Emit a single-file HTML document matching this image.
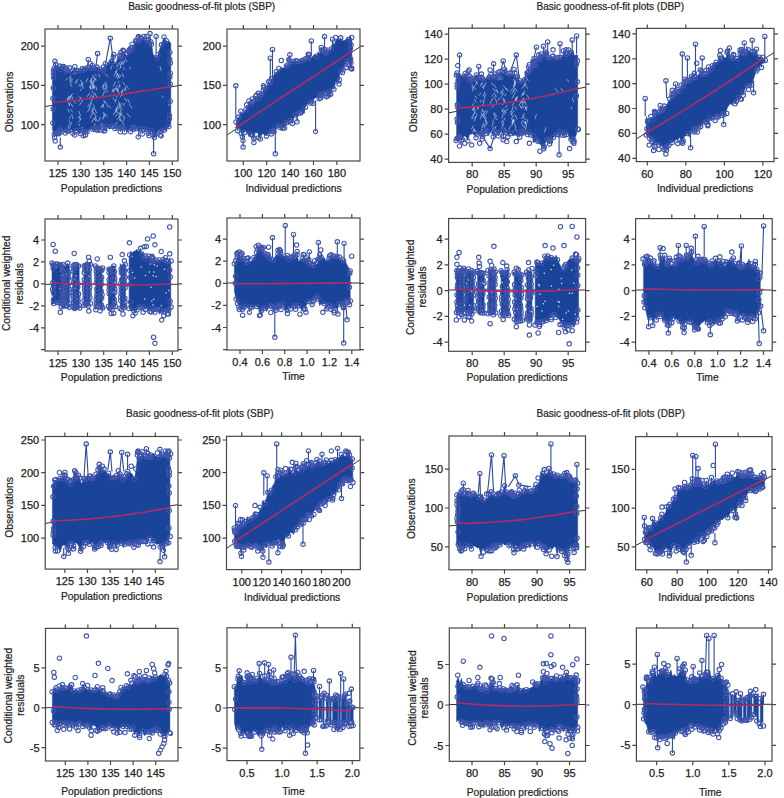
<!DOCTYPE html><html><head><meta charset="utf-8"><style>html,body{margin:0;padding:0;background:#fff;}svg{display:block}</style></head><body><svg width="784" height="798" viewBox="0 0 784 798"><style>.t{font-family:"Liberation Sans",sans-serif;font-size:11px;fill:#222;stroke:#222;stroke-width:0.25px}.a{font-family:"Liberation Sans",sans-serif;font-size:10.3px;fill:#222;stroke:#222;stroke-width:0.2px}</style><rect width="784" height="798" fill="#fff"/><clipPath id="cP1"><rect x="45" y="29" width="133" height="132"/></clipPath><g clip-path="url(#cP1)"><path d="M45,106.5L178,85.8" stroke="#333" stroke-width="1" fill="none"/><path d="M52.4,68.6 L54,67.8 L55.6,64.2 L57.2,66.2 L58.8,65.8 L60.4,69.4 L62,66.5 L63.6,66.2 L65.2,71.8 L66.7,71.5 L68.3,71.9 L69.9,70.9 L71.5,71.6 L73.1,70 L74.7,67 L76.3,71 L77.9,70.8 L79.5,70.5 L81.1,69.7 L82.7,71 L84.3,69.4 L85.9,68.7 L87.5,67.5 L89.1,68.8 L90.7,68 L92.3,65.8 L93.9,68.4 L95.5,66.7 L97.1,67 L98.7,67.3 L100.3,69.2 L101.8,67.5 L103.4,70.3 L105,63.7 L106.6,65.2 L108.2,62.9 L109.8,60.2 L111.4,61.6 L113,57.3 L114.6,63.9 L116.2,62.7 L117.8,57.1 L119.4,59.4 L121,55.3 L122.6,53.8 L124.2,51.1 L125.8,54.9 L127.4,56 L129,54 L129,129.9 L127.4,127.5 L125.8,129.5 L124.2,128.4 L122.6,126.2 L121,128.2 L119.4,128.8 L117.8,128 L116.2,126.6 L114.6,128.4 L113,125.9 L111.4,126 L109.8,129.2 L108.2,128.3 L106.6,126.2 L105,130.7 L103.4,128.8 L101.8,125.2 L100.3,130.1 L98.7,128.2 L97.1,126.8 L95.5,129.3 L93.9,132.1 L92.3,129.4 L90.7,128.7 L89.1,129.8 L87.5,131.5 L85.9,131.5 L84.3,134.3 L82.7,133.5 L81.1,129.7 L79.5,134.1 L77.9,131.7 L76.3,130.7 L74.7,130.6 L73.1,133.6 L71.5,129.2 L69.9,131.5 L68.3,131 L66.7,130.7 L65.2,133 L63.6,130.2 L62,131.7 L60.4,130.1 L58.8,130.4 L57.2,133.3 L55.6,132.9 L54,134 L52.4,129.4Z" fill="#1a449a" stroke="#1a449a" stroke-width="0.5"/><path d="M126.1,55.6 L127.7,54.8 L129.3,51.1 L130.9,50.4 L132.5,48 L134.1,44.7 L135.7,40.7 L137.3,40.8 L138.9,40.6 L140.5,40.8 L142.1,39.6 L143.6,36.5 L145.2,41.1 L146.8,40.1 L148.4,40.9 L150,36.7 L151.6,44.1 L153.2,55 L154.8,55.6 L156.4,58 L158,54.4 L159.6,49.3 L161.2,44.9 L162.8,40.6 L164.4,37.3 L166,40.7 L167.6,41.7 L169.2,41.1 L170.8,43.4 L170.8,123.5 L169.2,126.9 L167.6,127.9 L166,130.5 L164.4,129.9 L162.8,131.7 L161.2,131.5 L159.6,131.6 L158,130.6 L156.4,135.3 L154.8,134.7 L153.2,135.1 L151.6,130.9 L150,132.7 L148.4,133.1 L146.8,130 L145.2,130.1 L143.6,129 L142.1,130.8 L140.5,129.2 L138.9,132.6 L137.3,128.3 L135.7,128.9 L134.1,127.8 L132.5,127.2 L130.9,131.9 L129.3,127.7 L127.7,132.4 L126.1,128.4Z" fill="#1a449a" stroke="#1a449a" stroke-width="0.5"/><path d="M100.9,123.4l1.4,3.1M95,74.4l1.4,1.8M90,86.6l0.8,2.2M123.2,82.6l1.3,2.1M119.3,84.1l0.7,2.9M117,114.4l-1.3,2M104,92.6l-1.8,4.2M120.3,109.5l1.3,4.4M103.4,124.1l1.1,3.1M115.3,112.1l-1.9,2.7M123.2,93.3l-2.6,3.3M117.5,89.8l1.9,3.8M92.9,86l1.2,2.5M95.8,86.6l1.1,3.5M93.8,118.2l2.2,2.9M125.7,87l-1,3.5M114.6,88.5l-2.7,3.5M119.1,86.4l-1.7,3.9M116.1,99.1l-0.9,3M92.1,91l2.5,3.1M71.7,114.4l1.1,4.3M121,120.5l3,3.7M94.5,79.5l-3.1,3.8M123.5,61.1l-2.5,3.6M93.8,112.5l2.3,4.3M119.4,106.6l-0.9,2.2M93.2,105l1.3,1.6M104.8,125l-1.8,3.5M93.8,95l-1,3.8M124.6,117.5l-1.4,3.7M120.8,61.2l1.2,2.8M119.1,74.6l-1.5,4.1M93,83.2l0.8,2.5M127.7,99.1l2,4.2M71.4,95l-1.1,2.4M70.1,84l1.8,2.8M81.9,83.6l1.3,4.6M119,115.3l1.6,4.7M71.1,96.5l-1.9,4.2M104.4,116.7l-1.8,2.8M91.5,80.7l0.8,3M122.5,73.4l1,3.7M67.4,78l-1.6,2.1M116.8,85.6l-1.1,2.8M117.4,107.1l-1,3.7M93.5,77l2.6,3.2M120.6,113.1l0.8,2.3M100.3,117.3l-1.7,4M113.1,97.9l2,2.9M94.9,93.5l1.9,3.5M117.1,69.2l-0.7,2.1M121.2,91.4l1.3,3.9M89.9,108.4l-2.4,3.5M105.3,84.6l1.3,3.5M104.4,83.3l-1,2.3M120.9,75.3l-1.4,2.3M77.4,79.5l-2,2.8M111.7,66.3l-0.8,2.8M95.7,118.4l1.9,2.8M69.7,79.8l1.3,3.6M115.8,124.1l-1.2,1.7M116.5,88.8l0.9,3M71.1,77.7l1.2,2M89.9,106.4l-0.9,2.1M102.8,88.3l2.7,4.1M116.8,88.6l1.1,1.8M119.5,62.6l1.4,4.5M79.3,96.8l2.6,3.8M94.2,107.9l-2.3,4.1M116.3,108.4l0.9,2.3M92.7,97.8l-1.7,4.1M70.1,127l-1.7,3M122,103.2l-2.4,4M95.6,116.5l-0.7,2.5M91.3,83.9l-1.1,4M71,109.5l1.5,2.6M103.1,85.8l1.4,2.9M123.5,67.6l0.9,1.8M125,88.1l1.1,2.3M77.4,80.9l-1.9,2.7M71.3,122.5l-0.8,2.8M119.9,103.2l-2.6,3.5M82.2,101l-2.6,4.1M98.8,74.1l1,2.9M105.6,82.2l1.6,4.6M103,104.6l0.7,2.6M89.9,86.6l1,2.8M105.5,73.9l2.3,2.8M122.6,115.4l1.3,1.9M115.3,81.8l-2,4.6M79.4,116.3l0.8,2M116.5,108.1l-1.3,4M118.2,63.7l-0.9,3.3M71.3,104.1l1.4,2.6M117.6,73.8l1.2,3.7M69.3,124.9l-1.2,2.5M78.2,117l2,2.5M67.7,109l1.8,3.2M123,89.4l-0.7,2.4M69.2,96.3l-1.7,2.1M82.7,127.1l-1.1,2.1M119.8,113.6l0.7,2.4M73.3,100.3l2.1,2.9M124.6,60.8l-1.4,3.7M80.3,80l2.5,3.9M106.5,103.3l1.5,3.7M96,79.3l-2.9,3.7M117.1,74.3l-1.3,2.9M122.6,57.2l-1,1.8M104.4,114.8l-1.5,2.8M92.2,75l3,3.7M70.8,75.9l-1.3,2M72.6,93.8l-2.7,3.6M120.6,66.4l-0.7,2.5M81.6,88.8l-1.3,1.9M92,86l0.8,2.9M104.5,113.1l2.8,3.8M70.2,116.7l-0.8,1.9M69.3,120.9l0.7,2.2M70.2,102.4l-0.7,2.8M127,113.5l3.1,3.8M105.6,101.3l-1.5,1.9M93.4,107.3l-1.1,1.9M116.1,71.3l-2,4.3M69.4,97.4l-1.5,3.3M95.3,123.5l-0.9,2.2M112.6,89.2l1.2,3.5M124.3,103.3l-0.8,2.6M123,90.4l-1.5,2.4M92.1,110.4l1.2,3.6M117.4,121.8l-3.1,3.9M80.1,84.2l-1.4,2M103,105.8l-1.4,1.8M125.2,58.8l1.7,2.7M103.1,104.3l-2,2.5M119.9,106.4l2.2,3M93.1,96.3l-1.8,2.3M91.9,113.8l-1.5,3.9M119.3,116.7l-2.2,2.8M116.1,110.8l1.9,2.5M82.6,82.9l-2,3.8M81,118.8l-1.8,2.8M68.3,102.6l1.1,3M89.5,93.1l-2.3,3.6M115.2,88.7l-0.9,2M118.6,101.6l1.2,3.8M103.8,100.5l1.2,2.4M87.8,78.2l-1.9,3.9M94.6,108.8l2,4M103.1,112.5l1.6,3.6M94,85.8l-1.5,2.9M105.7,88.3l1.8,3.5M119.1,119.1l1.5,2M69.9,78.6l2.1,3M90.4,103l-2.5,3.1M103.7,85.6l-1.4,1.9M92.3,77.6l-2.4,4.1M78.9,111.4l1.6,4.4M91.4,94.6l-1.7,4.3M93.6,118.8l-1.5,3.1M91.6,79l-1.2,3.6M114.8,94.1l2.2,3M109.1,105.9l1.3,2.2M73.9,72.6l1.2,1.7M78.4,123.8l1.1,1.8M115.9,71.4l1.8,3.6M93.9,85.9l0.8,2M126.3,85.6l2.1,2.8M118.6,112l1.6,2.5M91.6,102.8l-1.6,3.5M119.1,81.1l-1.2,1.6M124.6,98l2,3.4M81.1,97.5l-2.2,3.7M73,97.2l-0.9,2.1M92.5,84l0.8,2.8M68.3,97.8l-1.8,3.5M170.7,51.3l1,3.1M160,66.5l1.2,4.3M161.8,95.8l1.3,1.6M129.5,104.5l2.5,3.7M169.8,104l-1.4,1.7M150.7,42l-1.1,4.3M129.6,66.9l1.1,2" stroke="#e4e8f6" stroke-width="0.9" stroke-linecap="round" fill="none" opacity="0.6"/><path d="M80.4,133.5L81.1,128.2M69.6,67.8L69.9,72.4M85.5,134.9L85.9,130M82.4,68.5L82.7,72.5M59.9,66.1L60.4,70.9M104,131L103.4,127.3M66,69.4L66.7,73M83.4,135.7L82.7,132M129.4,49.8L129,55.5M113.8,54.5L113,58.8M66.2,68L66.7,73M124.6,131.9L124.2,126.9M103.5,67L103.4,71.8M54.6,137.5L54,132.5M120.3,131.8L121,126.7M54.9,61.3L55.6,65.7M97.3,130.3L97.1,125.3M120.9,52.6L121,56.8M58.8,133.7L58.8,128.9M119.4,55.6L119.4,60.9M59.2,133L58.8,128.9M74.7,135L74.7,129.1M90.3,63.7L90.7,69.5M142.3,134L142.1,129.3M132,44.2L132.5,49.5M149,135.5L148.4,131.6M138.1,37.9L138.9,42.1M154.3,137.5L154.8,133.2M150,33.6L150,38.2M133.1,129.4L132.5,125.7M160.1,135L159.6,130.1M130.7,47.9L130.9,51.9M138.2,136.9L138.9,131.1M141,38.4L140.5,42.3M140.4,37.2L140.5,42.3M150.8,41.7L151.6,45.6M110.3,38.3L104.4,69.7M110.3,38.3L112.9,57.8M97.6,53.6L95.9,66.3M88.3,59.5L87.4,69.7M156.1,36.6L156.1,53.6M146.8,36.6L146.8,46M60.3,146.9L60.3,137.6M153.6,153.7L153.6,134.2" stroke="#2a48a6" stroke-width="1.1" fill="none"/><path d="M51.9,68a2.2,2.2 0 1,0 4.4,0a2.2,2.2 0 1,0 -4.4,0M53.5,64.4a2.2,2.2 0 1,0 4.4,0a2.2,2.2 0 1,0 -4.4,0M57.9,69.5a2.2,2.2 0 1,0 4.4,0a2.2,2.2 0 1,0 -4.4,0M60,66.8a2.2,2.2 0 1,0 4.4,0a2.2,2.2 0 1,0 -4.4,0M61.3,66.5a2.2,2.2 0 1,0 4.4,0a2.2,2.2 0 1,0 -4.4,0M64.2,71.3a2.2,2.2 0 1,0 4.4,0a2.2,2.2 0 1,0 -4.4,0M69.6,71.9a2.2,2.2 0 1,0 4.4,0a2.2,2.2 0 1,0 -4.4,0M72.6,66.7a2.2,2.2 0 1,0 4.4,0a2.2,2.2 0 1,0 -4.4,0M74.5,71.1a2.2,2.2 0 1,0 4.4,0a2.2,2.2 0 1,0 -4.4,0M76.1,70.8a2.2,2.2 0 1,0 4.4,0a2.2,2.2 0 1,0 -4.4,0M80.3,70.8a2.2,2.2 0 1,0 4.4,0a2.2,2.2 0 1,0 -4.4,0M82.2,69.3a2.2,2.2 0 1,0 4.4,0a2.2,2.2 0 1,0 -4.4,0M83.4,69a2.2,2.2 0 1,0 4.4,0a2.2,2.2 0 1,0 -4.4,0M85.3,67.5a2.2,2.2 0 1,0 4.4,0a2.2,2.2 0 1,0 -4.4,0M88.8,68a2.2,2.2 0 1,0 4.4,0a2.2,2.2 0 1,0 -4.4,0M90.1,65.5a2.2,2.2 0 1,0 4.4,0a2.2,2.2 0 1,0 -4.4,0M91.4,68.1a2.2,2.2 0 1,0 4.4,0a2.2,2.2 0 1,0 -4.4,0M94.8,67.1a2.2,2.2 0 1,0 4.4,0a2.2,2.2 0 1,0 -4.4,0M98.1,69.2a2.2,2.2 0 1,0 4.4,0a2.2,2.2 0 1,0 -4.4,0M101.3,70.2a2.2,2.2 0 1,0 4.4,0a2.2,2.2 0 1,0 -4.4,0M103.1,63.7a2.2,2.2 0 1,0 4.4,0a2.2,2.2 0 1,0 -4.4,0M109.3,61.6a2.2,2.2 0 1,0 4.4,0a2.2,2.2 0 1,0 -4.4,0M111,57.3a2.2,2.2 0 1,0 4.4,0a2.2,2.2 0 1,0 -4.4,0M112.4,64.2a2.2,2.2 0 1,0 4.4,0a2.2,2.2 0 1,0 -4.4,0M118.8,55.6a2.2,2.2 0 1,0 4.4,0a2.2,2.2 0 1,0 -4.4,0M121.7,51.1a2.2,2.2 0 1,0 4.4,0a2.2,2.2 0 1,0 -4.4,0M123.4,54.6a2.2,2.2 0 1,0 4.4,0a2.2,2.2 0 1,0 -4.4,0M52,134.1a2.2,2.2 0 1,0 4.4,0a2.2,2.2 0 1,0 -4.4,0M53.7,133.2a2.2,2.2 0 1,0 4.4,0a2.2,2.2 0 1,0 -4.4,0M55.3,133.2a2.2,2.2 0 1,0 4.4,0a2.2,2.2 0 1,0 -4.4,0M57,130.6a2.2,2.2 0 1,0 4.4,0a2.2,2.2 0 1,0 -4.4,0M58.1,130.1a2.2,2.2 0 1,0 4.4,0a2.2,2.2 0 1,0 -4.4,0M59.5,131.6a2.2,2.2 0 1,0 4.4,0a2.2,2.2 0 1,0 -4.4,0M63,133a2.2,2.2 0 1,0 4.4,0a2.2,2.2 0 1,0 -4.4,0M64.4,130.7a2.2,2.2 0 1,0 4.4,0a2.2,2.2 0 1,0 -4.4,0M65.8,131.3a2.2,2.2 0 1,0 4.4,0a2.2,2.2 0 1,0 -4.4,0M70.7,133.3a2.2,2.2 0 1,0 4.4,0a2.2,2.2 0 1,0 -4.4,0M73.8,130.6a2.2,2.2 0 1,0 4.4,0a2.2,2.2 0 1,0 -4.4,0M78.6,130a2.2,2.2 0 1,0 4.4,0a2.2,2.2 0 1,0 -4.4,0M83.3,131.6a2.2,2.2 0 1,0 4.4,0a2.2,2.2 0 1,0 -4.4,0M84.9,131.8a2.2,2.2 0 1,0 4.4,0a2.2,2.2 0 1,0 -4.4,0M90.4,129.1a2.2,2.2 0 1,0 4.4,0a2.2,2.2 0 1,0 -4.4,0M93.1,129.4a2.2,2.2 0 1,0 4.4,0a2.2,2.2 0 1,0 -4.4,0M96.2,128.2a2.2,2.2 0 1,0 4.4,0a2.2,2.2 0 1,0 -4.4,0M97.7,129.9a2.2,2.2 0 1,0 4.4,0a2.2,2.2 0 1,0 -4.4,0M99.4,125.1a2.2,2.2 0 1,0 4.4,0a2.2,2.2 0 1,0 -4.4,0M101.5,128.6a2.2,2.2 0 1,0 4.4,0a2.2,2.2 0 1,0 -4.4,0M102.6,130.6a2.2,2.2 0 1,0 4.4,0a2.2,2.2 0 1,0 -4.4,0M104.2,126a2.2,2.2 0 1,0 4.4,0a2.2,2.2 0 1,0 -4.4,0M109.2,126.2a2.2,2.2 0 1,0 4.4,0a2.2,2.2 0 1,0 -4.4,0M111.1,125.9a2.2,2.2 0 1,0 4.4,0a2.2,2.2 0 1,0 -4.4,0M112.7,128.4a2.2,2.2 0 1,0 4.4,0a2.2,2.2 0 1,0 -4.4,0M114.2,126.9a2.2,2.2 0 1,0 4.4,0a2.2,2.2 0 1,0 -4.4,0M115.9,128.1a2.2,2.2 0 1,0 4.4,0a2.2,2.2 0 1,0 -4.4,0M118.7,127.9a2.2,2.2 0 1,0 4.4,0a2.2,2.2 0 1,0 -4.4,0M120,126.4a2.2,2.2 0 1,0 4.4,0a2.2,2.2 0 1,0 -4.4,0M121.7,128.1a2.2,2.2 0 1,0 4.4,0a2.2,2.2 0 1,0 -4.4,0M78.2,133.5a2.2,2.2 0 1,0 4.4,0a2.2,2.2 0 1,0 -4.4,0M67.4,67.8a2.2,2.2 0 1,0 4.4,0a2.2,2.2 0 1,0 -4.4,0M83.3,134.9a2.2,2.2 0 1,0 4.4,0a2.2,2.2 0 1,0 -4.4,0M80.2,68.5a2.2,2.2 0 1,0 4.4,0a2.2,2.2 0 1,0 -4.4,0M57.7,66.1a2.2,2.2 0 1,0 4.4,0a2.2,2.2 0 1,0 -4.4,0M101.8,131a2.2,2.2 0 1,0 4.4,0a2.2,2.2 0 1,0 -4.4,0M63.8,69.4a2.2,2.2 0 1,0 4.4,0a2.2,2.2 0 1,0 -4.4,0M81.2,135.7a2.2,2.2 0 1,0 4.4,0a2.2,2.2 0 1,0 -4.4,0M127.2,49.8a2.2,2.2 0 1,0 4.4,0a2.2,2.2 0 1,0 -4.4,0M111.6,54.5a2.2,2.2 0 1,0 4.4,0a2.2,2.2 0 1,0 -4.4,0M64,68a2.2,2.2 0 1,0 4.4,0a2.2,2.2 0 1,0 -4.4,0M122.4,131.9a2.2,2.2 0 1,0 4.4,0a2.2,2.2 0 1,0 -4.4,0M101.3,67a2.2,2.2 0 1,0 4.4,0a2.2,2.2 0 1,0 -4.4,0M52.4,137.5a2.2,2.2 0 1,0 4.4,0a2.2,2.2 0 1,0 -4.4,0M118.1,131.8a2.2,2.2 0 1,0 4.4,0a2.2,2.2 0 1,0 -4.4,0M52.7,61.3a2.2,2.2 0 1,0 4.4,0a2.2,2.2 0 1,0 -4.4,0M95.1,130.3a2.2,2.2 0 1,0 4.4,0a2.2,2.2 0 1,0 -4.4,0M118.7,52.6a2.2,2.2 0 1,0 4.4,0a2.2,2.2 0 1,0 -4.4,0M56.6,133.7a2.2,2.2 0 1,0 4.4,0a2.2,2.2 0 1,0 -4.4,0M117.2,55.6a2.2,2.2 0 1,0 4.4,0a2.2,2.2 0 1,0 -4.4,0M57,133a2.2,2.2 0 1,0 4.4,0a2.2,2.2 0 1,0 -4.4,0M72.5,135a2.2,2.2 0 1,0 4.4,0a2.2,2.2 0 1,0 -4.4,0M88.1,63.7a2.2,2.2 0 1,0 4.4,0a2.2,2.2 0 1,0 -4.4,0M51.2,70.6a2.2,2.2 0 1,0 4.4,0a2.2,2.2 0 1,0 -4.4,0M51.2,74.1a2.2,2.2 0 1,0 4.4,0a2.2,2.2 0 1,0 -4.4,0M51.3,77.6a2.2,2.2 0 1,0 4.4,0a2.2,2.2 0 1,0 -4.4,0M51.1,88.1a2.2,2.2 0 1,0 4.4,0a2.2,2.2 0 1,0 -4.4,0M50.7,98.6a2.2,2.2 0 1,0 4.4,0a2.2,2.2 0 1,0 -4.4,0M51,109.1a2.2,2.2 0 1,0 4.4,0a2.2,2.2 0 1,0 -4.4,0M50.6,123.1a2.2,2.2 0 1,0 4.4,0a2.2,2.2 0 1,0 -4.4,0M127,51.1a2.2,2.2 0 1,0 4.4,0a2.2,2.2 0 1,0 -4.4,0M128.6,50.2a2.2,2.2 0 1,0 4.4,0a2.2,2.2 0 1,0 -4.4,0M130.3,47.9a2.2,2.2 0 1,0 4.4,0a2.2,2.2 0 1,0 -4.4,0M133.5,40.5a2.2,2.2 0 1,0 4.4,0a2.2,2.2 0 1,0 -4.4,0M134.7,41a2.2,2.2 0 1,0 4.4,0a2.2,2.2 0 1,0 -4.4,0M136.7,40.5a2.2,2.2 0 1,0 4.4,0a2.2,2.2 0 1,0 -4.4,0M141.8,36.5a2.2,2.2 0 1,0 4.4,0a2.2,2.2 0 1,0 -4.4,0M144.6,39.9a2.2,2.2 0 1,0 4.4,0a2.2,2.2 0 1,0 -4.4,0M145.9,40.7a2.2,2.2 0 1,0 4.4,0a2.2,2.2 0 1,0 -4.4,0M149.2,44.3a2.2,2.2 0 1,0 4.4,0a2.2,2.2 0 1,0 -4.4,0M154.6,57.9a2.2,2.2 0 1,0 4.4,0a2.2,2.2 0 1,0 -4.4,0M155.8,54.4a2.2,2.2 0 1,0 4.4,0a2.2,2.2 0 1,0 -4.4,0M159.3,44.8a2.2,2.2 0 1,0 4.4,0a2.2,2.2 0 1,0 -4.4,0M161.8,37a2.2,2.2 0 1,0 4.4,0a2.2,2.2 0 1,0 -4.4,0M164,40.7a2.2,2.2 0 1,0 4.4,0a2.2,2.2 0 1,0 -4.4,0M128.5,131.7a2.2,2.2 0 1,0 4.4,0a2.2,2.2 0 1,0 -4.4,0M130.6,127.2a2.2,2.2 0 1,0 4.4,0a2.2,2.2 0 1,0 -4.4,0M132.2,127.8a2.2,2.2 0 1,0 4.4,0a2.2,2.2 0 1,0 -4.4,0M133.6,128.7a2.2,2.2 0 1,0 4.4,0a2.2,2.2 0 1,0 -4.4,0M138.3,128.9a2.2,2.2 0 1,0 4.4,0a2.2,2.2 0 1,0 -4.4,0M141.5,129.2a2.2,2.2 0 1,0 4.4,0a2.2,2.2 0 1,0 -4.4,0M144.3,129.9a2.2,2.2 0 1,0 4.4,0a2.2,2.2 0 1,0 -4.4,0M146,133.3a2.2,2.2 0 1,0 4.4,0a2.2,2.2 0 1,0 -4.4,0M149.6,130.9a2.2,2.2 0 1,0 4.4,0a2.2,2.2 0 1,0 -4.4,0M150.9,135.1a2.2,2.2 0 1,0 4.4,0a2.2,2.2 0 1,0 -4.4,0M152.6,134.9a2.2,2.2 0 1,0 4.4,0a2.2,2.2 0 1,0 -4.4,0M157.7,131.7a2.2,2.2 0 1,0 4.4,0a2.2,2.2 0 1,0 -4.4,0M159.3,131.2a2.2,2.2 0 1,0 4.4,0a2.2,2.2 0 1,0 -4.4,0M162.4,130.1a2.2,2.2 0 1,0 4.4,0a2.2,2.2 0 1,0 -4.4,0M166.6,126.6a2.2,2.2 0 1,0 4.4,0a2.2,2.2 0 1,0 -4.4,0M140.1,134a2.2,2.2 0 1,0 4.4,0a2.2,2.2 0 1,0 -4.4,0M129.8,44.2a2.2,2.2 0 1,0 4.4,0a2.2,2.2 0 1,0 -4.4,0M146.8,135.5a2.2,2.2 0 1,0 4.4,0a2.2,2.2 0 1,0 -4.4,0M135.9,37.9a2.2,2.2 0 1,0 4.4,0a2.2,2.2 0 1,0 -4.4,0M152.1,137.5a2.2,2.2 0 1,0 4.4,0a2.2,2.2 0 1,0 -4.4,0M147.8,33.6a2.2,2.2 0 1,0 4.4,0a2.2,2.2 0 1,0 -4.4,0M130.9,129.4a2.2,2.2 0 1,0 4.4,0a2.2,2.2 0 1,0 -4.4,0M157.9,135a2.2,2.2 0 1,0 4.4,0a2.2,2.2 0 1,0 -4.4,0M128.5,47.9a2.2,2.2 0 1,0 4.4,0a2.2,2.2 0 1,0 -4.4,0M136,136.9a2.2,2.2 0 1,0 4.4,0a2.2,2.2 0 1,0 -4.4,0M138.8,38.4a2.2,2.2 0 1,0 4.4,0a2.2,2.2 0 1,0 -4.4,0M138.2,37.2a2.2,2.2 0 1,0 4.4,0a2.2,2.2 0 1,0 -4.4,0M148.6,41.7a2.2,2.2 0 1,0 4.4,0a2.2,2.2 0 1,0 -4.4,0M167.8,52.4a2.2,2.2 0 1,0 4.4,0a2.2,2.2 0 1,0 -4.4,0M167.6,59.4a2.2,2.2 0 1,0 4.4,0a2.2,2.2 0 1,0 -4.4,0M168.1,62.9a2.2,2.2 0 1,0 4.4,0a2.2,2.2 0 1,0 -4.4,0M168.2,73.4a2.2,2.2 0 1,0 4.4,0a2.2,2.2 0 1,0 -4.4,0M167.6,76.9a2.2,2.2 0 1,0 4.4,0a2.2,2.2 0 1,0 -4.4,0M168,83.9a2.2,2.2 0 1,0 4.4,0a2.2,2.2 0 1,0 -4.4,0M168.2,101.4a2.2,2.2 0 1,0 4.4,0a2.2,2.2 0 1,0 -4.4,0M167.3,115.4a2.2,2.2 0 1,0 4.4,0a2.2,2.2 0 1,0 -4.4,0M167.3,118.9a2.2,2.2 0 1,0 4.4,0a2.2,2.2 0 1,0 -4.4,0M108.1,38.3a2.2,2.2 0 1,0 4.4,0a2.2,2.2 0 1,0 -4.4,0M95.4,53.6a2.2,2.2 0 1,0 4.4,0a2.2,2.2 0 1,0 -4.4,0M86.1,59.5a2.2,2.2 0 1,0 4.4,0a2.2,2.2 0 1,0 -4.4,0M153.9,36.6a2.2,2.2 0 1,0 4.4,0a2.2,2.2 0 1,0 -4.4,0M144.6,36.6a2.2,2.2 0 1,0 4.4,0a2.2,2.2 0 1,0 -4.4,0M136.1,36.6a2.2,2.2 0 1,0 4.4,0a2.2,2.2 0 1,0 -4.4,0M58.1,146.9a2.2,2.2 0 1,0 4.4,0a2.2,2.2 0 1,0 -4.4,0M151.4,153.7a2.2,2.2 0 1,0 4.4,0a2.2,2.2 0 1,0 -4.4,0M53,141a2.2,2.2 0 1,0 4.4,0a2.2,2.2 0 1,0 -4.4,0M159,135.9a2.2,2.2 0 1,0 4.4,0a2.2,2.2 0 1,0 -4.4,0M120.8,50.2a2.2,2.2 0 1,0 4.4,0a2.2,2.2 0 1,0 -4.4,0M95.4,53.6a2.2,2.2 0 1,0 4.4,0a2.2,2.2 0 1,0 -4.4,0" stroke="#3f55ad" stroke-width="1.1" fill="none"/><path d="M51.8,102.8 L95.9,97.7 L129.8,93.1 L170.5,86.7" stroke="#b02c64" stroke-width="1.6" fill="none" stroke-linejoin="round"/></g><rect x="45" y="29" width="133" height="132" fill="none" stroke="#484848" stroke-width="1.2"/><path d="M58,161v4M58,29v-4M80.9,161v4M80.9,29v-4M103.7,161v4M103.7,29v-4M126.6,161v4M126.6,29v-4M149.4,161v4M149.4,29v-4M172.3,161v4M172.3,29v-4M45,124.7h-4M178,124.7h4M45,85.4h-4M178,85.4h4M45,46.1h-4M178,46.1h4" stroke="#484848" stroke-width="1.2" fill="none"/><text x="58" y="177" text-anchor="middle" class="t">125</text><text x="80.9" y="177" text-anchor="middle" class="t">130</text><text x="103.7" y="177" text-anchor="middle" class="t">135</text><text x="126.6" y="177" text-anchor="middle" class="t">140</text><text x="149.4" y="177" text-anchor="middle" class="t">145</text><text x="172.3" y="177" text-anchor="middle" class="t">150</text><text x="39" y="128.7" text-anchor="end" class="t">100</text><text x="39" y="89.4" text-anchor="end" class="t">150</text><text x="39" y="50.1" text-anchor="end" class="t">200</text><text x="111.5" y="191.5" text-anchor="middle" class="a">Population predictions</text><clipPath id="cP2"><rect x="227" y="29" width="133" height="132"/></clipPath><g clip-path="url(#cP2)"><path d="M227,135L360,46.8" stroke="#333" stroke-width="1" fill="none"/><path d="M236.1,122.3 L237.7,117.8 L239.3,116.9 L240.9,111.4 L242.5,114.1 L244.1,111.9 L245.7,109.6 L247.3,106.9 L249,100.8 L250.6,104 L252.2,102.4 L253.8,103.1 L255.4,99.7 L257,95.7 L258.6,97.6 L260.2,94.9 L261.8,94.1 L263.4,90.4 L265,85.9 L266.7,88.1 L268.3,81.7 L269.9,82.9 L271.5,78.8 L273.1,76.7 L274.7,73.5 L276.3,72 L277.9,71 L279.5,70.7 L281.1,67.3 L282.7,68.1 L284.4,67.9 L286,66.1 L287.6,65.1 L289.2,63.2 L290.8,64.1 L292.4,61.5 L294,60.6 L295.6,61 L297.2,60.9 L298.8,61.7 L300.4,61.3 L302.1,60.1 L303.7,58.7 L305.3,59 L306.9,58.4 L308.5,58 L310.1,57.4 L311.7,57.7 L313.3,55.5 L314.9,54 L316.5,56 L318.1,51.7 L319.8,53.6 L321.4,50.1 L323,53.3 L324.6,49.7 L326.2,53.6 L327.8,50.2 L329.4,50.4 L331,49.1 L332.6,42 L334.2,45 L335.8,40 L337.5,38.5 L339.1,39.9 L340.7,37.8 L342.3,40.7 L343.9,40.6 L345.5,40 L347.1,37.2 L348.7,39.4 L350.3,36.1 L351.9,39.6 L351.9,68.3 L350.3,68 L348.7,62.7 L347.1,61.8 L345.5,63.3 L343.9,66 L342.3,72.2 L340.7,71.6 L339.1,75.9 L337.5,83.9 L335.8,81.1 L334.2,89.5 L332.6,88 L331,93.9 L329.4,91.2 L327.8,94.7 L326.2,93.1 L324.6,92.8 L323,95.3 L321.4,95.9 L319.8,94.8 L318.1,96.4 L316.5,97.3 L314.9,98.2 L313.3,99.9 L311.7,102 L310.1,103.2 L308.5,103.5 L306.9,104.4 L305.3,107.3 L303.7,113.9 L302.1,111.3 L300.4,113.2 L298.8,113.2 L297.2,118.7 L295.6,115.1 L294,117.8 L292.4,123.7 L290.8,120.2 L289.2,120.8 L287.6,122.2 L286,123 L284.4,127.9 L282.7,125.7 L281.1,130.7 L279.5,127.6 L277.9,125.6 L276.3,129 L274.7,127.8 L273.1,130.1 L271.5,131.4 L269.9,132.3 L268.3,133.1 L266.7,135.9 L265,135.3 L263.4,134.1 L261.8,133.9 L260.2,139.2 L258.6,133.5 L257,132.9 L255.4,132.3 L253.8,138.3 L252.2,133.4 L250.6,134.4 L249,136.7 L247.3,133.1 L245.7,131 L244.1,132.6 L242.5,136.5 L240.9,130.8 L239.3,128.3 L237.7,128.4 L236.1,128.1Z" fill="#1a449a" stroke="#1a449a" stroke-width="0.5"/><path d="M243,140.6L242.5,135M322.3,51.1L323,54.8M320.6,98L321.4,94.4M271.2,133.9L271.5,129.9M326.3,96.8L326.2,91.6M332.6,39.2L332.6,43.5M346.3,67.4L345.5,61.8M252.5,135.6L252.2,131.9M297,121.8L297.2,117.2M264.1,87.5L263.4,91.9M241.3,133.4L240.9,129.3M252.3,98.9L252.2,103.9M321.3,47.5L321.4,51.6M289.8,60.7L289.2,64.7M349.3,65.3L348.7,61.2M255.7,96L255.4,101.2M282.9,128.3L282.7,124.2M258.7,137.7L258.6,132M319.2,98.8L319.8,93.3M339.5,79.7L339.1,74.4M258.6,137.9L258.6,132M328.9,94.2L329.4,89.7M274.1,131.7L274.7,126.3M246.6,104.8L247.3,108.4M278.9,68.4L279.5,72.2M253.9,142.5L253.8,136.8M308.2,54.2L308.5,59.5M237.5,130.7L237.7,126.9M343.2,69.8L343.9,64.5M309,54.7L308.5,59.5M258.2,93.3L258.6,99.1M309,54.9L308.5,59.5M325.6,51.5L326.2,55.1M288.8,59.8L289.2,64.7M312.9,103.4L313.3,98.4M235.8,85.8L235.8,118.9M272.5,49.4L272.5,79.9M270.3,58.2L270.3,79.9M289.8,54.8L289.8,62.9M311.3,40.9L311.3,56.1M324.5,36.6L324.5,52.8M315.6,131.6L315.6,100.2M275.3,153.7L275.3,127.4M243.1,146.9L243.1,134.2M339,84.1L339,76.5" stroke="#2a48a6" stroke-width="1.1" fill="none"/><path d="M233.7,122.1a2.2,2.2 0 1,0 4.4,0a2.2,2.2 0 1,0 -4.4,0M236.7,117.1a2.2,2.2 0 1,0 4.4,0a2.2,2.2 0 1,0 -4.4,0M238.6,111.2a2.2,2.2 0 1,0 4.4,0a2.2,2.2 0 1,0 -4.4,0M243.7,109.7a2.2,2.2 0 1,0 4.4,0a2.2,2.2 0 1,0 -4.4,0M246.7,101a2.2,2.2 0 1,0 4.4,0a2.2,2.2 0 1,0 -4.4,0M248.7,103.8a2.2,2.2 0 1,0 4.4,0a2.2,2.2 0 1,0 -4.4,0M249.9,102.1a2.2,2.2 0 1,0 4.4,0a2.2,2.2 0 1,0 -4.4,0M253.1,99.6a2.2,2.2 0 1,0 4.4,0a2.2,2.2 0 1,0 -4.4,0M256.5,97.9a2.2,2.2 0 1,0 4.4,0a2.2,2.2 0 1,0 -4.4,0M258.3,94.9a2.2,2.2 0 1,0 4.4,0a2.2,2.2 0 1,0 -4.4,0M259.6,94a2.2,2.2 0 1,0 4.4,0a2.2,2.2 0 1,0 -4.4,0M261.1,90.1a2.2,2.2 0 1,0 4.4,0a2.2,2.2 0 1,0 -4.4,0M264.2,87.9a2.2,2.2 0 1,0 4.4,0a2.2,2.2 0 1,0 -4.4,0M266.3,81.8a2.2,2.2 0 1,0 4.4,0a2.2,2.2 0 1,0 -4.4,0M267.9,82.7a2.2,2.2 0 1,0 4.4,0a2.2,2.2 0 1,0 -4.4,0M269.1,78.7a2.2,2.2 0 1,0 4.4,0a2.2,2.2 0 1,0 -4.4,0M274.1,71.8a2.2,2.2 0 1,0 4.4,0a2.2,2.2 0 1,0 -4.4,0M284.2,66.1a2.2,2.2 0 1,0 4.4,0a2.2,2.2 0 1,0 -4.4,0M285.4,64.9a2.2,2.2 0 1,0 4.4,0a2.2,2.2 0 1,0 -4.4,0M290.5,61.7a2.2,2.2 0 1,0 4.4,0a2.2,2.2 0 1,0 -4.4,0M293.6,60.8a2.2,2.2 0 1,0 4.4,0a2.2,2.2 0 1,0 -4.4,0M295.2,61.1a2.2,2.2 0 1,0 4.4,0a2.2,2.2 0 1,0 -4.4,0M298,61.5a2.2,2.2 0 1,0 4.4,0a2.2,2.2 0 1,0 -4.4,0M300.2,60.3a2.2,2.2 0 1,0 4.4,0a2.2,2.2 0 1,0 -4.4,0M303.2,58.8a2.2,2.2 0 1,0 4.4,0a2.2,2.2 0 1,0 -4.4,0M304.9,58.3a2.2,2.2 0 1,0 4.4,0a2.2,2.2 0 1,0 -4.4,0M306.6,58a2.2,2.2 0 1,0 4.4,0a2.2,2.2 0 1,0 -4.4,0M314.2,56.2a2.2,2.2 0 1,0 4.4,0a2.2,2.2 0 1,0 -4.4,0M319.3,50a2.2,2.2 0 1,0 4.4,0a2.2,2.2 0 1,0 -4.4,0M322.7,49.5a2.2,2.2 0 1,0 4.4,0a2.2,2.2 0 1,0 -4.4,0M323.8,53.7a2.2,2.2 0 1,0 4.4,0a2.2,2.2 0 1,0 -4.4,0M325.7,50.2a2.2,2.2 0 1,0 4.4,0a2.2,2.2 0 1,0 -4.4,0M329,48.9a2.2,2.2 0 1,0 4.4,0a2.2,2.2 0 1,0 -4.4,0M338.5,37.8a2.2,2.2 0 1,0 4.4,0a2.2,2.2 0 1,0 -4.4,0M346.7,39.4a2.2,2.2 0 1,0 4.4,0a2.2,2.2 0 1,0 -4.4,0M240.2,136.7a2.2,2.2 0 1,0 4.4,0a2.2,2.2 0 1,0 -4.4,0M242.3,132.6a2.2,2.2 0 1,0 4.4,0a2.2,2.2 0 1,0 -4.4,0M248.4,134.3a2.2,2.2 0 1,0 4.4,0a2.2,2.2 0 1,0 -4.4,0M251.5,138.3a2.2,2.2 0 1,0 4.4,0a2.2,2.2 0 1,0 -4.4,0M258.2,139a2.2,2.2 0 1,0 4.4,0a2.2,2.2 0 1,0 -4.4,0M264.2,136.2a2.2,2.2 0 1,0 4.4,0a2.2,2.2 0 1,0 -4.4,0M269,131.6a2.2,2.2 0 1,0 4.4,0a2.2,2.2 0 1,0 -4.4,0M270.7,130.4a2.2,2.2 0 1,0 4.4,0a2.2,2.2 0 1,0 -4.4,0M272.4,127.5a2.2,2.2 0 1,0 4.4,0a2.2,2.2 0 1,0 -4.4,0M275.9,125.6a2.2,2.2 0 1,0 4.4,0a2.2,2.2 0 1,0 -4.4,0M277.5,127.3a2.2,2.2 0 1,0 4.4,0a2.2,2.2 0 1,0 -4.4,0M280.7,125.8a2.2,2.2 0 1,0 4.4,0a2.2,2.2 0 1,0 -4.4,0M282.3,128a2.2,2.2 0 1,0 4.4,0a2.2,2.2 0 1,0 -4.4,0M283.9,122.8a2.2,2.2 0 1,0 4.4,0a2.2,2.2 0 1,0 -4.4,0M285.7,122.3a2.2,2.2 0 1,0 4.4,0a2.2,2.2 0 1,0 -4.4,0M287.4,121a2.2,2.2 0 1,0 4.4,0a2.2,2.2 0 1,0 -4.4,0M288.4,120.3a2.2,2.2 0 1,0 4.4,0a2.2,2.2 0 1,0 -4.4,0M290.2,123.4a2.2,2.2 0 1,0 4.4,0a2.2,2.2 0 1,0 -4.4,0M293.1,114.9a2.2,2.2 0 1,0 4.4,0a2.2,2.2 0 1,0 -4.4,0M296.6,113.2a2.2,2.2 0 1,0 4.4,0a2.2,2.2 0 1,0 -4.4,0M298.3,112.9a2.2,2.2 0 1,0 4.4,0a2.2,2.2 0 1,0 -4.4,0M300.2,111.3a2.2,2.2 0 1,0 4.4,0a2.2,2.2 0 1,0 -4.4,0M303.3,107.2a2.2,2.2 0 1,0 4.4,0a2.2,2.2 0 1,0 -4.4,0M308.1,103.1a2.2,2.2 0 1,0 4.4,0a2.2,2.2 0 1,0 -4.4,0M309.2,101.8a2.2,2.2 0 1,0 4.4,0a2.2,2.2 0 1,0 -4.4,0M317.8,94.6a2.2,2.2 0 1,0 4.4,0a2.2,2.2 0 1,0 -4.4,0M318.9,95.8a2.2,2.2 0 1,0 4.4,0a2.2,2.2 0 1,0 -4.4,0M322.7,92.9a2.2,2.2 0 1,0 4.4,0a2.2,2.2 0 1,0 -4.4,0M324.2,93a2.2,2.2 0 1,0 4.4,0a2.2,2.2 0 1,0 -4.4,0M327.3,91.2a2.2,2.2 0 1,0 4.4,0a2.2,2.2 0 1,0 -4.4,0M328.5,94.2a2.2,2.2 0 1,0 4.4,0a2.2,2.2 0 1,0 -4.4,0M331.7,89.3a2.2,2.2 0 1,0 4.4,0a2.2,2.2 0 1,0 -4.4,0M338.1,71.4a2.2,2.2 0 1,0 4.4,0a2.2,2.2 0 1,0 -4.4,0M340.3,72.5a2.2,2.2 0 1,0 4.4,0a2.2,2.2 0 1,0 -4.4,0M344.7,61.6a2.2,2.2 0 1,0 4.4,0a2.2,2.2 0 1,0 -4.4,0M348.5,68.2a2.2,2.2 0 1,0 4.4,0a2.2,2.2 0 1,0 -4.4,0M349.5,68.2a2.2,2.2 0 1,0 4.4,0a2.2,2.2 0 1,0 -4.4,0M240.8,140.6a2.2,2.2 0 1,0 4.4,0a2.2,2.2 0 1,0 -4.4,0M320.1,51.1a2.2,2.2 0 1,0 4.4,0a2.2,2.2 0 1,0 -4.4,0M318.4,98a2.2,2.2 0 1,0 4.4,0a2.2,2.2 0 1,0 -4.4,0M269,133.9a2.2,2.2 0 1,0 4.4,0a2.2,2.2 0 1,0 -4.4,0M324.1,96.8a2.2,2.2 0 1,0 4.4,0a2.2,2.2 0 1,0 -4.4,0M330.4,39.2a2.2,2.2 0 1,0 4.4,0a2.2,2.2 0 1,0 -4.4,0M344.1,67.4a2.2,2.2 0 1,0 4.4,0a2.2,2.2 0 1,0 -4.4,0M250.3,135.6a2.2,2.2 0 1,0 4.4,0a2.2,2.2 0 1,0 -4.4,0M294.8,121.8a2.2,2.2 0 1,0 4.4,0a2.2,2.2 0 1,0 -4.4,0M261.9,87.5a2.2,2.2 0 1,0 4.4,0a2.2,2.2 0 1,0 -4.4,0M239.1,133.4a2.2,2.2 0 1,0 4.4,0a2.2,2.2 0 1,0 -4.4,0M250.1,98.9a2.2,2.2 0 1,0 4.4,0a2.2,2.2 0 1,0 -4.4,0M319.1,47.5a2.2,2.2 0 1,0 4.4,0a2.2,2.2 0 1,0 -4.4,0M287.6,60.7a2.2,2.2 0 1,0 4.4,0a2.2,2.2 0 1,0 -4.4,0M347.1,65.3a2.2,2.2 0 1,0 4.4,0a2.2,2.2 0 1,0 -4.4,0M253.5,96a2.2,2.2 0 1,0 4.4,0a2.2,2.2 0 1,0 -4.4,0M280.7,128.3a2.2,2.2 0 1,0 4.4,0a2.2,2.2 0 1,0 -4.4,0M256.5,137.7a2.2,2.2 0 1,0 4.4,0a2.2,2.2 0 1,0 -4.4,0M317,98.8a2.2,2.2 0 1,0 4.4,0a2.2,2.2 0 1,0 -4.4,0M337.3,79.7a2.2,2.2 0 1,0 4.4,0a2.2,2.2 0 1,0 -4.4,0M256.4,137.9a2.2,2.2 0 1,0 4.4,0a2.2,2.2 0 1,0 -4.4,0M326.7,94.2a2.2,2.2 0 1,0 4.4,0a2.2,2.2 0 1,0 -4.4,0M271.9,131.7a2.2,2.2 0 1,0 4.4,0a2.2,2.2 0 1,0 -4.4,0M244.4,104.8a2.2,2.2 0 1,0 4.4,0a2.2,2.2 0 1,0 -4.4,0M276.7,68.4a2.2,2.2 0 1,0 4.4,0a2.2,2.2 0 1,0 -4.4,0M251.7,142.5a2.2,2.2 0 1,0 4.4,0a2.2,2.2 0 1,0 -4.4,0M306,54.2a2.2,2.2 0 1,0 4.4,0a2.2,2.2 0 1,0 -4.4,0M235.3,130.7a2.2,2.2 0 1,0 4.4,0a2.2,2.2 0 1,0 -4.4,0M341,69.8a2.2,2.2 0 1,0 4.4,0a2.2,2.2 0 1,0 -4.4,0M306.8,54.7a2.2,2.2 0 1,0 4.4,0a2.2,2.2 0 1,0 -4.4,0M256,93.3a2.2,2.2 0 1,0 4.4,0a2.2,2.2 0 1,0 -4.4,0M306.8,54.9a2.2,2.2 0 1,0 4.4,0a2.2,2.2 0 1,0 -4.4,0M323.4,51.5a2.2,2.2 0 1,0 4.4,0a2.2,2.2 0 1,0 -4.4,0M286.6,59.8a2.2,2.2 0 1,0 4.4,0a2.2,2.2 0 1,0 -4.4,0M310.7,103.4a2.2,2.2 0 1,0 4.4,0a2.2,2.2 0 1,0 -4.4,0M348.9,45.1a2.2,2.2 0 1,0 4.4,0a2.2,2.2 0 1,0 -4.4,0M348.2,48.6a2.2,2.2 0 1,0 4.4,0a2.2,2.2 0 1,0 -4.4,0M348.4,59.1a2.2,2.2 0 1,0 4.4,0a2.2,2.2 0 1,0 -4.4,0M348.7,62.6a2.2,2.2 0 1,0 4.4,0a2.2,2.2 0 1,0 -4.4,0M233.6,85.8a2.2,2.2 0 1,0 4.4,0a2.2,2.2 0 1,0 -4.4,0M270.3,49.4a2.2,2.2 0 1,0 4.4,0a2.2,2.2 0 1,0 -4.4,0M268.1,58.2a2.2,2.2 0 1,0 4.4,0a2.2,2.2 0 1,0 -4.4,0M287.6,54.8a2.2,2.2 0 1,0 4.4,0a2.2,2.2 0 1,0 -4.4,0M309.1,40.9a2.2,2.2 0 1,0 4.4,0a2.2,2.2 0 1,0 -4.4,0M322.3,36.6a2.2,2.2 0 1,0 4.4,0a2.2,2.2 0 1,0 -4.4,0M333.4,37.5a2.2,2.2 0 1,0 4.4,0a2.2,2.2 0 1,0 -4.4,0M349.5,37.5a2.2,2.2 0 1,0 4.4,0a2.2,2.2 0 1,0 -4.4,0M313.4,131.6a2.2,2.2 0 1,0 4.4,0a2.2,2.2 0 1,0 -4.4,0M273.1,153.7a2.2,2.2 0 1,0 4.4,0a2.2,2.2 0 1,0 -4.4,0M240.9,146.9a2.2,2.2 0 1,0 4.4,0a2.2,2.2 0 1,0 -4.4,0M336.8,84.1a2.2,2.2 0 1,0 4.4,0a2.2,2.2 0 1,0 -4.4,0M325.7,96a2.2,2.2 0 1,0 4.4,0a2.2,2.2 0 1,0 -4.4,0M349.5,68.9a2.2,2.2 0 1,0 4.4,0a2.2,2.2 0 1,0 -4.4,0M254.1,95.2a2.2,2.2 0 1,0 4.4,0a2.2,2.2 0 1,0 -4.4,0M261.3,85.8a2.2,2.2 0 1,0 4.4,0a2.2,2.2 0 1,0 -4.4,0M279.1,60.4a2.2,2.2 0 1,0 4.4,0a2.2,2.2 0 1,0 -4.4,0" stroke="#3f55ad" stroke-width="1.1" fill="none"/><path d="M235.5,128.2 L240.4,125 L245.2,121.7 L250.1,118.4 L255,115.2 L259.9,111.9 L264.7,108.7 L269.6,105.4 L274.5,102.2 L279.4,98.9 L284.3,95.7 L289.1,92.5 L294,89.3 L298.9,86.1 L303.8,82.9 L308.6,79.6 L313.5,76.5 L318.4,73.3 L323.3,70.1 L328.1,66.9 L333,63.7 L337.9,60.5 L342.8,57.4 L347.7,54.2 L352.5,51.1" stroke="#b02c64" stroke-width="1.6" fill="none" stroke-linejoin="round"/></g><rect x="227" y="29" width="133" height="132" fill="none" stroke="#484848" stroke-width="1.2"/><path d="M243.3,161v4M243.3,29v-4M266.7,161v4M266.7,29v-4M290.1,161v4M290.1,29v-4M313.5,161v4M313.5,29v-4M336.9,161v4M336.9,29v-4M227,124.7h-4M360,124.7h4M227,85.4h-4M360,85.4h4M227,46.1h-4M360,46.1h4" stroke="#484848" stroke-width="1.2" fill="none"/><text x="243.3" y="177" text-anchor="middle" class="t">100</text><text x="266.7" y="177" text-anchor="middle" class="t">120</text><text x="290.1" y="177" text-anchor="middle" class="t">140</text><text x="313.5" y="177" text-anchor="middle" class="t">160</text><text x="336.9" y="177" text-anchor="middle" class="t">180</text><text x="221" y="128.7" text-anchor="end" class="t">100</text><text x="221" y="89.4" text-anchor="end" class="t">150</text><text x="221" y="50.1" text-anchor="end" class="t">200</text><text x="293.5" y="191.5" text-anchor="middle" class="a">Individual predictions</text><clipPath id="cP3"><rect x="448.6" y="28.2" width="137.2" height="134.2"/></clipPath><g clip-path="url(#cP3)"><path d="M449,112.8L586,87.1" stroke="#333" stroke-width="1" fill="none"/><path d="M456.6,75.1 L458.2,75.6 L459.8,73.9 L461.4,75.6 L463,75.7 L464.6,76.4 L466.3,76.8 L467.9,75.7 L469.5,80.1 L471.1,80.6 L472.7,78.2 L474.3,78.2 L475.9,74.7 L477.5,74.9 L479.1,77.7 L480.7,77.5 L482.4,78.1 L484,80.2 L485.6,77.9 L487.2,78.3 L488.8,77.2 L490.4,76.7 L492,76.4 L493.6,78.3 L495.2,77.8 L496.8,76 L498.5,76 L500.1,71.5 L501.7,72 L503.3,72.9 L504.9,71.6 L506.5,75.1 L508.1,74.2 L509.7,73 L511.3,75.4 L513,74.7 L514.6,73.5 L516.2,77.1 L517.8,76.8 L519.4,80.3 L521,82.5 L522.6,81.5 L524.2,79.5 L525.8,71.6 L527.4,72.7 L529.1,71.3 L530.7,68.7 L532.3,64.7 L533.9,65.5 L535.5,65.9 L535.5,138.9 L533.9,136.3 L532.3,136 L530.7,134.8 L529.1,132.7 L527.4,134.3 L525.8,131.4 L524.2,132.1 L522.6,131 L521,131.3 L519.4,132.9 L517.8,138.1 L516.2,134.8 L514.6,135.5 L513,135.4 L511.3,133.7 L509.7,134 L508.1,136.7 L506.5,132.7 L504.9,132.8 L503.3,136 L501.7,130.6 L500.1,133.2 L498.5,133.7 L496.8,132.6 L495.2,131.1 L493.6,136.5 L492,133.6 L490.4,131.8 L488.8,135.8 L487.2,131.6 L485.6,129.7 L484,131 L482.4,134.4 L480.7,133.6 L479.1,133.4 L477.5,134.6 L475.9,133.5 L474.3,135.4 L472.7,133.7 L471.1,134.1 L469.5,134.6 L467.9,140.6 L466.3,137.2 L464.6,136.1 L463,136.7 L461.4,138.4 L459.8,136.6 L458.2,137.8 L456.6,138.3Z" fill="#1a449a" stroke="#1a449a" stroke-width="0.5"/><path d="M532.9,63.7 L534.5,61.1 L536.1,59.5 L537.7,58.9 L539.3,59.1 L540.9,56.7 L542.5,54.8 L544.1,54.5 L545.7,54.1 L547.3,56.7 L548.9,57.6 L550.5,57.2 L552.1,56.6 L553.7,58.8 L555.3,58.2 L556.9,58.3 L558.5,57.6 L560.1,57.6 L561.7,57.1 L563.3,54.5 L564.9,51.8 L566.5,54.4 L568.1,53.1 L569.7,55.1 L571.3,52 L572.9,51.8 L574.5,55.4 L576.1,55 L577.7,55.3 L577.7,129.3 L576.1,135.2 L574.5,138.4 L572.9,139.2 L571.3,139.2 L569.7,139.8 L568.1,133.3 L566.5,134.7 L564.9,132 L563.3,133.8 L561.7,134.9 L560.1,132.1 L558.5,134.8 L556.9,134.2 L555.3,135.3 L553.7,137.3 L552.1,140.1 L550.5,139.8 L548.9,140.3 L547.3,139.6 L545.7,142.3 L544.1,146.2 L542.5,145.4 L540.9,145.2 L539.3,143.7 L537.7,141.1 L536.1,140.1 L534.5,142.2 L532.9,142.2Z" fill="#1a449a" stroke="#1a449a" stroke-width="0.5"/><path d="M516.6,98l-1.8,2.8M477.1,106.4l0.8,3.1M484.4,114.7l1.8,4M523.1,103.7l-1.5,4.4M525.2,122.6l1.4,4.2M525.2,106.4l1.5,4.1M523.8,92.7l-2.5,3.7M523.2,93l-0.8,2.2M475.7,112.8l1.5,2.4M483.4,123l-1.3,4.6M503.2,108.8l-1.1,2.7M495.3,96.1l-2.8,3.5M526.2,76.7l1.1,2.9M513.8,115.5l-1.4,2.2M502.6,77.6l-2,2.3M515.5,106.8l0.7,2.8M506.5,88.4l1.4,2.5M511.5,118.1l0.9,2.4M482.6,110.1l-0.9,2.1M483.2,113.3l0.9,2M503.6,85.8l2.5,3.6M527.4,106.7l-1.3,1.9M513.6,79.4l1.9,3.2M484.2,101.5l-1.8,4.1M524.3,113.2l-1.3,1.8M501.9,91.2l-1.7,2.2M474.8,108.1l-0.9,2.8M515.1,80.1l-1,2.6M514.3,90.1l-2.8,3.7M474.9,85.5l-1.1,1.8M484.9,120.1l2.1,4.5M514.6,82.6l-1.1,3.6M514.3,119.9l-2.1,2.9M475.3,110.4l-1.7,4.7M525.2,82.2l-1.1,4.1M504.8,118.1l-0.7,2M513.6,96.3l-1.5,1.9M523.6,98.3l-2.8,4M505.6,93.8l-0.7,2.1M525,81.3l0.9,3M526.8,119.3l1.1,3.3M524.1,126.1l2.8,3.8M522.9,120.5l2.4,3.6M513,106.8l-1.3,4.6M494.1,93.3l-2.3,3M510.6,125.9l-1.7,3.7M504.2,127.8l2.8,3.5M481.4,113.5l2.4,3.8M503.6,103.4l-1.2,1.6M503.4,99.7l1.2,3.6M514.4,123.8l1.5,3.6M495.7,89.3l2.4,4M485.9,82.9l-1.8,4.1M495.9,126.7l-1.2,2.8M517.3,96.6l-1.8,2.4M480.9,100.2l-0.6,1.9M480.9,93.1l-2,2.4M525.4,121.5l1.1,3.4M493.7,113.6l1.3,3.1M523.9,115.5l-2.5,3.2M500.8,75.7l-2.2,4.1M503.6,93.2l-1.9,3M520.4,106l0.6,1.9M515.1,127.8l1.1,3.3M513.1,119.4l-1.2,2.6M502.4,110.9l2,3.9M522.1,98.9l2.6,3.7M516.9,98.5l-0.8,2.3M521.9,124.2l2.1,3.1M493.7,131.1l1.6,2M504,99.9l0.9,2.1M495.5,98.9l1.4,4.7M510.8,111.5l1.2,4.2M495.1,116.9l1.9,2.8M491.9,99.6l-1.6,4.1M475.7,80.3l1.8,4.1M494,84.8l2.1,3M525.8,80.8l-1.8,2.3M524.4,100.7l1.9,4.1M502.6,120.1l-1.6,2.6M481.9,114.5l-1.6,4.4M524.1,85.8l-1.9,2.6M524.7,90.8l-1.3,4M526.3,121.2l-1.7,2.2M473.8,114.1l-2.4,4M521.2,101.9l-2.6,3.9M514.6,88.6l-1.1,2.4M512.8,130.8l1.1,4.3M517,97.3l-0.9,1.8M515.5,81.7l-0.9,3.2M504.5,110l1.4,2.7M484.7,92l-1.6,4.1M513.6,120.2l0.9,1.9M473.9,129.6l-1.4,2.5M500.2,97.2l-2.3,3.3M516.8,97.4l-2.5,4.3M515.3,115l1.4,3.9M515.4,88.6l1.8,2.7M473.8,103.4l-1.5,2.1M481.8,109l2.3,3.4M476.4,116l-0.9,2M523.1,116l1.9,3.4M525.8,128l-1.6,2.4M526.6,94.6l2.6,3.9M494.9,118.5l-2.1,2.7M494.7,104.2l-2.6,3.6M512.1,89.3l-1.7,2.2M483.1,115.9l2.7,4M522.1,121.2l-0.7,2.3M526.6,107.2l-1.8,2.6M473.5,125.9l-2.1,2.9M494.2,112.6l2.6,3.9M485.1,97.7l-2.3,4M484,125.5l1.9,2.8M513.9,103.1l-1.7,2.7M502.9,114.5l-1,3.3M503,89.1l-1.2,4.8M513.6,120.7l-1.6,4.2M484.1,85.2l-1.5,2.2M473.5,128l1.4,3.7M482,129l-1.4,4M514.4,85.7l-1.6,3.1M503.6,123.9l-1.7,3.3M513.9,111l-2.4,3.7M523.1,101.5l-0.5,2M513.6,122l-1.8,2.8M525,84.3l2.6,4.2M475.8,116.5l-1.3,4.4M493.1,88.4l2.1,3.2M476.8,82l-1,1.9M507.5,108.9l-1.6,2.1M473.6,117.3l-1.2,1.7M503.7,110.6l1.5,2.4M493.5,122.2l-1.8,4.2M474.5,129.4l2.2,3.3M495,94.1l1.3,2.4M494.5,126.6l-1.8,2.4M477.6,106.5l1,2.1M492.6,129.9l-1.3,2.1M515.6,91.9l-2.4,4.1M483.1,82.7l-1.8,2.1M487.7,110.8l-2,3.3M524.1,98.5l-2.6,4.1M485.7,110.3l-2,3.3M515.6,82.9l-1.2,4M474.7,87.7l1.2,2M513.5,119.7l-0.9,2.4M502.2,97.4l2.6,3.1M475.2,96l1.5,2.1M482.5,86.6l1.4,2.2M491.7,83.1l1.2,1.9M481.6,83.1l-1.4,3.1M526.5,78.4l1.7,2.3M485.2,124.1l-0.9,2.9M524.5,106.3l-1.4,1.8M485.6,94l-1.1,3M486.2,120.6l1,2.5M472,84.6l1.4,3.7M472,87.6l1.1,3.5M474.3,106l-2,4.3M474.5,99.4l1.6,3M474.4,107l-1.7,3M506.8,105.4l-1.3,2.4M496.8,89.8l1,2M503.7,121.2l-1.3,3.7M571.2,106.8l0.7,2.2M545.9,127.6l-1.3,4.6M567.5,79.7l1,2M536.3,114.5l-1.1,4M572.4,98.1l1.3,3.9M561.1,88.4l1.5,2.3M554.8,88.1l3,3.6" stroke="#e4e8f6" stroke-width="0.9" stroke-linecap="round" fill="none" opacity="0.6"/><path d="M456.1,140.5L456.6,136.8M528.7,67L529.1,72.8M482.6,136.6L482.4,132.9M465.1,73.4L464.6,77.9M519.7,137.2L519.4,131.4M494.9,74L495.2,79.3M498.1,72.5L498.5,77.5M481.4,74.1L480.7,79M476,137.7L475.9,132M462.3,139.6L463,135.2M533.8,62.5L533.9,67M522.8,133.1L522.6,129.5M503.2,139.7L503.3,134.5M504.7,69.4L504.9,73.1M469.7,76L469.5,81.6M533,61.4L532.3,66.2M486,133.6L485.6,128.2M468,71.6L467.9,77.2M457,72.9L456.6,76.6M514.1,69.5L514.6,75M490.7,74.6L490.4,78.2M498.3,136L498.5,132.2M461.2,140.7L461.4,136.9M568.6,50L568.1,54.6M563.4,50.9L563.3,56M538.8,54.8L539.3,60.6M574.1,141L574.5,136.9M553,56L553.7,60.3M543.8,148.7L544.1,144.7M564.4,135.2L564.9,130.5M541.1,54L540.9,58.2M545.6,52L545.7,55.6M549.6,144L548.9,138.8M572.9,142.1L572.9,137.7M546.6,53.2L547.3,58.2M534,58.5L534.5,62.6M459.5,55.1L459.5,71.7M478.7,66.4L478.7,76.9M493.6,63.8L493.6,75.2M503.2,60.9L499.7,75.2M503.2,60.9L506.7,73.4M516.3,55.1L510.2,71.7M516.3,55.1L518.9,75.2M536.4,47.2L532.9,62.9M543.4,46.3L543.4,56M547.7,42L547.7,54.2M560,43.7L560,54.2M572.2,39.9L572.2,52.5M576.6,35.9L576.6,54.2M490.1,148.6L483.9,138.1M490.1,148.6L494.4,136.3M559.1,154.7L559.1,125.9" stroke="#2a48a6" stroke-width="1.1" fill="none"/><path d="M454.2,75.2a2.2,2.2 0 1,0 4.4,0a2.2,2.2 0 1,0 -4.4,0M456.1,75.3a2.2,2.2 0 1,0 4.4,0a2.2,2.2 0 1,0 -4.4,0M462.2,76.3a2.2,2.2 0 1,0 4.4,0a2.2,2.2 0 1,0 -4.4,0M465.8,75.9a2.2,2.2 0 1,0 4.4,0a2.2,2.2 0 1,0 -4.4,0M466.9,80.2a2.2,2.2 0 1,0 4.4,0a2.2,2.2 0 1,0 -4.4,0M468.8,80.5a2.2,2.2 0 1,0 4.4,0a2.2,2.2 0 1,0 -4.4,0M470.3,78.4a2.2,2.2 0 1,0 4.4,0a2.2,2.2 0 1,0 -4.4,0M472.5,78.4a2.2,2.2 0 1,0 4.4,0a2.2,2.2 0 1,0 -4.4,0M474.1,74.9a2.2,2.2 0 1,0 4.4,0a2.2,2.2 0 1,0 -4.4,0M476.8,77.4a2.2,2.2 0 1,0 4.4,0a2.2,2.2 0 1,0 -4.4,0M478.8,77.4a2.2,2.2 0 1,0 4.4,0a2.2,2.2 0 1,0 -4.4,0M480.2,78.4a2.2,2.2 0 1,0 4.4,0a2.2,2.2 0 1,0 -4.4,0M481.4,80.4a2.2,2.2 0 1,0 4.4,0a2.2,2.2 0 1,0 -4.4,0M486.8,77.2a2.2,2.2 0 1,0 4.4,0a2.2,2.2 0 1,0 -4.4,0M487.9,77a2.2,2.2 0 1,0 4.4,0a2.2,2.2 0 1,0 -4.4,0M493.4,77.6a2.2,2.2 0 1,0 4.4,0a2.2,2.2 0 1,0 -4.4,0M494.7,75.9a2.2,2.2 0 1,0 4.4,0a2.2,2.2 0 1,0 -4.4,0M497.8,71.5a2.2,2.2 0 1,0 4.4,0a2.2,2.2 0 1,0 -4.4,0M502.6,71.8a2.2,2.2 0 1,0 4.4,0a2.2,2.2 0 1,0 -4.4,0M506,73.9a2.2,2.2 0 1,0 4.4,0a2.2,2.2 0 1,0 -4.4,0M507.6,73.1a2.2,2.2 0 1,0 4.4,0a2.2,2.2 0 1,0 -4.4,0M512.7,73.2a2.2,2.2 0 1,0 4.4,0a2.2,2.2 0 1,0 -4.4,0M514.3,77.3a2.2,2.2 0 1,0 4.4,0a2.2,2.2 0 1,0 -4.4,0M515.2,76.7a2.2,2.2 0 1,0 4.4,0a2.2,2.2 0 1,0 -4.4,0M517.3,80.4a2.2,2.2 0 1,0 4.4,0a2.2,2.2 0 1,0 -4.4,0M520.7,81.7a2.2,2.2 0 1,0 4.4,0a2.2,2.2 0 1,0 -4.4,0M522.4,79.7a2.2,2.2 0 1,0 4.4,0a2.2,2.2 0 1,0 -4.4,0M524.9,72.8a2.2,2.2 0 1,0 4.4,0a2.2,2.2 0 1,0 -4.4,0M526.7,71.6a2.2,2.2 0 1,0 4.4,0a2.2,2.2 0 1,0 -4.4,0M528.1,68.9a2.2,2.2 0 1,0 4.4,0a2.2,2.2 0 1,0 -4.4,0M531.5,65.2a2.2,2.2 0 1,0 4.4,0a2.2,2.2 0 1,0 -4.4,0M533.1,65.8a2.2,2.2 0 1,0 4.4,0a2.2,2.2 0 1,0 -4.4,0M454.8,138.5a2.2,2.2 0 1,0 4.4,0a2.2,2.2 0 1,0 -4.4,0M455.9,137.8a2.2,2.2 0 1,0 4.4,0a2.2,2.2 0 1,0 -4.4,0M457.3,136.8a2.2,2.2 0 1,0 4.4,0a2.2,2.2 0 1,0 -4.4,0M465.7,140.9a2.2,2.2 0 1,0 4.4,0a2.2,2.2 0 1,0 -4.4,0M475.4,134.3a2.2,2.2 0 1,0 4.4,0a2.2,2.2 0 1,0 -4.4,0M478.6,133.7a2.2,2.2 0 1,0 4.4,0a2.2,2.2 0 1,0 -4.4,0M480.3,134.3a2.2,2.2 0 1,0 4.4,0a2.2,2.2 0 1,0 -4.4,0M483.5,129.7a2.2,2.2 0 1,0 4.4,0a2.2,2.2 0 1,0 -4.4,0M485,131.5a2.2,2.2 0 1,0 4.4,0a2.2,2.2 0 1,0 -4.4,0M491.1,136.8a2.2,2.2 0 1,0 4.4,0a2.2,2.2 0 1,0 -4.4,0M493.2,131.3a2.2,2.2 0 1,0 4.4,0a2.2,2.2 0 1,0 -4.4,0M494.9,132.7a2.2,2.2 0 1,0 4.4,0a2.2,2.2 0 1,0 -4.4,0M499.8,130.8a2.2,2.2 0 1,0 4.4,0a2.2,2.2 0 1,0 -4.4,0M501.2,136a2.2,2.2 0 1,0 4.4,0a2.2,2.2 0 1,0 -4.4,0M504.5,132.7a2.2,2.2 0 1,0 4.4,0a2.2,2.2 0 1,0 -4.4,0M505.7,136.6a2.2,2.2 0 1,0 4.4,0a2.2,2.2 0 1,0 -4.4,0M509.3,133.6a2.2,2.2 0 1,0 4.4,0a2.2,2.2 0 1,0 -4.4,0M517.1,133.2a2.2,2.2 0 1,0 4.4,0a2.2,2.2 0 1,0 -4.4,0M518.7,131.4a2.2,2.2 0 1,0 4.4,0a2.2,2.2 0 1,0 -4.4,0M520.3,131.1a2.2,2.2 0 1,0 4.4,0a2.2,2.2 0 1,0 -4.4,0M521.9,132.2a2.2,2.2 0 1,0 4.4,0a2.2,2.2 0 1,0 -4.4,0M523.5,131.4a2.2,2.2 0 1,0 4.4,0a2.2,2.2 0 1,0 -4.4,0M525.4,134.5a2.2,2.2 0 1,0 4.4,0a2.2,2.2 0 1,0 -4.4,0M526.9,132.4a2.2,2.2 0 1,0 4.4,0a2.2,2.2 0 1,0 -4.4,0M528.5,134.9a2.2,2.2 0 1,0 4.4,0a2.2,2.2 0 1,0 -4.4,0M531.9,136.1a2.2,2.2 0 1,0 4.4,0a2.2,2.2 0 1,0 -4.4,0M453.9,140.5a2.2,2.2 0 1,0 4.4,0a2.2,2.2 0 1,0 -4.4,0M526.5,67a2.2,2.2 0 1,0 4.4,0a2.2,2.2 0 1,0 -4.4,0M480.4,136.6a2.2,2.2 0 1,0 4.4,0a2.2,2.2 0 1,0 -4.4,0M462.9,73.4a2.2,2.2 0 1,0 4.4,0a2.2,2.2 0 1,0 -4.4,0M517.5,137.2a2.2,2.2 0 1,0 4.4,0a2.2,2.2 0 1,0 -4.4,0M492.7,74a2.2,2.2 0 1,0 4.4,0a2.2,2.2 0 1,0 -4.4,0M495.9,72.5a2.2,2.2 0 1,0 4.4,0a2.2,2.2 0 1,0 -4.4,0M479.2,74.1a2.2,2.2 0 1,0 4.4,0a2.2,2.2 0 1,0 -4.4,0M473.8,137.7a2.2,2.2 0 1,0 4.4,0a2.2,2.2 0 1,0 -4.4,0M460.1,139.6a2.2,2.2 0 1,0 4.4,0a2.2,2.2 0 1,0 -4.4,0M531.6,62.5a2.2,2.2 0 1,0 4.4,0a2.2,2.2 0 1,0 -4.4,0M520.6,133.1a2.2,2.2 0 1,0 4.4,0a2.2,2.2 0 1,0 -4.4,0M501,139.7a2.2,2.2 0 1,0 4.4,0a2.2,2.2 0 1,0 -4.4,0M502.5,69.4a2.2,2.2 0 1,0 4.4,0a2.2,2.2 0 1,0 -4.4,0M467.5,76a2.2,2.2 0 1,0 4.4,0a2.2,2.2 0 1,0 -4.4,0M530.8,61.4a2.2,2.2 0 1,0 4.4,0a2.2,2.2 0 1,0 -4.4,0M483.8,133.6a2.2,2.2 0 1,0 4.4,0a2.2,2.2 0 1,0 -4.4,0M465.8,71.6a2.2,2.2 0 1,0 4.4,0a2.2,2.2 0 1,0 -4.4,0M454.8,72.9a2.2,2.2 0 1,0 4.4,0a2.2,2.2 0 1,0 -4.4,0M511.9,69.5a2.2,2.2 0 1,0 4.4,0a2.2,2.2 0 1,0 -4.4,0M488.5,74.6a2.2,2.2 0 1,0 4.4,0a2.2,2.2 0 1,0 -4.4,0M496.1,136a2.2,2.2 0 1,0 4.4,0a2.2,2.2 0 1,0 -4.4,0M459,140.7a2.2,2.2 0 1,0 4.4,0a2.2,2.2 0 1,0 -4.4,0M455.9,80.6a2.2,2.2 0 1,0 4.4,0a2.2,2.2 0 1,0 -4.4,0M455,84.1a2.2,2.2 0 1,0 4.4,0a2.2,2.2 0 1,0 -4.4,0M455,87.6a2.2,2.2 0 1,0 4.4,0a2.2,2.2 0 1,0 -4.4,0M455.1,105.1a2.2,2.2 0 1,0 4.4,0a2.2,2.2 0 1,0 -4.4,0M454.9,119.1a2.2,2.2 0 1,0 4.4,0a2.2,2.2 0 1,0 -4.4,0M455.3,122.6a2.2,2.2 0 1,0 4.4,0a2.2,2.2 0 1,0 -4.4,0M530.8,63.6a2.2,2.2 0 1,0 4.4,0a2.2,2.2 0 1,0 -4.4,0M532.2,61.1a2.2,2.2 0 1,0 4.4,0a2.2,2.2 0 1,0 -4.4,0M535.7,58.9a2.2,2.2 0 1,0 4.4,0a2.2,2.2 0 1,0 -4.4,0M537.2,59.3a2.2,2.2 0 1,0 4.4,0a2.2,2.2 0 1,0 -4.4,0M538.7,56.8a2.2,2.2 0 1,0 4.4,0a2.2,2.2 0 1,0 -4.4,0M543.9,54.3a2.2,2.2 0 1,0 4.4,0a2.2,2.2 0 1,0 -4.4,0M545,57a2.2,2.2 0 1,0 4.4,0a2.2,2.2 0 1,0 -4.4,0M546.6,57.9a2.2,2.2 0 1,0 4.4,0a2.2,2.2 0 1,0 -4.4,0M550.1,56.5a2.2,2.2 0 1,0 4.4,0a2.2,2.2 0 1,0 -4.4,0M554.5,58.1a2.2,2.2 0 1,0 4.4,0a2.2,2.2 0 1,0 -4.4,0M555.9,57.4a2.2,2.2 0 1,0 4.4,0a2.2,2.2 0 1,0 -4.4,0M557.8,57.3a2.2,2.2 0 1,0 4.4,0a2.2,2.2 0 1,0 -4.4,0M564.5,54.4a2.2,2.2 0 1,0 4.4,0a2.2,2.2 0 1,0 -4.4,0M565.9,52.9a2.2,2.2 0 1,0 4.4,0a2.2,2.2 0 1,0 -4.4,0M569,52.3a2.2,2.2 0 1,0 4.4,0a2.2,2.2 0 1,0 -4.4,0M534.1,139.9a2.2,2.2 0 1,0 4.4,0a2.2,2.2 0 1,0 -4.4,0M535.7,141.2a2.2,2.2 0 1,0 4.4,0a2.2,2.2 0 1,0 -4.4,0M541.5,146.2a2.2,2.2 0 1,0 4.4,0a2.2,2.2 0 1,0 -4.4,0M544.7,139.3a2.2,2.2 0 1,0 4.4,0a2.2,2.2 0 1,0 -4.4,0M546.8,140a2.2,2.2 0 1,0 4.4,0a2.2,2.2 0 1,0 -4.4,0M548.1,139.9a2.2,2.2 0 1,0 4.4,0a2.2,2.2 0 1,0 -4.4,0M551.2,137.5a2.2,2.2 0 1,0 4.4,0a2.2,2.2 0 1,0 -4.4,0M554.6,134.2a2.2,2.2 0 1,0 4.4,0a2.2,2.2 0 1,0 -4.4,0M556.2,134.8a2.2,2.2 0 1,0 4.4,0a2.2,2.2 0 1,0 -4.4,0M557.5,131.8a2.2,2.2 0 1,0 4.4,0a2.2,2.2 0 1,0 -4.4,0M559.2,135a2.2,2.2 0 1,0 4.4,0a2.2,2.2 0 1,0 -4.4,0M562.9,132.2a2.2,2.2 0 1,0 4.4,0a2.2,2.2 0 1,0 -4.4,0M564.3,134.5a2.2,2.2 0 1,0 4.4,0a2.2,2.2 0 1,0 -4.4,0M568.8,139.3a2.2,2.2 0 1,0 4.4,0a2.2,2.2 0 1,0 -4.4,0M570.9,139a2.2,2.2 0 1,0 4.4,0a2.2,2.2 0 1,0 -4.4,0M575.6,129.1a2.2,2.2 0 1,0 4.4,0a2.2,2.2 0 1,0 -4.4,0M566.4,50a2.2,2.2 0 1,0 4.4,0a2.2,2.2 0 1,0 -4.4,0M561.2,50.9a2.2,2.2 0 1,0 4.4,0a2.2,2.2 0 1,0 -4.4,0M536.6,54.8a2.2,2.2 0 1,0 4.4,0a2.2,2.2 0 1,0 -4.4,0M571.9,141a2.2,2.2 0 1,0 4.4,0a2.2,2.2 0 1,0 -4.4,0M550.8,56a2.2,2.2 0 1,0 4.4,0a2.2,2.2 0 1,0 -4.4,0M541.6,148.7a2.2,2.2 0 1,0 4.4,0a2.2,2.2 0 1,0 -4.4,0M562.2,135.2a2.2,2.2 0 1,0 4.4,0a2.2,2.2 0 1,0 -4.4,0M538.9,54a2.2,2.2 0 1,0 4.4,0a2.2,2.2 0 1,0 -4.4,0M543.4,52a2.2,2.2 0 1,0 4.4,0a2.2,2.2 0 1,0 -4.4,0M547.4,144a2.2,2.2 0 1,0 4.4,0a2.2,2.2 0 1,0 -4.4,0M570.7,142.1a2.2,2.2 0 1,0 4.4,0a2.2,2.2 0 1,0 -4.4,0M544.4,53.2a2.2,2.2 0 1,0 4.4,0a2.2,2.2 0 1,0 -4.4,0M531.8,58.5a2.2,2.2 0 1,0 4.4,0a2.2,2.2 0 1,0 -4.4,0M575.2,60.8a2.2,2.2 0 1,0 4.4,0a2.2,2.2 0 1,0 -4.4,0M574.3,64.3a2.2,2.2 0 1,0 4.4,0a2.2,2.2 0 1,0 -4.4,0M575.1,81.8a2.2,2.2 0 1,0 4.4,0a2.2,2.2 0 1,0 -4.4,0M574.2,95.8a2.2,2.2 0 1,0 4.4,0a2.2,2.2 0 1,0 -4.4,0M457.3,55.1a2.2,2.2 0 1,0 4.4,0a2.2,2.2 0 1,0 -4.4,0M455.5,65.6a2.2,2.2 0 1,0 4.4,0a2.2,2.2 0 1,0 -4.4,0M466.9,69.9a2.2,2.2 0 1,0 4.4,0a2.2,2.2 0 1,0 -4.4,0M476.5,66.4a2.2,2.2 0 1,0 4.4,0a2.2,2.2 0 1,0 -4.4,0M491.4,63.8a2.2,2.2 0 1,0 4.4,0a2.2,2.2 0 1,0 -4.4,0M487.9,69.9a2.2,2.2 0 1,0 4.4,0a2.2,2.2 0 1,0 -4.4,0M501,60.9a2.2,2.2 0 1,0 4.4,0a2.2,2.2 0 1,0 -4.4,0M514.1,55.1a2.2,2.2 0 1,0 4.4,0a2.2,2.2 0 1,0 -4.4,0M527.2,64.7a2.2,2.2 0 1,0 4.4,0a2.2,2.2 0 1,0 -4.4,0M534.2,47.2a2.2,2.2 0 1,0 4.4,0a2.2,2.2 0 1,0 -4.4,0M541.2,46.3a2.2,2.2 0 1,0 4.4,0a2.2,2.2 0 1,0 -4.4,0M545.5,42a2.2,2.2 0 1,0 4.4,0a2.2,2.2 0 1,0 -4.4,0M550.8,49.8a2.2,2.2 0 1,0 4.4,0a2.2,2.2 0 1,0 -4.4,0M557.8,43.7a2.2,2.2 0 1,0 4.4,0a2.2,2.2 0 1,0 -4.4,0M563.9,49.8a2.2,2.2 0 1,0 4.4,0a2.2,2.2 0 1,0 -4.4,0M570,39.9a2.2,2.2 0 1,0 4.4,0a2.2,2.2 0 1,0 -4.4,0M574.4,35.9a2.2,2.2 0 1,0 4.4,0a2.2,2.2 0 1,0 -4.4,0M457.3,146a2.2,2.2 0 1,0 4.4,0a2.2,2.2 0 1,0 -4.4,0M462.5,143.3a2.2,2.2 0 1,0 4.4,0a2.2,2.2 0 1,0 -4.4,0M469.5,145.1a2.2,2.2 0 1,0 4.4,0a2.2,2.2 0 1,0 -4.4,0M477.4,143.3a2.2,2.2 0 1,0 4.4,0a2.2,2.2 0 1,0 -4.4,0M480,139a2.2,2.2 0 1,0 4.4,0a2.2,2.2 0 1,0 -4.4,0M487.9,148.6a2.2,2.2 0 1,0 4.4,0a2.2,2.2 0 1,0 -4.4,0M504.5,141.6a2.2,2.2 0 1,0 4.4,0a2.2,2.2 0 1,0 -4.4,0M514.1,141.6a2.2,2.2 0 1,0 4.4,0a2.2,2.2 0 1,0 -4.4,0M527.2,143.3a2.2,2.2 0 1,0 4.4,0a2.2,2.2 0 1,0 -4.4,0M537.7,151.2a2.2,2.2 0 1,0 4.4,0a2.2,2.2 0 1,0 -4.4,0M542,146.8a2.2,2.2 0 1,0 4.4,0a2.2,2.2 0 1,0 -4.4,0M548.2,141.6a2.2,2.2 0 1,0 4.4,0a2.2,2.2 0 1,0 -4.4,0M556.9,154.7a2.2,2.2 0 1,0 4.4,0a2.2,2.2 0 1,0 -4.4,0M567.4,148.6a2.2,2.2 0 1,0 4.4,0a2.2,2.2 0 1,0 -4.4,0M571.7,143.3a2.2,2.2 0 1,0 4.4,0a2.2,2.2 0 1,0 -4.4,0M576.1,129.4a2.2,2.2 0 1,0 4.4,0a2.2,2.2 0 1,0 -4.4,0" stroke="#3f55ad" stroke-width="1.1" fill="none"/><path d="M455.1,108.4 L460.2,108 L465.4,107.6 L470.5,107.1 L475.6,106.6 L480.8,106.1 L485.9,105.5 L491,104.9 L496.2,104.2 L501.3,103.5 L506.4,102.8 L511.6,102 L516.7,101.2 L521.8,100.3 L527,99.4 L532.1,98.5 L537.2,97.5 L542.4,96.5 L547.5,95.4 L552.6,94.4 L557.8,93.2 L562.9,92 L568,90.8 L573.2,89.6 L578.3,88.3" stroke="#b02c64" stroke-width="1.6" fill="none" stroke-linejoin="round"/></g><rect x="448.6" y="28.2" width="137.2" height="134.2" fill="none" stroke="#484848" stroke-width="1.2"/><path d="M472.2,162.4v4M472.2,28.2v-4M504.2,162.4v4M504.2,28.2v-4M536.2,162.4v4M536.2,28.2v-4M568.2,162.4v4M568.2,28.2v-4M448.6,159.2h-4M585.8,159.2h4M448.6,134.2h-4M585.8,134.2h4M448.6,109.2h-4M585.8,109.2h4M448.6,84.2h-4M585.8,84.2h4M448.6,59.2h-4M585.8,59.2h4M448.6,34.2h-4M585.8,34.2h4" stroke="#484848" stroke-width="1.2" fill="none"/><text x="472.2" y="178.4" text-anchor="middle" class="t">80</text><text x="504.2" y="178.4" text-anchor="middle" class="t">85</text><text x="536.2" y="178.4" text-anchor="middle" class="t">90</text><text x="568.2" y="178.4" text-anchor="middle" class="t">95</text><text x="442.6" y="163.2" text-anchor="end" class="t">40</text><text x="442.6" y="138.2" text-anchor="end" class="t">60</text><text x="442.6" y="113.2" text-anchor="end" class="t">80</text><text x="442.6" y="88.2" text-anchor="end" class="t">100</text><text x="442.6" y="63.2" text-anchor="end" class="t">120</text><text x="442.6" y="38.2" text-anchor="end" class="t">140</text><text x="517.2" y="192.9" text-anchor="middle" class="a">Population predictions</text><clipPath id="cP4"><rect x="636.3" y="28.4" width="137.7" height="133.2"/></clipPath><g clip-path="url(#cP4)"><path d="M636,139.2L774,52.6" stroke="#333" stroke-width="1" fill="none"/><path d="M646.3,116.3 L647.9,121.3 L649.5,121 L651.1,116.7 L652.6,119.2 L654.2,116 L655.8,116.9 L657.4,110.5 L659,114.2 L660.6,109.8 L662.2,110.2 L663.8,108.3 L665.4,106.2 L667,104.6 L668.6,101 L670.2,99.3 L671.7,94.1 L673.3,95.6 L674.9,89.7 L676.5,94.8 L678.1,92.3 L679.7,91.1 L681.3,85.2 L682.9,88.4 L684.5,81.6 L686.1,84.4 L687.7,81.1 L689.3,80.6 L690.8,79.6 L692.4,77.9 L694,75.9 L695.6,77.4 L697.2,75.7 L698.8,74.3 L700.4,73.8 L702,74.5 L703.6,74.7 L705.2,73.9 L706.8,73.2 L708.4,70.5 L709.9,69.8 L711.5,68.2 L713.1,63 L714.7,62.7 L716.3,62.3 L717.9,61.6 L719.5,58 L721.1,60.5 L722.7,54.6 L724.3,57.5 L725.9,58 L727.5,51.2 L729,52 L730.6,56.9 L732.2,58.4 L733.8,57.7 L735.4,59.3 L737,58.6 L738.6,57.3 L740.2,52.6 L741.8,51.7 L743.4,55 L745,54.2 L746.6,46.5 L748.1,50 L749.7,51.1 L751.3,52.3 L752.9,51.5 L754.5,52.8 L756.1,49 L757.7,55.4 L759.3,57 L760.9,57.4 L762.5,57.3 L764.1,59.3 L765.7,60.2 L765.7,60.5 L764.1,62.9 L762.5,63.6 L760.9,64.8 L759.3,67.6 L757.7,69 L756.1,71.2 L754.5,76 L752.9,81.3 L751.3,85.3 L749.7,85.5 L748.1,85.1 L746.6,85.9 L745,89.2 L743.4,92.2 L741.8,94 L740.2,99 L738.6,97.5 L737,99 L735.4,103.9 L733.8,100.5 L732.2,105.5 L730.6,103.5 L729,105.3 L727.5,107.5 L725.9,112.4 L724.3,114.2 L722.7,113.9 L721.1,115.9 L719.5,117.6 L717.9,117.1 L716.3,115.9 L714.7,120.5 L713.1,115.9 L711.5,121.1 L709.9,117.9 L708.4,124.7 L706.8,122.2 L705.2,121.9 L703.6,122.6 L702,124.9 L700.4,126.6 L698.8,125.8 L697.2,131.9 L695.6,128.8 L694,129.1 L692.4,131 L690.8,132 L689.3,137.3 L687.7,133.3 L686.1,135.8 L684.5,136.3 L682.9,141 L681.3,141.9 L679.7,137.1 L678.1,139.5 L676.5,139.6 L674.9,140.7 L673.3,142.1 L671.7,142.8 L670.2,144.1 L668.6,145.7 L667,147.2 L665.4,148.3 L663.8,149.8 L662.2,145.7 L660.6,146.6 L659,144.8 L657.4,144.5 L655.8,141.9 L654.2,146.4 L652.6,139.5 L651.1,138 L649.5,138.5 L647.9,136.2 L646.3,135.2Z" fill="#1a449a" stroke="#1a449a" stroke-width="0.5"/><path d="M677.5,89.4L678.1,93.8M720.5,58.2L721.1,62M675.9,90.8L676.5,96.3M708.5,67L708.4,72M729.4,48.1L729,53.5M694.4,73.3L694,77.4M694.5,132L694,127.6M743.3,95.3L743.4,90.7M654.8,112.3L654.2,117.5M736.3,101.6L737,97.5M683.3,85.7L682.9,89.9M664.2,106.1L663.8,109.8M660.2,105.4L660.6,111.3M677.2,91.7L676.5,96.3M666.4,150.3L667,145.7M654.6,111.5L654.2,117.5M677.8,143.4L678.1,138M654.6,113.7L654.2,117.5M684.8,79.2L684.5,83.1M733.4,54.6L733.8,59.2M740,50L740.2,54.1M685.7,81.1L686.1,85.9M719.8,55.3L719.5,59.5M691.4,76.5L690.8,81.1M659.1,112L659,115.7M698.8,128.1L698.8,124.3M745.6,51.9L745,55.7M761.6,67.5L760.9,63.3M741.7,49.6L741.8,53.2M651.8,141.5L651.1,136.5M653.6,150.4L654.2,144.9M712.3,65.7L711.5,69.7M700.2,70.1L700.4,75.3M701.5,71.4L702,76M672.3,90.3L671.7,95.6M645.2,98.4L645.2,116M665.9,80.8L666.8,98.4M675.6,84L675.6,93.1M682.3,54.1L682.3,86.1M687.4,57.9L687.4,80.8M695.5,44.2L695.5,73.8M702.2,57.9L702.2,73.8M744.3,43L744.3,54.4M752.2,40.3L752.2,50.9M764.8,36.4L764.8,57.9M753.6,92.8L753.6,80.8M723.7,124.5L723.7,114.2M690.6,147.7L690.6,131.9" stroke="#2a48a6" stroke-width="1.1" fill="none"/><path d="M645.4,121a2.2,2.2 0 1,0 4.4,0a2.2,2.2 0 1,0 -4.4,0M648.6,116.5a2.2,2.2 0 1,0 4.4,0a2.2,2.2 0 1,0 -4.4,0M650.6,119.4a2.2,2.2 0 1,0 4.4,0a2.2,2.2 0 1,0 -4.4,0M658.7,109.7a2.2,2.2 0 1,0 4.4,0a2.2,2.2 0 1,0 -4.4,0M660.2,110.4a2.2,2.2 0 1,0 4.4,0a2.2,2.2 0 1,0 -4.4,0M661.3,108.5a2.2,2.2 0 1,0 4.4,0a2.2,2.2 0 1,0 -4.4,0M667.6,99.1a2.2,2.2 0 1,0 4.4,0a2.2,2.2 0 1,0 -4.4,0M669.7,94.2a2.2,2.2 0 1,0 4.4,0a2.2,2.2 0 1,0 -4.4,0M670.9,95.4a2.2,2.2 0 1,0 4.4,0a2.2,2.2 0 1,0 -4.4,0M677.9,91.1a2.2,2.2 0 1,0 4.4,0a2.2,2.2 0 1,0 -4.4,0M678.9,85a2.2,2.2 0 1,0 4.4,0a2.2,2.2 0 1,0 -4.4,0M685.2,80.9a2.2,2.2 0 1,0 4.4,0a2.2,2.2 0 1,0 -4.4,0M687.2,80.3a2.2,2.2 0 1,0 4.4,0a2.2,2.2 0 1,0 -4.4,0M688.8,79.3a2.2,2.2 0 1,0 4.4,0a2.2,2.2 0 1,0 -4.4,0M690.5,78a2.2,2.2 0 1,0 4.4,0a2.2,2.2 0 1,0 -4.4,0M692.1,75.9a2.2,2.2 0 1,0 4.4,0a2.2,2.2 0 1,0 -4.4,0M693.3,77.7a2.2,2.2 0 1,0 4.4,0a2.2,2.2 0 1,0 -4.4,0M699.5,74.5a2.2,2.2 0 1,0 4.4,0a2.2,2.2 0 1,0 -4.4,0M703.2,74.1a2.2,2.2 0 1,0 4.4,0a2.2,2.2 0 1,0 -4.4,0M704.2,73.4a2.2,2.2 0 1,0 4.4,0a2.2,2.2 0 1,0 -4.4,0M706.3,70.5a2.2,2.2 0 1,0 4.4,0a2.2,2.2 0 1,0 -4.4,0M709.7,68.5a2.2,2.2 0 1,0 4.4,0a2.2,2.2 0 1,0 -4.4,0M714,62.2a2.2,2.2 0 1,0 4.4,0a2.2,2.2 0 1,0 -4.4,0M725.5,51.1a2.2,2.2 0 1,0 4.4,0a2.2,2.2 0 1,0 -4.4,0M728.7,56.9a2.2,2.2 0 1,0 4.4,0a2.2,2.2 0 1,0 -4.4,0M730.4,58.2a2.2,2.2 0 1,0 4.4,0a2.2,2.2 0 1,0 -4.4,0M735,58.6a2.2,2.2 0 1,0 4.4,0a2.2,2.2 0 1,0 -4.4,0M739.9,51.5a2.2,2.2 0 1,0 4.4,0a2.2,2.2 0 1,0 -4.4,0M742.6,54a2.2,2.2 0 1,0 4.4,0a2.2,2.2 0 1,0 -4.4,0M746.1,49.8a2.2,2.2 0 1,0 4.4,0a2.2,2.2 0 1,0 -4.4,0M750.7,51.6a2.2,2.2 0 1,0 4.4,0a2.2,2.2 0 1,0 -4.4,0M752.4,52.7a2.2,2.2 0 1,0 4.4,0a2.2,2.2 0 1,0 -4.4,0M754.2,49.2a2.2,2.2 0 1,0 4.4,0a2.2,2.2 0 1,0 -4.4,0M757.1,57.2a2.2,2.2 0 1,0 4.4,0a2.2,2.2 0 1,0 -4.4,0M760.6,57.2a2.2,2.2 0 1,0 4.4,0a2.2,2.2 0 1,0 -4.4,0M763.1,60.4a2.2,2.2 0 1,0 4.4,0a2.2,2.2 0 1,0 -4.4,0M644.2,134.9a2.2,2.2 0 1,0 4.4,0a2.2,2.2 0 1,0 -4.4,0M647.5,138.3a2.2,2.2 0 1,0 4.4,0a2.2,2.2 0 1,0 -4.4,0M650.2,139.7a2.2,2.2 0 1,0 4.4,0a2.2,2.2 0 1,0 -4.4,0M652,146.1a2.2,2.2 0 1,0 4.4,0a2.2,2.2 0 1,0 -4.4,0M656.8,144.8a2.2,2.2 0 1,0 4.4,0a2.2,2.2 0 1,0 -4.4,0M661.9,149.6a2.2,2.2 0 1,0 4.4,0a2.2,2.2 0 1,0 -4.4,0M663.4,148.1a2.2,2.2 0 1,0 4.4,0a2.2,2.2 0 1,0 -4.4,0M664.8,147.1a2.2,2.2 0 1,0 4.4,0a2.2,2.2 0 1,0 -4.4,0M666.7,145.6a2.2,2.2 0 1,0 4.4,0a2.2,2.2 0 1,0 -4.4,0M669.9,142.6a2.2,2.2 0 1,0 4.4,0a2.2,2.2 0 1,0 -4.4,0M679.4,141.9a2.2,2.2 0 1,0 4.4,0a2.2,2.2 0 1,0 -4.4,0M681,141.1a2.2,2.2 0 1,0 4.4,0a2.2,2.2 0 1,0 -4.4,0M685.4,133.5a2.2,2.2 0 1,0 4.4,0a2.2,2.2 0 1,0 -4.4,0M690.4,131a2.2,2.2 0 1,0 4.4,0a2.2,2.2 0 1,0 -4.4,0M691.6,128.9a2.2,2.2 0 1,0 4.4,0a2.2,2.2 0 1,0 -4.4,0M693.4,128.7a2.2,2.2 0 1,0 4.4,0a2.2,2.2 0 1,0 -4.4,0M695.1,132.1a2.2,2.2 0 1,0 4.4,0a2.2,2.2 0 1,0 -4.4,0M698.5,126.5a2.2,2.2 0 1,0 4.4,0a2.2,2.2 0 1,0 -4.4,0M703,122.2a2.2,2.2 0 1,0 4.4,0a2.2,2.2 0 1,0 -4.4,0M704.6,122.1a2.2,2.2 0 1,0 4.4,0a2.2,2.2 0 1,0 -4.4,0M705.9,124.5a2.2,2.2 0 1,0 4.4,0a2.2,2.2 0 1,0 -4.4,0M707.9,117.9a2.2,2.2 0 1,0 4.4,0a2.2,2.2 0 1,0 -4.4,0M712.9,120.6a2.2,2.2 0 1,0 4.4,0a2.2,2.2 0 1,0 -4.4,0M714.4,116a2.2,2.2 0 1,0 4.4,0a2.2,2.2 0 1,0 -4.4,0M715.8,116.9a2.2,2.2 0 1,0 4.4,0a2.2,2.2 0 1,0 -4.4,0M719.3,115.6a2.2,2.2 0 1,0 4.4,0a2.2,2.2 0 1,0 -4.4,0M720.5,113.7a2.2,2.2 0 1,0 4.4,0a2.2,2.2 0 1,0 -4.4,0M721.8,114.4a2.2,2.2 0 1,0 4.4,0a2.2,2.2 0 1,0 -4.4,0M732.9,103.8a2.2,2.2 0 1,0 4.4,0a2.2,2.2 0 1,0 -4.4,0M736.5,97.2a2.2,2.2 0 1,0 4.4,0a2.2,2.2 0 1,0 -4.4,0M738.3,99a2.2,2.2 0 1,0 4.4,0a2.2,2.2 0 1,0 -4.4,0M740.9,92a2.2,2.2 0 1,0 4.4,0a2.2,2.2 0 1,0 -4.4,0M744.7,85.7a2.2,2.2 0 1,0 4.4,0a2.2,2.2 0 1,0 -4.4,0M747.4,85.8a2.2,2.2 0 1,0 4.4,0a2.2,2.2 0 1,0 -4.4,0M749.3,85.1a2.2,2.2 0 1,0 4.4,0a2.2,2.2 0 1,0 -4.4,0M754.1,71a2.2,2.2 0 1,0 4.4,0a2.2,2.2 0 1,0 -4.4,0M755.4,69.1a2.2,2.2 0 1,0 4.4,0a2.2,2.2 0 1,0 -4.4,0M675.3,89.4a2.2,2.2 0 1,0 4.4,0a2.2,2.2 0 1,0 -4.4,0M718.3,58.2a2.2,2.2 0 1,0 4.4,0a2.2,2.2 0 1,0 -4.4,0M673.7,90.8a2.2,2.2 0 1,0 4.4,0a2.2,2.2 0 1,0 -4.4,0M706.3,67a2.2,2.2 0 1,0 4.4,0a2.2,2.2 0 1,0 -4.4,0M727.2,48.1a2.2,2.2 0 1,0 4.4,0a2.2,2.2 0 1,0 -4.4,0M692.2,73.3a2.2,2.2 0 1,0 4.4,0a2.2,2.2 0 1,0 -4.4,0M692.3,132a2.2,2.2 0 1,0 4.4,0a2.2,2.2 0 1,0 -4.4,0M741.1,95.3a2.2,2.2 0 1,0 4.4,0a2.2,2.2 0 1,0 -4.4,0M652.6,112.3a2.2,2.2 0 1,0 4.4,0a2.2,2.2 0 1,0 -4.4,0M734.1,101.6a2.2,2.2 0 1,0 4.4,0a2.2,2.2 0 1,0 -4.4,0M681.1,85.7a2.2,2.2 0 1,0 4.4,0a2.2,2.2 0 1,0 -4.4,0M662,106.1a2.2,2.2 0 1,0 4.4,0a2.2,2.2 0 1,0 -4.4,0M658,105.4a2.2,2.2 0 1,0 4.4,0a2.2,2.2 0 1,0 -4.4,0M675,91.7a2.2,2.2 0 1,0 4.4,0a2.2,2.2 0 1,0 -4.4,0M664.2,150.3a2.2,2.2 0 1,0 4.4,0a2.2,2.2 0 1,0 -4.4,0M652.4,111.5a2.2,2.2 0 1,0 4.4,0a2.2,2.2 0 1,0 -4.4,0M675.6,143.4a2.2,2.2 0 1,0 4.4,0a2.2,2.2 0 1,0 -4.4,0M652.4,113.7a2.2,2.2 0 1,0 4.4,0a2.2,2.2 0 1,0 -4.4,0M682.6,79.2a2.2,2.2 0 1,0 4.4,0a2.2,2.2 0 1,0 -4.4,0M731.2,54.6a2.2,2.2 0 1,0 4.4,0a2.2,2.2 0 1,0 -4.4,0M737.8,50a2.2,2.2 0 1,0 4.4,0a2.2,2.2 0 1,0 -4.4,0M683.5,81.1a2.2,2.2 0 1,0 4.4,0a2.2,2.2 0 1,0 -4.4,0M717.6,55.3a2.2,2.2 0 1,0 4.4,0a2.2,2.2 0 1,0 -4.4,0M689.2,76.5a2.2,2.2 0 1,0 4.4,0a2.2,2.2 0 1,0 -4.4,0M656.9,112a2.2,2.2 0 1,0 4.4,0a2.2,2.2 0 1,0 -4.4,0M696.6,128.1a2.2,2.2 0 1,0 4.4,0a2.2,2.2 0 1,0 -4.4,0M743.4,51.9a2.2,2.2 0 1,0 4.4,0a2.2,2.2 0 1,0 -4.4,0M759.4,67.5a2.2,2.2 0 1,0 4.4,0a2.2,2.2 0 1,0 -4.4,0M739.5,49.6a2.2,2.2 0 1,0 4.4,0a2.2,2.2 0 1,0 -4.4,0M649.6,141.5a2.2,2.2 0 1,0 4.4,0a2.2,2.2 0 1,0 -4.4,0M651.4,150.4a2.2,2.2 0 1,0 4.4,0a2.2,2.2 0 1,0 -4.4,0M710.1,65.7a2.2,2.2 0 1,0 4.4,0a2.2,2.2 0 1,0 -4.4,0M698,70.1a2.2,2.2 0 1,0 4.4,0a2.2,2.2 0 1,0 -4.4,0M699.3,71.4a2.2,2.2 0 1,0 4.4,0a2.2,2.2 0 1,0 -4.4,0M670.1,90.3a2.2,2.2 0 1,0 4.4,0a2.2,2.2 0 1,0 -4.4,0M645.4,121.8a2.2,2.2 0 1,0 4.4,0a2.2,2.2 0 1,0 -4.4,0M644.8,128.8a2.2,2.2 0 1,0 4.4,0a2.2,2.2 0 1,0 -4.4,0M643,98.4a2.2,2.2 0 1,0 4.4,0a2.2,2.2 0 1,0 -4.4,0M663.7,80.8a2.2,2.2 0 1,0 4.4,0a2.2,2.2 0 1,0 -4.4,0M673.4,84a2.2,2.2 0 1,0 4.4,0a2.2,2.2 0 1,0 -4.4,0M680.1,54.1a2.2,2.2 0 1,0 4.4,0a2.2,2.2 0 1,0 -4.4,0M685.2,57.9a2.2,2.2 0 1,0 4.4,0a2.2,2.2 0 1,0 -4.4,0M693.3,44.2a2.2,2.2 0 1,0 4.4,0a2.2,2.2 0 1,0 -4.4,0M700,57.9a2.2,2.2 0 1,0 4.4,0a2.2,2.2 0 1,0 -4.4,0M694.5,63.2a2.2,2.2 0 1,0 4.4,0a2.2,2.2 0 1,0 -4.4,0M703.9,70.2a2.2,2.2 0 1,0 4.4,0a2.2,2.2 0 1,0 -4.4,0M718.3,50.4a2.2,2.2 0 1,0 4.4,0a2.2,2.2 0 1,0 -4.4,0M724.8,52.6a2.2,2.2 0 1,0 4.4,0a2.2,2.2 0 1,0 -4.4,0M731.5,55.3a2.2,2.2 0 1,0 4.4,0a2.2,2.2 0 1,0 -4.4,0M738,53.5a2.2,2.2 0 1,0 4.4,0a2.2,2.2 0 1,0 -4.4,0M742.1,43a2.2,2.2 0 1,0 4.4,0a2.2,2.2 0 1,0 -4.4,0M750,40.3a2.2,2.2 0 1,0 4.4,0a2.2,2.2 0 1,0 -4.4,0M762.6,36.4a2.2,2.2 0 1,0 4.4,0a2.2,2.2 0 1,0 -4.4,0M751.4,92.8a2.2,2.2 0 1,0 4.4,0a2.2,2.2 0 1,0 -4.4,0M746.5,89.6a2.2,2.2 0 1,0 4.4,0a2.2,2.2 0 1,0 -4.4,0M739.1,99.3a2.2,2.2 0 1,0 4.4,0a2.2,2.2 0 1,0 -4.4,0M721.5,124.5a2.2,2.2 0 1,0 4.4,0a2.2,2.2 0 1,0 -4.4,0M688.4,147.7a2.2,2.2 0 1,0 4.4,0a2.2,2.2 0 1,0 -4.4,0M663.7,153.9a2.2,2.2 0 1,0 4.4,0a2.2,2.2 0 1,0 -4.4,0M656.7,149.5a2.2,2.2 0 1,0 4.4,0a2.2,2.2 0 1,0 -4.4,0M647,145.1a2.2,2.2 0 1,0 4.4,0a2.2,2.2 0 1,0 -4.4,0M680.4,143.3a2.2,2.2 0 1,0 4.4,0a2.2,2.2 0 1,0 -4.4,0M705.6,125.7a2.2,2.2 0 1,0 4.4,0a2.2,2.2 0 1,0 -4.4,0M724.5,113.4a2.2,2.2 0 1,0 4.4,0a2.2,2.2 0 1,0 -4.4,0" stroke="#3f55ad" stroke-width="1.1" fill="none"/><path d="M644.8,133.6 L649.7,130.8 L654.6,127.9 L659.5,125 L664.5,122 L669.4,119.1 L674.3,116.1 L679.2,113.1 L684.1,110.1 L689,107.1 L693.9,104 L698.9,100.9 L703.8,97.8 L708.7,94.7 L713.6,91.5 L718.5,88.4 L723.4,85.2 L728.3,82 L733.3,78.7 L738.2,75.5 L743.1,72.2 L748,68.9 L752.9,65.5 L757.8,62.2 L762.7,58.8" stroke="#b02c64" stroke-width="1.6" fill="none" stroke-linejoin="round"/></g><rect x="636.3" y="28.4" width="137.7" height="133.2" fill="none" stroke="#484848" stroke-width="1.2"/><path d="M647.3,161.6v4M647.3,28.4v-4M685.8,161.6v4M685.8,28.4v-4M724.4,161.6v4M724.4,28.4v-4M762.9,161.6v4M762.9,28.4v-4M636.3,158.3h-4M774,158.3h4M636.3,133.4h-4M774,133.4h4M636.3,108.5h-4M774,108.5h4M636.3,83.7h-4M774,83.7h4M636.3,58.8h-4M774,58.8h4M636.3,33.9h-4M774,33.9h4" stroke="#484848" stroke-width="1.2" fill="none"/><text x="647.3" y="177.6" text-anchor="middle" class="t">60</text><text x="685.8" y="177.6" text-anchor="middle" class="t">80</text><text x="724.4" y="177.6" text-anchor="middle" class="t">100</text><text x="762.9" y="177.6" text-anchor="middle" class="t">120</text><text x="630.3" y="162.3" text-anchor="end" class="t">40</text><text x="630.3" y="137.4" text-anchor="end" class="t">60</text><text x="630.3" y="112.5" text-anchor="end" class="t">80</text><text x="630.3" y="87.7" text-anchor="end" class="t">100</text><text x="630.3" y="62.8" text-anchor="end" class="t">120</text><text x="630.3" y="37.9" text-anchor="end" class="t">140</text><text x="705.1" y="192.1" text-anchor="middle" class="a">Individual predictions</text><clipPath id="cP5"><rect x="45" y="219" width="133" height="132"/></clipPath><g clip-path="url(#cP5)"><path d="M45,284.3L178,284.3" stroke="#333" stroke-width="1" fill="none"/><path d="M52,262.9 L53.9,264.9 L55.7,263.9 L57.6,264 L59.4,264.8 L61.2,265.2 L63.1,264.5 L63.1,301.6 L61.2,302.7 L59.4,302.7 L57.6,302.7 L55.7,303.2 L53.9,303.7 L52,304Z" fill="#1a449a" stroke="#1a449a" stroke-width="0.5"/><path d="M63.4,266.3 L65.4,266.6 L67.5,263.1 L69.5,266 L69.5,302.8 L67.5,305.6 L65.4,305.8 L63.4,306Z" fill="#1a449a" stroke="#1a449a" stroke-width="0.5"/><path d="M72.7,266.1 L74.4,264.9 L76,264.5 L77.6,263.5 L79.2,264 L79.2,305.3 L77.6,306.8 L76,307.7 L74.4,308.4 L72.7,307.4Z" fill="#1a449a" stroke="#1a449a" stroke-width="0.5"/><path d="M83.8,263.7 L85.4,265.6 L87,264.1 L88.6,265.1 L90.2,264.2 L90.2,303.3 L88.6,305.9 L87,304 L85.4,304.8 L83.8,305.4Z" fill="#1a449a" stroke="#1a449a" stroke-width="0.5"/><path d="M95.6,266.1 L97.3,266.3 L99,268.3 L100.7,269.5 L102.4,268.2 L102.4,308.1 L100.7,307 L99,306.5 L97.3,305.3 L95.6,309.6Z" fill="#1a449a" stroke="#1a449a" stroke-width="0.5"/><path d="M108.4,267.3 L110.1,269 L111.8,265.6 L113.6,266.1 L115.3,266 L115.3,306.5 L113.6,306.3 L111.8,310 L110.1,308.5 L108.4,306.2Z" fill="#1a449a" stroke="#1a449a" stroke-width="0.5"/><path d="M120.2,263.6 L122,265.5 L123.7,263.4 L125.5,264.7 L125.5,308.1 L123.7,307.8 L122,309.4 L120.2,308.5Z" fill="#1a449a" stroke="#1a449a" stroke-width="0.5"/><path d="M129.1,258 L130.7,251 L132.3,252.8 L133.9,251.2 L135.5,250.7 L137.1,249.3 L138.7,251.8 L140.3,248.2 L141.9,254.2 L143.5,251.5 L145.1,258.5 L146.7,258 L148.3,255.9 L149.9,259.5 L151.5,260.9 L153.1,260.7 L154.7,260.6 L156.3,260 L157.9,261.2 L159.6,259.8 L161.2,260.6 L162.8,259.4 L164.4,259.5 L166,260.9 L167.6,261.9 L169.2,257.9 L170.8,261.1 L170.8,306.9 L169.2,309.5 L167.6,310.5 L166,310.4 L164.4,311.7 L162.8,312.7 L161.2,311 L159.6,314.2 L157.9,311.1 L156.3,309.5 L154.7,309.6 L153.1,307.6 L151.5,312.2 L149.9,308.8 L148.3,309.9 L146.7,308.4 L145.1,309.2 L143.5,307.2 L141.9,306.3 L140.3,307.5 L138.7,307.1 L137.1,309.9 L135.5,313.3 L133.9,310.5 L132.3,310.7 L130.7,310.8 L129.1,308.4Z" fill="#1a449a" stroke="#1a449a" stroke-width="0.5"/><path d="M55.9,267.6h0.01M61.6,268.4h0.01M62.3,275.2h0.01M52.4,296.3h0.01M54.3,287.2h0.01M61,271.3h0.01M60,288.5h0.01M66.2,274.6h0.01M66.6,284.3h0.01M70,274h0.01M69.8,297.6h0.01M75,288.3h0.01M79,283.5h0.01M76,275.9h0.01M77.3,298.7h0.01M74.6,279.2h0.01M84.1,273.7h0.01M87.4,269.6h0.01M88.9,267.6h0.01M89,276.3h0.01M88.8,275.6h0.01M102.9,276h0.01M102.7,275.9h0.01M100.6,278.7h0.01M102.4,273.6h0.01M103.2,302.6h0.01M111.8,285h0.01M113.9,292.1h0.01M116.6,291.6h0.01M114.8,282.7h0.01M113.9,302h0.01M121.9,280.9h0.01M120.3,276.3h0.01M124.9,302.8h0.01M126.3,285.1h0.01M134.8,278h0.01M151,287.2h0.01M161.4,305.8h0.01M158.8,308.2h0.01M145.5,275.4h0.01M154.3,264.8h0.01M154,271.9h0.01M132,256.6h0.01M144.8,299.1h0.01M141.1,266.9h0.01M157,265.9h0.01M166.1,293.1h0.01M164.5,269.2h0.01M156,276.4h0.01M132.5,272.5h0.01M150.3,263.9h0.01M153.7,299.3h0.01M149.3,272.1h0.01M153.1,275.7h0.01M151.8,301.1h0.01M153,305.1h0.01M168.9,290.4h0.01" stroke="#dfe3f5" stroke-width="1.5" stroke-linecap="round" fill="none"/><path d="M49.7,263.1a2.2,2.2 0 1,0 4.4,0a2.2,2.2 0 1,0 -4.4,0M51.9,264.9a2.2,2.2 0 1,0 4.4,0a2.2,2.2 0 1,0 -4.4,0M53.9,264a2.2,2.2 0 1,0 4.4,0a2.2,2.2 0 1,0 -4.4,0M55.2,264a2.2,2.2 0 1,0 4.4,0a2.2,2.2 0 1,0 -4.4,0M57.4,264.8a2.2,2.2 0 1,0 4.4,0a2.2,2.2 0 1,0 -4.4,0M58.8,265.2a2.2,2.2 0 1,0 4.4,0a2.2,2.2 0 1,0 -4.4,0M60.7,264.5a2.2,2.2 0 1,0 4.4,0a2.2,2.2 0 1,0 -4.4,0M51.4,303.5a2.2,2.2 0 1,0 4.4,0a2.2,2.2 0 1,0 -4.4,0M55.5,302.8a2.2,2.2 0 1,0 4.4,0a2.2,2.2 0 1,0 -4.4,0M57,302.4a2.2,2.2 0 1,0 4.4,0a2.2,2.2 0 1,0 -4.4,0M58.7,303a2.2,2.2 0 1,0 4.4,0a2.2,2.2 0 1,0 -4.4,0M61,301.9a2.2,2.2 0 1,0 4.4,0a2.2,2.2 0 1,0 -4.4,0M60.8,304.6a2.2,2.2 0 1,0 4.4,0a2.2,2.2 0 1,0 -4.4,0M59,306.9a2.2,2.2 0 1,0 4.4,0a2.2,2.2 0 1,0 -4.4,0M50.5,264.9a2.2,2.2 0 1,0 4.4,0a2.2,2.2 0 1,0 -4.4,0M51,268.4a2.2,2.2 0 1,0 4.4,0a2.2,2.2 0 1,0 -4.4,0M50.7,282.4a2.2,2.2 0 1,0 4.4,0a2.2,2.2 0 1,0 -4.4,0M51.3,285.9a2.2,2.2 0 1,0 4.4,0a2.2,2.2 0 1,0 -4.4,0M50.3,289.4a2.2,2.2 0 1,0 4.4,0a2.2,2.2 0 1,0 -4.4,0M51.3,292.9a2.2,2.2 0 1,0 4.4,0a2.2,2.2 0 1,0 -4.4,0M51.2,299.9a2.2,2.2 0 1,0 4.4,0a2.2,2.2 0 1,0 -4.4,0M60.3,270a2.2,2.2 0 1,0 4.4,0a2.2,2.2 0 1,0 -4.4,0M60.4,277a2.2,2.2 0 1,0 4.4,0a2.2,2.2 0 1,0 -4.4,0M60.1,284a2.2,2.2 0 1,0 4.4,0a2.2,2.2 0 1,0 -4.4,0M60.3,287.5a2.2,2.2 0 1,0 4.4,0a2.2,2.2 0 1,0 -4.4,0M60.1,291a2.2,2.2 0 1,0 4.4,0a2.2,2.2 0 1,0 -4.4,0M60.5,294.5a2.2,2.2 0 1,0 4.4,0a2.2,2.2 0 1,0 -4.4,0M59.6,298a2.2,2.2 0 1,0 4.4,0a2.2,2.2 0 1,0 -4.4,0M65.5,263.1a2.2,2.2 0 1,0 4.4,0a2.2,2.2 0 1,0 -4.4,0M61.1,305.9a2.2,2.2 0 1,0 4.4,0a2.2,2.2 0 1,0 -4.4,0M63.5,306a2.2,2.2 0 1,0 4.4,0a2.2,2.2 0 1,0 -4.4,0M65.2,305.8a2.2,2.2 0 1,0 4.4,0a2.2,2.2 0 1,0 -4.4,0M67.1,302.9a2.2,2.2 0 1,0 4.4,0a2.2,2.2 0 1,0 -4.4,0M67,307.4a2.2,2.2 0 1,0 4.4,0a2.2,2.2 0 1,0 -4.4,0M61.6,271.8a2.2,2.2 0 1,0 4.4,0a2.2,2.2 0 1,0 -4.4,0M61.5,278.8a2.2,2.2 0 1,0 4.4,0a2.2,2.2 0 1,0 -4.4,0M62.1,282.3a2.2,2.2 0 1,0 4.4,0a2.2,2.2 0 1,0 -4.4,0M62,289.3a2.2,2.2 0 1,0 4.4,0a2.2,2.2 0 1,0 -4.4,0M61.6,292.8a2.2,2.2 0 1,0 4.4,0a2.2,2.2 0 1,0 -4.4,0M61.6,296.3a2.2,2.2 0 1,0 4.4,0a2.2,2.2 0 1,0 -4.4,0M62.2,299.8a2.2,2.2 0 1,0 4.4,0a2.2,2.2 0 1,0 -4.4,0M62,303.3a2.2,2.2 0 1,0 4.4,0a2.2,2.2 0 1,0 -4.4,0M66.3,271.5a2.2,2.2 0 1,0 4.4,0a2.2,2.2 0 1,0 -4.4,0M66.1,275a2.2,2.2 0 1,0 4.4,0a2.2,2.2 0 1,0 -4.4,0M66.1,278.5a2.2,2.2 0 1,0 4.4,0a2.2,2.2 0 1,0 -4.4,0M65.8,285.5a2.2,2.2 0 1,0 4.4,0a2.2,2.2 0 1,0 -4.4,0M66.8,289a2.2,2.2 0 1,0 4.4,0a2.2,2.2 0 1,0 -4.4,0M66.9,292.5a2.2,2.2 0 1,0 4.4,0a2.2,2.2 0 1,0 -4.4,0M67,296a2.2,2.2 0 1,0 4.4,0a2.2,2.2 0 1,0 -4.4,0M70.7,266.3a2.2,2.2 0 1,0 4.4,0a2.2,2.2 0 1,0 -4.4,0M72,264.8a2.2,2.2 0 1,0 4.4,0a2.2,2.2 0 1,0 -4.4,0M74.1,264.6a2.2,2.2 0 1,0 4.4,0a2.2,2.2 0 1,0 -4.4,0M70.7,307.3a2.2,2.2 0 1,0 4.4,0a2.2,2.2 0 1,0 -4.4,0M72.4,308.4a2.2,2.2 0 1,0 4.4,0a2.2,2.2 0 1,0 -4.4,0M73.5,307.4a2.2,2.2 0 1,0 4.4,0a2.2,2.2 0 1,0 -4.4,0M77.1,305.4a2.2,2.2 0 1,0 4.4,0a2.2,2.2 0 1,0 -4.4,0M77.5,308.1a2.2,2.2 0 1,0 4.4,0a2.2,2.2 0 1,0 -4.4,0M71.8,268.1a2.2,2.2 0 1,0 4.4,0a2.2,2.2 0 1,0 -4.4,0M70.9,271.6a2.2,2.2 0 1,0 4.4,0a2.2,2.2 0 1,0 -4.4,0M71.8,278.6a2.2,2.2 0 1,0 4.4,0a2.2,2.2 0 1,0 -4.4,0M71.5,282.1a2.2,2.2 0 1,0 4.4,0a2.2,2.2 0 1,0 -4.4,0M71.9,289.1a2.2,2.2 0 1,0 4.4,0a2.2,2.2 0 1,0 -4.4,0M70.9,292.6a2.2,2.2 0 1,0 4.4,0a2.2,2.2 0 1,0 -4.4,0M70.9,296.1a2.2,2.2 0 1,0 4.4,0a2.2,2.2 0 1,0 -4.4,0M71.6,299.6a2.2,2.2 0 1,0 4.4,0a2.2,2.2 0 1,0 -4.4,0M71,303.1a2.2,2.2 0 1,0 4.4,0a2.2,2.2 0 1,0 -4.4,0M76.3,266a2.2,2.2 0 1,0 4.4,0a2.2,2.2 0 1,0 -4.4,0M75.7,283.5a2.2,2.2 0 1,0 4.4,0a2.2,2.2 0 1,0 -4.4,0M75.6,287a2.2,2.2 0 1,0 4.4,0a2.2,2.2 0 1,0 -4.4,0M76.4,294a2.2,2.2 0 1,0 4.4,0a2.2,2.2 0 1,0 -4.4,0M75.6,297.5a2.2,2.2 0 1,0 4.4,0a2.2,2.2 0 1,0 -4.4,0M75.9,301a2.2,2.2 0 1,0 4.4,0a2.2,2.2 0 1,0 -4.4,0M83.5,265.7a2.2,2.2 0 1,0 4.4,0a2.2,2.2 0 1,0 -4.4,0M84.8,264.3a2.2,2.2 0 1,0 4.4,0a2.2,2.2 0 1,0 -4.4,0M86.3,264.9a2.2,2.2 0 1,0 4.4,0a2.2,2.2 0 1,0 -4.4,0M88.1,264.4a2.2,2.2 0 1,0 4.4,0a2.2,2.2 0 1,0 -4.4,0M81.8,305.6a2.2,2.2 0 1,0 4.4,0a2.2,2.2 0 1,0 -4.4,0M83.4,304.6a2.2,2.2 0 1,0 4.4,0a2.2,2.2 0 1,0 -4.4,0M84.8,304.3a2.2,2.2 0 1,0 4.4,0a2.2,2.2 0 1,0 -4.4,0M86.1,306a2.2,2.2 0 1,0 4.4,0a2.2,2.2 0 1,0 -4.4,0M88.4,303.2a2.2,2.2 0 1,0 4.4,0a2.2,2.2 0 1,0 -4.4,0M87.1,261.1a2.2,2.2 0 1,0 4.4,0a2.2,2.2 0 1,0 -4.4,0M82,265.7a2.2,2.2 0 1,0 4.4,0a2.2,2.2 0 1,0 -4.4,0M82.5,269.2a2.2,2.2 0 1,0 4.4,0a2.2,2.2 0 1,0 -4.4,0M82.1,272.7a2.2,2.2 0 1,0 4.4,0a2.2,2.2 0 1,0 -4.4,0M82,279.7a2.2,2.2 0 1,0 4.4,0a2.2,2.2 0 1,0 -4.4,0M82.6,283.2a2.2,2.2 0 1,0 4.4,0a2.2,2.2 0 1,0 -4.4,0M82.4,286.7a2.2,2.2 0 1,0 4.4,0a2.2,2.2 0 1,0 -4.4,0M82.4,290.2a2.2,2.2 0 1,0 4.4,0a2.2,2.2 0 1,0 -4.4,0M82.9,293.7a2.2,2.2 0 1,0 4.4,0a2.2,2.2 0 1,0 -4.4,0M83,297.2a2.2,2.2 0 1,0 4.4,0a2.2,2.2 0 1,0 -4.4,0M81.9,300.7a2.2,2.2 0 1,0 4.4,0a2.2,2.2 0 1,0 -4.4,0M87.1,269.7a2.2,2.2 0 1,0 4.4,0a2.2,2.2 0 1,0 -4.4,0M86.8,273.2a2.2,2.2 0 1,0 4.4,0a2.2,2.2 0 1,0 -4.4,0M86.8,276.7a2.2,2.2 0 1,0 4.4,0a2.2,2.2 0 1,0 -4.4,0M87,280.2a2.2,2.2 0 1,0 4.4,0a2.2,2.2 0 1,0 -4.4,0M87.3,283.7a2.2,2.2 0 1,0 4.4,0a2.2,2.2 0 1,0 -4.4,0M87.6,287.2a2.2,2.2 0 1,0 4.4,0a2.2,2.2 0 1,0 -4.4,0M86.9,290.7a2.2,2.2 0 1,0 4.4,0a2.2,2.2 0 1,0 -4.4,0M87,294.2a2.2,2.2 0 1,0 4.4,0a2.2,2.2 0 1,0 -4.4,0M87.6,297.7a2.2,2.2 0 1,0 4.4,0a2.2,2.2 0 1,0 -4.4,0M93.2,266a2.2,2.2 0 1,0 4.4,0a2.2,2.2 0 1,0 -4.4,0M97,268.3a2.2,2.2 0 1,0 4.4,0a2.2,2.2 0 1,0 -4.4,0M98.6,269.3a2.2,2.2 0 1,0 4.4,0a2.2,2.2 0 1,0 -4.4,0M100.5,268a2.2,2.2 0 1,0 4.4,0a2.2,2.2 0 1,0 -4.4,0M93.7,309.8a2.2,2.2 0 1,0 4.4,0a2.2,2.2 0 1,0 -4.4,0M95.2,305.4a2.2,2.2 0 1,0 4.4,0a2.2,2.2 0 1,0 -4.4,0M98.2,306.8a2.2,2.2 0 1,0 4.4,0a2.2,2.2 0 1,0 -4.4,0M100.4,307.9a2.2,2.2 0 1,0 4.4,0a2.2,2.2 0 1,0 -4.4,0M97.8,310.9a2.2,2.2 0 1,0 4.4,0a2.2,2.2 0 1,0 -4.4,0M94.1,268.1a2.2,2.2 0 1,0 4.4,0a2.2,2.2 0 1,0 -4.4,0M94.1,271.6a2.2,2.2 0 1,0 4.4,0a2.2,2.2 0 1,0 -4.4,0M94.5,275.1a2.2,2.2 0 1,0 4.4,0a2.2,2.2 0 1,0 -4.4,0M94.7,278.6a2.2,2.2 0 1,0 4.4,0a2.2,2.2 0 1,0 -4.4,0M94.4,282.1a2.2,2.2 0 1,0 4.4,0a2.2,2.2 0 1,0 -4.4,0M94.6,289.1a2.2,2.2 0 1,0 4.4,0a2.2,2.2 0 1,0 -4.4,0M94.9,292.6a2.2,2.2 0 1,0 4.4,0a2.2,2.2 0 1,0 -4.4,0M94.6,296.1a2.2,2.2 0 1,0 4.4,0a2.2,2.2 0 1,0 -4.4,0M94,299.6a2.2,2.2 0 1,0 4.4,0a2.2,2.2 0 1,0 -4.4,0M94.3,303.1a2.2,2.2 0 1,0 4.4,0a2.2,2.2 0 1,0 -4.4,0M93.9,306.6a2.2,2.2 0 1,0 4.4,0a2.2,2.2 0 1,0 -4.4,0M99.6,270.2a2.2,2.2 0 1,0 4.4,0a2.2,2.2 0 1,0 -4.4,0M99.4,277.2a2.2,2.2 0 1,0 4.4,0a2.2,2.2 0 1,0 -4.4,0M98.8,280.7a2.2,2.2 0 1,0 4.4,0a2.2,2.2 0 1,0 -4.4,0M99.1,284.2a2.2,2.2 0 1,0 4.4,0a2.2,2.2 0 1,0 -4.4,0M99,291.2a2.2,2.2 0 1,0 4.4,0a2.2,2.2 0 1,0 -4.4,0M99.8,294.7a2.2,2.2 0 1,0 4.4,0a2.2,2.2 0 1,0 -4.4,0M99.4,298.2a2.2,2.2 0 1,0 4.4,0a2.2,2.2 0 1,0 -4.4,0M99.4,305.2a2.2,2.2 0 1,0 4.4,0a2.2,2.2 0 1,0 -4.4,0M107.7,268.9a2.2,2.2 0 1,0 4.4,0a2.2,2.2 0 1,0 -4.4,0M111.6,265.9a2.2,2.2 0 1,0 4.4,0a2.2,2.2 0 1,0 -4.4,0M106.2,306.4a2.2,2.2 0 1,0 4.4,0a2.2,2.2 0 1,0 -4.4,0M107.6,308.6a2.2,2.2 0 1,0 4.4,0a2.2,2.2 0 1,0 -4.4,0M109.8,309.8a2.2,2.2 0 1,0 4.4,0a2.2,2.2 0 1,0 -4.4,0M111.1,306.3a2.2,2.2 0 1,0 4.4,0a2.2,2.2 0 1,0 -4.4,0M113.2,306.4a2.2,2.2 0 1,0 4.4,0a2.2,2.2 0 1,0 -4.4,0M109,313.5a2.2,2.2 0 1,0 4.4,0a2.2,2.2 0 1,0 -4.4,0M106.9,269.3a2.2,2.2 0 1,0 4.4,0a2.2,2.2 0 1,0 -4.4,0M106.8,272.8a2.2,2.2 0 1,0 4.4,0a2.2,2.2 0 1,0 -4.4,0M106.8,279.8a2.2,2.2 0 1,0 4.4,0a2.2,2.2 0 1,0 -4.4,0M107.6,283.3a2.2,2.2 0 1,0 4.4,0a2.2,2.2 0 1,0 -4.4,0M107.2,286.8a2.2,2.2 0 1,0 4.4,0a2.2,2.2 0 1,0 -4.4,0M106.8,290.3a2.2,2.2 0 1,0 4.4,0a2.2,2.2 0 1,0 -4.4,0M107,293.8a2.2,2.2 0 1,0 4.4,0a2.2,2.2 0 1,0 -4.4,0M112.2,271.5a2.2,2.2 0 1,0 4.4,0a2.2,2.2 0 1,0 -4.4,0M111.8,275a2.2,2.2 0 1,0 4.4,0a2.2,2.2 0 1,0 -4.4,0M112.5,278.5a2.2,2.2 0 1,0 4.4,0a2.2,2.2 0 1,0 -4.4,0M112.4,282a2.2,2.2 0 1,0 4.4,0a2.2,2.2 0 1,0 -4.4,0M111.7,285.5a2.2,2.2 0 1,0 4.4,0a2.2,2.2 0 1,0 -4.4,0M112.6,289a2.2,2.2 0 1,0 4.4,0a2.2,2.2 0 1,0 -4.4,0M112.5,292.5a2.2,2.2 0 1,0 4.4,0a2.2,2.2 0 1,0 -4.4,0M112,299.5a2.2,2.2 0 1,0 4.4,0a2.2,2.2 0 1,0 -4.4,0M112.3,303a2.2,2.2 0 1,0 4.4,0a2.2,2.2 0 1,0 -4.4,0M123,264.5a2.2,2.2 0 1,0 4.4,0a2.2,2.2 0 1,0 -4.4,0M117.8,308.4a2.2,2.2 0 1,0 4.4,0a2.2,2.2 0 1,0 -4.4,0M119.5,309.5a2.2,2.2 0 1,0 4.4,0a2.2,2.2 0 1,0 -4.4,0M121.8,307.7a2.2,2.2 0 1,0 4.4,0a2.2,2.2 0 1,0 -4.4,0M122.2,260.8a2.2,2.2 0 1,0 4.4,0a2.2,2.2 0 1,0 -4.4,0M118.9,269.1a2.2,2.2 0 1,0 4.4,0a2.2,2.2 0 1,0 -4.4,0M119.1,272.6a2.2,2.2 0 1,0 4.4,0a2.2,2.2 0 1,0 -4.4,0M119.5,279.6a2.2,2.2 0 1,0 4.4,0a2.2,2.2 0 1,0 -4.4,0M118.6,283.1a2.2,2.2 0 1,0 4.4,0a2.2,2.2 0 1,0 -4.4,0M118.9,286.6a2.2,2.2 0 1,0 4.4,0a2.2,2.2 0 1,0 -4.4,0M119.1,290.1a2.2,2.2 0 1,0 4.4,0a2.2,2.2 0 1,0 -4.4,0M118.9,293.6a2.2,2.2 0 1,0 4.4,0a2.2,2.2 0 1,0 -4.4,0M118.4,297.1a2.2,2.2 0 1,0 4.4,0a2.2,2.2 0 1,0 -4.4,0M118.4,300.6a2.2,2.2 0 1,0 4.4,0a2.2,2.2 0 1,0 -4.4,0M122.2,270.2a2.2,2.2 0 1,0 4.4,0a2.2,2.2 0 1,0 -4.4,0M121.9,273.7a2.2,2.2 0 1,0 4.4,0a2.2,2.2 0 1,0 -4.4,0M122.8,277.2a2.2,2.2 0 1,0 4.4,0a2.2,2.2 0 1,0 -4.4,0M121.9,280.7a2.2,2.2 0 1,0 4.4,0a2.2,2.2 0 1,0 -4.4,0M122.6,284.2a2.2,2.2 0 1,0 4.4,0a2.2,2.2 0 1,0 -4.4,0M122.9,287.7a2.2,2.2 0 1,0 4.4,0a2.2,2.2 0 1,0 -4.4,0M122.6,298.2a2.2,2.2 0 1,0 4.4,0a2.2,2.2 0 1,0 -4.4,0M122.8,301.7a2.2,2.2 0 1,0 4.4,0a2.2,2.2 0 1,0 -4.4,0M122.2,305.2a2.2,2.2 0 1,0 4.4,0a2.2,2.2 0 1,0 -4.4,0M138.3,248.3a2.2,2.2 0 1,0 4.4,0a2.2,2.2 0 1,0 -4.4,0M139.7,254.4a2.2,2.2 0 1,0 4.4,0a2.2,2.2 0 1,0 -4.4,0M142.9,258.7a2.2,2.2 0 1,0 4.4,0a2.2,2.2 0 1,0 -4.4,0M146,255.9a2.2,2.2 0 1,0 4.4,0a2.2,2.2 0 1,0 -4.4,0M149,261.1a2.2,2.2 0 1,0 4.4,0a2.2,2.2 0 1,0 -4.4,0M151.2,260.8a2.2,2.2 0 1,0 4.4,0a2.2,2.2 0 1,0 -4.4,0M153.8,259.9a2.2,2.2 0 1,0 4.4,0a2.2,2.2 0 1,0 -4.4,0M157,260a2.2,2.2 0 1,0 4.4,0a2.2,2.2 0 1,0 -4.4,0M160.8,259.4a2.2,2.2 0 1,0 4.4,0a2.2,2.2 0 1,0 -4.4,0M164.1,260.7a2.2,2.2 0 1,0 4.4,0a2.2,2.2 0 1,0 -4.4,0M165.7,261.6a2.2,2.2 0 1,0 4.4,0a2.2,2.2 0 1,0 -4.4,0M168.9,260.9a2.2,2.2 0 1,0 4.4,0a2.2,2.2 0 1,0 -4.4,0M126.9,308.6a2.2,2.2 0 1,0 4.4,0a2.2,2.2 0 1,0 -4.4,0M131.4,310.6a2.2,2.2 0 1,0 4.4,0a2.2,2.2 0 1,0 -4.4,0M133,313.4a2.2,2.2 0 1,0 4.4,0a2.2,2.2 0 1,0 -4.4,0M135.1,309.9a2.2,2.2 0 1,0 4.4,0a2.2,2.2 0 1,0 -4.4,0M136.6,307.1a2.2,2.2 0 1,0 4.4,0a2.2,2.2 0 1,0 -4.4,0M138.3,307.2a2.2,2.2 0 1,0 4.4,0a2.2,2.2 0 1,0 -4.4,0M141.2,306.9a2.2,2.2 0 1,0 4.4,0a2.2,2.2 0 1,0 -4.4,0M143.1,309.5a2.2,2.2 0 1,0 4.4,0a2.2,2.2 0 1,0 -4.4,0M147.7,308.5a2.2,2.2 0 1,0 4.4,0a2.2,2.2 0 1,0 -4.4,0M149.1,312a2.2,2.2 0 1,0 4.4,0a2.2,2.2 0 1,0 -4.4,0M152.9,309.6a2.2,2.2 0 1,0 4.4,0a2.2,2.2 0 1,0 -4.4,0M154.1,309.3a2.2,2.2 0 1,0 4.4,0a2.2,2.2 0 1,0 -4.4,0M158.9,310.9a2.2,2.2 0 1,0 4.4,0a2.2,2.2 0 1,0 -4.4,0M162,311.7a2.2,2.2 0 1,0 4.4,0a2.2,2.2 0 1,0 -4.4,0M164.1,310.6a2.2,2.2 0 1,0 4.4,0a2.2,2.2 0 1,0 -4.4,0M165.3,310.4a2.2,2.2 0 1,0 4.4,0a2.2,2.2 0 1,0 -4.4,0M166.9,309.5a2.2,2.2 0 1,0 4.4,0a2.2,2.2 0 1,0 -4.4,0M168.9,307.1a2.2,2.2 0 1,0 4.4,0a2.2,2.2 0 1,0 -4.4,0M142,246.7a2.2,2.2 0 1,0 4.4,0a2.2,2.2 0 1,0 -4.4,0M149.2,257.6a2.2,2.2 0 1,0 4.4,0a2.2,2.2 0 1,0 -4.4,0M150.9,258.4a2.2,2.2 0 1,0 4.4,0a2.2,2.2 0 1,0 -4.4,0M164.9,314.1a2.2,2.2 0 1,0 4.4,0a2.2,2.2 0 1,0 -4.4,0M127.4,254.9a2.2,2.2 0 1,0 4.4,0a2.2,2.2 0 1,0 -4.4,0M143.1,256.1a2.2,2.2 0 1,0 4.4,0a2.2,2.2 0 1,0 -4.4,0M163.2,257.7a2.2,2.2 0 1,0 4.4,0a2.2,2.2 0 1,0 -4.4,0M147.6,311.6a2.2,2.2 0 1,0 4.4,0a2.2,2.2 0 1,0 -4.4,0M149.8,256.3a2.2,2.2 0 1,0 4.4,0a2.2,2.2 0 1,0 -4.4,0M127.5,270.5a2.2,2.2 0 1,0 4.4,0a2.2,2.2 0 1,0 -4.4,0M128,277.5a2.2,2.2 0 1,0 4.4,0a2.2,2.2 0 1,0 -4.4,0M127.8,284.5a2.2,2.2 0 1,0 4.4,0a2.2,2.2 0 1,0 -4.4,0M128.4,302a2.2,2.2 0 1,0 4.4,0a2.2,2.2 0 1,0 -4.4,0M167.5,270.1a2.2,2.2 0 1,0 4.4,0a2.2,2.2 0 1,0 -4.4,0M168,277.1a2.2,2.2 0 1,0 4.4,0a2.2,2.2 0 1,0 -4.4,0M167.9,301.6a2.2,2.2 0 1,0 4.4,0a2.2,2.2 0 1,0 -4.4,0M50.9,244.4a2.2,2.2 0 1,0 4.4,0a2.2,2.2 0 1,0 -4.4,0M53,251.2a2.2,2.2 0 1,0 4.4,0a2.2,2.2 0 1,0 -4.4,0M72,253.4a2.2,2.2 0 1,0 4.4,0a2.2,2.2 0 1,0 -4.4,0M86.4,257.2a2.2,2.2 0 1,0 4.4,0a2.2,2.2 0 1,0 -4.4,0M95,258.9a2.2,2.2 0 1,0 4.4,0a2.2,2.2 0 1,0 -4.4,0M108.1,257.2a2.2,2.2 0 1,0 4.4,0a2.2,2.2 0 1,0 -4.4,0M120,254.6a2.2,2.2 0 1,0 4.4,0a2.2,2.2 0 1,0 -4.4,0M127.3,242.8a2.2,2.2 0 1,0 4.4,0a2.2,2.2 0 1,0 -4.4,0M145.4,239a2.2,2.2 0 1,0 4.4,0a2.2,2.2 0 1,0 -4.4,0M151,236a2.2,2.2 0 1,0 4.4,0a2.2,2.2 0 1,0 -4.4,0M152.7,244.8a2.2,2.2 0 1,0 4.4,0a2.2,2.2 0 1,0 -4.4,0M144.1,246.5a2.2,2.2 0 1,0 4.4,0a2.2,2.2 0 1,0 -4.4,0M159,251.6a2.2,2.2 0 1,0 4.4,0a2.2,2.2 0 1,0 -4.4,0M167.5,253.8a2.2,2.2 0 1,0 4.4,0a2.2,2.2 0 1,0 -4.4,0M167.5,227a2.2,2.2 0 1,0 4.4,0a2.2,2.2 0 1,0 -4.4,0M58.1,312.3a2.2,2.2 0 1,0 4.4,0a2.2,2.2 0 1,0 -4.4,0M86.6,311.1a2.2,2.2 0 1,0 4.4,0a2.2,2.2 0 1,0 -4.4,0M111.5,313.2a2.2,2.2 0 1,0 4.4,0a2.2,2.2 0 1,0 -4.4,0M120.8,314a2.2,2.2 0 1,0 4.4,0a2.2,2.2 0 1,0 -4.4,0M130.7,315.7a2.2,2.2 0 1,0 4.4,0a2.2,2.2 0 1,0 -4.4,0M140.9,312.3a2.2,2.2 0 1,0 4.4,0a2.2,2.2 0 1,0 -4.4,0M152.7,312.3a2.2,2.2 0 1,0 4.4,0a2.2,2.2 0 1,0 -4.4,0M159.5,320.1a2.2,2.2 0 1,0 4.4,0a2.2,2.2 0 1,0 -4.4,0M161.6,315.7a2.2,2.2 0 1,0 4.4,0a2.2,2.2 0 1,0 -4.4,0M166.3,314a2.2,2.2 0 1,0 4.4,0a2.2,2.2 0 1,0 -4.4,0M151.4,337.2a2.2,2.2 0 1,0 4.4,0a2.2,2.2 0 1,0 -4.4,0M152.7,343.3a2.2,2.2 0 1,0 4.4,0a2.2,2.2 0 1,0 -4.4,0M64.9,305.5a2.2,2.2 0 1,0 4.4,0a2.2,2.2 0 1,0 -4.4,0M75,307.2a2.2,2.2 0 1,0 4.4,0a2.2,2.2 0 1,0 -4.4,0M98.8,307.2a2.2,2.2 0 1,0 4.4,0a2.2,2.2 0 1,0 -4.4,0M108.1,308.1a2.2,2.2 0 1,0 4.4,0a2.2,2.2 0 1,0 -4.4,0" stroke="#3f55ad" stroke-width="1.1" fill="none"/><path d="M51.8,283 L95.9,284.3 L129.8,285.2 L170.5,284" stroke="#b02c64" stroke-width="1.6" fill="none" stroke-linejoin="round"/></g><rect x="45" y="219" width="133" height="132" fill="none" stroke="#484848" stroke-width="1.2"/><path d="M58,351v4M58,219v-4M80.9,351v4M80.9,219v-4M103.7,351v4M103.7,219v-4M126.6,351v4M126.6,219v-4M149.4,351v4M149.4,219v-4M172.3,351v4M172.3,219v-4M45,349.7h-4M178,349.7h4M45,327.8h-4M178,327.8h4M45,305.8h-4M178,305.8h4M45,283.9h-4M178,283.9h4M45,261.9h-4M178,261.9h4M45,240h-4M178,240h4" stroke="#484848" stroke-width="1.2" fill="none"/><text x="58" y="367" text-anchor="middle" class="t">125</text><text x="80.9" y="367" text-anchor="middle" class="t">130</text><text x="103.7" y="367" text-anchor="middle" class="t">135</text><text x="126.6" y="367" text-anchor="middle" class="t">140</text><text x="149.4" y="367" text-anchor="middle" class="t">145</text><text x="172.3" y="367" text-anchor="middle" class="t">150</text><text x="39" y="331.8" text-anchor="end" class="t">-4</text><text x="39" y="309.8" text-anchor="end" class="t">-2</text><text x="39" y="287.9" text-anchor="end" class="t">0</text><text x="39" y="265.9" text-anchor="end" class="t">2</text><text x="39" y="244" text-anchor="end" class="t">4</text><text x="111.5" y="381" text-anchor="middle" class="a">Population predictions</text><clipPath id="cP6"><rect x="227" y="218" width="133" height="132"/></clipPath><g clip-path="url(#cP6)"><path d="M227,283L360,283" stroke="#333" stroke-width="1" fill="none"/><path d="M234.4,263.8 L236,260.9 L237.6,256.3 L239.2,255.5 L240.8,259.3 L242.4,257.7 L244,258.8 L245.6,262.6 L247.3,262.8 L248.9,260.5 L250.5,261.6 L252.1,260.5 L253.7,257.3 L255.3,256 L256.9,252.8 L258.5,247.4 L260.1,246.8 L261.7,249.2 L263.3,251.8 L265,253.7 L266.6,254.2 L268.2,257.7 L269.8,252.6 L271.4,259.1 L273,260.1 L274.6,257.5 L276.2,255 L277.8,253.9 L279.4,249.4 L281,253.9 L282.7,255.5 L284.3,256.1 L285.9,256.2 L287.5,255.4 L289.1,259.6 L290.7,256.7 L292.3,257.1 L293.9,255.8 L295.5,259.4 L297.1,254.8 L298.7,261.8 L300.4,259.4 L302,258.8 L303.6,258.4 L305.2,260.8 L306.8,257.5 L308.4,262.8 L310,263.5 L311.6,264.4 L313.2,265.6 L314.8,260.9 L316.4,264.3 L318.1,263.8 L319.7,258.8 L321.3,257.1 L322.9,257.9 L324.5,257.9 L326.1,261.1 L327.7,259.4 L329.3,258.8 L330.9,254.6 L332.5,258.6 L334.1,255.8 L335.8,255.2 L337.4,256.1 L339,257.1 L340.6,260.2 L342.2,259.3 L343.8,260.8 L345.4,261.5 L347,264.9 L348.6,267.6 L350.2,271.2 L350.2,301.1 L348.6,298.2 L347,300.9 L345.4,301.4 L343.8,303.3 L342.2,303.8 L340.6,304.9 L339,304.1 L337.4,309.8 L335.8,307.5 L334.1,307.9 L332.5,306.7 L330.9,305.2 L329.3,305.1 L327.7,306.7 L326.1,304.4 L324.5,303.6 L322.9,304.3 L321.3,303.6 L319.7,305.7 L318.1,298.9 L316.4,296.6 L314.8,298.4 L313.2,298.6 L311.6,301.8 L310,300.5 L308.4,301.7 L306.8,303.8 L305.2,308.9 L303.6,306.6 L302,311.8 L300.4,307.9 L298.7,305.5 L297.1,306.4 L295.5,305.9 L293.9,306 L292.3,304.9 L290.7,309.3 L289.1,305.8 L287.5,310.1 L285.9,310.7 L284.3,309.4 L282.7,303.8 L281,309.4 L279.4,304.1 L277.8,305.3 L276.2,307.6 L274.6,307 L273,310.7 L271.4,306.4 L269.8,306 L268.2,308.7 L266.6,311.6 L265,308.1 L263.3,309 L261.7,310.5 L260.1,314.9 L258.5,308.7 L256.9,306.4 L255.3,306.3 L253.7,307.2 L252.1,307.6 L250.5,306.7 L248.9,308.3 L247.3,307 L245.6,306.1 L244,307.7 L242.4,309.4 L240.8,309.7 L239.2,306.9 L237.6,303.3 L236,298.9 L234.4,290.9Z" fill="#1a449a" stroke="#1a449a" stroke-width="0.5"/><path d="M303.4,254.4L303.6,259.9M349.5,304.7L350.2,299.6M258.4,245.2L258.5,248.9M280.4,250.8L281,255.4M343.7,306.7L343.8,301.8M297.1,251.5L297.1,256.3M277.2,307.5L277.8,303.8M305.9,312.2L305.2,307.4M275.8,310.2L276.2,306.1M236.8,253.6L237.6,257.8M319.8,255.1L319.7,260.3M295.7,309.3L295.5,304.4M267.8,254.5L268.2,259.2M242.1,253.4L242.4,259.2M337.9,314L337.4,308.3M333.9,310.5L334.1,306.4M257.6,249.3L256.9,254.3M313.8,300.9L313.2,297.1M304.1,254.7L303.6,259.9M263.5,247.4L263.3,253.3M247,258.3L247.3,264.3M279.2,306.4L279.4,302.6M317.7,259.4L318.1,265.3M239.5,252.1L239.2,257M308.7,259.5L308.4,264.3M312.1,304.4L311.6,300.3M237.3,254.3L237.6,257.8M237.2,252.9L237.6,257.8M342.9,306L342.2,302.3M248.2,257.9L248.9,262M249.4,312.2L248.9,306.8M326.8,308.8L326.1,302.9M343.5,307.7L343.8,301.8M330.8,309.3L330.9,303.7M348,302.2L348.6,296.7M285.2,225.6L285.2,253.6M293.5,234.5L293.5,254.5M272.5,237.8L272.5,257M309.3,251.9L309.3,262.1M318.3,242.6L318.3,262.1M337.3,241.8L337.3,257M344.1,243.4L344.1,258.7M274.8,337.3L274.8,309.6M343.7,343L343.7,302.8M347.1,319.8L345.8,304.5" stroke="#2a48a6" stroke-width="1.1" fill="none"/><path d="M232.1,263.8a2.2,2.2 0 1,0 4.4,0a2.2,2.2 0 1,0 -4.4,0M233.6,260.6a2.2,2.2 0 1,0 4.4,0a2.2,2.2 0 1,0 -4.4,0M238.6,259.2a2.2,2.2 0 1,0 4.4,0a2.2,2.2 0 1,0 -4.4,0M240.5,257.9a2.2,2.2 0 1,0 4.4,0a2.2,2.2 0 1,0 -4.4,0M241.6,258.9a2.2,2.2 0 1,0 4.4,0a2.2,2.2 0 1,0 -4.4,0M245,262.6a2.2,2.2 0 1,0 4.4,0a2.2,2.2 0 1,0 -4.4,0M251.6,257.6a2.2,2.2 0 1,0 4.4,0a2.2,2.2 0 1,0 -4.4,0M254.4,252.5a2.2,2.2 0 1,0 4.4,0a2.2,2.2 0 1,0 -4.4,0M258.2,246.9a2.2,2.2 0 1,0 4.4,0a2.2,2.2 0 1,0 -4.4,0M259.9,249.5a2.2,2.2 0 1,0 4.4,0a2.2,2.2 0 1,0 -4.4,0M262.8,253.6a2.2,2.2 0 1,0 4.4,0a2.2,2.2 0 1,0 -4.4,0M264.7,254.4a2.2,2.2 0 1,0 4.4,0a2.2,2.2 0 1,0 -4.4,0M265.8,257.6a2.2,2.2 0 1,0 4.4,0a2.2,2.2 0 1,0 -4.4,0M269.1,259.3a2.2,2.2 0 1,0 4.4,0a2.2,2.2 0 1,0 -4.4,0M271,260a2.2,2.2 0 1,0 4.4,0a2.2,2.2 0 1,0 -4.4,0M275.7,253.7a2.2,2.2 0 1,0 4.4,0a2.2,2.2 0 1,0 -4.4,0M277.3,249.5a2.2,2.2 0 1,0 4.4,0a2.2,2.2 0 1,0 -4.4,0M278.5,253.7a2.2,2.2 0 1,0 4.4,0a2.2,2.2 0 1,0 -4.4,0M281.9,256.2a2.2,2.2 0 1,0 4.4,0a2.2,2.2 0 1,0 -4.4,0M285.1,255.5a2.2,2.2 0 1,0 4.4,0a2.2,2.2 0 1,0 -4.4,0M287.1,259.4a2.2,2.2 0 1,0 4.4,0a2.2,2.2 0 1,0 -4.4,0M288.5,257a2.2,2.2 0 1,0 4.4,0a2.2,2.2 0 1,0 -4.4,0M289.9,256.9a2.2,2.2 0 1,0 4.4,0a2.2,2.2 0 1,0 -4.4,0M291.6,255.8a2.2,2.2 0 1,0 4.4,0a2.2,2.2 0 1,0 -4.4,0M294.9,254.8a2.2,2.2 0 1,0 4.4,0a2.2,2.2 0 1,0 -4.4,0M300.1,258.7a2.2,2.2 0 1,0 4.4,0a2.2,2.2 0 1,0 -4.4,0M303.1,260.8a2.2,2.2 0 1,0 4.4,0a2.2,2.2 0 1,0 -4.4,0M304.3,257.7a2.2,2.2 0 1,0 4.4,0a2.2,2.2 0 1,0 -4.4,0M306.4,262.8a2.2,2.2 0 1,0 4.4,0a2.2,2.2 0 1,0 -4.4,0M307.6,263.3a2.2,2.2 0 1,0 4.4,0a2.2,2.2 0 1,0 -4.4,0M309.6,264.4a2.2,2.2 0 1,0 4.4,0a2.2,2.2 0 1,0 -4.4,0M311.2,265.6a2.2,2.2 0 1,0 4.4,0a2.2,2.2 0 1,0 -4.4,0M312.4,260.7a2.2,2.2 0 1,0 4.4,0a2.2,2.2 0 1,0 -4.4,0M317.3,258.6a2.2,2.2 0 1,0 4.4,0a2.2,2.2 0 1,0 -4.4,0M319,257.3a2.2,2.2 0 1,0 4.4,0a2.2,2.2 0 1,0 -4.4,0M326.8,258.6a2.2,2.2 0 1,0 4.4,0a2.2,2.2 0 1,0 -4.4,0M328.8,254.8a2.2,2.2 0 1,0 4.4,0a2.2,2.2 0 1,0 -4.4,0M331.7,256.1a2.2,2.2 0 1,0 4.4,0a2.2,2.2 0 1,0 -4.4,0M334.8,256.4a2.2,2.2 0 1,0 4.4,0a2.2,2.2 0 1,0 -4.4,0M337.1,256.9a2.2,2.2 0 1,0 4.4,0a2.2,2.2 0 1,0 -4.4,0M340.3,259.2a2.2,2.2 0 1,0 4.4,0a2.2,2.2 0 1,0 -4.4,0M341.4,261a2.2,2.2 0 1,0 4.4,0a2.2,2.2 0 1,0 -4.4,0M347.9,271a2.2,2.2 0 1,0 4.4,0a2.2,2.2 0 1,0 -4.4,0M233.9,298.9a2.2,2.2 0 1,0 4.4,0a2.2,2.2 0 1,0 -4.4,0M235.4,303.6a2.2,2.2 0 1,0 4.4,0a2.2,2.2 0 1,0 -4.4,0M236.7,307a2.2,2.2 0 1,0 4.4,0a2.2,2.2 0 1,0 -4.4,0M240,309.6a2.2,2.2 0 1,0 4.4,0a2.2,2.2 0 1,0 -4.4,0M241.6,307.5a2.2,2.2 0 1,0 4.4,0a2.2,2.2 0 1,0 -4.4,0M243.4,306.1a2.2,2.2 0 1,0 4.4,0a2.2,2.2 0 1,0 -4.4,0M247.9,306.9a2.2,2.2 0 1,0 4.4,0a2.2,2.2 0 1,0 -4.4,0M249.7,307.3a2.2,2.2 0 1,0 4.4,0a2.2,2.2 0 1,0 -4.4,0M254.5,306.6a2.2,2.2 0 1,0 4.4,0a2.2,2.2 0 1,0 -4.4,0M258.1,315a2.2,2.2 0 1,0 4.4,0a2.2,2.2 0 1,0 -4.4,0M259.3,310.6a2.2,2.2 0 1,0 4.4,0a2.2,2.2 0 1,0 -4.4,0M260.9,308.8a2.2,2.2 0 1,0 4.4,0a2.2,2.2 0 1,0 -4.4,0M262.5,308.1a2.2,2.2 0 1,0 4.4,0a2.2,2.2 0 1,0 -4.4,0M267.8,305.8a2.2,2.2 0 1,0 4.4,0a2.2,2.2 0 1,0 -4.4,0M269.5,306.6a2.2,2.2 0 1,0 4.4,0a2.2,2.2 0 1,0 -4.4,0M274.3,307.7a2.2,2.2 0 1,0 4.4,0a2.2,2.2 0 1,0 -4.4,0M275.4,305.1a2.2,2.2 0 1,0 4.4,0a2.2,2.2 0 1,0 -4.4,0M278.8,309.4a2.2,2.2 0 1,0 4.4,0a2.2,2.2 0 1,0 -4.4,0M280.6,304a2.2,2.2 0 1,0 4.4,0a2.2,2.2 0 1,0 -4.4,0M285,310.2a2.2,2.2 0 1,0 4.4,0a2.2,2.2 0 1,0 -4.4,0M288.4,309.1a2.2,2.2 0 1,0 4.4,0a2.2,2.2 0 1,0 -4.4,0M292,305.9a2.2,2.2 0 1,0 4.4,0a2.2,2.2 0 1,0 -4.4,0M293.3,306a2.2,2.2 0 1,0 4.4,0a2.2,2.2 0 1,0 -4.4,0M296.7,305.5a2.2,2.2 0 1,0 4.4,0a2.2,2.2 0 1,0 -4.4,0M302.8,309.1a2.2,2.2 0 1,0 4.4,0a2.2,2.2 0 1,0 -4.4,0M305.9,301.6a2.2,2.2 0 1,0 4.4,0a2.2,2.2 0 1,0 -4.4,0M309.7,301.8a2.2,2.2 0 1,0 4.4,0a2.2,2.2 0 1,0 -4.4,0M312.6,298.5a2.2,2.2 0 1,0 4.4,0a2.2,2.2 0 1,0 -4.4,0M314.6,296.4a2.2,2.2 0 1,0 4.4,0a2.2,2.2 0 1,0 -4.4,0M316,299a2.2,2.2 0 1,0 4.4,0a2.2,2.2 0 1,0 -4.4,0M321.9,303.5a2.2,2.2 0 1,0 4.4,0a2.2,2.2 0 1,0 -4.4,0M325.5,306.9a2.2,2.2 0 1,0 4.4,0a2.2,2.2 0 1,0 -4.4,0M327.1,305.3a2.2,2.2 0 1,0 4.4,0a2.2,2.2 0 1,0 -4.4,0M330.3,306.6a2.2,2.2 0 1,0 4.4,0a2.2,2.2 0 1,0 -4.4,0M337,304.1a2.2,2.2 0 1,0 4.4,0a2.2,2.2 0 1,0 -4.4,0M340.3,303.9a2.2,2.2 0 1,0 4.4,0a2.2,2.2 0 1,0 -4.4,0M341.7,303.5a2.2,2.2 0 1,0 4.4,0a2.2,2.2 0 1,0 -4.4,0M343.6,301.1a2.2,2.2 0 1,0 4.4,0a2.2,2.2 0 1,0 -4.4,0M348.3,300.9a2.2,2.2 0 1,0 4.4,0a2.2,2.2 0 1,0 -4.4,0M301.2,254.4a2.2,2.2 0 1,0 4.4,0a2.2,2.2 0 1,0 -4.4,0M347.3,304.7a2.2,2.2 0 1,0 4.4,0a2.2,2.2 0 1,0 -4.4,0M256.2,245.2a2.2,2.2 0 1,0 4.4,0a2.2,2.2 0 1,0 -4.4,0M278.2,250.8a2.2,2.2 0 1,0 4.4,0a2.2,2.2 0 1,0 -4.4,0M341.5,306.7a2.2,2.2 0 1,0 4.4,0a2.2,2.2 0 1,0 -4.4,0M294.9,251.5a2.2,2.2 0 1,0 4.4,0a2.2,2.2 0 1,0 -4.4,0M275,307.5a2.2,2.2 0 1,0 4.4,0a2.2,2.2 0 1,0 -4.4,0M303.7,312.2a2.2,2.2 0 1,0 4.4,0a2.2,2.2 0 1,0 -4.4,0M273.6,310.2a2.2,2.2 0 1,0 4.4,0a2.2,2.2 0 1,0 -4.4,0M234.6,253.6a2.2,2.2 0 1,0 4.4,0a2.2,2.2 0 1,0 -4.4,0M317.6,255.1a2.2,2.2 0 1,0 4.4,0a2.2,2.2 0 1,0 -4.4,0M293.5,309.3a2.2,2.2 0 1,0 4.4,0a2.2,2.2 0 1,0 -4.4,0M265.6,254.5a2.2,2.2 0 1,0 4.4,0a2.2,2.2 0 1,0 -4.4,0M239.9,253.4a2.2,2.2 0 1,0 4.4,0a2.2,2.2 0 1,0 -4.4,0M335.7,314a2.2,2.2 0 1,0 4.4,0a2.2,2.2 0 1,0 -4.4,0M331.7,310.5a2.2,2.2 0 1,0 4.4,0a2.2,2.2 0 1,0 -4.4,0M255.4,249.3a2.2,2.2 0 1,0 4.4,0a2.2,2.2 0 1,0 -4.4,0M311.6,300.9a2.2,2.2 0 1,0 4.4,0a2.2,2.2 0 1,0 -4.4,0M301.9,254.7a2.2,2.2 0 1,0 4.4,0a2.2,2.2 0 1,0 -4.4,0M261.3,247.4a2.2,2.2 0 1,0 4.4,0a2.2,2.2 0 1,0 -4.4,0M244.8,258.3a2.2,2.2 0 1,0 4.4,0a2.2,2.2 0 1,0 -4.4,0M277,306.4a2.2,2.2 0 1,0 4.4,0a2.2,2.2 0 1,0 -4.4,0M315.5,259.4a2.2,2.2 0 1,0 4.4,0a2.2,2.2 0 1,0 -4.4,0M237.3,252.1a2.2,2.2 0 1,0 4.4,0a2.2,2.2 0 1,0 -4.4,0M306.5,259.5a2.2,2.2 0 1,0 4.4,0a2.2,2.2 0 1,0 -4.4,0M309.9,304.4a2.2,2.2 0 1,0 4.4,0a2.2,2.2 0 1,0 -4.4,0M235.1,254.3a2.2,2.2 0 1,0 4.4,0a2.2,2.2 0 1,0 -4.4,0M235,252.9a2.2,2.2 0 1,0 4.4,0a2.2,2.2 0 1,0 -4.4,0M340.7,306a2.2,2.2 0 1,0 4.4,0a2.2,2.2 0 1,0 -4.4,0M246,257.9a2.2,2.2 0 1,0 4.4,0a2.2,2.2 0 1,0 -4.4,0M247.2,312.2a2.2,2.2 0 1,0 4.4,0a2.2,2.2 0 1,0 -4.4,0M324.6,308.8a2.2,2.2 0 1,0 4.4,0a2.2,2.2 0 1,0 -4.4,0M341.3,307.7a2.2,2.2 0 1,0 4.4,0a2.2,2.2 0 1,0 -4.4,0M328.6,309.3a2.2,2.2 0 1,0 4.4,0a2.2,2.2 0 1,0 -4.4,0M345.8,302.2a2.2,2.2 0 1,0 4.4,0a2.2,2.2 0 1,0 -4.4,0M233.4,276.3a2.2,2.2 0 1,0 4.4,0a2.2,2.2 0 1,0 -4.4,0M233,283.3a2.2,2.2 0 1,0 4.4,0a2.2,2.2 0 1,0 -4.4,0M347.5,273.2a2.2,2.2 0 1,0 4.4,0a2.2,2.2 0 1,0 -4.4,0M347.2,287.2a2.2,2.2 0 1,0 4.4,0a2.2,2.2 0 1,0 -4.4,0M283,225.6a2.2,2.2 0 1,0 4.4,0a2.2,2.2 0 1,0 -4.4,0M291.3,234.5a2.2,2.2 0 1,0 4.4,0a2.2,2.2 0 1,0 -4.4,0M270.3,237.8a2.2,2.2 0 1,0 4.4,0a2.2,2.2 0 1,0 -4.4,0M294.4,245.1a2.2,2.2 0 1,0 4.4,0a2.2,2.2 0 1,0 -4.4,0M254,246.5a2.2,2.2 0 1,0 4.4,0a2.2,2.2 0 1,0 -4.4,0M260.1,248.5a2.2,2.2 0 1,0 4.4,0a2.2,2.2 0 1,0 -4.4,0M266.4,247.2a2.2,2.2 0 1,0 4.4,0a2.2,2.2 0 1,0 -4.4,0M275.7,250.2a2.2,2.2 0 1,0 4.4,0a2.2,2.2 0 1,0 -4.4,0M307.1,251.9a2.2,2.2 0 1,0 4.4,0a2.2,2.2 0 1,0 -4.4,0M316.1,242.6a2.2,2.2 0 1,0 4.4,0a2.2,2.2 0 1,0 -4.4,0M318.6,249.9a2.2,2.2 0 1,0 4.4,0a2.2,2.2 0 1,0 -4.4,0M327.4,255.7a2.2,2.2 0 1,0 4.4,0a2.2,2.2 0 1,0 -4.4,0M335.1,241.8a2.2,2.2 0 1,0 4.4,0a2.2,2.2 0 1,0 -4.4,0M341.9,243.4a2.2,2.2 0 1,0 4.4,0a2.2,2.2 0 1,0 -4.4,0M349.5,256.2a2.2,2.2 0 1,0 4.4,0a2.2,2.2 0 1,0 -4.4,0M239.2,255a2.2,2.2 0 1,0 4.4,0a2.2,2.2 0 1,0 -4.4,0M235,257.4a2.2,2.2 0 1,0 4.4,0a2.2,2.2 0 1,0 -4.4,0M272.6,337.3a2.2,2.2 0 1,0 4.4,0a2.2,2.2 0 1,0 -4.4,0M341.5,343a2.2,2.2 0 1,0 4.4,0a2.2,2.2 0 1,0 -4.4,0M344.9,319.8a2.2,2.2 0 1,0 4.4,0a2.2,2.2 0 1,0 -4.4,0M240.4,315.2a2.2,2.2 0 1,0 4.4,0a2.2,2.2 0 1,0 -4.4,0M257.4,315.5a2.2,2.2 0 1,0 4.4,0a2.2,2.2 0 1,0 -4.4,0M285.2,313.5a2.2,2.2 0 1,0 4.4,0a2.2,2.2 0 1,0 -4.4,0M297.7,314.2a2.2,2.2 0 1,0 4.4,0a2.2,2.2 0 1,0 -4.4,0M320.6,312.3a2.2,2.2 0 1,0 4.4,0a2.2,2.2 0 1,0 -4.4,0M332,312.7a2.2,2.2 0 1,0 4.4,0a2.2,2.2 0 1,0 -4.4,0M268.6,312.5a2.2,2.2 0 1,0 4.4,0a2.2,2.2 0 1,0 -4.4,0M237.2,309.6a2.2,2.2 0 1,0 4.4,0a2.2,2.2 0 1,0 -4.4,0" stroke="#3f55ad" stroke-width="1.1" fill="none"/><path d="M233.8,283.8 L238.7,283.8 L243.6,283.8 L248.5,283.8 L253.4,283.8 L258.3,283.7 L263.3,283.7 L268.2,283.7 L273.1,283.6 L278,283.6 L282.9,283.6 L287.8,283.5 L292.7,283.5 L297.6,283.5 L302.6,283.4 L307.5,283.4 L312.4,283.3 L317.3,283.3 L322.2,283.2 L327.1,283.1 L332,283.1 L336.9,283 L341.9,282.9 L346.8,282.9 L351.7,282.8" stroke="#b02c64" stroke-width="1.6" fill="none" stroke-linejoin="round"/></g><rect x="227" y="218" width="133" height="132" fill="none" stroke="#484848" stroke-width="1.2"/><path d="M240,350v4M240,218v-4M262.4,350v4M262.4,218v-4M284.7,350v4M284.7,218v-4M307.1,350v4M307.1,218v-4M329.4,350v4M329.4,218v-4M351.8,350v4M351.8,218v-4M227,349.6h-4M360,349.6h4M227,327.5h-4M360,327.5h4M227,305.4h-4M360,305.4h4M227,283.3h-4M360,283.3h4M227,261.2h-4M360,261.2h4M227,239.1h-4M360,239.1h4" stroke="#484848" stroke-width="1.2" fill="none"/><text x="240" y="366" text-anchor="middle" class="t">0.4</text><text x="262.4" y="366" text-anchor="middle" class="t">0.6</text><text x="284.7" y="366" text-anchor="middle" class="t">0.8</text><text x="307.1" y="366" text-anchor="middle" class="t">1.0</text><text x="329.4" y="366" text-anchor="middle" class="t">1.2</text><text x="351.8" y="366" text-anchor="middle" class="t">1.4</text><text x="221" y="331.5" text-anchor="end" class="t">-4</text><text x="221" y="309.4" text-anchor="end" class="t">-2</text><text x="221" y="287.3" text-anchor="end" class="t">0</text><text x="221" y="265.2" text-anchor="end" class="t">2</text><text x="221" y="243.1" text-anchor="end" class="t">4</text><text x="293.5" y="380" text-anchor="middle" class="a">Time</text><clipPath id="cP7"><rect x="448.6" y="218.5" width="137" height="132.8"/></clipPath><g clip-path="url(#cP7)"><path d="M449,290L586,290" stroke="#333" stroke-width="1" fill="none"/><path d="M456.2,268.5 L458.1,271.7 L460,268 L461.9,271.1 L463.8,268.1 L463.8,313.6 L461.9,314.5 L460,312.6 L458.1,311.2 L456.2,315Z" fill="#1a449a" stroke="#1a449a" stroke-width="0.5"/><path d="M465,271.7 L466.7,271.7 L468.5,268.8 L470.2,271.5 L472,270.4 L473.7,272 L473.7,311.3 L472,314.2 L470.2,312.2 L468.5,313.3 L466.7,312.6 L465,312.1Z" fill="#1a449a" stroke="#1a449a" stroke-width="0.5"/><path d="M477.6,271.2 L479.2,269.4 L480.9,272.8 L482.6,273.3 L484.2,271.2 L484.2,313.1 L482.6,313.1 L480.9,312.8 L479.2,314.1 L477.6,313.5Z" fill="#1a449a" stroke="#1a449a" stroke-width="0.5"/><path d="M488.4,270.5 L490.2,270 L492,269.4 L493.8,269.4 L495.6,272.1 L495.6,313.1 L493.8,314.6 L492,312.3 L490.2,312.5 L488.4,313.6Z" fill="#1a449a" stroke="#1a449a" stroke-width="0.5"/><path d="M501.1,270.4 L503,273.1 L504.9,270.7 L506.8,269.9 L508.7,269.4 L508.7,315.7 L506.8,314.5 L504.9,313.4 L503,314.5 L501.1,316.2Z" fill="#1a449a" stroke="#1a449a" stroke-width="0.5"/><path d="M514.3,272.1 L516.1,273.7 L518,272.2 L519.9,274.1 L521.8,274.9 L521.8,320.6 L519.9,319 L518,321.3 L516.1,321.4 L514.3,319.1Z" fill="#1a449a" stroke="#1a449a" stroke-width="0.5"/><path d="M526.8,272.4 L528.5,270.1 L530.2,272.3 L531.9,271.6 L531.9,322.9 L530.2,319.5 L528.5,320.1 L526.8,319Z" fill="#1a449a" stroke="#1a449a" stroke-width="0.5"/><path d="M535.2,262.6 L536.8,261.9 L538.4,262.8 L540,262.2 L541.6,263.5 L543.3,260.1 L544.9,258.3 L546.5,258.1 L548.1,256.3 L549.7,255.1 L551.3,257.5 L552.9,256.9 L554.5,257.8 L556.1,255.2 L557.7,259.4 L559.3,263.5 L560.9,266.6 L562.5,270.6 L564.1,268.7 L565.7,264.6 L567.3,261.4 L568.9,259.6 L570.6,258.2 L572.2,258.2 L573.8,256.8 L575.4,258.6 L577,259.7 L578.6,258.9 L578.6,316.2 L577,318.4 L575.4,324.2 L573.8,326.8 L572.2,324.6 L570.6,324.9 L568.9,325.6 L567.3,325.1 L565.7,328.5 L564.1,327.9 L562.5,323.9 L560.9,322.3 L559.3,319.7 L557.7,317.7 L556.1,317.5 L554.5,314.7 L552.9,314.9 L551.3,317.5 L549.7,317.1 L548.1,321 L546.5,320.6 L544.9,321.3 L543.3,321.5 L541.6,322.2 L540,324.1 L538.4,322.2 L536.8,322.9 L535.2,324.7Z" fill="#1a449a" stroke="#1a449a" stroke-width="0.5"/><path d="M456.3,310.9h0.01M465.3,300.8h0.01M461.8,306.9h0.01M465,276.3h0.01M456.5,305.6h0.01M468.3,280h0.01M466.7,283.5h0.01M471.7,291.3h0.01M469.7,305.2h0.01M467.5,287.1h0.01M468.7,291.3h0.01M482.3,282.9h0.01M484.9,307.2h0.01M484,283.5h0.01M478.4,289.6h0.01M482.2,309.9h0.01M493.1,273.8h0.01M491.8,296.7h0.01M496.5,295.6h0.01M494,272.2h0.01M491.5,292.6h0.01M502.2,282.6h0.01M509.5,274.3h0.01M507.6,287.5h0.01M509.8,279.4h0.01M510.2,296h0.01M515.9,310.3h0.01M517.8,309h0.01M515.7,299.1h0.01M521.6,296.2h0.01M514.8,312.7h0.01M523.1,283.3h0.01M529.2,285h0.01M528.1,299.9h0.01M528.7,315.4h0.01M529.2,291.7h0.01M531.2,311.4h0.01M551.2,269.4h0.01M538.6,284.6h0.01M578.7,268.9h0.01M569.4,293.3h0.01M544.3,273.2h0.01M558.6,306.4h0.01M540.2,294.3h0.01M568.3,311.1h0.01M558.2,301.6h0.01M566,312.9h0.01M561.2,278.5h0.01M571.7,270h0.01M561.6,283.4h0.01M558.9,289.2h0.01M572.2,293.2h0.01M539.4,285.7h0.01M559.4,302.3h0.01M541.9,311h0.01M543.3,303.8h0.01M573.7,283.3h0.01M562.6,319.2h0.01M545,301.2h0.01M537.1,306.6h0.01M536.3,277.3h0.01M551.4,285.9h0.01M553.6,265.3h0.01M575.3,314.2h0.01" stroke="#dfe3f5" stroke-width="1.5" stroke-linecap="round" fill="none"/><path d="M455.7,271.6a2.2,2.2 0 1,0 4.4,0a2.2,2.2 0 1,0 -4.4,0M457.8,268.1a2.2,2.2 0 1,0 4.4,0a2.2,2.2 0 1,0 -4.4,0M459.7,271.1a2.2,2.2 0 1,0 4.4,0a2.2,2.2 0 1,0 -4.4,0M461.4,268.2a2.2,2.2 0 1,0 4.4,0a2.2,2.2 0 1,0 -4.4,0M456.1,311.1a2.2,2.2 0 1,0 4.4,0a2.2,2.2 0 1,0 -4.4,0M459.4,314.7a2.2,2.2 0 1,0 4.4,0a2.2,2.2 0 1,0 -4.4,0M461.9,313.5a2.2,2.2 0 1,0 4.4,0a2.2,2.2 0 1,0 -4.4,0M454.1,320a2.2,2.2 0 1,0 4.4,0a2.2,2.2 0 1,0 -4.4,0M454.6,270.5a2.2,2.2 0 1,0 4.4,0a2.2,2.2 0 1,0 -4.4,0M455.2,274a2.2,2.2 0 1,0 4.4,0a2.2,2.2 0 1,0 -4.4,0M455.2,277.5a2.2,2.2 0 1,0 4.4,0a2.2,2.2 0 1,0 -4.4,0M455.5,284.5a2.2,2.2 0 1,0 4.4,0a2.2,2.2 0 1,0 -4.4,0M455.1,288a2.2,2.2 0 1,0 4.4,0a2.2,2.2 0 1,0 -4.4,0M454.8,295a2.2,2.2 0 1,0 4.4,0a2.2,2.2 0 1,0 -4.4,0M454.7,302a2.2,2.2 0 1,0 4.4,0a2.2,2.2 0 1,0 -4.4,0M455.2,305.5a2.2,2.2 0 1,0 4.4,0a2.2,2.2 0 1,0 -4.4,0M455.5,309a2.2,2.2 0 1,0 4.4,0a2.2,2.2 0 1,0 -4.4,0M454.3,312.5a2.2,2.2 0 1,0 4.4,0a2.2,2.2 0 1,0 -4.4,0M461.2,270.1a2.2,2.2 0 1,0 4.4,0a2.2,2.2 0 1,0 -4.4,0M461.2,273.6a2.2,2.2 0 1,0 4.4,0a2.2,2.2 0 1,0 -4.4,0M460.5,277.1a2.2,2.2 0 1,0 4.4,0a2.2,2.2 0 1,0 -4.4,0M460.3,280.6a2.2,2.2 0 1,0 4.4,0a2.2,2.2 0 1,0 -4.4,0M460.1,284.1a2.2,2.2 0 1,0 4.4,0a2.2,2.2 0 1,0 -4.4,0M460.5,287.6a2.2,2.2 0 1,0 4.4,0a2.2,2.2 0 1,0 -4.4,0M461,291.1a2.2,2.2 0 1,0 4.4,0a2.2,2.2 0 1,0 -4.4,0M461,298.1a2.2,2.2 0 1,0 4.4,0a2.2,2.2 0 1,0 -4.4,0M460.2,301.6a2.2,2.2 0 1,0 4.4,0a2.2,2.2 0 1,0 -4.4,0M461.2,305.1a2.2,2.2 0 1,0 4.4,0a2.2,2.2 0 1,0 -4.4,0M460.5,308.6a2.2,2.2 0 1,0 4.4,0a2.2,2.2 0 1,0 -4.4,0M463.1,271.6a2.2,2.2 0 1,0 4.4,0a2.2,2.2 0 1,0 -4.4,0M464.7,271.7a2.2,2.2 0 1,0 4.4,0a2.2,2.2 0 1,0 -4.4,0M466.3,268.9a2.2,2.2 0 1,0 4.4,0a2.2,2.2 0 1,0 -4.4,0M469.5,270.4a2.2,2.2 0 1,0 4.4,0a2.2,2.2 0 1,0 -4.4,0M471.6,271.7a2.2,2.2 0 1,0 4.4,0a2.2,2.2 0 1,0 -4.4,0M462.6,311.9a2.2,2.2 0 1,0 4.4,0a2.2,2.2 0 1,0 -4.4,0M466.6,313.3a2.2,2.2 0 1,0 4.4,0a2.2,2.2 0 1,0 -4.4,0M468,312.4a2.2,2.2 0 1,0 4.4,0a2.2,2.2 0 1,0 -4.4,0M469.6,313.9a2.2,2.2 0 1,0 4.4,0a2.2,2.2 0 1,0 -4.4,0M471.9,311.1a2.2,2.2 0 1,0 4.4,0a2.2,2.2 0 1,0 -4.4,0M467.7,316.9a2.2,2.2 0 1,0 4.4,0a2.2,2.2 0 1,0 -4.4,0M466.1,317.1a2.2,2.2 0 1,0 4.4,0a2.2,2.2 0 1,0 -4.4,0M463.2,273.7a2.2,2.2 0 1,0 4.4,0a2.2,2.2 0 1,0 -4.4,0M463.5,277.2a2.2,2.2 0 1,0 4.4,0a2.2,2.2 0 1,0 -4.4,0M463.1,280.7a2.2,2.2 0 1,0 4.4,0a2.2,2.2 0 1,0 -4.4,0M464,284.2a2.2,2.2 0 1,0 4.4,0a2.2,2.2 0 1,0 -4.4,0M463.3,287.7a2.2,2.2 0 1,0 4.4,0a2.2,2.2 0 1,0 -4.4,0M464.1,291.2a2.2,2.2 0 1,0 4.4,0a2.2,2.2 0 1,0 -4.4,0M463.4,294.7a2.2,2.2 0 1,0 4.4,0a2.2,2.2 0 1,0 -4.4,0M463.6,298.2a2.2,2.2 0 1,0 4.4,0a2.2,2.2 0 1,0 -4.4,0M463.3,301.7a2.2,2.2 0 1,0 4.4,0a2.2,2.2 0 1,0 -4.4,0M464.2,308.7a2.2,2.2 0 1,0 4.4,0a2.2,2.2 0 1,0 -4.4,0M470.9,274a2.2,2.2 0 1,0 4.4,0a2.2,2.2 0 1,0 -4.4,0M471.2,277.5a2.2,2.2 0 1,0 4.4,0a2.2,2.2 0 1,0 -4.4,0M470.6,281a2.2,2.2 0 1,0 4.4,0a2.2,2.2 0 1,0 -4.4,0M470.1,284.5a2.2,2.2 0 1,0 4.4,0a2.2,2.2 0 1,0 -4.4,0M470.5,288a2.2,2.2 0 1,0 4.4,0a2.2,2.2 0 1,0 -4.4,0M470.3,291.5a2.2,2.2 0 1,0 4.4,0a2.2,2.2 0 1,0 -4.4,0M471.2,295a2.2,2.2 0 1,0 4.4,0a2.2,2.2 0 1,0 -4.4,0M471.1,305.5a2.2,2.2 0 1,0 4.4,0a2.2,2.2 0 1,0 -4.4,0M470.4,309a2.2,2.2 0 1,0 4.4,0a2.2,2.2 0 1,0 -4.4,0M475.1,271.3a2.2,2.2 0 1,0 4.4,0a2.2,2.2 0 1,0 -4.4,0M479,272.6a2.2,2.2 0 1,0 4.4,0a2.2,2.2 0 1,0 -4.4,0M480,273.3a2.2,2.2 0 1,0 4.4,0a2.2,2.2 0 1,0 -4.4,0M478.4,312.7a2.2,2.2 0 1,0 4.4,0a2.2,2.2 0 1,0 -4.4,0M480.3,313a2.2,2.2 0 1,0 4.4,0a2.2,2.2 0 1,0 -4.4,0M482,313.1a2.2,2.2 0 1,0 4.4,0a2.2,2.2 0 1,0 -4.4,0M477.2,266.5a2.2,2.2 0 1,0 4.4,0a2.2,2.2 0 1,0 -4.4,0M476.3,273.2a2.2,2.2 0 1,0 4.4,0a2.2,2.2 0 1,0 -4.4,0M476.3,283.7a2.2,2.2 0 1,0 4.4,0a2.2,2.2 0 1,0 -4.4,0M475.9,287.2a2.2,2.2 0 1,0 4.4,0a2.2,2.2 0 1,0 -4.4,0M475.8,290.7a2.2,2.2 0 1,0 4.4,0a2.2,2.2 0 1,0 -4.4,0M476.7,294.2a2.2,2.2 0 1,0 4.4,0a2.2,2.2 0 1,0 -4.4,0M475.8,297.7a2.2,2.2 0 1,0 4.4,0a2.2,2.2 0 1,0 -4.4,0M476.4,301.2a2.2,2.2 0 1,0 4.4,0a2.2,2.2 0 1,0 -4.4,0M475.7,304.7a2.2,2.2 0 1,0 4.4,0a2.2,2.2 0 1,0 -4.4,0M476.3,308.2a2.2,2.2 0 1,0 4.4,0a2.2,2.2 0 1,0 -4.4,0M481.6,273.2a2.2,2.2 0 1,0 4.4,0a2.2,2.2 0 1,0 -4.4,0M481,280.2a2.2,2.2 0 1,0 4.4,0a2.2,2.2 0 1,0 -4.4,0M481.3,283.7a2.2,2.2 0 1,0 4.4,0a2.2,2.2 0 1,0 -4.4,0M481.2,290.7a2.2,2.2 0 1,0 4.4,0a2.2,2.2 0 1,0 -4.4,0M480.7,294.2a2.2,2.2 0 1,0 4.4,0a2.2,2.2 0 1,0 -4.4,0M480.9,304.7a2.2,2.2 0 1,0 4.4,0a2.2,2.2 0 1,0 -4.4,0M480.6,308.2a2.2,2.2 0 1,0 4.4,0a2.2,2.2 0 1,0 -4.4,0M485.9,270.2a2.2,2.2 0 1,0 4.4,0a2.2,2.2 0 1,0 -4.4,0M488.4,269.9a2.2,2.2 0 1,0 4.4,0a2.2,2.2 0 1,0 -4.4,0M489.6,269.5a2.2,2.2 0 1,0 4.4,0a2.2,2.2 0 1,0 -4.4,0M491.8,269.1a2.2,2.2 0 1,0 4.4,0a2.2,2.2 0 1,0 -4.4,0M493.1,272a2.2,2.2 0 1,0 4.4,0a2.2,2.2 0 1,0 -4.4,0M486.1,313.8a2.2,2.2 0 1,0 4.4,0a2.2,2.2 0 1,0 -4.4,0M488.1,312.7a2.2,2.2 0 1,0 4.4,0a2.2,2.2 0 1,0 -4.4,0M489.9,312.5a2.2,2.2 0 1,0 4.4,0a2.2,2.2 0 1,0 -4.4,0M491.2,314.8a2.2,2.2 0 1,0 4.4,0a2.2,2.2 0 1,0 -4.4,0M493.4,312.8a2.2,2.2 0 1,0 4.4,0a2.2,2.2 0 1,0 -4.4,0M489.4,265.5a2.2,2.2 0 1,0 4.4,0a2.2,2.2 0 1,0 -4.4,0M486.8,276a2.2,2.2 0 1,0 4.4,0a2.2,2.2 0 1,0 -4.4,0M486.8,283a2.2,2.2 0 1,0 4.4,0a2.2,2.2 0 1,0 -4.4,0M487.7,286.5a2.2,2.2 0 1,0 4.4,0a2.2,2.2 0 1,0 -4.4,0M486.7,290a2.2,2.2 0 1,0 4.4,0a2.2,2.2 0 1,0 -4.4,0M487,297a2.2,2.2 0 1,0 4.4,0a2.2,2.2 0 1,0 -4.4,0M487.4,304a2.2,2.2 0 1,0 4.4,0a2.2,2.2 0 1,0 -4.4,0M487.6,307.5a2.2,2.2 0 1,0 4.4,0a2.2,2.2 0 1,0 -4.4,0M487.5,311a2.2,2.2 0 1,0 4.4,0a2.2,2.2 0 1,0 -4.4,0M492,274.1a2.2,2.2 0 1,0 4.4,0a2.2,2.2 0 1,0 -4.4,0M492.8,277.6a2.2,2.2 0 1,0 4.4,0a2.2,2.2 0 1,0 -4.4,0M492.5,281.1a2.2,2.2 0 1,0 4.4,0a2.2,2.2 0 1,0 -4.4,0M492.9,284.6a2.2,2.2 0 1,0 4.4,0a2.2,2.2 0 1,0 -4.4,0M492,291.6a2.2,2.2 0 1,0 4.4,0a2.2,2.2 0 1,0 -4.4,0M492.5,295.1a2.2,2.2 0 1,0 4.4,0a2.2,2.2 0 1,0 -4.4,0M493,298.6a2.2,2.2 0 1,0 4.4,0a2.2,2.2 0 1,0 -4.4,0M492,302.1a2.2,2.2 0 1,0 4.4,0a2.2,2.2 0 1,0 -4.4,0M492.5,305.6a2.2,2.2 0 1,0 4.4,0a2.2,2.2 0 1,0 -4.4,0M492,309.1a2.2,2.2 0 1,0 4.4,0a2.2,2.2 0 1,0 -4.4,0M498.8,270.7a2.2,2.2 0 1,0 4.4,0a2.2,2.2 0 1,0 -4.4,0M500.9,272.8a2.2,2.2 0 1,0 4.4,0a2.2,2.2 0 1,0 -4.4,0M504.9,269.8a2.2,2.2 0 1,0 4.4,0a2.2,2.2 0 1,0 -4.4,0M498.6,315.9a2.2,2.2 0 1,0 4.4,0a2.2,2.2 0 1,0 -4.4,0M500.7,314.8a2.2,2.2 0 1,0 4.4,0a2.2,2.2 0 1,0 -4.4,0M502.9,313.2a2.2,2.2 0 1,0 4.4,0a2.2,2.2 0 1,0 -4.4,0M504.6,314.3a2.2,2.2 0 1,0 4.4,0a2.2,2.2 0 1,0 -4.4,0M506.4,315.6a2.2,2.2 0 1,0 4.4,0a2.2,2.2 0 1,0 -4.4,0M502.1,315.8a2.2,2.2 0 1,0 4.4,0a2.2,2.2 0 1,0 -4.4,0M499.6,272.4a2.2,2.2 0 1,0 4.4,0a2.2,2.2 0 1,0 -4.4,0M500.4,275.9a2.2,2.2 0 1,0 4.4,0a2.2,2.2 0 1,0 -4.4,0M500.2,286.4a2.2,2.2 0 1,0 4.4,0a2.2,2.2 0 1,0 -4.4,0M500.4,293.4a2.2,2.2 0 1,0 4.4,0a2.2,2.2 0 1,0 -4.4,0M499.4,296.9a2.2,2.2 0 1,0 4.4,0a2.2,2.2 0 1,0 -4.4,0M499.4,300.4a2.2,2.2 0 1,0 4.4,0a2.2,2.2 0 1,0 -4.4,0M500,303.9a2.2,2.2 0 1,0 4.4,0a2.2,2.2 0 1,0 -4.4,0M499.3,310.9a2.2,2.2 0 1,0 4.4,0a2.2,2.2 0 1,0 -4.4,0M505.9,274.9a2.2,2.2 0 1,0 4.4,0a2.2,2.2 0 1,0 -4.4,0M505.2,281.9a2.2,2.2 0 1,0 4.4,0a2.2,2.2 0 1,0 -4.4,0M505.5,288.9a2.2,2.2 0 1,0 4.4,0a2.2,2.2 0 1,0 -4.4,0M505.5,292.4a2.2,2.2 0 1,0 4.4,0a2.2,2.2 0 1,0 -4.4,0M505.3,295.9a2.2,2.2 0 1,0 4.4,0a2.2,2.2 0 1,0 -4.4,0M506.1,299.4a2.2,2.2 0 1,0 4.4,0a2.2,2.2 0 1,0 -4.4,0M505.4,302.9a2.2,2.2 0 1,0 4.4,0a2.2,2.2 0 1,0 -4.4,0M506.1,306.4a2.2,2.2 0 1,0 4.4,0a2.2,2.2 0 1,0 -4.4,0M505.2,309.9a2.2,2.2 0 1,0 4.4,0a2.2,2.2 0 1,0 -4.4,0M505.8,313.4a2.2,2.2 0 1,0 4.4,0a2.2,2.2 0 1,0 -4.4,0M511.9,272.2a2.2,2.2 0 1,0 4.4,0a2.2,2.2 0 1,0 -4.4,0M513.6,273.9a2.2,2.2 0 1,0 4.4,0a2.2,2.2 0 1,0 -4.4,0M515.9,272a2.2,2.2 0 1,0 4.4,0a2.2,2.2 0 1,0 -4.4,0M517.6,273.9a2.2,2.2 0 1,0 4.4,0a2.2,2.2 0 1,0 -4.4,0M519.6,275.1a2.2,2.2 0 1,0 4.4,0a2.2,2.2 0 1,0 -4.4,0M512.1,319.3a2.2,2.2 0 1,0 4.4,0a2.2,2.2 0 1,0 -4.4,0M514.1,321.4a2.2,2.2 0 1,0 4.4,0a2.2,2.2 0 1,0 -4.4,0M516,321.2a2.2,2.2 0 1,0 4.4,0a2.2,2.2 0 1,0 -4.4,0M517.6,318.8a2.2,2.2 0 1,0 4.4,0a2.2,2.2 0 1,0 -4.4,0M520,320.5a2.2,2.2 0 1,0 4.4,0a2.2,2.2 0 1,0 -4.4,0M516,269.6a2.2,2.2 0 1,0 4.4,0a2.2,2.2 0 1,0 -4.4,0M512.9,274.1a2.2,2.2 0 1,0 4.4,0a2.2,2.2 0 1,0 -4.4,0M512.4,284.6a2.2,2.2 0 1,0 4.4,0a2.2,2.2 0 1,0 -4.4,0M513.1,288.1a2.2,2.2 0 1,0 4.4,0a2.2,2.2 0 1,0 -4.4,0M513,291.6a2.2,2.2 0 1,0 4.4,0a2.2,2.2 0 1,0 -4.4,0M512.9,295.1a2.2,2.2 0 1,0 4.4,0a2.2,2.2 0 1,0 -4.4,0M512.4,302.1a2.2,2.2 0 1,0 4.4,0a2.2,2.2 0 1,0 -4.4,0M513.4,305.6a2.2,2.2 0 1,0 4.4,0a2.2,2.2 0 1,0 -4.4,0M512.6,309.1a2.2,2.2 0 1,0 4.4,0a2.2,2.2 0 1,0 -4.4,0M513.5,312.6a2.2,2.2 0 1,0 4.4,0a2.2,2.2 0 1,0 -4.4,0M518.3,276.9a2.2,2.2 0 1,0 4.4,0a2.2,2.2 0 1,0 -4.4,0M518.7,280.4a2.2,2.2 0 1,0 4.4,0a2.2,2.2 0 1,0 -4.4,0M519.1,287.4a2.2,2.2 0 1,0 4.4,0a2.2,2.2 0 1,0 -4.4,0M519.3,294.4a2.2,2.2 0 1,0 4.4,0a2.2,2.2 0 1,0 -4.4,0M518.6,297.9a2.2,2.2 0 1,0 4.4,0a2.2,2.2 0 1,0 -4.4,0M518.2,304.9a2.2,2.2 0 1,0 4.4,0a2.2,2.2 0 1,0 -4.4,0M518.6,308.4a2.2,2.2 0 1,0 4.4,0a2.2,2.2 0 1,0 -4.4,0M518.9,311.9a2.2,2.2 0 1,0 4.4,0a2.2,2.2 0 1,0 -4.4,0M518.7,315.4a2.2,2.2 0 1,0 4.4,0a2.2,2.2 0 1,0 -4.4,0M524.3,272.2a2.2,2.2 0 1,0 4.4,0a2.2,2.2 0 1,0 -4.4,0M526.7,270a2.2,2.2 0 1,0 4.4,0a2.2,2.2 0 1,0 -4.4,0M524.9,318.8a2.2,2.2 0 1,0 4.4,0a2.2,2.2 0 1,0 -4.4,0M526,320.1a2.2,2.2 0 1,0 4.4,0a2.2,2.2 0 1,0 -4.4,0M527.9,319.3a2.2,2.2 0 1,0 4.4,0a2.2,2.2 0 1,0 -4.4,0M529.8,268.5a2.2,2.2 0 1,0 4.4,0a2.2,2.2 0 1,0 -4.4,0M525.4,274.4a2.2,2.2 0 1,0 4.4,0a2.2,2.2 0 1,0 -4.4,0M526.1,277.9a2.2,2.2 0 1,0 4.4,0a2.2,2.2 0 1,0 -4.4,0M525.1,284.9a2.2,2.2 0 1,0 4.4,0a2.2,2.2 0 1,0 -4.4,0M525.9,291.9a2.2,2.2 0 1,0 4.4,0a2.2,2.2 0 1,0 -4.4,0M525.7,295.4a2.2,2.2 0 1,0 4.4,0a2.2,2.2 0 1,0 -4.4,0M525.3,298.9a2.2,2.2 0 1,0 4.4,0a2.2,2.2 0 1,0 -4.4,0M525.8,305.9a2.2,2.2 0 1,0 4.4,0a2.2,2.2 0 1,0 -4.4,0M525.4,312.9a2.2,2.2 0 1,0 4.4,0a2.2,2.2 0 1,0 -4.4,0M525,316.4a2.2,2.2 0 1,0 4.4,0a2.2,2.2 0 1,0 -4.4,0M528.8,277.1a2.2,2.2 0 1,0 4.4,0a2.2,2.2 0 1,0 -4.4,0M528.4,280.6a2.2,2.2 0 1,0 4.4,0a2.2,2.2 0 1,0 -4.4,0M529,284.1a2.2,2.2 0 1,0 4.4,0a2.2,2.2 0 1,0 -4.4,0M528.8,287.6a2.2,2.2 0 1,0 4.4,0a2.2,2.2 0 1,0 -4.4,0M529.1,291.1a2.2,2.2 0 1,0 4.4,0a2.2,2.2 0 1,0 -4.4,0M528.6,294.6a2.2,2.2 0 1,0 4.4,0a2.2,2.2 0 1,0 -4.4,0M528.3,298.1a2.2,2.2 0 1,0 4.4,0a2.2,2.2 0 1,0 -4.4,0M528.8,308.6a2.2,2.2 0 1,0 4.4,0a2.2,2.2 0 1,0 -4.4,0M529,312.1a2.2,2.2 0 1,0 4.4,0a2.2,2.2 0 1,0 -4.4,0M528.8,315.6a2.2,2.2 0 1,0 4.4,0a2.2,2.2 0 1,0 -4.4,0M534.7,262a2.2,2.2 0 1,0 4.4,0a2.2,2.2 0 1,0 -4.4,0M535.9,262.7a2.2,2.2 0 1,0 4.4,0a2.2,2.2 0 1,0 -4.4,0M539.6,263.2a2.2,2.2 0 1,0 4.4,0a2.2,2.2 0 1,0 -4.4,0M544.2,258.1a2.2,2.2 0 1,0 4.4,0a2.2,2.2 0 1,0 -4.4,0M545.6,256a2.2,2.2 0 1,0 4.4,0a2.2,2.2 0 1,0 -4.4,0M549.4,257.7a2.2,2.2 0 1,0 4.4,0a2.2,2.2 0 1,0 -4.4,0M555.2,259.7a2.2,2.2 0 1,0 4.4,0a2.2,2.2 0 1,0 -4.4,0M561.9,268.5a2.2,2.2 0 1,0 4.4,0a2.2,2.2 0 1,0 -4.4,0M563.4,264.4a2.2,2.2 0 1,0 4.4,0a2.2,2.2 0 1,0 -4.4,0M570,258.1a2.2,2.2 0 1,0 4.4,0a2.2,2.2 0 1,0 -4.4,0M573.3,258.6a2.2,2.2 0 1,0 4.4,0a2.2,2.2 0 1,0 -4.4,0M574.4,259.7a2.2,2.2 0 1,0 4.4,0a2.2,2.2 0 1,0 -4.4,0M576.6,258.8a2.2,2.2 0 1,0 4.4,0a2.2,2.2 0 1,0 -4.4,0M532.9,324.9a2.2,2.2 0 1,0 4.4,0a2.2,2.2 0 1,0 -4.4,0M534.7,322.7a2.2,2.2 0 1,0 4.4,0a2.2,2.2 0 1,0 -4.4,0M536.4,322.2a2.2,2.2 0 1,0 4.4,0a2.2,2.2 0 1,0 -4.4,0M537.8,324.4a2.2,2.2 0 1,0 4.4,0a2.2,2.2 0 1,0 -4.4,0M539.5,322.1a2.2,2.2 0 1,0 4.4,0a2.2,2.2 0 1,0 -4.4,0M540.7,321.8a2.2,2.2 0 1,0 4.4,0a2.2,2.2 0 1,0 -4.4,0M544.1,320.4a2.2,2.2 0 1,0 4.4,0a2.2,2.2 0 1,0 -4.4,0M549.2,317.5a2.2,2.2 0 1,0 4.4,0a2.2,2.2 0 1,0 -4.4,0M550.3,315a2.2,2.2 0 1,0 4.4,0a2.2,2.2 0 1,0 -4.4,0M552.3,314.4a2.2,2.2 0 1,0 4.4,0a2.2,2.2 0 1,0 -4.4,0M553.6,317.6a2.2,2.2 0 1,0 4.4,0a2.2,2.2 0 1,0 -4.4,0M559.9,324.1a2.2,2.2 0 1,0 4.4,0a2.2,2.2 0 1,0 -4.4,0M562.2,327.6a2.2,2.2 0 1,0 4.4,0a2.2,2.2 0 1,0 -4.4,0M564.9,325.1a2.2,2.2 0 1,0 4.4,0a2.2,2.2 0 1,0 -4.4,0M566.8,325.5a2.2,2.2 0 1,0 4.4,0a2.2,2.2 0 1,0 -4.4,0M570.1,324.7a2.2,2.2 0 1,0 4.4,0a2.2,2.2 0 1,0 -4.4,0M574.9,318.4a2.2,2.2 0 1,0 4.4,0a2.2,2.2 0 1,0 -4.4,0M574.4,322.1a2.2,2.2 0 1,0 4.4,0a2.2,2.2 0 1,0 -4.4,0M557.8,324.6a2.2,2.2 0 1,0 4.4,0a2.2,2.2 0 1,0 -4.4,0M549.1,319.5a2.2,2.2 0 1,0 4.4,0a2.2,2.2 0 1,0 -4.4,0M563.4,331.8a2.2,2.2 0 1,0 4.4,0a2.2,2.2 0 1,0 -4.4,0M573.4,254a2.2,2.2 0 1,0 4.4,0a2.2,2.2 0 1,0 -4.4,0M542.6,256.2a2.2,2.2 0 1,0 4.4,0a2.2,2.2 0 1,0 -4.4,0M537.1,326.5a2.2,2.2 0 1,0 4.4,0a2.2,2.2 0 1,0 -4.4,0M562.3,266.3a2.2,2.2 0 1,0 4.4,0a2.2,2.2 0 1,0 -4.4,0M566,330a2.2,2.2 0 1,0 4.4,0a2.2,2.2 0 1,0 -4.4,0M533.8,271.6a2.2,2.2 0 1,0 4.4,0a2.2,2.2 0 1,0 -4.4,0M533.5,275.1a2.2,2.2 0 1,0 4.4,0a2.2,2.2 0 1,0 -4.4,0M533.9,292.6a2.2,2.2 0 1,0 4.4,0a2.2,2.2 0 1,0 -4.4,0M575.9,260.9a2.2,2.2 0 1,0 4.4,0a2.2,2.2 0 1,0 -4.4,0M575.4,267.9a2.2,2.2 0 1,0 4.4,0a2.2,2.2 0 1,0 -4.4,0M575.6,274.9a2.2,2.2 0 1,0 4.4,0a2.2,2.2 0 1,0 -4.4,0M575.6,285.4a2.2,2.2 0 1,0 4.4,0a2.2,2.2 0 1,0 -4.4,0M575.7,309.9a2.2,2.2 0 1,0 4.4,0a2.2,2.2 0 1,0 -4.4,0M454.7,257.3a2.2,2.2 0 1,0 4.4,0a2.2,2.2 0 1,0 -4.4,0M456.9,252.6a2.2,2.2 0 1,0 4.4,0a2.2,2.2 0 1,0 -4.4,0M454.7,264.3a2.2,2.2 0 1,0 4.4,0a2.2,2.2 0 1,0 -4.4,0M476.5,257.3a2.2,2.2 0 1,0 4.4,0a2.2,2.2 0 1,0 -4.4,0M476.9,263.1a2.2,2.2 0 1,0 4.4,0a2.2,2.2 0 1,0 -4.4,0M487.9,261.3a2.2,2.2 0 1,0 4.4,0a2.2,2.2 0 1,0 -4.4,0M491.7,246.3a2.2,2.2 0 1,0 4.4,0a2.2,2.2 0 1,0 -4.4,0M500.6,262.6a2.2,2.2 0 1,0 4.4,0a2.2,2.2 0 1,0 -4.4,0M504.5,266.1a2.2,2.2 0 1,0 4.4,0a2.2,2.2 0 1,0 -4.4,0M514.1,268.2a2.2,2.2 0 1,0 4.4,0a2.2,2.2 0 1,0 -4.4,0M526.3,262.6a2.2,2.2 0 1,0 4.4,0a2.2,2.2 0 1,0 -4.4,0M542.9,245.6a2.2,2.2 0 1,0 4.4,0a2.2,2.2 0 1,0 -4.4,0M550.8,248.1a2.2,2.2 0 1,0 4.4,0a2.2,2.2 0 1,0 -4.4,0M561.8,245.6a2.2,2.2 0 1,0 4.4,0a2.2,2.2 0 1,0 -4.4,0M558.3,226.7a2.2,2.2 0 1,0 4.4,0a2.2,2.2 0 1,0 -4.4,0M570,226.4a2.2,2.2 0 1,0 4.4,0a2.2,2.2 0 1,0 -4.4,0M574.7,236.9a2.2,2.2 0 1,0 4.4,0a2.2,2.2 0 1,0 -4.4,0M574.4,254.7a2.2,2.2 0 1,0 4.4,0a2.2,2.2 0 1,0 -4.4,0M456.9,316.7a2.2,2.2 0 1,0 4.4,0a2.2,2.2 0 1,0 -4.4,0M462.2,319.9a2.2,2.2 0 1,0 4.4,0a2.2,2.2 0 1,0 -4.4,0M469.5,321.1a2.2,2.2 0 1,0 4.4,0a2.2,2.2 0 1,0 -4.4,0M487.9,323.7a2.2,2.2 0 1,0 4.4,0a2.2,2.2 0 1,0 -4.4,0M501,319.4a2.2,2.2 0 1,0 4.4,0a2.2,2.2 0 1,0 -4.4,0M514.1,326.7a2.2,2.2 0 1,0 4.4,0a2.2,2.2 0 1,0 -4.4,0M518.1,321.1a2.2,2.2 0 1,0 4.4,0a2.2,2.2 0 1,0 -4.4,0M527.2,335.1a2.2,2.2 0 1,0 4.4,0a2.2,2.2 0 1,0 -4.4,0M535.9,333a2.2,2.2 0 1,0 4.4,0a2.2,2.2 0 1,0 -4.4,0M556.5,332.5a2.2,2.2 0 1,0 4.4,0a2.2,2.2 0 1,0 -4.4,0M570,330.7a2.2,2.2 0 1,0 4.4,0a2.2,2.2 0 1,0 -4.4,0M567,343.8a2.2,2.2 0 1,0 4.4,0a2.2,2.2 0 1,0 -4.4,0M527.2,324.9a2.2,2.2 0 1,0 4.4,0a2.2,2.2 0 1,0 -4.4,0" stroke="#3f55ad" stroke-width="1.1" fill="none"/><path d="M456,288.8 L461.1,289.2 L466.2,289.5 L471.3,289.9 L476.4,290.2 L481.5,290.4 L486.6,290.7 L491.7,290.9 L496.8,291.1 L501.9,291.2 L507,291.3 L512.1,291.4 L517.2,291.4 L522.2,291.4 L527.3,291.4 L532.4,291.3 L537.5,291.2 L542.6,291.1 L547.7,290.9 L552.8,290.7 L557.9,290.5 L563,290.3 L568.1,290 L573.2,289.7 L578.3,289.3" stroke="#b02c64" stroke-width="1.6" fill="none" stroke-linejoin="round"/></g><rect x="448.6" y="218.5" width="137" height="132.8" fill="none" stroke="#484848" stroke-width="1.2"/><path d="M472.2,351.3v4M472.2,218.5v-4M504.2,351.3v4M504.2,218.5v-4M536.2,351.3v4M536.2,218.5v-4M568.2,351.3v4M568.2,218.5v-4M448.6,342.1h-4M585.6,342.1h4M448.6,316.4h-4M585.6,316.4h4M448.6,290.6h-4M585.6,290.6h4M448.6,264.9h-4M585.6,264.9h4M448.6,239.1h-4M585.6,239.1h4" stroke="#484848" stroke-width="1.2" fill="none"/><text x="472.2" y="367.3" text-anchor="middle" class="t">80</text><text x="504.2" y="367.3" text-anchor="middle" class="t">85</text><text x="536.2" y="367.3" text-anchor="middle" class="t">90</text><text x="568.2" y="367.3" text-anchor="middle" class="t">95</text><text x="442.6" y="346.1" text-anchor="end" class="t">-4</text><text x="442.6" y="320.4" text-anchor="end" class="t">-2</text><text x="442.6" y="294.6" text-anchor="end" class="t">0</text><text x="442.6" y="268.9" text-anchor="end" class="t">2</text><text x="442.6" y="243.1" text-anchor="end" class="t">4</text><text x="517.1" y="381.3" text-anchor="middle" class="a">Population predictions</text><clipPath id="cP8"><rect x="635.6" y="218.6" width="136.6" height="132.2"/></clipPath><g clip-path="url(#cP8)"><path d="M636,290L773,290" stroke="#333" stroke-width="1" fill="none"/><path d="M643.6,262.3 L645.2,264.5 L646.8,256.1 L648.4,260.3 L650,261.6 L651.6,262.2 L653.2,262.9 L654.8,264 L656.4,265 L658,266.5 L659.6,263.1 L661.2,259.3 L662.8,255.8 L664.4,258.9 L666,263.9 L667.6,264.9 L669.2,260.5 L670.8,265.6 L672.4,264.2 L674,265.8 L675.6,264.4 L677.2,260.4 L678.8,259.8 L680.4,257.2 L682,259.3 L683.6,259.5 L685.2,258.2 L686.8,257.7 L688.4,259.9 L690,253.5 L691.6,252 L693.2,258.5 L694.8,259.5 L696.4,262.7 L698,256.3 L699.6,261 L701.2,259.7 L702.8,259.5 L704.4,259.4 L706,261.4 L707.6,259.4 L709.2,266.6 L710.8,265.5 L712.4,263.6 L714,261.6 L715.6,260.4 L717.2,261.5 L718.8,261.4 L720.4,260.4 L722,264.3 L723.6,264.1 L725.2,266.8 L726.8,261.9 L728.4,261.1 L730,260.3 L731.6,260.2 L733.2,261.7 L734.8,263.6 L736.4,265 L738,267.2 L739.6,266.2 L741.2,266.8 L742.7,264.7 L744.3,265.8 L745.9,263.5 L747.5,262.6 L749.1,259 L750.7,264 L752.3,266.8 L753.9,266.4 L755.5,264.5 L757.1,269.6 L758.7,269.9 L760.3,273.2 L760.3,306.4 L758.7,312.6 L757.1,313.4 L755.5,318.7 L753.9,317.5 L752.3,317.1 L750.7,316.2 L749.1,316.9 L747.5,318.5 L745.9,318.3 L744.3,315.8 L742.7,316.8 L741.2,315.6 L739.6,315.2 L738,318.8 L736.4,313.7 L734.8,314.3 L733.2,312 L731.6,313.3 L730,311.7 L728.4,313.2 L726.8,310.7 L725.2,313.5 L723.6,318.5 L722,318.5 L720.4,320.6 L718.8,323.2 L717.2,320.1 L715.6,323.6 L714,324.8 L712.4,323.3 L710.8,323.3 L709.2,321.7 L707.6,322.4 L706,321.8 L704.4,320.8 L702.8,322.3 L701.2,323.2 L699.6,325.7 L698,329 L696.4,328.1 L694.8,327.1 L693.2,326.6 L691.6,322.6 L690,321.6 L688.4,321.3 L686.8,320.7 L685.2,323.5 L683.6,323.6 L682,323.9 L680.4,324.7 L678.8,321.2 L677.2,319 L675.6,319.3 L674,317.7 L672.4,318.4 L670.8,320.7 L669.2,322.8 L667.6,325.2 L666,322.9 L664.4,320.4 L662.8,320.5 L661.2,314 L659.6,316.6 L658,314.6 L656.4,319.9 L654.8,316.9 L653.2,322.4 L651.6,317.8 L650,317.8 L648.4,320.7 L646.8,314.9 L645.2,307.7 L643.6,302.4Z" fill="#1a449a" stroke="#1a449a" stroke-width="0.5"/><path d="M691.3,248.3L691.6,253.5M684.3,327.8L683.6,322.1M652.7,325.5L653.2,320.9M733.3,257.9L733.2,263.2M669.5,258.2L669.2,262M739.5,263.8L739.6,267.7M694.7,329.9L694.8,325.6M748.4,319.4L749.1,315.4M643,259.1L643.6,263.8M679,255.7L678.8,261.3M682.7,327.4L682,322.4M712.1,260.9L712.4,265.1M752.6,321.5L752.3,315.6M747.7,322.3L747.5,317M688,256.5L688.4,261.4M739.2,262.8L739.6,267.7M696.6,259.8L696.4,264.2M755.4,261.4L755.5,266M715.4,258.3L715.6,261.9M686.4,255.3L686.8,259.2M674.3,261.3L674,267.3M709.9,325.5L709.2,320.2M742.4,319.9L742.7,315.3M720.4,323L720.4,319.1M664.7,255.3L664.4,260.4M660.4,255.2L661.2,260.8M668.8,325.5L669.2,321.3M676.4,257.1L677.2,261.9M650.4,258.1L650,263.1M725.2,316.8L725.2,312M671.8,322.7L672.4,316.9M668,260.6L667.6,266.4M723.8,261.5L723.6,265.6M709.5,263.2L709.2,268.1M704.2,226.4L704.2,256.4M695.4,236.3L695.4,258.2M686.2,245.4L686.2,259.9M678.3,245.4L678.3,263.4M660.1,247.7L660.1,263.4M741.4,246L741.4,266.9M741.4,246L739.1,268.7M763.6,225.9L761.8,279.2M763.6,330.7L760.1,300.1M759.2,343.5L758.3,312.4M648.6,326.7L648.6,315.9M668.3,333L668.3,322.8M684.1,332.5L684.1,322.8M710.3,334.7L710.3,324.6M697.5,328.4L697.5,322.8M737.4,321.1L737.4,315.9" stroke="#2a48a6" stroke-width="1.1" fill="none"/><path d="M642.8,264.6a2.2,2.2 0 1,0 4.4,0a2.2,2.2 0 1,0 -4.4,0M645,256.2a2.2,2.2 0 1,0 4.4,0a2.2,2.2 0 1,0 -4.4,0M645.8,260.1a2.2,2.2 0 1,0 4.4,0a2.2,2.2 0 1,0 -4.4,0M648.2,261.4a2.2,2.2 0 1,0 4.4,0a2.2,2.2 0 1,0 -4.4,0M651.4,263a2.2,2.2 0 1,0 4.4,0a2.2,2.2 0 1,0 -4.4,0M655.6,266.2a2.2,2.2 0 1,0 4.4,0a2.2,2.2 0 1,0 -4.4,0M658.7,259.1a2.2,2.2 0 1,0 4.4,0a2.2,2.2 0 1,0 -4.4,0M664.2,263.7a2.2,2.2 0 1,0 4.4,0a2.2,2.2 0 1,0 -4.4,0M665.3,265.1a2.2,2.2 0 1,0 4.4,0a2.2,2.2 0 1,0 -4.4,0M667.2,260.5a2.2,2.2 0 1,0 4.4,0a2.2,2.2 0 1,0 -4.4,0M669.8,263.9a2.2,2.2 0 1,0 4.4,0a2.2,2.2 0 1,0 -4.4,0M673.6,264.2a2.2,2.2 0 1,0 4.4,0a2.2,2.2 0 1,0 -4.4,0M674.7,260.6a2.2,2.2 0 1,0 4.4,0a2.2,2.2 0 1,0 -4.4,0M678.4,257a2.2,2.2 0 1,0 4.4,0a2.2,2.2 0 1,0 -4.4,0M679.6,259.5a2.2,2.2 0 1,0 4.4,0a2.2,2.2 0 1,0 -4.4,0M684.2,257.8a2.2,2.2 0 1,0 4.4,0a2.2,2.2 0 1,0 -4.4,0M688,253.7a2.2,2.2 0 1,0 4.4,0a2.2,2.2 0 1,0 -4.4,0M689.4,252.1a2.2,2.2 0 1,0 4.4,0a2.2,2.2 0 1,0 -4.4,0M694.4,262.7a2.2,2.2 0 1,0 4.4,0a2.2,2.2 0 1,0 -4.4,0M695.8,256.3a2.2,2.2 0 1,0 4.4,0a2.2,2.2 0 1,0 -4.4,0M697.3,260.8a2.2,2.2 0 1,0 4.4,0a2.2,2.2 0 1,0 -4.4,0M699.2,259.9a2.2,2.2 0 1,0 4.4,0a2.2,2.2 0 1,0 -4.4,0M700.8,259.3a2.2,2.2 0 1,0 4.4,0a2.2,2.2 0 1,0 -4.4,0M702.4,259.5a2.2,2.2 0 1,0 4.4,0a2.2,2.2 0 1,0 -4.4,0M703.5,261.7a2.2,2.2 0 1,0 4.4,0a2.2,2.2 0 1,0 -4.4,0M708.3,265.5a2.2,2.2 0 1,0 4.4,0a2.2,2.2 0 1,0 -4.4,0M710.5,263.7a2.2,2.2 0 1,0 4.4,0a2.2,2.2 0 1,0 -4.4,0M717,261.5a2.2,2.2 0 1,0 4.4,0a2.2,2.2 0 1,0 -4.4,0M719.4,264.4a2.2,2.2 0 1,0 4.4,0a2.2,2.2 0 1,0 -4.4,0M724.5,262.1a2.2,2.2 0 1,0 4.4,0a2.2,2.2 0 1,0 -4.4,0M729.6,259.9a2.2,2.2 0 1,0 4.4,0a2.2,2.2 0 1,0 -4.4,0M732.2,263.5a2.2,2.2 0 1,0 4.4,0a2.2,2.2 0 1,0 -4.4,0M737.4,266.4a2.2,2.2 0 1,0 4.4,0a2.2,2.2 0 1,0 -4.4,0M739.3,267.1a2.2,2.2 0 1,0 4.4,0a2.2,2.2 0 1,0 -4.4,0M740.3,264.5a2.2,2.2 0 1,0 4.4,0a2.2,2.2 0 1,0 -4.4,0M742.1,265.9a2.2,2.2 0 1,0 4.4,0a2.2,2.2 0 1,0 -4.4,0M748.7,263.7a2.2,2.2 0 1,0 4.4,0a2.2,2.2 0 1,0 -4.4,0M749.8,266.6a2.2,2.2 0 1,0 4.4,0a2.2,2.2 0 1,0 -4.4,0M753.2,264.5a2.2,2.2 0 1,0 4.4,0a2.2,2.2 0 1,0 -4.4,0M754.6,269.4a2.2,2.2 0 1,0 4.4,0a2.2,2.2 0 1,0 -4.4,0M757.8,273.1a2.2,2.2 0 1,0 4.4,0a2.2,2.2 0 1,0 -4.4,0M641.8,302.1a2.2,2.2 0 1,0 4.4,0a2.2,2.2 0 1,0 -4.4,0M642.6,307.8a2.2,2.2 0 1,0 4.4,0a2.2,2.2 0 1,0 -4.4,0M647.8,317.8a2.2,2.2 0 1,0 4.4,0a2.2,2.2 0 1,0 -4.4,0M654.1,319.9a2.2,2.2 0 1,0 4.4,0a2.2,2.2 0 1,0 -4.4,0M655.8,314.4a2.2,2.2 0 1,0 4.4,0a2.2,2.2 0 1,0 -4.4,0M657.8,316.6a2.2,2.2 0 1,0 4.4,0a2.2,2.2 0 1,0 -4.4,0M659.2,314.2a2.2,2.2 0 1,0 4.4,0a2.2,2.2 0 1,0 -4.4,0M662.4,320.2a2.2,2.2 0 1,0 4.4,0a2.2,2.2 0 1,0 -4.4,0M665.1,325a2.2,2.2 0 1,0 4.4,0a2.2,2.2 0 1,0 -4.4,0M667.2,322.6a2.2,2.2 0 1,0 4.4,0a2.2,2.2 0 1,0 -4.4,0M670.5,318.7a2.2,2.2 0 1,0 4.4,0a2.2,2.2 0 1,0 -4.4,0M676.9,321a2.2,2.2 0 1,0 4.4,0a2.2,2.2 0 1,0 -4.4,0M682.6,323.5a2.2,2.2 0 1,0 4.4,0a2.2,2.2 0 1,0 -4.4,0M687.8,321.9a2.2,2.2 0 1,0 4.4,0a2.2,2.2 0 1,0 -4.4,0M689.6,322.8a2.2,2.2 0 1,0 4.4,0a2.2,2.2 0 1,0 -4.4,0M692.5,327.1a2.2,2.2 0 1,0 4.4,0a2.2,2.2 0 1,0 -4.4,0M693.8,328a2.2,2.2 0 1,0 4.4,0a2.2,2.2 0 1,0 -4.4,0M696.1,328.9a2.2,2.2 0 1,0 4.4,0a2.2,2.2 0 1,0 -4.4,0M705.2,322.4a2.2,2.2 0 1,0 4.4,0a2.2,2.2 0 1,0 -4.4,0M707.2,321.4a2.2,2.2 0 1,0 4.4,0a2.2,2.2 0 1,0 -4.4,0M710.1,323.3a2.2,2.2 0 1,0 4.4,0a2.2,2.2 0 1,0 -4.4,0M715.3,320.4a2.2,2.2 0 1,0 4.4,0a2.2,2.2 0 1,0 -4.4,0M716.6,323a2.2,2.2 0 1,0 4.4,0a2.2,2.2 0 1,0 -4.4,0M720,318.7a2.2,2.2 0 1,0 4.4,0a2.2,2.2 0 1,0 -4.4,0M724.3,310.6a2.2,2.2 0 1,0 4.4,0a2.2,2.2 0 1,0 -4.4,0M725.9,313.5a2.2,2.2 0 1,0 4.4,0a2.2,2.2 0 1,0 -4.4,0M727.5,311.6a2.2,2.2 0 1,0 4.4,0a2.2,2.2 0 1,0 -4.4,0M729.4,313.2a2.2,2.2 0 1,0 4.4,0a2.2,2.2 0 1,0 -4.4,0M731.1,312.2a2.2,2.2 0 1,0 4.4,0a2.2,2.2 0 1,0 -4.4,0M732.7,314.3a2.2,2.2 0 1,0 4.4,0a2.2,2.2 0 1,0 -4.4,0M734.1,313.4a2.2,2.2 0 1,0 4.4,0a2.2,2.2 0 1,0 -4.4,0M735.8,318.7a2.2,2.2 0 1,0 4.4,0a2.2,2.2 0 1,0 -4.4,0M739.2,315.8a2.2,2.2 0 1,0 4.4,0a2.2,2.2 0 1,0 -4.4,0M742.1,316a2.2,2.2 0 1,0 4.4,0a2.2,2.2 0 1,0 -4.4,0M743.5,318a2.2,2.2 0 1,0 4.4,0a2.2,2.2 0 1,0 -4.4,0M745.3,318.7a2.2,2.2 0 1,0 4.4,0a2.2,2.2 0 1,0 -4.4,0M748.5,315.9a2.2,2.2 0 1,0 4.4,0a2.2,2.2 0 1,0 -4.4,0M751.5,317.7a2.2,2.2 0 1,0 4.4,0a2.2,2.2 0 1,0 -4.4,0M753.1,318.7a2.2,2.2 0 1,0 4.4,0a2.2,2.2 0 1,0 -4.4,0M756.4,312.8a2.2,2.2 0 1,0 4.4,0a2.2,2.2 0 1,0 -4.4,0M758.5,306.1a2.2,2.2 0 1,0 4.4,0a2.2,2.2 0 1,0 -4.4,0M689.1,248.3a2.2,2.2 0 1,0 4.4,0a2.2,2.2 0 1,0 -4.4,0M682.1,327.8a2.2,2.2 0 1,0 4.4,0a2.2,2.2 0 1,0 -4.4,0M650.5,325.5a2.2,2.2 0 1,0 4.4,0a2.2,2.2 0 1,0 -4.4,0M731.1,257.9a2.2,2.2 0 1,0 4.4,0a2.2,2.2 0 1,0 -4.4,0M667.3,258.2a2.2,2.2 0 1,0 4.4,0a2.2,2.2 0 1,0 -4.4,0M737.3,263.8a2.2,2.2 0 1,0 4.4,0a2.2,2.2 0 1,0 -4.4,0M692.5,329.9a2.2,2.2 0 1,0 4.4,0a2.2,2.2 0 1,0 -4.4,0M746.2,319.4a2.2,2.2 0 1,0 4.4,0a2.2,2.2 0 1,0 -4.4,0M640.8,259.1a2.2,2.2 0 1,0 4.4,0a2.2,2.2 0 1,0 -4.4,0M676.8,255.7a2.2,2.2 0 1,0 4.4,0a2.2,2.2 0 1,0 -4.4,0M680.5,327.4a2.2,2.2 0 1,0 4.4,0a2.2,2.2 0 1,0 -4.4,0M709.9,260.9a2.2,2.2 0 1,0 4.4,0a2.2,2.2 0 1,0 -4.4,0M750.4,321.5a2.2,2.2 0 1,0 4.4,0a2.2,2.2 0 1,0 -4.4,0M745.5,322.3a2.2,2.2 0 1,0 4.4,0a2.2,2.2 0 1,0 -4.4,0M685.8,256.5a2.2,2.2 0 1,0 4.4,0a2.2,2.2 0 1,0 -4.4,0M737,262.8a2.2,2.2 0 1,0 4.4,0a2.2,2.2 0 1,0 -4.4,0M694.4,259.8a2.2,2.2 0 1,0 4.4,0a2.2,2.2 0 1,0 -4.4,0M753.2,261.4a2.2,2.2 0 1,0 4.4,0a2.2,2.2 0 1,0 -4.4,0M713.2,258.3a2.2,2.2 0 1,0 4.4,0a2.2,2.2 0 1,0 -4.4,0M684.2,255.3a2.2,2.2 0 1,0 4.4,0a2.2,2.2 0 1,0 -4.4,0M672.1,261.3a2.2,2.2 0 1,0 4.4,0a2.2,2.2 0 1,0 -4.4,0M707.7,325.5a2.2,2.2 0 1,0 4.4,0a2.2,2.2 0 1,0 -4.4,0M740.2,319.9a2.2,2.2 0 1,0 4.4,0a2.2,2.2 0 1,0 -4.4,0M718.2,323a2.2,2.2 0 1,0 4.4,0a2.2,2.2 0 1,0 -4.4,0M662.5,255.3a2.2,2.2 0 1,0 4.4,0a2.2,2.2 0 1,0 -4.4,0M658.2,255.2a2.2,2.2 0 1,0 4.4,0a2.2,2.2 0 1,0 -4.4,0M666.6,325.5a2.2,2.2 0 1,0 4.4,0a2.2,2.2 0 1,0 -4.4,0M674.2,257.1a2.2,2.2 0 1,0 4.4,0a2.2,2.2 0 1,0 -4.4,0M648.2,258.1a2.2,2.2 0 1,0 4.4,0a2.2,2.2 0 1,0 -4.4,0M723,316.8a2.2,2.2 0 1,0 4.4,0a2.2,2.2 0 1,0 -4.4,0M669.6,322.7a2.2,2.2 0 1,0 4.4,0a2.2,2.2 0 1,0 -4.4,0M665.8,260.6a2.2,2.2 0 1,0 4.4,0a2.2,2.2 0 1,0 -4.4,0M721.6,261.5a2.2,2.2 0 1,0 4.4,0a2.2,2.2 0 1,0 -4.4,0M707.3,263.2a2.2,2.2 0 1,0 4.4,0a2.2,2.2 0 1,0 -4.4,0M642.4,264.3a2.2,2.2 0 1,0 4.4,0a2.2,2.2 0 1,0 -4.4,0M642,295.8a2.2,2.2 0 1,0 4.4,0a2.2,2.2 0 1,0 -4.4,0M756.7,278.7a2.2,2.2 0 1,0 4.4,0a2.2,2.2 0 1,0 -4.4,0M757.4,292.7a2.2,2.2 0 1,0 4.4,0a2.2,2.2 0 1,0 -4.4,0M756.7,299.7a2.2,2.2 0 1,0 4.4,0a2.2,2.2 0 1,0 -4.4,0M702,226.4a2.2,2.2 0 1,0 4.4,0a2.2,2.2 0 1,0 -4.4,0M693.2,236.3a2.2,2.2 0 1,0 4.4,0a2.2,2.2 0 1,0 -4.4,0M684,245.4a2.2,2.2 0 1,0 4.4,0a2.2,2.2 0 1,0 -4.4,0M676.1,245.4a2.2,2.2 0 1,0 4.4,0a2.2,2.2 0 1,0 -4.4,0M657.9,247.7a2.2,2.2 0 1,0 4.4,0a2.2,2.2 0 1,0 -4.4,0M660.9,248.6a2.2,2.2 0 1,0 4.4,0a2.2,2.2 0 1,0 -4.4,0M739.2,246a2.2,2.2 0 1,0 4.4,0a2.2,2.2 0 1,0 -4.4,0M729.6,252.1a2.2,2.2 0 1,0 4.4,0a2.2,2.2 0 1,0 -4.4,0M717.7,256.8a2.2,2.2 0 1,0 4.4,0a2.2,2.2 0 1,0 -4.4,0M643.8,256.8a2.2,2.2 0 1,0 4.4,0a2.2,2.2 0 1,0 -4.4,0M651.8,260.8a2.2,2.2 0 1,0 4.4,0a2.2,2.2 0 1,0 -4.4,0M761.4,225.9a2.2,2.2 0 1,0 4.4,0a2.2,2.2 0 1,0 -4.4,0M761.4,330.7a2.2,2.2 0 1,0 4.4,0a2.2,2.2 0 1,0 -4.4,0M757,343.5a2.2,2.2 0 1,0 4.4,0a2.2,2.2 0 1,0 -4.4,0M646.4,326.7a2.2,2.2 0 1,0 4.4,0a2.2,2.2 0 1,0 -4.4,0M666.1,333a2.2,2.2 0 1,0 4.4,0a2.2,2.2 0 1,0 -4.4,0M681.9,332.5a2.2,2.2 0 1,0 4.4,0a2.2,2.2 0 1,0 -4.4,0M708.1,334.7a2.2,2.2 0 1,0 4.4,0a2.2,2.2 0 1,0 -4.4,0M695.3,328.4a2.2,2.2 0 1,0 4.4,0a2.2,2.2 0 1,0 -4.4,0M735.2,321.1a2.2,2.2 0 1,0 4.4,0a2.2,2.2 0 1,0 -4.4,0" stroke="#3f55ad" stroke-width="1.1" fill="none"/><path d="M643,288.8 L648,288.9 L653,289.1 L658.1,289.2 L663.1,289.3 L668.1,289.5 L673.1,289.6 L678.2,289.7 L683.2,289.7 L688.2,289.8 L693.2,289.9 L698.3,289.9 L703.3,290 L708.3,290 L713.3,290 L718.3,290 L723.4,290 L728.4,290 L733.4,290 L738.4,290 L743.5,289.9 L748.5,289.9 L753.5,289.8 L758.5,289.7 L763.6,289.6" stroke="#b02c64" stroke-width="1.6" fill="none" stroke-linejoin="round"/></g><rect x="635.6" y="218.6" width="136.6" height="132.2" fill="none" stroke="#484848" stroke-width="1.2"/><path d="M648.9,350.8v4M648.9,218.6v-4M671.8,350.8v4M671.8,218.6v-4M694.7,350.8v4M694.7,218.6v-4M717.7,350.8v4M717.7,218.6v-4M740.6,350.8v4M740.6,218.6v-4M763.5,350.8v4M763.5,218.6v-4M635.6,342.1h-4M772.2,342.1h4M635.6,316.4h-4M772.2,316.4h4M635.6,290.6h-4M772.2,290.6h4M635.6,264.9h-4M772.2,264.9h4M635.6,239.1h-4M772.2,239.1h4" stroke="#484848" stroke-width="1.2" fill="none"/><text x="648.9" y="366.8" text-anchor="middle" class="t">0.4</text><text x="671.8" y="366.8" text-anchor="middle" class="t">0.6</text><text x="694.7" y="366.8" text-anchor="middle" class="t">0.8</text><text x="717.7" y="366.8" text-anchor="middle" class="t">1.0</text><text x="740.6" y="366.8" text-anchor="middle" class="t">1.2</text><text x="763.5" y="366.8" text-anchor="middle" class="t">1.4</text><text x="629.6" y="346.1" text-anchor="end" class="t">-4</text><text x="629.6" y="320.4" text-anchor="end" class="t">-2</text><text x="629.6" y="294.6" text-anchor="end" class="t">0</text><text x="629.6" y="268.9" text-anchor="end" class="t">2</text><text x="629.6" y="243.1" text-anchor="end" class="t">4</text><text x="707.4" y="380.8" text-anchor="middle" class="a">Time</text><clipPath id="cP9"><rect x="45.2" y="436.5" width="132.8" height="132.6"/></clipPath><g clip-path="url(#cP9)"><path d="M45,523.4L178,504.7" stroke="#333" stroke-width="1" fill="none"/><path d="M52.4,484.2 L54,482.4 L55.6,479.8 L57.2,481.1 L58.8,478 L60.4,478.3 L62,478.4 L63.7,477.1 L65.3,475.9 L66.9,480 L68.5,479.2 L70.1,484.5 L71.7,479.7 L73.3,479.1 L74.9,476 L76.5,476.9 L78.2,475.2 L79.8,478.3 L81.4,483.7 L83,481.2 L84.6,478.5 L86.2,479 L87.8,477.4 L89.4,479 L91,478.2 L92.6,478.6 L94.3,477.5 L95.9,474.2 L97.5,473.3 L99.1,467.7 L100.7,470.7 L102.3,469.9 L103.9,471.5 L105.5,470.9 L107.1,473.5 L108.7,473.4 L110.4,474.8 L112,478.2 L113.6,477.7 L115.2,477.7 L116.8,475.8 L118.4,470.9 L120,476.1 L121.6,477 L123.2,479.3 L124.8,476.6 L126.5,473.9 L128.1,474.2 L129.7,472.4 L131.3,473.1 L132.9,475.3 L134.5,479.1 L136.1,469.3 L137.7,454.8 L139.3,458.2 L141,456.3 L142.6,451.7 L144.2,456.6 L145.8,456.4 L147.4,456.5 L149,456.5 L150.6,457.3 L152.2,453.5 L153.8,453.4 L155.4,456.2 L157.1,455.7 L158.7,457.4 L160.3,452 L161.9,454.3 L163.5,454.9 L165.1,455.4 L166.7,454.5 L168.3,455.4 L169.9,456 L169.9,536.2 L168.3,539.7 L166.7,542.4 L165.1,543.9 L163.5,546.2 L161.9,545.7 L160.3,546.9 L158.7,543.6 L157.1,544.6 L155.4,543.5 L153.8,540.7 L152.2,541.1 L150.6,537.8 L149,538.3 L147.4,544.1 L145.8,541.4 L144.2,539.1 L142.6,541.2 L141,541 L139.3,542.5 L137.7,541.2 L136.1,541.6 L134.5,544.1 L132.9,543 L131.3,544.2 L129.7,542.8 L128.1,543.3 L126.5,544 L124.8,544.1 L123.2,547.7 L121.6,543.3 L120,543.8 L118.4,543.9 L116.8,545.3 L115.2,544 L113.6,544.2 L112,549.2 L110.4,544.8 L108.7,549.2 L107.1,542.2 L105.5,542.8 L103.9,542.4 L102.3,542.1 L100.7,542.9 L99.1,543.3 L97.5,543.7 L95.9,547.7 L94.3,549.2 L92.6,541.9 L91,544.2 L89.4,544 L87.8,543.9 L86.2,542.6 L84.6,542.8 L83,543.5 L81.4,548.9 L79.8,548.9 L78.2,545 L76.5,543.1 L74.9,543.1 L73.3,545.8 L71.7,543.5 L70.1,543.6 L68.5,548.9 L66.9,546.9 L65.3,545.3 L63.7,545 L62,546.3 L60.4,551.9 L58.8,548.3 L57.2,547.5 L55.6,547.5 L54,545 L52.4,544.1Z" fill="#1a449a" stroke="#1a449a" stroke-width="0.5"/><path d="M138.4,545.2L137.7,539.7M167.6,451.8L168.3,456.9M83.6,546.2L83,542M116.1,549.4L116.8,543.8M127.7,471.4L128.1,475.7M137.6,452.3L137.7,456.3M80.6,551.3L81.4,547.4M168.6,542.9L168.3,538.2M163.5,550.4L163.5,544.7M55.4,550.9L55.6,546M73.6,548.8L73.3,544.3M68.3,553.3L68.5,547.4M151.9,543.8L152.2,539.6M159.9,449.3L160.3,453.5M73.1,548.9L73.3,544.3M133.9,547.2L134.5,542.6M170.6,454L169.9,457.5M90.4,476L91,479.7M54.8,479.9L54,483.9M83.6,478.5L83,482.7M104.1,469.1L103.9,473M89.4,476.2L89.4,480.5M101,545.6L100.7,541.4M89.5,476.2L89.4,480.5M98.3,546.5L99.1,541.8M75.8,472.7L76.5,478.4M99.2,464.3L99.1,469.2M136.5,544.2L136.1,540.1M64.4,474.9L63.7,478.6M123.5,476.5L123.2,480.8M168.2,452.6L168.3,456.9M147.9,453.3L147.4,458M120,473.9L120,477.6M138.1,451L137.7,456.3M139.8,456.1L139.3,459.7M86.2,444.1L84,476.7M86.2,444.1L88.3,478.4M110.3,452.1L107.8,469.9M110.3,452.1L112,471.6M121.7,452.5L119.6,473.3M121.7,452.5L123.9,471.6M127.6,454.3L127.6,469.9M146.4,448.7L146.4,454.7M74.7,470.8L72.1,483.5M74.7,470.8L77.2,481.8M63.7,556.4L63.7,548M160,561.5L160.4,544.6M164.6,556.8L164.6,544.6" stroke="#2a48a6" stroke-width="1.1" fill="none"/><path d="M53.4,479.6a2.2,2.2 0 1,0 4.4,0a2.2,2.2 0 1,0 -4.4,0M58,478.2a2.2,2.2 0 1,0 4.4,0a2.2,2.2 0 1,0 -4.4,0M60.2,478.6a2.2,2.2 0 1,0 4.4,0a2.2,2.2 0 1,0 -4.4,0M63,475.7a2.2,2.2 0 1,0 4.4,0a2.2,2.2 0 1,0 -4.4,0M65,479.8a2.2,2.2 0 1,0 4.4,0a2.2,2.2 0 1,0 -4.4,0M66,479.4a2.2,2.2 0 1,0 4.4,0a2.2,2.2 0 1,0 -4.4,0M67.9,484.2a2.2,2.2 0 1,0 4.4,0a2.2,2.2 0 1,0 -4.4,0M71.4,479.2a2.2,2.2 0 1,0 4.4,0a2.2,2.2 0 1,0 -4.4,0M74.1,477a2.2,2.2 0 1,0 4.4,0a2.2,2.2 0 1,0 -4.4,0M76.3,475.3a2.2,2.2 0 1,0 4.4,0a2.2,2.2 0 1,0 -4.4,0M77.4,478.1a2.2,2.2 0 1,0 4.4,0a2.2,2.2 0 1,0 -4.4,0M82.1,478.6a2.2,2.2 0 1,0 4.4,0a2.2,2.2 0 1,0 -4.4,0M84.2,479a2.2,2.2 0 1,0 4.4,0a2.2,2.2 0 1,0 -4.4,0M88.9,478.3a2.2,2.2 0 1,0 4.4,0a2.2,2.2 0 1,0 -4.4,0M90.7,478.7a2.2,2.2 0 1,0 4.4,0a2.2,2.2 0 1,0 -4.4,0M93.7,474.2a2.2,2.2 0 1,0 4.4,0a2.2,2.2 0 1,0 -4.4,0M97.1,467.7a2.2,2.2 0 1,0 4.4,0a2.2,2.2 0 1,0 -4.4,0M98.8,470.8a2.2,2.2 0 1,0 4.4,0a2.2,2.2 0 1,0 -4.4,0M106.4,473.2a2.2,2.2 0 1,0 4.4,0a2.2,2.2 0 1,0 -4.4,0M109.4,477.9a2.2,2.2 0 1,0 4.4,0a2.2,2.2 0 1,0 -4.4,0M111.4,477.6a2.2,2.2 0 1,0 4.4,0a2.2,2.2 0 1,0 -4.4,0M112.6,477.7a2.2,2.2 0 1,0 4.4,0a2.2,2.2 0 1,0 -4.4,0M114.3,475.5a2.2,2.2 0 1,0 4.4,0a2.2,2.2 0 1,0 -4.4,0M116.1,470.7a2.2,2.2 0 1,0 4.4,0a2.2,2.2 0 1,0 -4.4,0M117.5,476.2a2.2,2.2 0 1,0 4.4,0a2.2,2.2 0 1,0 -4.4,0M120.7,479.6a2.2,2.2 0 1,0 4.4,0a2.2,2.2 0 1,0 -4.4,0M122.8,476.7a2.2,2.2 0 1,0 4.4,0a2.2,2.2 0 1,0 -4.4,0M124.6,473.7a2.2,2.2 0 1,0 4.4,0a2.2,2.2 0 1,0 -4.4,0M132.3,479.3a2.2,2.2 0 1,0 4.4,0a2.2,2.2 0 1,0 -4.4,0M133.7,469a2.2,2.2 0 1,0 4.4,0a2.2,2.2 0 1,0 -4.4,0M135.2,455a2.2,2.2 0 1,0 4.4,0a2.2,2.2 0 1,0 -4.4,0M137,458.5a2.2,2.2 0 1,0 4.4,0a2.2,2.2 0 1,0 -4.4,0M140,451.7a2.2,2.2 0 1,0 4.4,0a2.2,2.2 0 1,0 -4.4,0M142.3,456.6a2.2,2.2 0 1,0 4.4,0a2.2,2.2 0 1,0 -4.4,0M144.8,456.7a2.2,2.2 0 1,0 4.4,0a2.2,2.2 0 1,0 -4.4,0M147,456.6a2.2,2.2 0 1,0 4.4,0a2.2,2.2 0 1,0 -4.4,0M148.7,457.3a2.2,2.2 0 1,0 4.4,0a2.2,2.2 0 1,0 -4.4,0M156.6,457.5a2.2,2.2 0 1,0 4.4,0a2.2,2.2 0 1,0 -4.4,0M159.8,454.5a2.2,2.2 0 1,0 4.4,0a2.2,2.2 0 1,0 -4.4,0M161,454.6a2.2,2.2 0 1,0 4.4,0a2.2,2.2 0 1,0 -4.4,0M162.6,455.6a2.2,2.2 0 1,0 4.4,0a2.2,2.2 0 1,0 -4.4,0M164.9,454.7a2.2,2.2 0 1,0 4.4,0a2.2,2.2 0 1,0 -4.4,0M165.9,455.3a2.2,2.2 0 1,0 4.4,0a2.2,2.2 0 1,0 -4.4,0M53,547.6a2.2,2.2 0 1,0 4.4,0a2.2,2.2 0 1,0 -4.4,0M65,547a2.2,2.2 0 1,0 4.4,0a2.2,2.2 0 1,0 -4.4,0M66,549a2.2,2.2 0 1,0 4.4,0a2.2,2.2 0 1,0 -4.4,0M68.2,543.4a2.2,2.2 0 1,0 4.4,0a2.2,2.2 0 1,0 -4.4,0M69.5,543.8a2.2,2.2 0 1,0 4.4,0a2.2,2.2 0 1,0 -4.4,0M71.4,546a2.2,2.2 0 1,0 4.4,0a2.2,2.2 0 1,0 -4.4,0M78.8,548.7a2.2,2.2 0 1,0 4.4,0a2.2,2.2 0 1,0 -4.4,0M82.5,542.7a2.2,2.2 0 1,0 4.4,0a2.2,2.2 0 1,0 -4.4,0M84.3,542.8a2.2,2.2 0 1,0 4.4,0a2.2,2.2 0 1,0 -4.4,0M87.3,544.3a2.2,2.2 0 1,0 4.4,0a2.2,2.2 0 1,0 -4.4,0M92.4,549a2.2,2.2 0 1,0 4.4,0a2.2,2.2 0 1,0 -4.4,0M93.8,547.6a2.2,2.2 0 1,0 4.4,0a2.2,2.2 0 1,0 -4.4,0M98.8,543.2a2.2,2.2 0 1,0 4.4,0a2.2,2.2 0 1,0 -4.4,0M105.2,542.4a2.2,2.2 0 1,0 4.4,0a2.2,2.2 0 1,0 -4.4,0M108.1,544.9a2.2,2.2 0 1,0 4.4,0a2.2,2.2 0 1,0 -4.4,0M109.5,549.2a2.2,2.2 0 1,0 4.4,0a2.2,2.2 0 1,0 -4.4,0M111.4,543.9a2.2,2.2 0 1,0 4.4,0a2.2,2.2 0 1,0 -4.4,0M114.9,545a2.2,2.2 0 1,0 4.4,0a2.2,2.2 0 1,0 -4.4,0M119.5,543.3a2.2,2.2 0 1,0 4.4,0a2.2,2.2 0 1,0 -4.4,0M122.6,544.3a2.2,2.2 0 1,0 4.4,0a2.2,2.2 0 1,0 -4.4,0M125.7,543.6a2.2,2.2 0 1,0 4.4,0a2.2,2.2 0 1,0 -4.4,0M127.5,542.8a2.2,2.2 0 1,0 4.4,0a2.2,2.2 0 1,0 -4.4,0M128.7,544a2.2,2.2 0 1,0 4.4,0a2.2,2.2 0 1,0 -4.4,0M132.1,544a2.2,2.2 0 1,0 4.4,0a2.2,2.2 0 1,0 -4.4,0M133.6,541.8a2.2,2.2 0 1,0 4.4,0a2.2,2.2 0 1,0 -4.4,0M137,542.3a2.2,2.2 0 1,0 4.4,0a2.2,2.2 0 1,0 -4.4,0M138.8,541.2a2.2,2.2 0 1,0 4.4,0a2.2,2.2 0 1,0 -4.4,0M140.6,541.5a2.2,2.2 0 1,0 4.4,0a2.2,2.2 0 1,0 -4.4,0M143.3,541.5a2.2,2.2 0 1,0 4.4,0a2.2,2.2 0 1,0 -4.4,0M145.5,543.9a2.2,2.2 0 1,0 4.4,0a2.2,2.2 0 1,0 -4.4,0M147.2,538.2a2.2,2.2 0 1,0 4.4,0a2.2,2.2 0 1,0 -4.4,0M151.5,540.6a2.2,2.2 0 1,0 4.4,0a2.2,2.2 0 1,0 -4.4,0M158,547.1a2.2,2.2 0 1,0 4.4,0a2.2,2.2 0 1,0 -4.4,0M159.6,545.8a2.2,2.2 0 1,0 4.4,0a2.2,2.2 0 1,0 -4.4,0M163.1,543.9a2.2,2.2 0 1,0 4.4,0a2.2,2.2 0 1,0 -4.4,0M164.8,542.2a2.2,2.2 0 1,0 4.4,0a2.2,2.2 0 1,0 -4.4,0M167.9,536.4a2.2,2.2 0 1,0 4.4,0a2.2,2.2 0 1,0 -4.4,0M136.2,545.2a2.2,2.2 0 1,0 4.4,0a2.2,2.2 0 1,0 -4.4,0M165.4,451.8a2.2,2.2 0 1,0 4.4,0a2.2,2.2 0 1,0 -4.4,0M81.4,546.2a2.2,2.2 0 1,0 4.4,0a2.2,2.2 0 1,0 -4.4,0M113.9,549.4a2.2,2.2 0 1,0 4.4,0a2.2,2.2 0 1,0 -4.4,0M125.5,471.4a2.2,2.2 0 1,0 4.4,0a2.2,2.2 0 1,0 -4.4,0M135.4,452.3a2.2,2.2 0 1,0 4.4,0a2.2,2.2 0 1,0 -4.4,0M78.4,551.3a2.2,2.2 0 1,0 4.4,0a2.2,2.2 0 1,0 -4.4,0M166.4,542.9a2.2,2.2 0 1,0 4.4,0a2.2,2.2 0 1,0 -4.4,0M161.3,550.4a2.2,2.2 0 1,0 4.4,0a2.2,2.2 0 1,0 -4.4,0M53.2,550.9a2.2,2.2 0 1,0 4.4,0a2.2,2.2 0 1,0 -4.4,0M71.4,548.8a2.2,2.2 0 1,0 4.4,0a2.2,2.2 0 1,0 -4.4,0M66.1,553.3a2.2,2.2 0 1,0 4.4,0a2.2,2.2 0 1,0 -4.4,0M149.7,543.8a2.2,2.2 0 1,0 4.4,0a2.2,2.2 0 1,0 -4.4,0M157.7,449.3a2.2,2.2 0 1,0 4.4,0a2.2,2.2 0 1,0 -4.4,0M70.9,548.9a2.2,2.2 0 1,0 4.4,0a2.2,2.2 0 1,0 -4.4,0M131.7,547.2a2.2,2.2 0 1,0 4.4,0a2.2,2.2 0 1,0 -4.4,0M168.4,454a2.2,2.2 0 1,0 4.4,0a2.2,2.2 0 1,0 -4.4,0M88.2,476a2.2,2.2 0 1,0 4.4,0a2.2,2.2 0 1,0 -4.4,0M52.6,479.9a2.2,2.2 0 1,0 4.4,0a2.2,2.2 0 1,0 -4.4,0M81.4,478.5a2.2,2.2 0 1,0 4.4,0a2.2,2.2 0 1,0 -4.4,0M101.9,469.1a2.2,2.2 0 1,0 4.4,0a2.2,2.2 0 1,0 -4.4,0M87.2,476.2a2.2,2.2 0 1,0 4.4,0a2.2,2.2 0 1,0 -4.4,0M98.8,545.6a2.2,2.2 0 1,0 4.4,0a2.2,2.2 0 1,0 -4.4,0M87.3,476.2a2.2,2.2 0 1,0 4.4,0a2.2,2.2 0 1,0 -4.4,0M96.1,546.5a2.2,2.2 0 1,0 4.4,0a2.2,2.2 0 1,0 -4.4,0M73.6,472.7a2.2,2.2 0 1,0 4.4,0a2.2,2.2 0 1,0 -4.4,0M97,464.3a2.2,2.2 0 1,0 4.4,0a2.2,2.2 0 1,0 -4.4,0M134.3,544.2a2.2,2.2 0 1,0 4.4,0a2.2,2.2 0 1,0 -4.4,0M62.2,474.9a2.2,2.2 0 1,0 4.4,0a2.2,2.2 0 1,0 -4.4,0M121.3,476.5a2.2,2.2 0 1,0 4.4,0a2.2,2.2 0 1,0 -4.4,0M166,452.6a2.2,2.2 0 1,0 4.4,0a2.2,2.2 0 1,0 -4.4,0M145.7,453.3a2.2,2.2 0 1,0 4.4,0a2.2,2.2 0 1,0 -4.4,0M117.8,473.9a2.2,2.2 0 1,0 4.4,0a2.2,2.2 0 1,0 -4.4,0M135.9,451a2.2,2.2 0 1,0 4.4,0a2.2,2.2 0 1,0 -4.4,0M137.6,456.1a2.2,2.2 0 1,0 4.4,0a2.2,2.2 0 1,0 -4.4,0M51.3,486.2a2.2,2.2 0 1,0 4.4,0a2.2,2.2 0 1,0 -4.4,0M50.8,496.7a2.2,2.2 0 1,0 4.4,0a2.2,2.2 0 1,0 -4.4,0M51,521.2a2.2,2.2 0 1,0 4.4,0a2.2,2.2 0 1,0 -4.4,0M51.5,528.2a2.2,2.2 0 1,0 4.4,0a2.2,2.2 0 1,0 -4.4,0M51.2,531.7a2.2,2.2 0 1,0 4.4,0a2.2,2.2 0 1,0 -4.4,0M50.9,535.2a2.2,2.2 0 1,0 4.4,0a2.2,2.2 0 1,0 -4.4,0M167.2,458a2.2,2.2 0 1,0 4.4,0a2.2,2.2 0 1,0 -4.4,0M166.3,468.5a2.2,2.2 0 1,0 4.4,0a2.2,2.2 0 1,0 -4.4,0M167.2,472a2.2,2.2 0 1,0 4.4,0a2.2,2.2 0 1,0 -4.4,0M167,475.5a2.2,2.2 0 1,0 4.4,0a2.2,2.2 0 1,0 -4.4,0M166.7,486a2.2,2.2 0 1,0 4.4,0a2.2,2.2 0 1,0 -4.4,0M167,493a2.2,2.2 0 1,0 4.4,0a2.2,2.2 0 1,0 -4.4,0M167,510.5a2.2,2.2 0 1,0 4.4,0a2.2,2.2 0 1,0 -4.4,0M166.7,528a2.2,2.2 0 1,0 4.4,0a2.2,2.2 0 1,0 -4.4,0M84,444.1a2.2,2.2 0 1,0 4.4,0a2.2,2.2 0 1,0 -4.4,0M108.1,452.1a2.2,2.2 0 1,0 4.4,0a2.2,2.2 0 1,0 -4.4,0M119.5,452.5a2.2,2.2 0 1,0 4.4,0a2.2,2.2 0 1,0 -4.4,0M125.4,454.3a2.2,2.2 0 1,0 4.4,0a2.2,2.2 0 1,0 -4.4,0M144.2,448.7a2.2,2.2 0 1,0 4.4,0a2.2,2.2 0 1,0 -4.4,0M155.1,453a2.2,2.2 0 1,0 4.4,0a2.2,2.2 0 1,0 -4.4,0M163.2,450.9a2.2,2.2 0 1,0 4.4,0a2.2,2.2 0 1,0 -4.4,0M166.6,450.9a2.2,2.2 0 1,0 4.4,0a2.2,2.2 0 1,0 -4.4,0M137,452.6a2.2,2.2 0 1,0 4.4,0a2.2,2.2 0 1,0 -4.4,0M148,454.7a2.2,2.2 0 1,0 4.4,0a2.2,2.2 0 1,0 -4.4,0M57.2,472.5a2.2,2.2 0 1,0 4.4,0a2.2,2.2 0 1,0 -4.4,0M62.8,472.5a2.2,2.2 0 1,0 4.4,0a2.2,2.2 0 1,0 -4.4,0M72.5,470.8a2.2,2.2 0 1,0 4.4,0a2.2,2.2 0 1,0 -4.4,0M100.1,466.2a2.2,2.2 0 1,0 4.4,0a2.2,2.2 0 1,0 -4.4,0M95.7,469.6a2.2,2.2 0 1,0 4.4,0a2.2,2.2 0 1,0 -4.4,0M129,466.2a2.2,2.2 0 1,0 4.4,0a2.2,2.2 0 1,0 -4.4,0M61.5,556.4a2.2,2.2 0 1,0 4.4,0a2.2,2.2 0 1,0 -4.4,0M55.5,551a2.2,2.2 0 1,0 4.4,0a2.2,2.2 0 1,0 -4.4,0M151.4,547.1a2.2,2.2 0 1,0 4.4,0a2.2,2.2 0 1,0 -4.4,0M157.8,561.5a2.2,2.2 0 1,0 4.4,0a2.2,2.2 0 1,0 -4.4,0M162.4,556.8a2.2,2.2 0 1,0 4.4,0a2.2,2.2 0 1,0 -4.4,0M92.3,547.1a2.2,2.2 0 1,0 4.4,0a2.2,2.2 0 1,0 -4.4,0M107.3,547.1a2.2,2.2 0 1,0 4.4,0a2.2,2.2 0 1,0 -4.4,0" stroke="#3f55ad" stroke-width="1.1" fill="none"/><path d="M52.6,520.8 L57.5,520.7 L62.5,520.5 L67.4,520.3 L72.3,520.1 L77.2,519.8 L82.1,519.4 L87,519.1 L91.9,518.7 L96.8,518.3 L101.8,517.8 L106.7,517.3 L111.6,516.7 L116.5,516.1 L121.4,515.5 L126.3,514.9 L131.2,514.2 L136.1,513.4 L141.1,512.7 L146,511.9 L150.9,511 L155.8,510.1 L160.7,509.2 L165.6,508.2 L170.5,507.2" stroke="#b02c64" stroke-width="1.6" fill="none" stroke-linejoin="round"/></g><rect x="45.2" y="436.5" width="132.8" height="132.6" fill="none" stroke="#484848" stroke-width="1.2"/><path d="M64.9,569.1v4M64.9,436.5v-4M87.5,569.1v4M87.5,436.5v-4M110.1,569.1v4M110.1,436.5v-4M132.7,569.1v4M132.7,436.5v-4M155.3,569.1v4M155.3,436.5v-4M45.2,538.1h-4M178,538.1h4M45.2,505.4h-4M178,505.4h4M45.2,472.7h-4M178,472.7h4M45.2,440h-4M178,440h4" stroke="#484848" stroke-width="1.2" fill="none"/><text x="64.9" y="585.1" text-anchor="middle" class="t">125</text><text x="87.5" y="585.1" text-anchor="middle" class="t">130</text><text x="110.1" y="585.1" text-anchor="middle" class="t">135</text><text x="132.7" y="585.1" text-anchor="middle" class="t">140</text><text x="155.3" y="585.1" text-anchor="middle" class="t">145</text><text x="39.2" y="542.1" text-anchor="end" class="t">100</text><text x="39.2" y="509.4" text-anchor="end" class="t">150</text><text x="39.2" y="476.7" text-anchor="end" class="t">200</text><text x="39.2" y="444" text-anchor="end" class="t">250</text><text x="111.6" y="600.4" text-anchor="middle" class="a">Population predictions</text><clipPath id="cP10"><rect x="226.5" y="436.3" width="133.8" height="133.3"/></clipPath><g clip-path="url(#cP10)"><path d="M227,548L360,459.8" stroke="#333" stroke-width="1" fill="none"/><path d="M234.4,532.1 L236,532.3 L237.6,527.3 L239.2,527.5 L240.8,525.6 L242.4,523.7 L244,524.2 L245.6,521.7 L247.2,516.6 L248.8,519.7 L250.4,518.6 L252,518.4 L253.6,516.7 L255.2,514 L256.8,514.9 L258.4,512.2 L260,511 L261.6,508.1 L263.2,500.8 L264.8,503.3 L266.4,498.2 L268,492.4 L269.6,492.7 L271.2,490.4 L272.8,485.5 L274.4,483.2 L276,476.8 L277.6,476.4 L279.2,478.2 L280.8,472.9 L282.4,475.6 L284,474 L285.6,473.3 L287.2,472.9 L288.8,466.8 L290.4,469.2 L292,472.9 L293.6,473.1 L295.2,467.2 L296.8,470.6 L298.4,471.6 L300,469.4 L301.6,469.7 L303.2,466.4 L304.8,467.1 L306.4,464.9 L308,466.3 L309.6,465.6 L311.2,464.7 L312.8,465.6 L314.4,466.2 L316,462.9 L317.6,461.6 L319.2,461.2 L320.8,464.3 L322.4,462 L324,463.5 L325.6,462.5 L327.2,462.6 L328.8,463.3 L330.4,460.8 L332,462.4 L333.6,459.6 L335.2,459.4 L336.8,458.5 L338.4,457.8 L340,456.6 L341.6,454.4 L343.2,454.4 L344.8,456.5 L346.4,455.6 L348,452.4 L349.6,454.8 L351.2,458.6 L352.8,458.9 L352.8,482.4 L351.2,479.4 L349.6,480.5 L348,481 L346.4,480.3 L344.8,478.6 L343.2,480 L341.6,483.8 L340,484.7 L338.4,489.9 L336.8,492 L335.2,494.2 L333.6,494.3 L332,496 L330.4,500 L328.8,498.4 L327.2,503.2 L325.6,501 L324,501.7 L322.4,503.3 L320.8,504.1 L319.2,507.2 L317.6,508.3 L316,508.9 L314.4,510.6 L312.8,513.4 L311.2,515.8 L309.6,515.4 L308,515.1 L306.4,516.7 L304.8,519.8 L303.2,519.5 L301.6,523 L300,525 L298.4,525.9 L296.8,527 L295.2,529.9 L293.6,534.4 L292,532.5 L290.4,532.6 L288.8,536.1 L287.2,536.8 L285.6,536.7 L284,542.4 L282.4,544 L280.8,543.6 L279.2,539.6 L277.6,539.8 L276,542.2 L274.4,542.4 L272.8,543.9 L271.2,544.4 L269.6,544.6 L268,542.7 L266.4,547.9 L264.8,545.3 L263.2,548.8 L261.6,548.5 L260,550.9 L258.4,547.1 L256.8,545.1 L255.2,545.8 L253.6,544.5 L252,547.1 L250.4,546.9 L248.8,545.3 L247.2,546.3 L245.6,546.2 L244,547.2 L242.4,547.2 L240.8,550 L239.2,546.5 L237.6,546.4 L236,544 L234.4,541.3Z" fill="#1a449a" stroke="#1a449a" stroke-width="0.5"/><path d="M237.9,523.3L237.6,528.8M257.8,551L258.4,545.6M312,463.1L312.8,467.1M326.3,459.9L325.6,464M243.7,549.9L244,545.7M283.3,545.2L284,540.9M277.8,473L277.6,477.9M262.8,551L263.2,547.3M316.9,459.5L317.6,463.1M278.1,543.3L277.6,538.3M234.5,530L234.4,533.6M303.1,523.2L303.2,518M303.4,463.8L303.2,467.9M346.6,452.2L346.4,457.1M332.5,500.1L332,494.5M282.4,546.7L282.4,542.5M280.3,546.4L280.8,542.1M318.6,509.6L319.2,505.7M332.8,498.2L332,494.5M272.3,546L272.8,542.4M240.9,553L240.8,548.5M242.5,519.7L242.4,525.2M306,519.8L306.4,515.2M260.1,507.2L260,512.5M301.9,467.1L301.6,471.2M234.2,527.9L234.4,533.6M239.2,524.5L239.2,529M280.6,470.2L280.8,474.4M331.4,460.3L332,463.9M311.3,462.6L311.2,466.2M342.5,483.7L343.2,478.5M297,466.8L296.8,472.1M306.7,460.7L306.4,466.4M295.9,463.5L295.2,468.7M236.6,546.6L236,542.5M235.5,505.6L235.5,531M276.7,444L276.7,478.4M263.8,472.8L263.8,495.4M267.2,475.9L267.2,492M308.4,450.9L308.4,469.9M322,454.3L322,463.1M337.6,448.4L337.6,463.1M303,544.2L303,520.8M341.5,498.4L341.5,485.2M277.9,552.7L277.9,541.2M263,557.3L263,546.3M268.9,561.9L268.9,544.6M241.4,556.4L241.4,549.7" stroke="#2a48a6" stroke-width="1.1" fill="none"/><path d="M232.5,532.2a2.2,2.2 0 1,0 4.4,0a2.2,2.2 0 1,0 -4.4,0M234,532.4a2.2,2.2 0 1,0 4.4,0a2.2,2.2 0 1,0 -4.4,0M235.5,527.4a2.2,2.2 0 1,0 4.4,0a2.2,2.2 0 1,0 -4.4,0M239,525.9a2.2,2.2 0 1,0 4.4,0a2.2,2.2 0 1,0 -4.4,0M240.5,524a2.2,2.2 0 1,0 4.4,0a2.2,2.2 0 1,0 -4.4,0M241.5,524.1a2.2,2.2 0 1,0 4.4,0a2.2,2.2 0 1,0 -4.4,0M243.1,521.5a2.2,2.2 0 1,0 4.4,0a2.2,2.2 0 1,0 -4.4,0M246.7,519.7a2.2,2.2 0 1,0 4.4,0a2.2,2.2 0 1,0 -4.4,0M249.8,518.2a2.2,2.2 0 1,0 4.4,0a2.2,2.2 0 1,0 -4.4,0M251.7,516.6a2.2,2.2 0 1,0 4.4,0a2.2,2.2 0 1,0 -4.4,0M253.3,513.9a2.2,2.2 0 1,0 4.4,0a2.2,2.2 0 1,0 -4.4,0M254.3,514.8a2.2,2.2 0 1,0 4.4,0a2.2,2.2 0 1,0 -4.4,0M262.2,503a2.2,2.2 0 1,0 4.4,0a2.2,2.2 0 1,0 -4.4,0M265.7,492.6a2.2,2.2 0 1,0 4.4,0a2.2,2.2 0 1,0 -4.4,0M267.5,492.7a2.2,2.2 0 1,0 4.4,0a2.2,2.2 0 1,0 -4.4,0M269.2,490.2a2.2,2.2 0 1,0 4.4,0a2.2,2.2 0 1,0 -4.4,0M273.7,476.7a2.2,2.2 0 1,0 4.4,0a2.2,2.2 0 1,0 -4.4,0M275.5,476.3a2.2,2.2 0 1,0 4.4,0a2.2,2.2 0 1,0 -4.4,0M278.4,472.7a2.2,2.2 0 1,0 4.4,0a2.2,2.2 0 1,0 -4.4,0M281.5,474.2a2.2,2.2 0 1,0 4.4,0a2.2,2.2 0 1,0 -4.4,0M283.2,473.1a2.2,2.2 0 1,0 4.4,0a2.2,2.2 0 1,0 -4.4,0M288.5,469.3a2.2,2.2 0 1,0 4.4,0a2.2,2.2 0 1,0 -4.4,0M291.3,472.9a2.2,2.2 0 1,0 4.4,0a2.2,2.2 0 1,0 -4.4,0M293.3,467.1a2.2,2.2 0 1,0 4.4,0a2.2,2.2 0 1,0 -4.4,0M299.3,469.9a2.2,2.2 0 1,0 4.4,0a2.2,2.2 0 1,0 -4.4,0M300.8,466.1a2.2,2.2 0 1,0 4.4,0a2.2,2.2 0 1,0 -4.4,0M302.6,466.9a2.2,2.2 0 1,0 4.4,0a2.2,2.2 0 1,0 -4.4,0M304.3,464.7a2.2,2.2 0 1,0 4.4,0a2.2,2.2 0 1,0 -4.4,0M308.7,464.7a2.2,2.2 0 1,0 4.4,0a2.2,2.2 0 1,0 -4.4,0M310.3,465.7a2.2,2.2 0 1,0 4.4,0a2.2,2.2 0 1,0 -4.4,0M313.6,463a2.2,2.2 0 1,0 4.4,0a2.2,2.2 0 1,0 -4.4,0M317.1,461a2.2,2.2 0 1,0 4.4,0a2.2,2.2 0 1,0 -4.4,0M318.6,464.2a2.2,2.2 0 1,0 4.4,0a2.2,2.2 0 1,0 -4.4,0M321.4,463.3a2.2,2.2 0 1,0 4.4,0a2.2,2.2 0 1,0 -4.4,0M323.1,462.5a2.2,2.2 0 1,0 4.4,0a2.2,2.2 0 1,0 -4.4,0M333.3,459.7a2.2,2.2 0 1,0 4.4,0a2.2,2.2 0 1,0 -4.4,0M339.1,454.3a2.2,2.2 0 1,0 4.4,0a2.2,2.2 0 1,0 -4.4,0M346.1,452.3a2.2,2.2 0 1,0 4.4,0a2.2,2.2 0 1,0 -4.4,0M347.3,454.8a2.2,2.2 0 1,0 4.4,0a2.2,2.2 0 1,0 -4.4,0M350.2,459.1a2.2,2.2 0 1,0 4.4,0a2.2,2.2 0 1,0 -4.4,0M232.5,541.3a2.2,2.2 0 1,0 4.4,0a2.2,2.2 0 1,0 -4.4,0M233.8,544.2a2.2,2.2 0 1,0 4.4,0a2.2,2.2 0 1,0 -4.4,0M235.8,546.1a2.2,2.2 0 1,0 4.4,0a2.2,2.2 0 1,0 -4.4,0M237.1,546.6a2.2,2.2 0 1,0 4.4,0a2.2,2.2 0 1,0 -4.4,0M241.4,547.2a2.2,2.2 0 1,0 4.4,0a2.2,2.2 0 1,0 -4.4,0M243.3,546.2a2.2,2.2 0 1,0 4.4,0a2.2,2.2 0 1,0 -4.4,0M246.7,545.4a2.2,2.2 0 1,0 4.4,0a2.2,2.2 0 1,0 -4.4,0M248.5,546.7a2.2,2.2 0 1,0 4.4,0a2.2,2.2 0 1,0 -4.4,0M249.5,547.2a2.2,2.2 0 1,0 4.4,0a2.2,2.2 0 1,0 -4.4,0M252.7,545.8a2.2,2.2 0 1,0 4.4,0a2.2,2.2 0 1,0 -4.4,0M254.6,545.2a2.2,2.2 0 1,0 4.4,0a2.2,2.2 0 1,0 -4.4,0M255.8,547.2a2.2,2.2 0 1,0 4.4,0a2.2,2.2 0 1,0 -4.4,0M259.2,548.5a2.2,2.2 0 1,0 4.4,0a2.2,2.2 0 1,0 -4.4,0M263,545.1a2.2,2.2 0 1,0 4.4,0a2.2,2.2 0 1,0 -4.4,0M265.9,543a2.2,2.2 0 1,0 4.4,0a2.2,2.2 0 1,0 -4.4,0M270.9,544.1a2.2,2.2 0 1,0 4.4,0a2.2,2.2 0 1,0 -4.4,0M272.4,542.7a2.2,2.2 0 1,0 4.4,0a2.2,2.2 0 1,0 -4.4,0M273.7,542.4a2.2,2.2 0 1,0 4.4,0a2.2,2.2 0 1,0 -4.4,0M278.5,543.4a2.2,2.2 0 1,0 4.4,0a2.2,2.2 0 1,0 -4.4,0M280.5,543.8a2.2,2.2 0 1,0 4.4,0a2.2,2.2 0 1,0 -4.4,0M286.2,535.9a2.2,2.2 0 1,0 4.4,0a2.2,2.2 0 1,0 -4.4,0M293.3,529.8a2.2,2.2 0 1,0 4.4,0a2.2,2.2 0 1,0 -4.4,0M294.9,527.2a2.2,2.2 0 1,0 4.4,0a2.2,2.2 0 1,0 -4.4,0M297.5,524.8a2.2,2.2 0 1,0 4.4,0a2.2,2.2 0 1,0 -4.4,0M299.1,523a2.2,2.2 0 1,0 4.4,0a2.2,2.2 0 1,0 -4.4,0M300.8,519.8a2.2,2.2 0 1,0 4.4,0a2.2,2.2 0 1,0 -4.4,0M302.2,519.5a2.2,2.2 0 1,0 4.4,0a2.2,2.2 0 1,0 -4.4,0M305.8,514.8a2.2,2.2 0 1,0 4.4,0a2.2,2.2 0 1,0 -4.4,0M307.5,515.5a2.2,2.2 0 1,0 4.4,0a2.2,2.2 0 1,0 -4.4,0M309.3,516.1a2.2,2.2 0 1,0 4.4,0a2.2,2.2 0 1,0 -4.4,0M315.4,508.3a2.2,2.2 0 1,0 4.4,0a2.2,2.2 0 1,0 -4.4,0M318.4,504a2.2,2.2 0 1,0 4.4,0a2.2,2.2 0 1,0 -4.4,0M320.6,503.2a2.2,2.2 0 1,0 4.4,0a2.2,2.2 0 1,0 -4.4,0M321.7,502a2.2,2.2 0 1,0 4.4,0a2.2,2.2 0 1,0 -4.4,0M323.4,501a2.2,2.2 0 1,0 4.4,0a2.2,2.2 0 1,0 -4.4,0M326.7,498.7a2.2,2.2 0 1,0 4.4,0a2.2,2.2 0 1,0 -4.4,0M331.5,494.4a2.2,2.2 0 1,0 4.4,0a2.2,2.2 0 1,0 -4.4,0M336.4,489.8a2.2,2.2 0 1,0 4.4,0a2.2,2.2 0 1,0 -4.4,0M337.5,484.8a2.2,2.2 0 1,0 4.4,0a2.2,2.2 0 1,0 -4.4,0M339.2,483.6a2.2,2.2 0 1,0 4.4,0a2.2,2.2 0 1,0 -4.4,0M340.9,480.3a2.2,2.2 0 1,0 4.4,0a2.2,2.2 0 1,0 -4.4,0M342.6,478.5a2.2,2.2 0 1,0 4.4,0a2.2,2.2 0 1,0 -4.4,0M344.4,480.3a2.2,2.2 0 1,0 4.4,0a2.2,2.2 0 1,0 -4.4,0M345.7,480.8a2.2,2.2 0 1,0 4.4,0a2.2,2.2 0 1,0 -4.4,0M347.1,480.3a2.2,2.2 0 1,0 4.4,0a2.2,2.2 0 1,0 -4.4,0M348.9,479.4a2.2,2.2 0 1,0 4.4,0a2.2,2.2 0 1,0 -4.4,0M350.8,482.4a2.2,2.2 0 1,0 4.4,0a2.2,2.2 0 1,0 -4.4,0M235.7,523.3a2.2,2.2 0 1,0 4.4,0a2.2,2.2 0 1,0 -4.4,0M255.6,551a2.2,2.2 0 1,0 4.4,0a2.2,2.2 0 1,0 -4.4,0M309.8,463.1a2.2,2.2 0 1,0 4.4,0a2.2,2.2 0 1,0 -4.4,0M324.1,459.9a2.2,2.2 0 1,0 4.4,0a2.2,2.2 0 1,0 -4.4,0M241.5,549.9a2.2,2.2 0 1,0 4.4,0a2.2,2.2 0 1,0 -4.4,0M281.1,545.2a2.2,2.2 0 1,0 4.4,0a2.2,2.2 0 1,0 -4.4,0M275.6,473a2.2,2.2 0 1,0 4.4,0a2.2,2.2 0 1,0 -4.4,0M260.6,551a2.2,2.2 0 1,0 4.4,0a2.2,2.2 0 1,0 -4.4,0M314.7,459.5a2.2,2.2 0 1,0 4.4,0a2.2,2.2 0 1,0 -4.4,0M275.9,543.3a2.2,2.2 0 1,0 4.4,0a2.2,2.2 0 1,0 -4.4,0M232.3,530a2.2,2.2 0 1,0 4.4,0a2.2,2.2 0 1,0 -4.4,0M300.9,523.2a2.2,2.2 0 1,0 4.4,0a2.2,2.2 0 1,0 -4.4,0M301.2,463.8a2.2,2.2 0 1,0 4.4,0a2.2,2.2 0 1,0 -4.4,0M344.4,452.2a2.2,2.2 0 1,0 4.4,0a2.2,2.2 0 1,0 -4.4,0M330.3,500.1a2.2,2.2 0 1,0 4.4,0a2.2,2.2 0 1,0 -4.4,0M280.2,546.7a2.2,2.2 0 1,0 4.4,0a2.2,2.2 0 1,0 -4.4,0M278.1,546.4a2.2,2.2 0 1,0 4.4,0a2.2,2.2 0 1,0 -4.4,0M316.4,509.6a2.2,2.2 0 1,0 4.4,0a2.2,2.2 0 1,0 -4.4,0M330.6,498.2a2.2,2.2 0 1,0 4.4,0a2.2,2.2 0 1,0 -4.4,0M270.1,546a2.2,2.2 0 1,0 4.4,0a2.2,2.2 0 1,0 -4.4,0M238.7,553a2.2,2.2 0 1,0 4.4,0a2.2,2.2 0 1,0 -4.4,0M240.3,519.7a2.2,2.2 0 1,0 4.4,0a2.2,2.2 0 1,0 -4.4,0M303.8,519.8a2.2,2.2 0 1,0 4.4,0a2.2,2.2 0 1,0 -4.4,0M257.9,507.2a2.2,2.2 0 1,0 4.4,0a2.2,2.2 0 1,0 -4.4,0M299.7,467.1a2.2,2.2 0 1,0 4.4,0a2.2,2.2 0 1,0 -4.4,0M232,527.9a2.2,2.2 0 1,0 4.4,0a2.2,2.2 0 1,0 -4.4,0M237,524.5a2.2,2.2 0 1,0 4.4,0a2.2,2.2 0 1,0 -4.4,0M278.4,470.2a2.2,2.2 0 1,0 4.4,0a2.2,2.2 0 1,0 -4.4,0M329.2,460.3a2.2,2.2 0 1,0 4.4,0a2.2,2.2 0 1,0 -4.4,0M309.1,462.6a2.2,2.2 0 1,0 4.4,0a2.2,2.2 0 1,0 -4.4,0M340.3,483.7a2.2,2.2 0 1,0 4.4,0a2.2,2.2 0 1,0 -4.4,0M294.8,466.8a2.2,2.2 0 1,0 4.4,0a2.2,2.2 0 1,0 -4.4,0M304.5,460.7a2.2,2.2 0 1,0 4.4,0a2.2,2.2 0 1,0 -4.4,0M293.7,463.5a2.2,2.2 0 1,0 4.4,0a2.2,2.2 0 1,0 -4.4,0M234.4,546.6a2.2,2.2 0 1,0 4.4,0a2.2,2.2 0 1,0 -4.4,0M349.9,467.9a2.2,2.2 0 1,0 4.4,0a2.2,2.2 0 1,0 -4.4,0M233.3,505.6a2.2,2.2 0 1,0 4.4,0a2.2,2.2 0 1,0 -4.4,0M274.5,444a2.2,2.2 0 1,0 4.4,0a2.2,2.2 0 1,0 -4.4,0M261.6,472.8a2.2,2.2 0 1,0 4.4,0a2.2,2.2 0 1,0 -4.4,0M265,475.9a2.2,2.2 0 1,0 4.4,0a2.2,2.2 0 1,0 -4.4,0M306.2,450.9a2.2,2.2 0 1,0 4.4,0a2.2,2.2 0 1,0 -4.4,0M319.8,454.3a2.2,2.2 0 1,0 4.4,0a2.2,2.2 0 1,0 -4.4,0M329.1,450.9a2.2,2.2 0 1,0 4.4,0a2.2,2.2 0 1,0 -4.4,0M335.4,448.4a2.2,2.2 0 1,0 4.4,0a2.2,2.2 0 1,0 -4.4,0M290.1,462.3a2.2,2.2 0 1,0 4.4,0a2.2,2.2 0 1,0 -4.4,0M283.3,468.6a2.2,2.2 0 1,0 4.4,0a2.2,2.2 0 1,0 -4.4,0M275.7,469.4a2.2,2.2 0 1,0 4.4,0a2.2,2.2 0 1,0 -4.4,0M252.8,505.6a2.2,2.2 0 1,0 4.4,0a2.2,2.2 0 1,0 -4.4,0M238.4,519.6a2.2,2.2 0 1,0 4.4,0a2.2,2.2 0 1,0 -4.4,0M343.6,450.9a2.2,2.2 0 1,0 4.4,0a2.2,2.2 0 1,0 -4.4,0M300.8,544.2a2.2,2.2 0 1,0 4.4,0a2.2,2.2 0 1,0 -4.4,0M339.3,498.4a2.2,2.2 0 1,0 4.4,0a2.2,2.2 0 1,0 -4.4,0M275.7,552.7a2.2,2.2 0 1,0 4.4,0a2.2,2.2 0 1,0 -4.4,0M260.8,557.3a2.2,2.2 0 1,0 4.4,0a2.2,2.2 0 1,0 -4.4,0M266.7,561.9a2.2,2.2 0 1,0 4.4,0a2.2,2.2 0 1,0 -4.4,0M239.2,556.4a2.2,2.2 0 1,0 4.4,0a2.2,2.2 0 1,0 -4.4,0M307.1,519.5a2.2,2.2 0 1,0 4.4,0a2.2,2.2 0 1,0 -4.4,0M311.7,514.5a2.2,2.2 0 1,0 4.4,0a2.2,2.2 0 1,0 -4.4,0M317.3,510.6a2.2,2.2 0 1,0 4.4,0a2.2,2.2 0 1,0 -4.4,0M322.9,505.6a2.2,2.2 0 1,0 4.4,0a2.2,2.2 0 1,0 -4.4,0M348.3,486.6a2.2,2.2 0 1,0 4.4,0a2.2,2.2 0 1,0 -4.4,0" stroke="#3f55ad" stroke-width="1.1" fill="none"/><path d="M233.8,542 L352.5,464" stroke="#b02c64" stroke-width="1.6" fill="none" stroke-linejoin="round"/></g><rect x="226.5" y="436.3" width="133.8" height="133.3" fill="none" stroke="#484848" stroke-width="1.2"/><path d="M241.8,569.6v4M241.8,436.3v-4M261.7,569.6v4M261.7,436.3v-4M281.6,569.6v4M281.6,436.3v-4M301.6,569.6v4M301.6,436.3v-4M321.5,569.6v4M321.5,436.3v-4M341.4,569.6v4M341.4,436.3v-4M226.5,538.1h-4M360.3,538.1h4M226.5,505.4h-4M360.3,505.4h4M226.5,472.7h-4M360.3,472.7h4M226.5,440h-4M360.3,440h4" stroke="#484848" stroke-width="1.2" fill="none"/><text x="241.8" y="585.6" text-anchor="middle" class="t">100</text><text x="261.7" y="585.6" text-anchor="middle" class="t">120</text><text x="281.6" y="585.6" text-anchor="middle" class="t">140</text><text x="301.6" y="585.6" text-anchor="middle" class="t">160</text><text x="321.5" y="585.6" text-anchor="middle" class="t">180</text><text x="341.4" y="585.6" text-anchor="middle" class="t">200</text><text x="220.5" y="542.1" text-anchor="end" class="t">100</text><text x="220.5" y="509.4" text-anchor="end" class="t">150</text><text x="220.5" y="476.7" text-anchor="end" class="t">200</text><text x="220.5" y="444" text-anchor="end" class="t">250</text><text x="292.2" y="600.9" text-anchor="middle" class="a">Individual predictions</text><clipPath id="cP11"><rect x="449" y="436" width="136.5" height="133.8"/></clipPath><g clip-path="url(#cP11)"><path d="M449,526L586,510.3" stroke="#333" stroke-width="1" fill="none"/><path d="M456.6,495.2 L458.2,493.3 L459.8,493.4 L461.4,491.2 L463,494 L464.6,494 L466.2,494.4 L467.7,493.5 L469.3,496.4 L470.9,497.1 L472.5,493.8 L474.1,497.1 L475.7,492 L477.3,495.2 L478.9,497.3 L480.5,496.8 L482.1,494.5 L483.7,499.8 L485.3,501 L486.9,498.5 L488.5,497.4 L490.1,495.5 L491.7,495.6 L493.2,493.9 L494.8,496.2 L496.4,495.7 L498,493.2 L499.6,493.9 L501.2,492.3 L502.8,492.1 L504.4,485.6 L506,491.4 L507.6,492.8 L509.2,493.1 L510.8,495.1 L512.4,494.2 L514,496.1 L515.6,496 L517.2,494.9 L518.7,494.4 L520.3,492.4 L521.9,492.9 L523.5,492.1 L525.1,490.7 L526.7,491.5 L528.3,490.5 L529.9,491.4 L531.5,490.9 L533.1,489.4 L534.7,488.2 L536.3,484.5 L537.9,485 L539.5,481.2 L541.1,471.1 L542.6,473.6 L544.2,474 L545.8,474.1 L547.4,473 L549,468.2 L550.6,473 L552.2,473.8 L553.8,473.8 L555.4,476.3 L557,475 L558.6,475.6 L560.2,476.2 L561.8,475.9 L563.4,476.4 L565,473.2 L566.6,472.6 L568.1,475.6 L569.7,479.4 L571.3,480.3 L572.9,480.4 L574.5,480.7 L576.1,479.9 L577.7,483.6 L577.7,547.5 L576.1,547 L574.5,548.4 L572.9,547.2 L571.3,547.1 L569.7,548.7 L568.1,551.6 L566.6,556.4 L565,552.3 L563.4,550.3 L561.8,551.3 L560.2,550.4 L558.6,549.5 L557,552.7 L555.4,546.6 L553.8,547 L552.2,549.2 L550.6,546.9 L549,549.7 L547.4,549.6 L545.8,553.7 L544.2,546.7 L542.6,547 L541.1,545.4 L539.5,543.7 L537.9,543.3 L536.3,545.2 L534.7,548.7 L533.1,543.3 L531.5,543.5 L529.9,548.2 L528.3,544 L526.7,545.3 L525.1,549 L523.5,545.4 L521.9,546.3 L520.3,551.2 L518.7,548.9 L517.2,546.6 L515.6,544.8 L514,549.3 L512.4,544.9 L510.8,544.2 L509.2,543 L507.6,543.1 L506,544.9 L504.4,544.9 L502.8,542.9 L501.2,545.3 L499.6,544.7 L498,545.3 L496.4,546.4 L494.8,545.4 L493.2,545.8 L491.7,547.3 L490.1,548.6 L488.5,547.2 L486.9,549.2 L485.3,549.8 L483.7,549.4 L482.1,548.8 L480.5,552.6 L478.9,547.4 L477.3,548.1 L475.7,546.5 L474.1,545.9 L472.5,546.4 L470.9,546 L469.3,546.7 L467.7,547 L466.2,545 L464.6,549 L463,546.3 L461.4,547.2 L459.8,549 L458.2,544.4 L456.6,545.5Z" fill="#1a449a" stroke="#1a449a" stroke-width="0.5"/><path d="M468.1,490.4L467.7,495M461.1,550.9L461.4,545.7M471.5,549L470.9,544.5M514.4,493.6L514,497.6M510.5,492.4L510.8,496.6M487.9,550.7L488.5,545.7M564.5,555.6L565,550.8M473.4,493.2L474.1,498.6M569,476.1L569.7,480.9M525.8,488.6L525.1,492.2M544.5,469.6L544.2,475.5M463,489.6L463,495.5M523.7,548.9L523.5,543.9M461.4,550.3L461.4,545.7M495.4,547.7L494.8,543.9M567,559.6L566.6,554.9M567.9,554.1L568.1,550.1M486.6,494.1L486.9,500M491.3,491.8L491.7,497.1M543.2,549.3L542.6,545.5M491.8,550.7L491.7,545.8M574.1,552.4L574.5,546.9M557.1,556.5L557,551.2M509.1,545.8L509.2,541.5M517.4,549.1L517.2,545.1M537.3,547.3L537.9,541.8M481.1,556.3L480.5,551.1M514,552.8L514,547.8M488.6,493.8L488.5,498.9M569.8,476.7L569.7,480.9M519.3,490.2L518.7,495.9M494.8,547.4L494.8,543.9M511.6,491.7L512.4,495.7M461.8,550.1L461.4,545.7M470.5,495L470.9,498.6M491.5,454.9L487.4,493.7M491.5,454.9L493.6,491.9M504,455.7L500.5,491.9M504,455.7L505.8,490.2M479.9,473.6L477.8,498.9M479.9,473.6L480.5,498.9M463.3,483.2L463.3,493.7M515.4,475.8L508.4,486.7M515.4,475.8L518.9,484.9M518.9,484.9L531.1,486.7M550.9,443.9L550.9,470.9M576.9,464.5L576.9,479.7M567.8,562.2L567.8,547.8" stroke="#2a48a6" stroke-width="1.1" fill="none"/><path d="M454.6,495.1a2.2,2.2 0 1,0 4.4,0a2.2,2.2 0 1,0 -4.4,0M457.8,493.4a2.2,2.2 0 1,0 4.4,0a2.2,2.2 0 1,0 -4.4,0M459.1,490.9a2.2,2.2 0 1,0 4.4,0a2.2,2.2 0 1,0 -4.4,0M461.1,493.8a2.2,2.2 0 1,0 4.4,0a2.2,2.2 0 1,0 -4.4,0M462.5,493.7a2.2,2.2 0 1,0 4.4,0a2.2,2.2 0 1,0 -4.4,0M465.9,493.5a2.2,2.2 0 1,0 4.4,0a2.2,2.2 0 1,0 -4.4,0M470.3,494a2.2,2.2 0 1,0 4.4,0a2.2,2.2 0 1,0 -4.4,0M476.6,497.3a2.2,2.2 0 1,0 4.4,0a2.2,2.2 0 1,0 -4.4,0M478.5,496.6a2.2,2.2 0 1,0 4.4,0a2.2,2.2 0 1,0 -4.4,0M481.2,500.1a2.2,2.2 0 1,0 4.4,0a2.2,2.2 0 1,0 -4.4,0M490.9,493.7a2.2,2.2 0 1,0 4.4,0a2.2,2.2 0 1,0 -4.4,0M494.6,495.6a2.2,2.2 0 1,0 4.4,0a2.2,2.2 0 1,0 -4.4,0M496.2,493.4a2.2,2.2 0 1,0 4.4,0a2.2,2.2 0 1,0 -4.4,0M497.3,494.1a2.2,2.2 0 1,0 4.4,0a2.2,2.2 0 1,0 -4.4,0M499.2,492.2a2.2,2.2 0 1,0 4.4,0a2.2,2.2 0 1,0 -4.4,0M502.5,485.8a2.2,2.2 0 1,0 4.4,0a2.2,2.2 0 1,0 -4.4,0M503.5,491.7a2.2,2.2 0 1,0 4.4,0a2.2,2.2 0 1,0 -4.4,0M507.2,493.2a2.2,2.2 0 1,0 4.4,0a2.2,2.2 0 1,0 -4.4,0M508.7,495a2.2,2.2 0 1,0 4.4,0a2.2,2.2 0 1,0 -4.4,0M510.5,494.4a2.2,2.2 0 1,0 4.4,0a2.2,2.2 0 1,0 -4.4,0M511.7,496.2a2.2,2.2 0 1,0 4.4,0a2.2,2.2 0 1,0 -4.4,0M513.2,496.1a2.2,2.2 0 1,0 4.4,0a2.2,2.2 0 1,0 -4.4,0M516.3,494.4a2.2,2.2 0 1,0 4.4,0a2.2,2.2 0 1,0 -4.4,0M521.4,491.9a2.2,2.2 0 1,0 4.4,0a2.2,2.2 0 1,0 -4.4,0M522.6,490.7a2.2,2.2 0 1,0 4.4,0a2.2,2.2 0 1,0 -4.4,0M528,491.5a2.2,2.2 0 1,0 4.4,0a2.2,2.2 0 1,0 -4.4,0M529.6,490.7a2.2,2.2 0 1,0 4.4,0a2.2,2.2 0 1,0 -4.4,0M532.8,488.2a2.2,2.2 0 1,0 4.4,0a2.2,2.2 0 1,0 -4.4,0M533.8,484.5a2.2,2.2 0 1,0 4.4,0a2.2,2.2 0 1,0 -4.4,0M540.8,473.4a2.2,2.2 0 1,0 4.4,0a2.2,2.2 0 1,0 -4.4,0M546.8,468.4a2.2,2.2 0 1,0 4.4,0a2.2,2.2 0 1,0 -4.4,0M548.3,473.2a2.2,2.2 0 1,0 4.4,0a2.2,2.2 0 1,0 -4.4,0M551.2,473.9a2.2,2.2 0 1,0 4.4,0a2.2,2.2 0 1,0 -4.4,0M553,476.2a2.2,2.2 0 1,0 4.4,0a2.2,2.2 0 1,0 -4.4,0M555.1,475.2a2.2,2.2 0 1,0 4.4,0a2.2,2.2 0 1,0 -4.4,0M559.5,476.2a2.2,2.2 0 1,0 4.4,0a2.2,2.2 0 1,0 -4.4,0M561,476.2a2.2,2.2 0 1,0 4.4,0a2.2,2.2 0 1,0 -4.4,0M562.6,473.3a2.2,2.2 0 1,0 4.4,0a2.2,2.2 0 1,0 -4.4,0M564.6,472.6a2.2,2.2 0 1,0 4.4,0a2.2,2.2 0 1,0 -4.4,0M565.6,475.6a2.2,2.2 0 1,0 4.4,0a2.2,2.2 0 1,0 -4.4,0M567.5,479.2a2.2,2.2 0 1,0 4.4,0a2.2,2.2 0 1,0 -4.4,0M569.1,480.1a2.2,2.2 0 1,0 4.4,0a2.2,2.2 0 1,0 -4.4,0M571,480.5a2.2,2.2 0 1,0 4.4,0a2.2,2.2 0 1,0 -4.4,0M572.4,480.4a2.2,2.2 0 1,0 4.4,0a2.2,2.2 0 1,0 -4.4,0M573.5,479.9a2.2,2.2 0 1,0 4.4,0a2.2,2.2 0 1,0 -4.4,0M575.3,483.3a2.2,2.2 0 1,0 4.4,0a2.2,2.2 0 1,0 -4.4,0M456.1,544.6a2.2,2.2 0 1,0 4.4,0a2.2,2.2 0 1,0 -4.4,0M457.6,548.9a2.2,2.2 0 1,0 4.4,0a2.2,2.2 0 1,0 -4.4,0M462.5,548.7a2.2,2.2 0 1,0 4.4,0a2.2,2.2 0 1,0 -4.4,0M463.7,545a2.2,2.2 0 1,0 4.4,0a2.2,2.2 0 1,0 -4.4,0M468.4,546a2.2,2.2 0 1,0 4.4,0a2.2,2.2 0 1,0 -4.4,0M484.5,549.4a2.2,2.2 0 1,0 4.4,0a2.2,2.2 0 1,0 -4.4,0M490.8,545.9a2.2,2.2 0 1,0 4.4,0a2.2,2.2 0 1,0 -4.4,0M492.6,545.3a2.2,2.2 0 1,0 4.4,0a2.2,2.2 0 1,0 -4.4,0M494.4,546.5a2.2,2.2 0 1,0 4.4,0a2.2,2.2 0 1,0 -4.4,0M497.7,544.8a2.2,2.2 0 1,0 4.4,0a2.2,2.2 0 1,0 -4.4,0M508.2,544.4a2.2,2.2 0 1,0 4.4,0a2.2,2.2 0 1,0 -4.4,0M511.5,549.3a2.2,2.2 0 1,0 4.4,0a2.2,2.2 0 1,0 -4.4,0M516.3,548.7a2.2,2.2 0 1,0 4.4,0a2.2,2.2 0 1,0 -4.4,0M520,546.2a2.2,2.2 0 1,0 4.4,0a2.2,2.2 0 1,0 -4.4,0M521.3,545.2a2.2,2.2 0 1,0 4.4,0a2.2,2.2 0 1,0 -4.4,0M524.4,545.2a2.2,2.2 0 1,0 4.4,0a2.2,2.2 0 1,0 -4.4,0M525.9,544.3a2.2,2.2 0 1,0 4.4,0a2.2,2.2 0 1,0 -4.4,0M529.6,543.8a2.2,2.2 0 1,0 4.4,0a2.2,2.2 0 1,0 -4.4,0M535.8,543.4a2.2,2.2 0 1,0 4.4,0a2.2,2.2 0 1,0 -4.4,0M539.2,545.6a2.2,2.2 0 1,0 4.4,0a2.2,2.2 0 1,0 -4.4,0M540.7,546.9a2.2,2.2 0 1,0 4.4,0a2.2,2.2 0 1,0 -4.4,0M542.1,547a2.2,2.2 0 1,0 4.4,0a2.2,2.2 0 1,0 -4.4,0M543.9,553.8a2.2,2.2 0 1,0 4.4,0a2.2,2.2 0 1,0 -4.4,0M547,549.9a2.2,2.2 0 1,0 4.4,0a2.2,2.2 0 1,0 -4.4,0M556.4,549.8a2.2,2.2 0 1,0 4.4,0a2.2,2.2 0 1,0 -4.4,0M559.4,551.2a2.2,2.2 0 1,0 4.4,0a2.2,2.2 0 1,0 -4.4,0M563,552.1a2.2,2.2 0 1,0 4.4,0a2.2,2.2 0 1,0 -4.4,0M564.7,556.2a2.2,2.2 0 1,0 4.4,0a2.2,2.2 0 1,0 -4.4,0M567.7,548.4a2.2,2.2 0 1,0 4.4,0a2.2,2.2 0 1,0 -4.4,0M571.1,547.1a2.2,2.2 0 1,0 4.4,0a2.2,2.2 0 1,0 -4.4,0M574.3,547.1a2.2,2.2 0 1,0 4.4,0a2.2,2.2 0 1,0 -4.4,0M465.9,490.4a2.2,2.2 0 1,0 4.4,0a2.2,2.2 0 1,0 -4.4,0M458.9,550.9a2.2,2.2 0 1,0 4.4,0a2.2,2.2 0 1,0 -4.4,0M469.3,549a2.2,2.2 0 1,0 4.4,0a2.2,2.2 0 1,0 -4.4,0M512.2,493.6a2.2,2.2 0 1,0 4.4,0a2.2,2.2 0 1,0 -4.4,0M508.3,492.4a2.2,2.2 0 1,0 4.4,0a2.2,2.2 0 1,0 -4.4,0M485.7,550.7a2.2,2.2 0 1,0 4.4,0a2.2,2.2 0 1,0 -4.4,0M562.3,555.6a2.2,2.2 0 1,0 4.4,0a2.2,2.2 0 1,0 -4.4,0M471.2,493.2a2.2,2.2 0 1,0 4.4,0a2.2,2.2 0 1,0 -4.4,0M566.8,476.1a2.2,2.2 0 1,0 4.4,0a2.2,2.2 0 1,0 -4.4,0M523.6,488.6a2.2,2.2 0 1,0 4.4,0a2.2,2.2 0 1,0 -4.4,0M542.3,469.6a2.2,2.2 0 1,0 4.4,0a2.2,2.2 0 1,0 -4.4,0M460.8,489.6a2.2,2.2 0 1,0 4.4,0a2.2,2.2 0 1,0 -4.4,0M521.5,548.9a2.2,2.2 0 1,0 4.4,0a2.2,2.2 0 1,0 -4.4,0M459.2,550.3a2.2,2.2 0 1,0 4.4,0a2.2,2.2 0 1,0 -4.4,0M493.2,547.7a2.2,2.2 0 1,0 4.4,0a2.2,2.2 0 1,0 -4.4,0M564.8,559.6a2.2,2.2 0 1,0 4.4,0a2.2,2.2 0 1,0 -4.4,0M565.7,554.1a2.2,2.2 0 1,0 4.4,0a2.2,2.2 0 1,0 -4.4,0M484.4,494.1a2.2,2.2 0 1,0 4.4,0a2.2,2.2 0 1,0 -4.4,0M489.1,491.8a2.2,2.2 0 1,0 4.4,0a2.2,2.2 0 1,0 -4.4,0M541,549.3a2.2,2.2 0 1,0 4.4,0a2.2,2.2 0 1,0 -4.4,0M489.6,550.7a2.2,2.2 0 1,0 4.4,0a2.2,2.2 0 1,0 -4.4,0M571.9,552.4a2.2,2.2 0 1,0 4.4,0a2.2,2.2 0 1,0 -4.4,0M554.9,556.5a2.2,2.2 0 1,0 4.4,0a2.2,2.2 0 1,0 -4.4,0M506.9,545.8a2.2,2.2 0 1,0 4.4,0a2.2,2.2 0 1,0 -4.4,0M515.2,549.1a2.2,2.2 0 1,0 4.4,0a2.2,2.2 0 1,0 -4.4,0M535.1,547.3a2.2,2.2 0 1,0 4.4,0a2.2,2.2 0 1,0 -4.4,0M478.9,556.3a2.2,2.2 0 1,0 4.4,0a2.2,2.2 0 1,0 -4.4,0M511.8,552.8a2.2,2.2 0 1,0 4.4,0a2.2,2.2 0 1,0 -4.4,0M486.4,493.8a2.2,2.2 0 1,0 4.4,0a2.2,2.2 0 1,0 -4.4,0M567.6,476.7a2.2,2.2 0 1,0 4.4,0a2.2,2.2 0 1,0 -4.4,0M517.1,490.2a2.2,2.2 0 1,0 4.4,0a2.2,2.2 0 1,0 -4.4,0M492.6,547.4a2.2,2.2 0 1,0 4.4,0a2.2,2.2 0 1,0 -4.4,0M509.4,491.7a2.2,2.2 0 1,0 4.4,0a2.2,2.2 0 1,0 -4.4,0M459.6,550.1a2.2,2.2 0 1,0 4.4,0a2.2,2.2 0 1,0 -4.4,0M468.3,495a2.2,2.2 0 1,0 4.4,0a2.2,2.2 0 1,0 -4.4,0M454.9,500.7a2.2,2.2 0 1,0 4.4,0a2.2,2.2 0 1,0 -4.4,0M454.7,504.2a2.2,2.2 0 1,0 4.4,0a2.2,2.2 0 1,0 -4.4,0M455.9,507.7a2.2,2.2 0 1,0 4.4,0a2.2,2.2 0 1,0 -4.4,0M455.8,511.2a2.2,2.2 0 1,0 4.4,0a2.2,2.2 0 1,0 -4.4,0M455.4,514.7a2.2,2.2 0 1,0 4.4,0a2.2,2.2 0 1,0 -4.4,0M454.7,518.2a2.2,2.2 0 1,0 4.4,0a2.2,2.2 0 1,0 -4.4,0M455.2,521.7a2.2,2.2 0 1,0 4.4,0a2.2,2.2 0 1,0 -4.4,0M455.9,532.2a2.2,2.2 0 1,0 4.4,0a2.2,2.2 0 1,0 -4.4,0M574.9,489.1a2.2,2.2 0 1,0 4.4,0a2.2,2.2 0 1,0 -4.4,0M574.1,496.1a2.2,2.2 0 1,0 4.4,0a2.2,2.2 0 1,0 -4.4,0M574.5,506.6a2.2,2.2 0 1,0 4.4,0a2.2,2.2 0 1,0 -4.4,0M574.6,513.6a2.2,2.2 0 1,0 4.4,0a2.2,2.2 0 1,0 -4.4,0M574.8,538.1a2.2,2.2 0 1,0 4.4,0a2.2,2.2 0 1,0 -4.4,0M574.4,545.1a2.2,2.2 0 1,0 4.4,0a2.2,2.2 0 1,0 -4.4,0M489.3,454.9a2.2,2.2 0 1,0 4.4,0a2.2,2.2 0 1,0 -4.4,0M501.8,455.7a2.2,2.2 0 1,0 4.4,0a2.2,2.2 0 1,0 -4.4,0M477.7,473.6a2.2,2.2 0 1,0 4.4,0a2.2,2.2 0 1,0 -4.4,0M461.1,483.2a2.2,2.2 0 1,0 4.4,0a2.2,2.2 0 1,0 -4.4,0M513.2,475.8a2.2,2.2 0 1,0 4.4,0a2.2,2.2 0 1,0 -4.4,0M516.7,484.9a2.2,2.2 0 1,0 4.4,0a2.2,2.2 0 1,0 -4.4,0M548.7,443.9a2.2,2.2 0 1,0 4.4,0a2.2,2.2 0 1,0 -4.4,0M574.7,464.5a2.2,2.2 0 1,0 4.4,0a2.2,2.2 0 1,0 -4.4,0M542,469.7a2.2,2.2 0 1,0 4.4,0a2.2,2.2 0 1,0 -4.4,0M535.9,477.9a2.2,2.2 0 1,0 4.4,0a2.2,2.2 0 1,0 -4.4,0M565.6,562.2a2.2,2.2 0 1,0 4.4,0a2.2,2.2 0 1,0 -4.4,0M549.5,556.2a2.2,2.2 0 1,0 4.4,0a2.2,2.2 0 1,0 -4.4,0M481.2,552.2a2.2,2.2 0 1,0 4.4,0a2.2,2.2 0 1,0 -4.4,0M487.9,551a2.2,2.2 0 1,0 4.4,0a2.2,2.2 0 1,0 -4.4,0M574.4,547.8a2.2,2.2 0 1,0 4.4,0a2.2,2.2 0 1,0 -4.4,0M457.3,547.8a2.2,2.2 0 1,0 4.4,0a2.2,2.2 0 1,0 -4.4,0" stroke="#3f55ad" stroke-width="1.1" fill="none"/><path d="M456.9,523.4 L461.9,523.3 L466.8,523.2 L471.8,523.1 L476.8,522.9 L481.8,522.7 L486.8,522.5 L491.8,522.2 L496.8,521.8 L501.8,521.5 L506.7,521 L511.7,520.6 L516.7,520.1 L521.7,519.6 L526.7,519 L531.7,518.4 L536.7,517.7 L541.7,517.1 L546.6,516.3 L551.6,515.6 L556.6,514.8 L561.6,513.9 L566.6,513 L571.6,512.1 L576.6,511.1" stroke="#b02c64" stroke-width="1.6" fill="none" stroke-linejoin="round"/></g><rect x="449" y="436" width="136.5" height="133.8" fill="none" stroke="#484848" stroke-width="1.2"/><path d="M472,569.8v4M472,436v-4M504.5,569.8v4M504.5,436v-4M537.1,569.8v4M537.1,436v-4M569.6,569.8v4M569.6,436v-4M449,546.9h-4M585.5,546.9h4M449,508h-4M585.5,508h4M449,469.1h-4M585.5,469.1h4" stroke="#484848" stroke-width="1.2" fill="none"/><text x="472" y="585.8" text-anchor="middle" class="t">80</text><text x="504.5" y="585.8" text-anchor="middle" class="t">85</text><text x="537.1" y="585.8" text-anchor="middle" class="t">90</text><text x="569.6" y="585.8" text-anchor="middle" class="t">95</text><text x="443" y="550.9" text-anchor="end" class="t">50</text><text x="443" y="512" text-anchor="end" class="t">100</text><text x="443" y="473.1" text-anchor="end" class="t">150</text><text x="517.2" y="601.1" text-anchor="middle" class="a">Population predictions</text><clipPath id="cP12"><rect x="635.6" y="436.6" width="136.4" height="133.2"/></clipPath><g clip-path="url(#cP12)"><path d="M636,545.3L772,475.9" stroke="#333" stroke-width="1" fill="none"/><path d="M644.4,530.2 L646,533.1 L647.6,528.2 L649.2,528.5 L650.8,527.7 L652.4,523 L654,520.7 L655.6,522.7 L657.2,522 L658.8,520.1 L660.4,518 L662,517.2 L663.6,515.4 L665.2,513 L666.8,509.2 L668.5,506.9 L670.1,504.3 L671.7,502.8 L673.3,499.1 L674.9,497.5 L676.5,496.5 L678.1,487.5 L679.7,491.4 L681.3,488.2 L682.9,486.5 L684.5,486.2 L686.1,487.2 L687.7,485.9 L689.3,487.4 L690.9,485.3 L692.5,482.4 L694.1,484.1 L695.7,484 L697.3,483.9 L698.9,483.1 L700.5,480.2 L702.1,484.2 L703.7,485 L705.3,486.4 L706.9,483.9 L708.5,484.9 L710.1,483.1 L711.7,481.2 L713.3,480.7 L714.9,479.8 L716.5,480.7 L718.1,482.6 L719.7,481.6 L721.4,481 L723,481.4 L724.6,480 L726.2,480.7 L727.8,477.5 L729.4,477.4 L731,477.9 L732.6,475.9 L734.2,477 L735.8,477.2 L737.4,471.4 L739,472.5 L740.6,475.6 L742.2,475.4 L743.8,475.6 L745.4,474.2 L747,475.5 L748.6,474.6 L750.2,475.4 L751.8,477.4 L753.4,478.1 L755,477.1 L756.6,476.4 L758.2,477.3 L759.8,477.2 L761.4,475.2 L763,478.4 L764.6,477.1 L764.6,484.4 L763,487.1 L761.4,486.9 L759.8,489 L758.2,487.9 L756.6,489.7 L755,488.9 L753.4,490.2 L751.8,490.1 L750.2,490.6 L748.6,492.1 L747,494.8 L745.4,497.2 L743.8,498.6 L742.2,505.4 L740.6,501.7 L739,505.2 L737.4,506.2 L735.8,513.9 L734.2,509.3 L732.6,510.9 L731,511.8 L729.4,514.2 L727.8,517.9 L726.2,516.1 L724.6,517.6 L723,519.5 L721.4,519.6 L719.7,521.4 L718.1,522.5 L716.5,524.3 L714.9,528 L713.3,526.8 L711.7,528.5 L710.1,530.2 L708.5,531.8 L706.9,532 L705.3,538.8 L703.7,537.8 L702.1,535.4 L700.5,538.1 L698.9,543 L697.3,539 L695.7,541.8 L694.1,542.4 L692.5,543.1 L690.9,544 L689.3,545.9 L687.7,545.7 L686.1,545.9 L684.5,552.6 L682.9,551.6 L681.3,553 L679.7,549.2 L678.1,546.4 L676.5,551.1 L674.9,545.3 L673.3,545.9 L671.7,550.2 L670.1,552.7 L668.5,549.2 L666.8,547.6 L665.2,549.4 L663.6,550.2 L662,553.7 L660.4,552.3 L658.8,552.8 L657.2,549.6 L655.6,553.7 L654,548.7 L652.4,546.7 L650.8,546 L649.2,545 L647.6,542.6 L646,542.2 L644.4,544.6Z" fill="#1a449a" stroke="#1a449a" stroke-width="0.5"/><path d="M680.3,488.1L679.7,492.9M704.3,540.5L703.7,536.3M644.5,526.1L644.4,531.7M698.8,479.8L698.9,484.6M697.3,541.4L697.3,537.5M735,517.3L735.8,512.4M666.6,506.7L666.8,510.7M751.9,474.9L751.8,478.9M650.2,549.7L650.8,544.5M692.3,478.8L692.5,483.9M657.1,553.9L657.2,548.1M711.5,531L711.7,527M724.6,477L724.6,481.5M745.8,472.2L745.4,475.7M686,549.7L686.1,544.4M698.8,480.9L698.9,484.6M723.3,477.9L723,482.9M724.8,477.5L724.6,481.5M669.3,555.8L670.1,551.2M696.5,480.9L697.3,485.4M736.4,517.4L735.8,512.4M755.3,491.5L755,487.4M706.8,536.4L706.9,530.5M755.6,491.4L755,487.4M711.5,477.5L711.7,482.7M703.1,541.4L703.7,536.3M706.3,480.5L706.9,485.4M702,480.5L702.1,485.7M697.4,479.6L697.3,485.4M652.5,518.6L652.4,524.5M661.8,514.2L662,518.7M749,470.4L748.6,476.1M745.6,500.4L745.4,495.7M727.3,474.2L727.8,479M751.5,473.4L751.8,478.9M715.4,444.2L715.4,477.6M692.7,455.4L692.7,484.6M695.8,456.5L695.8,484.6M698.1,468.6L698.1,481.1M644.3,517.5L644.3,533.1M675,488.9L675,500.2M686.3,561.9L686.3,541.8M714.9,542.7L714.9,533.1M691.2,555.3L691.2,545.3" stroke="#2a48a6" stroke-width="1.1" fill="none"/><path d="M645.8,527.9a2.2,2.2 0 1,0 4.4,0a2.2,2.2 0 1,0 -4.4,0M647.1,528.6a2.2,2.2 0 1,0 4.4,0a2.2,2.2 0 1,0 -4.4,0M648.3,527.4a2.2,2.2 0 1,0 4.4,0a2.2,2.2 0 1,0 -4.4,0M653.5,523a2.2,2.2 0 1,0 4.4,0a2.2,2.2 0 1,0 -4.4,0M658.5,518.3a2.2,2.2 0 1,0 4.4,0a2.2,2.2 0 1,0 -4.4,0M666.6,506.6a2.2,2.2 0 1,0 4.4,0a2.2,2.2 0 1,0 -4.4,0M667.7,504.2a2.2,2.2 0 1,0 4.4,0a2.2,2.2 0 1,0 -4.4,0M671.2,499.2a2.2,2.2 0 1,0 4.4,0a2.2,2.2 0 1,0 -4.4,0M673,497.5a2.2,2.2 0 1,0 4.4,0a2.2,2.2 0 1,0 -4.4,0M676.2,487.5a2.2,2.2 0 1,0 4.4,0a2.2,2.2 0 1,0 -4.4,0M682.3,486.4a2.2,2.2 0 1,0 4.4,0a2.2,2.2 0 1,0 -4.4,0M684,487.4a2.2,2.2 0 1,0 4.4,0a2.2,2.2 0 1,0 -4.4,0M685.2,486.2a2.2,2.2 0 1,0 4.4,0a2.2,2.2 0 1,0 -4.4,0M686.9,487.3a2.2,2.2 0 1,0 4.4,0a2.2,2.2 0 1,0 -4.4,0M688.9,485.1a2.2,2.2 0 1,0 4.4,0a2.2,2.2 0 1,0 -4.4,0M690.4,482.2a2.2,2.2 0 1,0 4.4,0a2.2,2.2 0 1,0 -4.4,0M693.3,484.2a2.2,2.2 0 1,0 4.4,0a2.2,2.2 0 1,0 -4.4,0M695.5,484.2a2.2,2.2 0 1,0 4.4,0a2.2,2.2 0 1,0 -4.4,0M701.3,484.8a2.2,2.2 0 1,0 4.4,0a2.2,2.2 0 1,0 -4.4,0M703.4,486.5a2.2,2.2 0 1,0 4.4,0a2.2,2.2 0 1,0 -4.4,0M708.3,482.9a2.2,2.2 0 1,0 4.4,0a2.2,2.2 0 1,0 -4.4,0M714.4,480.9a2.2,2.2 0 1,0 4.4,0a2.2,2.2 0 1,0 -4.4,0M716.3,482.4a2.2,2.2 0 1,0 4.4,0a2.2,2.2 0 1,0 -4.4,0M717.8,481.3a2.2,2.2 0 1,0 4.4,0a2.2,2.2 0 1,0 -4.4,0M719.2,481.1a2.2,2.2 0 1,0 4.4,0a2.2,2.2 0 1,0 -4.4,0M720.9,481.5a2.2,2.2 0 1,0 4.4,0a2.2,2.2 0 1,0 -4.4,0M722.1,479.9a2.2,2.2 0 1,0 4.4,0a2.2,2.2 0 1,0 -4.4,0M724,480.6a2.2,2.2 0 1,0 4.4,0a2.2,2.2 0 1,0 -4.4,0M726.9,477.5a2.2,2.2 0 1,0 4.4,0a2.2,2.2 0 1,0 -4.4,0M729.1,478.1a2.2,2.2 0 1,0 4.4,0a2.2,2.2 0 1,0 -4.4,0M735.6,471.5a2.2,2.2 0 1,0 4.4,0a2.2,2.2 0 1,0 -4.4,0M737,472.2a2.2,2.2 0 1,0 4.4,0a2.2,2.2 0 1,0 -4.4,0M738.5,475.6a2.2,2.2 0 1,0 4.4,0a2.2,2.2 0 1,0 -4.4,0M740.3,475.3a2.2,2.2 0 1,0 4.4,0a2.2,2.2 0 1,0 -4.4,0M741.7,475.7a2.2,2.2 0 1,0 4.4,0a2.2,2.2 0 1,0 -4.4,0M743,474a2.2,2.2 0 1,0 4.4,0a2.2,2.2 0 1,0 -4.4,0M747.8,475.7a2.2,2.2 0 1,0 4.4,0a2.2,2.2 0 1,0 -4.4,0M752.8,477.3a2.2,2.2 0 1,0 4.4,0a2.2,2.2 0 1,0 -4.4,0M757.3,477.4a2.2,2.2 0 1,0 4.4,0a2.2,2.2 0 1,0 -4.4,0M759,475.1a2.2,2.2 0 1,0 4.4,0a2.2,2.2 0 1,0 -4.4,0M760.6,478.6a2.2,2.2 0 1,0 4.4,0a2.2,2.2 0 1,0 -4.4,0M762.2,477.3a2.2,2.2 0 1,0 4.4,0a2.2,2.2 0 1,0 -4.4,0M643.7,542.4a2.2,2.2 0 1,0 4.4,0a2.2,2.2 0 1,0 -4.4,0M645.6,542.4a2.2,2.2 0 1,0 4.4,0a2.2,2.2 0 1,0 -4.4,0M647.2,545.2a2.2,2.2 0 1,0 4.4,0a2.2,2.2 0 1,0 -4.4,0M653.2,553.6a2.2,2.2 0 1,0 4.4,0a2.2,2.2 0 1,0 -4.4,0M656.7,553.1a2.2,2.2 0 1,0 4.4,0a2.2,2.2 0 1,0 -4.4,0M658.5,552.2a2.2,2.2 0 1,0 4.4,0a2.2,2.2 0 1,0 -4.4,0M663.1,549.4a2.2,2.2 0 1,0 4.4,0a2.2,2.2 0 1,0 -4.4,0M667.6,552.9a2.2,2.2 0 1,0 4.4,0a2.2,2.2 0 1,0 -4.4,0M671.3,545.6a2.2,2.2 0 1,0 4.4,0a2.2,2.2 0 1,0 -4.4,0M674,550.9a2.2,2.2 0 1,0 4.4,0a2.2,2.2 0 1,0 -4.4,0M675.5,546.6a2.2,2.2 0 1,0 4.4,0a2.2,2.2 0 1,0 -4.4,0M677.8,549.2a2.2,2.2 0 1,0 4.4,0a2.2,2.2 0 1,0 -4.4,0M681,551.7a2.2,2.2 0 1,0 4.4,0a2.2,2.2 0 1,0 -4.4,0M682.1,552.8a2.2,2.2 0 1,0 4.4,0a2.2,2.2 0 1,0 -4.4,0M687.2,546.1a2.2,2.2 0 1,0 4.4,0a2.2,2.2 0 1,0 -4.4,0M692,542.2a2.2,2.2 0 1,0 4.4,0a2.2,2.2 0 1,0 -4.4,0M695.2,539.2a2.2,2.2 0 1,0 4.4,0a2.2,2.2 0 1,0 -4.4,0M699.9,535.2a2.2,2.2 0 1,0 4.4,0a2.2,2.2 0 1,0 -4.4,0M705,532.1a2.2,2.2 0 1,0 4.4,0a2.2,2.2 0 1,0 -4.4,0M706.5,531.9a2.2,2.2 0 1,0 4.4,0a2.2,2.2 0 1,0 -4.4,0M707.9,529.9a2.2,2.2 0 1,0 4.4,0a2.2,2.2 0 1,0 -4.4,0M711.2,527a2.2,2.2 0 1,0 4.4,0a2.2,2.2 0 1,0 -4.4,0M712.6,528a2.2,2.2 0 1,0 4.4,0a2.2,2.2 0 1,0 -4.4,0M714.7,524.5a2.2,2.2 0 1,0 4.4,0a2.2,2.2 0 1,0 -4.4,0M715.8,522.4a2.2,2.2 0 1,0 4.4,0a2.2,2.2 0 1,0 -4.4,0M725.6,517.8a2.2,2.2 0 1,0 4.4,0a2.2,2.2 0 1,0 -4.4,0M730.3,510.6a2.2,2.2 0 1,0 4.4,0a2.2,2.2 0 1,0 -4.4,0M733.3,514.1a2.2,2.2 0 1,0 4.4,0a2.2,2.2 0 1,0 -4.4,0M736.7,504.9a2.2,2.2 0 1,0 4.4,0a2.2,2.2 0 1,0 -4.4,0M738.3,501.6a2.2,2.2 0 1,0 4.4,0a2.2,2.2 0 1,0 -4.4,0M739.8,505.5a2.2,2.2 0 1,0 4.4,0a2.2,2.2 0 1,0 -4.4,0M742.9,497.5a2.2,2.2 0 1,0 4.4,0a2.2,2.2 0 1,0 -4.4,0M747.9,490.5a2.2,2.2 0 1,0 4.4,0a2.2,2.2 0 1,0 -4.4,0M751.2,490.5a2.2,2.2 0 1,0 4.4,0a2.2,2.2 0 1,0 -4.4,0M754.4,489.8a2.2,2.2 0 1,0 4.4,0a2.2,2.2 0 1,0 -4.4,0M756.2,488.1a2.2,2.2 0 1,0 4.4,0a2.2,2.2 0 1,0 -4.4,0M757.7,489a2.2,2.2 0 1,0 4.4,0a2.2,2.2 0 1,0 -4.4,0M759.5,487a2.2,2.2 0 1,0 4.4,0a2.2,2.2 0 1,0 -4.4,0M760.6,487.3a2.2,2.2 0 1,0 4.4,0a2.2,2.2 0 1,0 -4.4,0M678.1,488.1a2.2,2.2 0 1,0 4.4,0a2.2,2.2 0 1,0 -4.4,0M702.1,540.5a2.2,2.2 0 1,0 4.4,0a2.2,2.2 0 1,0 -4.4,0M642.3,526.1a2.2,2.2 0 1,0 4.4,0a2.2,2.2 0 1,0 -4.4,0M696.6,479.8a2.2,2.2 0 1,0 4.4,0a2.2,2.2 0 1,0 -4.4,0M695.1,541.4a2.2,2.2 0 1,0 4.4,0a2.2,2.2 0 1,0 -4.4,0M732.8,517.3a2.2,2.2 0 1,0 4.4,0a2.2,2.2 0 1,0 -4.4,0M664.4,506.7a2.2,2.2 0 1,0 4.4,0a2.2,2.2 0 1,0 -4.4,0M749.7,474.9a2.2,2.2 0 1,0 4.4,0a2.2,2.2 0 1,0 -4.4,0M648,549.7a2.2,2.2 0 1,0 4.4,0a2.2,2.2 0 1,0 -4.4,0M690.1,478.8a2.2,2.2 0 1,0 4.4,0a2.2,2.2 0 1,0 -4.4,0M654.9,553.9a2.2,2.2 0 1,0 4.4,0a2.2,2.2 0 1,0 -4.4,0M709.3,531a2.2,2.2 0 1,0 4.4,0a2.2,2.2 0 1,0 -4.4,0M722.4,477a2.2,2.2 0 1,0 4.4,0a2.2,2.2 0 1,0 -4.4,0M743.6,472.2a2.2,2.2 0 1,0 4.4,0a2.2,2.2 0 1,0 -4.4,0M683.8,549.7a2.2,2.2 0 1,0 4.4,0a2.2,2.2 0 1,0 -4.4,0M696.6,480.9a2.2,2.2 0 1,0 4.4,0a2.2,2.2 0 1,0 -4.4,0M721.1,477.9a2.2,2.2 0 1,0 4.4,0a2.2,2.2 0 1,0 -4.4,0M722.6,477.5a2.2,2.2 0 1,0 4.4,0a2.2,2.2 0 1,0 -4.4,0M667.1,555.8a2.2,2.2 0 1,0 4.4,0a2.2,2.2 0 1,0 -4.4,0M694.3,480.9a2.2,2.2 0 1,0 4.4,0a2.2,2.2 0 1,0 -4.4,0M734.2,517.4a2.2,2.2 0 1,0 4.4,0a2.2,2.2 0 1,0 -4.4,0M753.1,491.5a2.2,2.2 0 1,0 4.4,0a2.2,2.2 0 1,0 -4.4,0M704.6,536.4a2.2,2.2 0 1,0 4.4,0a2.2,2.2 0 1,0 -4.4,0M753.4,491.4a2.2,2.2 0 1,0 4.4,0a2.2,2.2 0 1,0 -4.4,0M709.3,477.5a2.2,2.2 0 1,0 4.4,0a2.2,2.2 0 1,0 -4.4,0M700.9,541.4a2.2,2.2 0 1,0 4.4,0a2.2,2.2 0 1,0 -4.4,0M704.1,480.5a2.2,2.2 0 1,0 4.4,0a2.2,2.2 0 1,0 -4.4,0M699.8,480.5a2.2,2.2 0 1,0 4.4,0a2.2,2.2 0 1,0 -4.4,0M695.2,479.6a2.2,2.2 0 1,0 4.4,0a2.2,2.2 0 1,0 -4.4,0M650.3,518.6a2.2,2.2 0 1,0 4.4,0a2.2,2.2 0 1,0 -4.4,0M659.6,514.2a2.2,2.2 0 1,0 4.4,0a2.2,2.2 0 1,0 -4.4,0M746.8,470.4a2.2,2.2 0 1,0 4.4,0a2.2,2.2 0 1,0 -4.4,0M743.4,500.4a2.2,2.2 0 1,0 4.4,0a2.2,2.2 0 1,0 -4.4,0M725.1,474.2a2.2,2.2 0 1,0 4.4,0a2.2,2.2 0 1,0 -4.4,0M749.3,473.4a2.2,2.2 0 1,0 4.4,0a2.2,2.2 0 1,0 -4.4,0M643.3,532.2a2.2,2.2 0 1,0 4.4,0a2.2,2.2 0 1,0 -4.4,0M642.5,539.2a2.2,2.2 0 1,0 4.4,0a2.2,2.2 0 1,0 -4.4,0M760.9,479.1a2.2,2.2 0 1,0 4.4,0a2.2,2.2 0 1,0 -4.4,0M713.2,444.2a2.2,2.2 0 1,0 4.4,0a2.2,2.2 0 1,0 -4.4,0M690.5,455.4a2.2,2.2 0 1,0 4.4,0a2.2,2.2 0 1,0 -4.4,0M693.6,456.5a2.2,2.2 0 1,0 4.4,0a2.2,2.2 0 1,0 -4.4,0M695.9,468.6a2.2,2.2 0 1,0 4.4,0a2.2,2.2 0 1,0 -4.4,0M711,465.5a2.2,2.2 0 1,0 4.4,0a2.2,2.2 0 1,0 -4.4,0M642.1,517.5a2.2,2.2 0 1,0 4.4,0a2.2,2.2 0 1,0 -4.4,0M659.8,507.1a2.2,2.2 0 1,0 4.4,0a2.2,2.2 0 1,0 -4.4,0M672.8,488.9a2.2,2.2 0 1,0 4.4,0a2.2,2.2 0 1,0 -4.4,0M682.4,482.5a2.2,2.2 0 1,0 4.4,0a2.2,2.2 0 1,0 -4.4,0M730.1,472.9a2.2,2.2 0 1,0 4.4,0a2.2,2.2 0 1,0 -4.4,0M739.6,472.8a2.2,2.2 0 1,0 4.4,0a2.2,2.2 0 1,0 -4.4,0M748.3,469.8a2.2,2.2 0 1,0 4.4,0a2.2,2.2 0 1,0 -4.4,0M761.3,472.8a2.2,2.2 0 1,0 4.4,0a2.2,2.2 0 1,0 -4.4,0M684.1,561.9a2.2,2.2 0 1,0 4.4,0a2.2,2.2 0 1,0 -4.4,0M712.7,542.7a2.2,2.2 0 1,0 4.4,0a2.2,2.2 0 1,0 -4.4,0M689,555.3a2.2,2.2 0 1,0 4.4,0a2.2,2.2 0 1,0 -4.4,0M734.4,517.9a2.2,2.2 0 1,0 4.4,0a2.2,2.2 0 1,0 -4.4,0M660.3,554a2.2,2.2 0 1,0 4.4,0a2.2,2.2 0 1,0 -4.4,0" stroke="#3f55ad" stroke-width="1.1" fill="none"/><path d="M644.7,540.1 L764.4,479.4" stroke="#b02c64" stroke-width="1.6" fill="none" stroke-linejoin="round"/></g><rect x="635.6" y="436.6" width="136.4" height="133.2" fill="none" stroke="#484848" stroke-width="1.2"/><path d="M646.8,569.8v4M646.8,436.6v-4M677.2,569.8v4M677.2,436.6v-4M707.6,569.8v4M707.6,436.6v-4M738.1,569.8v4M738.1,436.6v-4M768.5,569.8v4M768.5,436.6v-4M635.6,546.9h-4M772,546.9h4M635.6,508.1h-4M772,508.1h4M635.6,469.3h-4M772,469.3h4" stroke="#484848" stroke-width="1.2" fill="none"/><text x="646.8" y="585.8" text-anchor="middle" class="t">60</text><text x="677.2" y="585.8" text-anchor="middle" class="t">80</text><text x="707.6" y="585.8" text-anchor="middle" class="t">100</text><text x="738.1" y="585.8" text-anchor="middle" class="t">120</text><text x="768.5" y="585.8" text-anchor="middle" class="t">140</text><text x="629.6" y="550.9" text-anchor="end" class="t">50</text><text x="629.6" y="512.1" text-anchor="end" class="t">100</text><text x="629.6" y="473.3" text-anchor="end" class="t">150</text><text x="706.4" y="601.1" text-anchor="middle" class="a">Individual predictions</text><clipPath id="cP13"><rect x="45.5" y="628.4" width="132.5" height="132.6"/></clipPath><g clip-path="url(#cP13)"><path d="M45,707.7L178,707.7" stroke="#333" stroke-width="1" fill="none"/><path d="M52.4,691.5 L54,688.5 L55.6,687.6 L57.2,690.3 L58.8,689.4 L60.4,688.6 L62,687.9 L63.7,687.5 L65.3,687.7 L66.9,689.4 L68.5,683.9 L70.1,687.7 L71.7,684.6 L73.3,691 L74.9,690 L76.5,689.7 L78.2,690.5 L79.8,691.5 L81.4,689.2 L83,683.9 L84.6,687.4 L86.2,689.2 L87.8,689.4 L89.4,688.1 L91,690.2 L92.6,690.1 L94.3,690.6 L95.9,689.4 L97.5,690.6 L99.1,688.5 L100.7,690.9 L102.3,691 L103.9,692.3 L105.5,693.6 L107.1,692.4 L108.7,694.4 L110.4,694.3 L112,693.6 L113.6,694.8 L115.2,696.8 L116.8,696.5 L118.4,694.5 L120,691.7 L121.6,689.2 L123.2,689.4 L124.8,687.1 L126.5,685.5 L128.1,686.8 L129.7,684.1 L131.3,685.1 L132.9,683.4 L134.5,680.2 L136.1,681.1 L137.7,682.3 L139.3,675.5 L141,680.5 L142.6,680.1 L144.2,679.6 L145.8,679.7 L147.4,681.2 L149,681.2 L150.6,678.2 L152.2,678.5 L153.8,678.8 L155.4,677.1 L157.1,677 L158.7,676 L160.3,674.6 L161.9,674.9 L163.5,676.3 L165.1,674.3 L166.7,676.3 L168.3,680.3 L169.9,682.8 L169.9,729.8 L168.3,733.3 L166.7,733.6 L165.1,736 L163.5,735.9 L161.9,733.3 L160.3,733.7 L158.7,730.1 L157.1,730.4 L155.4,728.7 L153.8,730.3 L152.2,730.5 L150.6,731.3 L149,731.9 L147.4,732.1 L145.8,734.7 L144.2,735.5 L142.6,731.2 L141,731.6 L139.3,735.4 L137.7,734.4 L136.1,731.5 L134.5,735.1 L132.9,727.8 L131.3,729.2 L129.7,728.9 L128.1,728 L126.5,726.5 L124.8,727.8 L123.2,726.7 L121.6,726.4 L120,728.6 L118.4,732.7 L116.8,728.2 L115.2,728.4 L113.6,726.9 L112,728.5 L110.4,726.7 L108.7,726.2 L107.1,726.7 L105.5,728.6 L103.9,728.3 L102.3,727.5 L100.7,730.3 L99.1,730 L97.5,731.4 L95.9,726.5 L94.3,725.6 L92.6,725.1 L91,730.3 L89.4,727.4 L87.8,725 L86.2,725.7 L84.6,726.6 L83,726.3 L81.4,725.7 L79.8,723.7 L78.2,723.7 L76.5,727.5 L74.9,722.9 L73.3,725.5 L71.7,724 L70.1,724.4 L68.5,724.4 L66.9,728.3 L65.3,722.8 L63.7,724.5 L62,724.4 L60.4,722.8 L58.8,727.6 L57.2,727.2 L55.6,722.5 L54,725.1 L52.4,722.2Z" fill="#1a449a" stroke="#1a449a" stroke-width="0.5"/><path d="M49.8,691.7a2.2,2.2 0 1,0 4.4,0a2.2,2.2 0 1,0 -4.4,0M53.8,687.7a2.2,2.2 0 1,0 4.4,0a2.2,2.2 0 1,0 -4.4,0M54.8,690a2.2,2.2 0 1,0 4.4,0a2.2,2.2 0 1,0 -4.4,0M59.9,687.8a2.2,2.2 0 1,0 4.4,0a2.2,2.2 0 1,0 -4.4,0M61.7,687.7a2.2,2.2 0 1,0 4.4,0a2.2,2.2 0 1,0 -4.4,0M63.3,688a2.2,2.2 0 1,0 4.4,0a2.2,2.2 0 1,0 -4.4,0M68.2,687.6a2.2,2.2 0 1,0 4.4,0a2.2,2.2 0 1,0 -4.4,0M69.4,684.8a2.2,2.2 0 1,0 4.4,0a2.2,2.2 0 1,0 -4.4,0M71.3,691a2.2,2.2 0 1,0 4.4,0a2.2,2.2 0 1,0 -4.4,0M76.2,690.2a2.2,2.2 0 1,0 4.4,0a2.2,2.2 0 1,0 -4.4,0M79.2,689.5a2.2,2.2 0 1,0 4.4,0a2.2,2.2 0 1,0 -4.4,0M80.4,683.6a2.2,2.2 0 1,0 4.4,0a2.2,2.2 0 1,0 -4.4,0M82.3,687.4a2.2,2.2 0 1,0 4.4,0a2.2,2.2 0 1,0 -4.4,0M88.8,690a2.2,2.2 0 1,0 4.4,0a2.2,2.2 0 1,0 -4.4,0M92,690.3a2.2,2.2 0 1,0 4.4,0a2.2,2.2 0 1,0 -4.4,0M93.6,689.6a2.2,2.2 0 1,0 4.4,0a2.2,2.2 0 1,0 -4.4,0M100.4,690.8a2.2,2.2 0 1,0 4.4,0a2.2,2.2 0 1,0 -4.4,0M101.4,692.2a2.2,2.2 0 1,0 4.4,0a2.2,2.2 0 1,0 -4.4,0M106.5,694.4a2.2,2.2 0 1,0 4.4,0a2.2,2.2 0 1,0 -4.4,0M107.9,694.1a2.2,2.2 0 1,0 4.4,0a2.2,2.2 0 1,0 -4.4,0M111.1,695a2.2,2.2 0 1,0 4.4,0a2.2,2.2 0 1,0 -4.4,0M112.7,696.7a2.2,2.2 0 1,0 4.4,0a2.2,2.2 0 1,0 -4.4,0M114.8,696.4a2.2,2.2 0 1,0 4.4,0a2.2,2.2 0 1,0 -4.4,0M116,694.7a2.2,2.2 0 1,0 4.4,0a2.2,2.2 0 1,0 -4.4,0M117.6,691.8a2.2,2.2 0 1,0 4.4,0a2.2,2.2 0 1,0 -4.4,0M121,689.4a2.2,2.2 0 1,0 4.4,0a2.2,2.2 0 1,0 -4.4,0M124.2,685.7a2.2,2.2 0 1,0 4.4,0a2.2,2.2 0 1,0 -4.4,0M126.2,686.7a2.2,2.2 0 1,0 4.4,0a2.2,2.2 0 1,0 -4.4,0M134.3,681.1a2.2,2.2 0 1,0 4.4,0a2.2,2.2 0 1,0 -4.4,0M135.7,682.3a2.2,2.2 0 1,0 4.4,0a2.2,2.2 0 1,0 -4.4,0M137.1,675.7a2.2,2.2 0 1,0 4.4,0a2.2,2.2 0 1,0 -4.4,0M138.5,680.4a2.2,2.2 0 1,0 4.4,0a2.2,2.2 0 1,0 -4.4,0M140.7,679.9a2.2,2.2 0 1,0 4.4,0a2.2,2.2 0 1,0 -4.4,0M142,679.6a2.2,2.2 0 1,0 4.4,0a2.2,2.2 0 1,0 -4.4,0M144,679.8a2.2,2.2 0 1,0 4.4,0a2.2,2.2 0 1,0 -4.4,0M145.2,681.4a2.2,2.2 0 1,0 4.4,0a2.2,2.2 0 1,0 -4.4,0M146.6,681.1a2.2,2.2 0 1,0 4.4,0a2.2,2.2 0 1,0 -4.4,0M150,678.5a2.2,2.2 0 1,0 4.4,0a2.2,2.2 0 1,0 -4.4,0M151.9,679a2.2,2.2 0 1,0 4.4,0a2.2,2.2 0 1,0 -4.4,0M153.1,676.9a2.2,2.2 0 1,0 4.4,0a2.2,2.2 0 1,0 -4.4,0M162.6,674.2a2.2,2.2 0 1,0 4.4,0a2.2,2.2 0 1,0 -4.4,0M164.4,676.2a2.2,2.2 0 1,0 4.4,0a2.2,2.2 0 1,0 -4.4,0M166.2,680.4a2.2,2.2 0 1,0 4.4,0a2.2,2.2 0 1,0 -4.4,0M167.4,683a2.2,2.2 0 1,0 4.4,0a2.2,2.2 0 1,0 -4.4,0M50,722.5a2.2,2.2 0 1,0 4.4,0a2.2,2.2 0 1,0 -4.4,0M52,725a2.2,2.2 0 1,0 4.4,0a2.2,2.2 0 1,0 -4.4,0M53.3,722.6a2.2,2.2 0 1,0 4.4,0a2.2,2.2 0 1,0 -4.4,0M56.5,727.6a2.2,2.2 0 1,0 4.4,0a2.2,2.2 0 1,0 -4.4,0M58.3,722.9a2.2,2.2 0 1,0 4.4,0a2.2,2.2 0 1,0 -4.4,0M61.3,724.3a2.2,2.2 0 1,0 4.4,0a2.2,2.2 0 1,0 -4.4,0M63.2,722.7a2.2,2.2 0 1,0 4.4,0a2.2,2.2 0 1,0 -4.4,0M66.4,724.7a2.2,2.2 0 1,0 4.4,0a2.2,2.2 0 1,0 -4.4,0M67.7,724.3a2.2,2.2 0 1,0 4.4,0a2.2,2.2 0 1,0 -4.4,0M69.9,724.1a2.2,2.2 0 1,0 4.4,0a2.2,2.2 0 1,0 -4.4,0M70.9,725.5a2.2,2.2 0 1,0 4.4,0a2.2,2.2 0 1,0 -4.4,0M74,727.5a2.2,2.2 0 1,0 4.4,0a2.2,2.2 0 1,0 -4.4,0M76.3,723.9a2.2,2.2 0 1,0 4.4,0a2.2,2.2 0 1,0 -4.4,0M77.6,723.4a2.2,2.2 0 1,0 4.4,0a2.2,2.2 0 1,0 -4.4,0M80.6,726.4a2.2,2.2 0 1,0 4.4,0a2.2,2.2 0 1,0 -4.4,0M84,725.8a2.2,2.2 0 1,0 4.4,0a2.2,2.2 0 1,0 -4.4,0M85.7,725a2.2,2.2 0 1,0 4.4,0a2.2,2.2 0 1,0 -4.4,0M87.4,727.5a2.2,2.2 0 1,0 4.4,0a2.2,2.2 0 1,0 -4.4,0M89.1,730.4a2.2,2.2 0 1,0 4.4,0a2.2,2.2 0 1,0 -4.4,0M95.1,731.2a2.2,2.2 0 1,0 4.4,0a2.2,2.2 0 1,0 -4.4,0M97.2,730.1a2.2,2.2 0 1,0 4.4,0a2.2,2.2 0 1,0 -4.4,0M100.3,727.4a2.2,2.2 0 1,0 4.4,0a2.2,2.2 0 1,0 -4.4,0M101.6,728.5a2.2,2.2 0 1,0 4.4,0a2.2,2.2 0 1,0 -4.4,0M103.5,728.4a2.2,2.2 0 1,0 4.4,0a2.2,2.2 0 1,0 -4.4,0M106.9,726.1a2.2,2.2 0 1,0 4.4,0a2.2,2.2 0 1,0 -4.4,0M109.8,728.6a2.2,2.2 0 1,0 4.4,0a2.2,2.2 0 1,0 -4.4,0M114.7,728.3a2.2,2.2 0 1,0 4.4,0a2.2,2.2 0 1,0 -4.4,0M121,726.4a2.2,2.2 0 1,0 4.4,0a2.2,2.2 0 1,0 -4.4,0M124.6,726.4a2.2,2.2 0 1,0 4.4,0a2.2,2.2 0 1,0 -4.4,0M127.4,729a2.2,2.2 0 1,0 4.4,0a2.2,2.2 0 1,0 -4.4,0M129.3,729.3a2.2,2.2 0 1,0 4.4,0a2.2,2.2 0 1,0 -4.4,0M131.1,727.6a2.2,2.2 0 1,0 4.4,0a2.2,2.2 0 1,0 -4.4,0M132.5,735.2a2.2,2.2 0 1,0 4.4,0a2.2,2.2 0 1,0 -4.4,0M137.5,735.3a2.2,2.2 0 1,0 4.4,0a2.2,2.2 0 1,0 -4.4,0M140.6,731.1a2.2,2.2 0 1,0 4.4,0a2.2,2.2 0 1,0 -4.4,0M145.3,732.1a2.2,2.2 0 1,0 4.4,0a2.2,2.2 0 1,0 -4.4,0M147,731.9a2.2,2.2 0 1,0 4.4,0a2.2,2.2 0 1,0 -4.4,0M148.8,731.5a2.2,2.2 0 1,0 4.4,0a2.2,2.2 0 1,0 -4.4,0M151.4,730.1a2.2,2.2 0 1,0 4.4,0a2.2,2.2 0 1,0 -4.4,0M153.5,728.8a2.2,2.2 0 1,0 4.4,0a2.2,2.2 0 1,0 -4.4,0M154.5,730.6a2.2,2.2 0 1,0 4.4,0a2.2,2.2 0 1,0 -4.4,0M156.2,730.1a2.2,2.2 0 1,0 4.4,0a2.2,2.2 0 1,0 -4.4,0M158.1,734a2.2,2.2 0 1,0 4.4,0a2.2,2.2 0 1,0 -4.4,0M161.4,735.8a2.2,2.2 0 1,0 4.4,0a2.2,2.2 0 1,0 -4.4,0M162.8,736.2a2.2,2.2 0 1,0 4.4,0a2.2,2.2 0 1,0 -4.4,0M55,730.4a2.2,2.2 0 1,0 4.4,0a2.2,2.2 0 1,0 -4.4,0M152.5,672.9a2.2,2.2 0 1,0 4.4,0a2.2,2.2 0 1,0 -4.4,0M150,733.1a2.2,2.2 0 1,0 4.4,0a2.2,2.2 0 1,0 -4.4,0M128.6,680.3a2.2,2.2 0 1,0 4.4,0a2.2,2.2 0 1,0 -4.4,0M111.6,731.8a2.2,2.2 0 1,0 4.4,0a2.2,2.2 0 1,0 -4.4,0M114.8,732.9a2.2,2.2 0 1,0 4.4,0a2.2,2.2 0 1,0 -4.4,0M137.4,737.5a2.2,2.2 0 1,0 4.4,0a2.2,2.2 0 1,0 -4.4,0M95,686.7a2.2,2.2 0 1,0 4.4,0a2.2,2.2 0 1,0 -4.4,0M93.6,730.5a2.2,2.2 0 1,0 4.4,0a2.2,2.2 0 1,0 -4.4,0M135.9,679.8a2.2,2.2 0 1,0 4.4,0a2.2,2.2 0 1,0 -4.4,0M117.6,732.3a2.2,2.2 0 1,0 4.4,0a2.2,2.2 0 1,0 -4.4,0M100.6,687.7a2.2,2.2 0 1,0 4.4,0a2.2,2.2 0 1,0 -4.4,0M85.3,685.4a2.2,2.2 0 1,0 4.4,0a2.2,2.2 0 1,0 -4.4,0M122.7,732.6a2.2,2.2 0 1,0 4.4,0a2.2,2.2 0 1,0 -4.4,0M131.7,675.6a2.2,2.2 0 1,0 4.4,0a2.2,2.2 0 1,0 -4.4,0M132.9,676.8a2.2,2.2 0 1,0 4.4,0a2.2,2.2 0 1,0 -4.4,0M142.7,676.3a2.2,2.2 0 1,0 4.4,0a2.2,2.2 0 1,0 -4.4,0M129.6,682.9a2.2,2.2 0 1,0 4.4,0a2.2,2.2 0 1,0 -4.4,0M168.1,733.4a2.2,2.2 0 1,0 4.4,0a2.2,2.2 0 1,0 -4.4,0M53.6,724.8a2.2,2.2 0 1,0 4.4,0a2.2,2.2 0 1,0 -4.4,0M60.1,684.6a2.2,2.2 0 1,0 4.4,0a2.2,2.2 0 1,0 -4.4,0M88.9,735.2a2.2,2.2 0 1,0 4.4,0a2.2,2.2 0 1,0 -4.4,0M137.1,671.5a2.2,2.2 0 1,0 4.4,0a2.2,2.2 0 1,0 -4.4,0M57.1,685.9a2.2,2.2 0 1,0 4.4,0a2.2,2.2 0 1,0 -4.4,0M147,678a2.2,2.2 0 1,0 4.4,0a2.2,2.2 0 1,0 -4.4,0M67.4,728.9a2.2,2.2 0 1,0 4.4,0a2.2,2.2 0 1,0 -4.4,0M51.3,711a2.2,2.2 0 1,0 4.4,0a2.2,2.2 0 1,0 -4.4,0M166.7,691.8a2.2,2.2 0 1,0 4.4,0a2.2,2.2 0 1,0 -4.4,0M166.8,702.3a2.2,2.2 0 1,0 4.4,0a2.2,2.2 0 1,0 -4.4,0M167,709.3a2.2,2.2 0 1,0 4.4,0a2.2,2.2 0 1,0 -4.4,0M84.2,636.1a2.2,2.2 0 1,0 4.4,0a2.2,2.2 0 1,0 -4.4,0M57.2,658.2a2.2,2.2 0 1,0 4.4,0a2.2,2.2 0 1,0 -4.4,0M96.2,663.3a2.2,2.2 0 1,0 4.4,0a2.2,2.2 0 1,0 -4.4,0M105.6,668.4a2.2,2.2 0 1,0 4.4,0a2.2,2.2 0 1,0 -4.4,0M92.8,675.5a2.2,2.2 0 1,0 4.4,0a2.2,2.2 0 1,0 -4.4,0M73,677.5a2.2,2.2 0 1,0 4.4,0a2.2,2.2 0 1,0 -4.4,0M125.1,673.8a2.2,2.2 0 1,0 4.4,0a2.2,2.2 0 1,0 -4.4,0M51.6,672.4a2.2,2.2 0 1,0 4.4,0a2.2,2.2 0 1,0 -4.4,0M52.1,677.2a2.2,2.2 0 1,0 4.4,0a2.2,2.2 0 1,0 -4.4,0M150,664.5a2.2,2.2 0 1,0 4.4,0a2.2,2.2 0 1,0 -4.4,0M166.3,663.6a2.2,2.2 0 1,0 4.4,0a2.2,2.2 0 1,0 -4.4,0M165.8,665a2.2,2.2 0 1,0 4.4,0a2.2,2.2 0 1,0 -4.4,0M144.2,670.4a2.2,2.2 0 1,0 4.4,0a2.2,2.2 0 1,0 -4.4,0M163.8,671.3a2.2,2.2 0 1,0 4.4,0a2.2,2.2 0 1,0 -4.4,0M109.8,680.6a2.2,2.2 0 1,0 4.4,0a2.2,2.2 0 1,0 -4.4,0M118.8,687.4a2.2,2.2 0 1,0 4.4,0a2.2,2.2 0 1,0 -4.4,0M151.4,668.7a2.2,2.2 0 1,0 4.4,0a2.2,2.2 0 1,0 -4.4,0M61.5,729.3a2.2,2.2 0 1,0 4.4,0a2.2,2.2 0 1,0 -4.4,0M75.9,730.6a2.2,2.2 0 1,0 4.4,0a2.2,2.2 0 1,0 -4.4,0M147.1,738.6a2.2,2.2 0 1,0 4.4,0a2.2,2.2 0 1,0 -4.4,0M156.5,753.2a2.2,2.2 0 1,0 4.4,0a2.2,2.2 0 1,0 -4.4,0M158.2,750.1a2.2,2.2 0 1,0 4.4,0a2.2,2.2 0 1,0 -4.4,0M159.9,746.8a2.2,2.2 0 1,0 4.4,0a2.2,2.2 0 1,0 -4.4,0M161.6,743.4a2.2,2.2 0 1,0 4.4,0a2.2,2.2 0 1,0 -4.4,0M162.4,740a2.2,2.2 0 1,0 4.4,0a2.2,2.2 0 1,0 -4.4,0M167.5,732.8a2.2,2.2 0 1,0 4.4,0a2.2,2.2 0 1,0 -4.4,0" stroke="#3f55ad" stroke-width="1.1" fill="none"/><path d="M52.6,706.5 L57.5,706.9 L62.5,707.2 L67.4,707.5 L72.3,707.7 L77.2,708 L82.1,708.2 L87,708.4 L91.9,708.6 L96.8,708.7 L101.8,708.9 L106.7,709 L111.6,709.1 L116.5,709.1 L121.4,709.2 L126.3,709.2 L131.2,709.2 L136.1,709.2 L141.1,709.2 L146,709.1 L150.9,709.1 L155.8,709 L160.7,708.9 L165.6,708.7 L170.5,708.6" stroke="#b02c64" stroke-width="1.6" fill="none" stroke-linejoin="round"/></g><rect x="45.5" y="628.4" width="132.5" height="132.6" fill="none" stroke="#484848" stroke-width="1.2"/><path d="M65.3,761v4M65.3,628.4v-4M87.9,761v4M87.9,628.4v-4M110.5,761v4M110.5,628.4v-4M133.1,761v4M133.1,628.4v-4M155.7,761v4M155.7,628.4v-4M45.5,747.7h-4M178,747.7h4M45.5,707.8h-4M178,707.8h4M45.5,667.9h-4M178,667.9h4" stroke="#484848" stroke-width="1.2" fill="none"/><text x="65.3" y="777" text-anchor="middle" class="t">125</text><text x="87.9" y="777" text-anchor="middle" class="t">130</text><text x="110.5" y="777" text-anchor="middle" class="t">135</text><text x="133.1" y="777" text-anchor="middle" class="t">140</text><text x="155.7" y="777" text-anchor="middle" class="t">145</text><text x="39.5" y="751.7" text-anchor="end" class="t">-5</text><text x="39.5" y="711.8" text-anchor="end" class="t">0</text><text x="39.5" y="671.9" text-anchor="end" class="t">5</text><text x="111.8" y="795.3" text-anchor="middle" class="a">Population predictions</text><clipPath id="cP14"><rect x="227" y="627.8" width="132.8" height="132.8"/></clipPath><g clip-path="url(#cP14)"><path d="M227,707.7L360,707.7" stroke="#333" stroke-width="1" fill="none"/><path d="M234.4,686.5 L236,686 L237.6,679 L239.2,677.2 L240.7,675 L242.3,675.8 L243.9,682.7 L245.5,680.9 L247.1,676.9 L248.7,678.6 L250.3,682.1 L251.9,674.8 L253.5,679.6 L255.1,681.4 L256.6,678.6 L258.2,678.6 L259.8,673.5 L261.4,678.7 L263,678.6 L264.6,680.2 L266.2,681 L267.8,680.5 L269.4,675 L270.9,681.1 L272.5,682.4 L274.1,678.5 L275.7,682.9 L277.3,684.5 L278.9,681.8 L280.5,683.1 L282.1,680.4 L283.7,680 L285.3,680.6 L286.8,677.3 L288.4,677.9 L290,674.6 L291.6,674.1 L293.2,677.2 L294.8,679.9 L296.4,672.3 L298,675.7 L299.6,676.1 L301.2,678.5 L302.7,679.3 L304.3,679.9 L305.9,680.9 L307.5,682.4 L309.1,678.4 L310.7,685.1 L312.3,681.2 L313.9,682 L315.5,689.7 L315.5,717.8 L313.9,721.7 L312.3,723.6 L310.7,725.8 L309.1,727.1 L307.5,733 L305.9,727.2 L304.3,732.8 L302.7,730.5 L301.2,728.4 L299.6,729.4 L298,731 L296.4,730.1 L294.8,729.9 L293.2,733.8 L291.6,726.8 L290,730.9 L288.4,729.9 L286.8,727.4 L285.3,730.8 L283.7,730.1 L282.1,726.1 L280.5,731.8 L278.9,732 L277.3,730.1 L275.7,734.7 L274.1,728.2 L272.5,730.1 L270.9,730.8 L269.4,731.7 L267.8,730.4 L266.2,729.9 L264.6,736.1 L263,732.5 L261.4,736.2 L259.8,733 L258.2,736.4 L256.6,732.9 L255.1,731.7 L253.5,731.1 L251.9,731.9 L250.3,735.9 L248.7,736.6 L247.1,730.2 L245.5,735.6 L243.9,732.3 L242.3,733.4 L240.7,733.1 L239.2,727.7 L237.6,727.8 L236,729.6 L234.4,723.2Z" fill="#1a449a" stroke="#1a449a" stroke-width="0.5"/><path d="M316.1,695.5 L317.6,700.2 L317.6,716.4 L316.1,717.3Z" fill="#1a449a" stroke="#1a449a" stroke-width="0.5"/><path d="M319,698.7 L320.4,698 L321.8,698.6 L321.8,719.4 L320.4,719 L319,719.9Z" fill="#1a449a" stroke="#1a449a" stroke-width="0.5"/><path d="M322.6,694.8 L324.1,693.2 L324.1,725.8 L322.6,720.3Z" fill="#1a449a" stroke="#1a449a" stroke-width="0.5"/><path d="M326.2,698.3 L327.5,695.4 L328.7,693.8 L328.7,721.1 L327.5,721.1 L326.2,725.6Z" fill="#1a449a" stroke="#1a449a" stroke-width="0.5"/><path d="M329.6,699 L331.2,699.2 L331.2,724.8 L329.6,725.5Z" fill="#1a449a" stroke="#1a449a" stroke-width="0.5"/><path d="M332.7,698.4 L334.3,699.4 L336,698.2 L336,724.7 L334.3,722.6 L332.7,722.5Z" fill="#1a449a" stroke="#1a449a" stroke-width="0.5"/><path d="M335.4,694.7 L336.7,696.5 L337.9,695.9 L337.9,732.5 L336.7,728.2 L335.4,727.6Z" fill="#1a449a" stroke="#1a449a" stroke-width="0.5"/><path d="M338.6,697.5 L340.4,698.6 L340.4,729.1 L338.6,729.8Z" fill="#1a449a" stroke="#1a449a" stroke-width="0.5"/><path d="M341.4,698.4 L342.8,697.6 L344.3,695.7 L344.3,724.1 L342.8,727.6 L341.4,722.8Z" fill="#1a449a" stroke="#1a449a" stroke-width="0.5"/><path d="M344.1,698.3 L345.3,694 L346.5,696.9 L346.5,722.7 L345.3,722.1 L344.1,725.5Z" fill="#1a449a" stroke="#1a449a" stroke-width="0.5"/><path d="M347.2,703 L348.4,701.7 L349.5,701.4 L349.5,722.1 L348.4,726.4 L347.2,721Z" fill="#1a449a" stroke="#1a449a" stroke-width="0.5"/><path d="M350.1,705.6 L351.7,707.2 L353.2,707.4 L353.2,725.8 L351.7,721.8 L350.1,721.4Z" fill="#1a449a" stroke="#1a449a" stroke-width="0.5"/><path d="M269.6,735.2L269.4,730.2M313.6,679.2L313.9,683.5M293.9,674.3L293.2,678.7M247,672.8L247.1,678.4M238.6,729.8L239.2,726.2M287.2,673.6L286.8,678.8M238.3,676.3L237.6,680.5M301.5,730.9L301.2,726.9M241.2,736L240.7,731.6M314.2,724.9L313.9,720.2M274.3,731.9L274.1,726.7M269.5,672.1L269.4,676.5M288.7,675.6L288.4,679.4M277.5,681.6L277.3,686M283.2,676.8L283.7,681.5M289.7,735.2L290,729.4M251.4,736.3L251.9,730.4M249.4,675.8L248.7,680.1M297.7,672.5L298,677.2M307.5,680.1L307.5,683.9M271.3,678.1L270.9,682.6M264.8,675.8L264.6,681.7M312.4,678.9L312.3,682.7M274.4,732.1L274.1,726.7M295.4,635.3L294,678.9M295.4,635.3L296.6,678.9M291,657.3L291,678.9M259.2,663.6L259.2,675.5M264.7,662.8L264.7,675.5M268.6,664.5L268.6,675.5M273.7,670.1L273.7,677.2M239.2,670.8L239.2,678.9M313.5,670.4L313.5,685.7M319.5,686.5L319.5,699.2M329.3,681.1L329.3,699.2M340.7,673.5L340.7,699.2M343.7,678.9L343.7,702.6M351.3,689.1L351.3,704.3M261.8,749.3L261.8,733.2M305.4,753.2L305.4,729.8" stroke="#2a48a6" stroke-width="1.1" fill="none"/><path d="M232.1,686.7a2.2,2.2 0 1,0 4.4,0a2.2,2.2 0 1,0 -4.4,0M235.7,679a2.2,2.2 0 1,0 4.4,0a2.2,2.2 0 1,0 -4.4,0M242.1,682.7a2.2,2.2 0 1,0 4.4,0a2.2,2.2 0 1,0 -4.4,0M244.9,676.7a2.2,2.2 0 1,0 4.4,0a2.2,2.2 0 1,0 -4.4,0M246.4,678.8a2.2,2.2 0 1,0 4.4,0a2.2,2.2 0 1,0 -4.4,0M247.8,682.1a2.2,2.2 0 1,0 4.4,0a2.2,2.2 0 1,0 -4.4,0M250,674.5a2.2,2.2 0 1,0 4.4,0a2.2,2.2 0 1,0 -4.4,0M251.5,679.8a2.2,2.2 0 1,0 4.4,0a2.2,2.2 0 1,0 -4.4,0M252.9,681.3a2.2,2.2 0 1,0 4.4,0a2.2,2.2 0 1,0 -4.4,0M254.1,678.4a2.2,2.2 0 1,0 4.4,0a2.2,2.2 0 1,0 -4.4,0M257.4,673.5a2.2,2.2 0 1,0 4.4,0a2.2,2.2 0 1,0 -4.4,0M262.3,679.9a2.2,2.2 0 1,0 4.4,0a2.2,2.2 0 1,0 -4.4,0M265.4,680.3a2.2,2.2 0 1,0 4.4,0a2.2,2.2 0 1,0 -4.4,0M266.9,674.9a2.2,2.2 0 1,0 4.4,0a2.2,2.2 0 1,0 -4.4,0M268.5,681.2a2.2,2.2 0 1,0 4.4,0a2.2,2.2 0 1,0 -4.4,0M270,682.7a2.2,2.2 0 1,0 4.4,0a2.2,2.2 0 1,0 -4.4,0M271.9,678.4a2.2,2.2 0 1,0 4.4,0a2.2,2.2 0 1,0 -4.4,0M273.4,682.9a2.2,2.2 0 1,0 4.4,0a2.2,2.2 0 1,0 -4.4,0M276.6,682a2.2,2.2 0 1,0 4.4,0a2.2,2.2 0 1,0 -4.4,0M279.6,680.6a2.2,2.2 0 1,0 4.4,0a2.2,2.2 0 1,0 -4.4,0M283.3,680.5a2.2,2.2 0 1,0 4.4,0a2.2,2.2 0 1,0 -4.4,0M284.3,677.1a2.2,2.2 0 1,0 4.4,0a2.2,2.2 0 1,0 -4.4,0M286,678.1a2.2,2.2 0 1,0 4.4,0a2.2,2.2 0 1,0 -4.4,0M289.7,674a2.2,2.2 0 1,0 4.4,0a2.2,2.2 0 1,0 -4.4,0M292.9,679.9a2.2,2.2 0 1,0 4.4,0a2.2,2.2 0 1,0 -4.4,0M297.4,676.2a2.2,2.2 0 1,0 4.4,0a2.2,2.2 0 1,0 -4.4,0M299,678.3a2.2,2.2 0 1,0 4.4,0a2.2,2.2 0 1,0 -4.4,0M300.3,679.6a2.2,2.2 0 1,0 4.4,0a2.2,2.2 0 1,0 -4.4,0M303.5,681a2.2,2.2 0 1,0 4.4,0a2.2,2.2 0 1,0 -4.4,0M305.7,682.7a2.2,2.2 0 1,0 4.4,0a2.2,2.2 0 1,0 -4.4,0M307.1,678.7a2.2,2.2 0 1,0 4.4,0a2.2,2.2 0 1,0 -4.4,0M311.8,682.1a2.2,2.2 0 1,0 4.4,0a2.2,2.2 0 1,0 -4.4,0M235.6,727.8a2.2,2.2 0 1,0 4.4,0a2.2,2.2 0 1,0 -4.4,0M238.6,733.4a2.2,2.2 0 1,0 4.4,0a2.2,2.2 0 1,0 -4.4,0M243,735.5a2.2,2.2 0 1,0 4.4,0a2.2,2.2 0 1,0 -4.4,0M246.6,736.4a2.2,2.2 0 1,0 4.4,0a2.2,2.2 0 1,0 -4.4,0M247.9,736a2.2,2.2 0 1,0 4.4,0a2.2,2.2 0 1,0 -4.4,0M252.5,731.9a2.2,2.2 0 1,0 4.4,0a2.2,2.2 0 1,0 -4.4,0M259.1,736a2.2,2.2 0 1,0 4.4,0a2.2,2.2 0 1,0 -4.4,0M260.6,732.8a2.2,2.2 0 1,0 4.4,0a2.2,2.2 0 1,0 -4.4,0M264.4,730.2a2.2,2.2 0 1,0 4.4,0a2.2,2.2 0 1,0 -4.4,0M265.9,730.7a2.2,2.2 0 1,0 4.4,0a2.2,2.2 0 1,0 -4.4,0M268.9,731a2.2,2.2 0 1,0 4.4,0a2.2,2.2 0 1,0 -4.4,0M270.3,729.8a2.2,2.2 0 1,0 4.4,0a2.2,2.2 0 1,0 -4.4,0M272.2,728.1a2.2,2.2 0 1,0 4.4,0a2.2,2.2 0 1,0 -4.4,0M275.3,730a2.2,2.2 0 1,0 4.4,0a2.2,2.2 0 1,0 -4.4,0M276.8,731.9a2.2,2.2 0 1,0 4.4,0a2.2,2.2 0 1,0 -4.4,0M278.3,731.7a2.2,2.2 0 1,0 4.4,0a2.2,2.2 0 1,0 -4.4,0M283,730.8a2.2,2.2 0 1,0 4.4,0a2.2,2.2 0 1,0 -4.4,0M284.5,727.4a2.2,2.2 0 1,0 4.4,0a2.2,2.2 0 1,0 -4.4,0M289.8,726.9a2.2,2.2 0 1,0 4.4,0a2.2,2.2 0 1,0 -4.4,0M290.9,733.5a2.2,2.2 0 1,0 4.4,0a2.2,2.2 0 1,0 -4.4,0M294.4,730.2a2.2,2.2 0 1,0 4.4,0a2.2,2.2 0 1,0 -4.4,0M298.6,728.5a2.2,2.2 0 1,0 4.4,0a2.2,2.2 0 1,0 -4.4,0M300.6,730.7a2.2,2.2 0 1,0 4.4,0a2.2,2.2 0 1,0 -4.4,0M302.1,732.8a2.2,2.2 0 1,0 4.4,0a2.2,2.2 0 1,0 -4.4,0M303.5,727.2a2.2,2.2 0 1,0 4.4,0a2.2,2.2 0 1,0 -4.4,0M305,732.8a2.2,2.2 0 1,0 4.4,0a2.2,2.2 0 1,0 -4.4,0M310.1,723.5a2.2,2.2 0 1,0 4.4,0a2.2,2.2 0 1,0 -4.4,0M311.5,721.8a2.2,2.2 0 1,0 4.4,0a2.2,2.2 0 1,0 -4.4,0M313.6,717.7a2.2,2.2 0 1,0 4.4,0a2.2,2.2 0 1,0 -4.4,0M267.4,735.2a2.2,2.2 0 1,0 4.4,0a2.2,2.2 0 1,0 -4.4,0M311.4,679.2a2.2,2.2 0 1,0 4.4,0a2.2,2.2 0 1,0 -4.4,0M291.7,674.3a2.2,2.2 0 1,0 4.4,0a2.2,2.2 0 1,0 -4.4,0M244.8,672.8a2.2,2.2 0 1,0 4.4,0a2.2,2.2 0 1,0 -4.4,0M236.4,729.8a2.2,2.2 0 1,0 4.4,0a2.2,2.2 0 1,0 -4.4,0M285,673.6a2.2,2.2 0 1,0 4.4,0a2.2,2.2 0 1,0 -4.4,0M236.1,676.3a2.2,2.2 0 1,0 4.4,0a2.2,2.2 0 1,0 -4.4,0M299.3,730.9a2.2,2.2 0 1,0 4.4,0a2.2,2.2 0 1,0 -4.4,0M239,736a2.2,2.2 0 1,0 4.4,0a2.2,2.2 0 1,0 -4.4,0M312,724.9a2.2,2.2 0 1,0 4.4,0a2.2,2.2 0 1,0 -4.4,0M272.1,731.9a2.2,2.2 0 1,0 4.4,0a2.2,2.2 0 1,0 -4.4,0M267.3,672.1a2.2,2.2 0 1,0 4.4,0a2.2,2.2 0 1,0 -4.4,0M286.5,675.6a2.2,2.2 0 1,0 4.4,0a2.2,2.2 0 1,0 -4.4,0M275.3,681.6a2.2,2.2 0 1,0 4.4,0a2.2,2.2 0 1,0 -4.4,0M281,676.8a2.2,2.2 0 1,0 4.4,0a2.2,2.2 0 1,0 -4.4,0M287.5,735.2a2.2,2.2 0 1,0 4.4,0a2.2,2.2 0 1,0 -4.4,0M249.2,736.3a2.2,2.2 0 1,0 4.4,0a2.2,2.2 0 1,0 -4.4,0M247.2,675.8a2.2,2.2 0 1,0 4.4,0a2.2,2.2 0 1,0 -4.4,0M295.5,672.5a2.2,2.2 0 1,0 4.4,0a2.2,2.2 0 1,0 -4.4,0M305.3,680.1a2.2,2.2 0 1,0 4.4,0a2.2,2.2 0 1,0 -4.4,0M269.1,678.1a2.2,2.2 0 1,0 4.4,0a2.2,2.2 0 1,0 -4.4,0M262.6,675.8a2.2,2.2 0 1,0 4.4,0a2.2,2.2 0 1,0 -4.4,0M310.2,678.9a2.2,2.2 0 1,0 4.4,0a2.2,2.2 0 1,0 -4.4,0M272.2,732.1a2.2,2.2 0 1,0 4.4,0a2.2,2.2 0 1,0 -4.4,0M233.4,699a2.2,2.2 0 1,0 4.4,0a2.2,2.2 0 1,0 -4.4,0M232.5,709.5a2.2,2.2 0 1,0 4.4,0a2.2,2.2 0 1,0 -4.4,0M311.9,691.7a2.2,2.2 0 1,0 4.4,0a2.2,2.2 0 1,0 -4.4,0M312.5,695.2a2.2,2.2 0 1,0 4.4,0a2.2,2.2 0 1,0 -4.4,0M312.2,702.2a2.2,2.2 0 1,0 4.4,0a2.2,2.2 0 1,0 -4.4,0M312.7,709.2a2.2,2.2 0 1,0 4.4,0a2.2,2.2 0 1,0 -4.4,0M311.9,712.7a2.2,2.2 0 1,0 4.4,0a2.2,2.2 0 1,0 -4.4,0M313.9,695.6a2.2,2.2 0 1,0 4.4,0a2.2,2.2 0 1,0 -4.4,0M315.3,700.3a2.2,2.2 0 1,0 4.4,0a2.2,2.2 0 1,0 -4.4,0M313.7,717.1a2.2,2.2 0 1,0 4.4,0a2.2,2.2 0 1,0 -4.4,0M318.1,697.8a2.2,2.2 0 1,0 4.4,0a2.2,2.2 0 1,0 -4.4,0M317.1,719.9a2.2,2.2 0 1,0 4.4,0a2.2,2.2 0 1,0 -4.4,0M319.2,719.7a2.2,2.2 0 1,0 4.4,0a2.2,2.2 0 1,0 -4.4,0M320.5,694.9a2.2,2.2 0 1,0 4.4,0a2.2,2.2 0 1,0 -4.4,0M322,693.3a2.2,2.2 0 1,0 4.4,0a2.2,2.2 0 1,0 -4.4,0M321.8,725.7a2.2,2.2 0 1,0 4.4,0a2.2,2.2 0 1,0 -4.4,0M324.1,698.2a2.2,2.2 0 1,0 4.4,0a2.2,2.2 0 1,0 -4.4,0M324.9,695.4a2.2,2.2 0 1,0 4.4,0a2.2,2.2 0 1,0 -4.4,0M323.8,725.9a2.2,2.2 0 1,0 4.4,0a2.2,2.2 0 1,0 -4.4,0M325.5,720.8a2.2,2.2 0 1,0 4.4,0a2.2,2.2 0 1,0 -4.4,0M327.3,699.2a2.2,2.2 0 1,0 4.4,0a2.2,2.2 0 1,0 -4.4,0M328.9,699.5a2.2,2.2 0 1,0 4.4,0a2.2,2.2 0 1,0 -4.4,0M328.6,724.7a2.2,2.2 0 1,0 4.4,0a2.2,2.2 0 1,0 -4.4,0M330.3,698.6a2.2,2.2 0 1,0 4.4,0a2.2,2.2 0 1,0 -4.4,0M332.2,699.7a2.2,2.2 0 1,0 4.4,0a2.2,2.2 0 1,0 -4.4,0M330.5,722.5a2.2,2.2 0 1,0 4.4,0a2.2,2.2 0 1,0 -4.4,0M332.3,722.4a2.2,2.2 0 1,0 4.4,0a2.2,2.2 0 1,0 -4.4,0M333.6,724.4a2.2,2.2 0 1,0 4.4,0a2.2,2.2 0 1,0 -4.4,0M333.5,695a2.2,2.2 0 1,0 4.4,0a2.2,2.2 0 1,0 -4.4,0M334.8,696.3a2.2,2.2 0 1,0 4.4,0a2.2,2.2 0 1,0 -4.4,0M335.5,696.1a2.2,2.2 0 1,0 4.4,0a2.2,2.2 0 1,0 -4.4,0M334.6,728.1a2.2,2.2 0 1,0 4.4,0a2.2,2.2 0 1,0 -4.4,0M338.3,729.2a2.2,2.2 0 1,0 4.4,0a2.2,2.2 0 1,0 -4.4,0M339.2,698.4a2.2,2.2 0 1,0 4.4,0a2.2,2.2 0 1,0 -4.4,0M342.1,695.8a2.2,2.2 0 1,0 4.4,0a2.2,2.2 0 1,0 -4.4,0M339.2,723a2.2,2.2 0 1,0 4.4,0a2.2,2.2 0 1,0 -4.4,0M340.6,727.6a2.2,2.2 0 1,0 4.4,0a2.2,2.2 0 1,0 -4.4,0M342.3,724.1a2.2,2.2 0 1,0 4.4,0a2.2,2.2 0 1,0 -4.4,0M343.4,694.2a2.2,2.2 0 1,0 4.4,0a2.2,2.2 0 1,0 -4.4,0M343,722.4a2.2,2.2 0 1,0 4.4,0a2.2,2.2 0 1,0 -4.4,0M344.9,703.1a2.2,2.2 0 1,0 4.4,0a2.2,2.2 0 1,0 -4.4,0M346.5,701.7a2.2,2.2 0 1,0 4.4,0a2.2,2.2 0 1,0 -4.4,0M347.6,701.1a2.2,2.2 0 1,0 4.4,0a2.2,2.2 0 1,0 -4.4,0M346.6,726.2a2.2,2.2 0 1,0 4.4,0a2.2,2.2 0 1,0 -4.4,0M349.4,707a2.2,2.2 0 1,0 4.4,0a2.2,2.2 0 1,0 -4.4,0M350.7,707.6a2.2,2.2 0 1,0 4.4,0a2.2,2.2 0 1,0 -4.4,0M348.2,721.4a2.2,2.2 0 1,0 4.4,0a2.2,2.2 0 1,0 -4.4,0M349.4,721.9a2.2,2.2 0 1,0 4.4,0a2.2,2.2 0 1,0 -4.4,0M351,725.6a2.2,2.2 0 1,0 4.4,0a2.2,2.2 0 1,0 -4.4,0M293.2,635.3a2.2,2.2 0 1,0 4.4,0a2.2,2.2 0 1,0 -4.4,0M288.8,657.3a2.2,2.2 0 1,0 4.4,0a2.2,2.2 0 1,0 -4.4,0M257,663.6a2.2,2.2 0 1,0 4.4,0a2.2,2.2 0 1,0 -4.4,0M262.5,662.8a2.2,2.2 0 1,0 4.4,0a2.2,2.2 0 1,0 -4.4,0M266.4,664.5a2.2,2.2 0 1,0 4.4,0a2.2,2.2 0 1,0 -4.4,0M271.5,670.1a2.2,2.2 0 1,0 4.4,0a2.2,2.2 0 1,0 -4.4,0M237,670.8a2.2,2.2 0 1,0 4.4,0a2.2,2.2 0 1,0 -4.4,0M245.5,676.9a2.2,2.2 0 1,0 4.4,0a2.2,2.2 0 1,0 -4.4,0M279.9,677.2a2.2,2.2 0 1,0 4.4,0a2.2,2.2 0 1,0 -4.4,0M285.9,672.4a2.2,2.2 0 1,0 4.4,0a2.2,2.2 0 1,0 -4.4,0M302,671.3a2.2,2.2 0 1,0 4.4,0a2.2,2.2 0 1,0 -4.4,0M311.3,670.4a2.2,2.2 0 1,0 4.4,0a2.2,2.2 0 1,0 -4.4,0M317.3,686.5a2.2,2.2 0 1,0 4.4,0a2.2,2.2 0 1,0 -4.4,0M327.1,681.1a2.2,2.2 0 1,0 4.4,0a2.2,2.2 0 1,0 -4.4,0M338.5,673.5a2.2,2.2 0 1,0 4.4,0a2.2,2.2 0 1,0 -4.4,0M341.5,678.9a2.2,2.2 0 1,0 4.4,0a2.2,2.2 0 1,0 -4.4,0M349.1,689.1a2.2,2.2 0 1,0 4.4,0a2.2,2.2 0 1,0 -4.4,0M346.9,693.3a2.2,2.2 0 1,0 4.4,0a2.2,2.2 0 1,0 -4.4,0M259.6,749.3a2.2,2.2 0 1,0 4.4,0a2.2,2.2 0 1,0 -4.4,0M303.2,753.2a2.2,2.2 0 1,0 4.4,0a2.2,2.2 0 1,0 -4.4,0M305.4,745.1a2.2,2.2 0 1,0 4.4,0a2.2,2.2 0 1,0 -4.4,0M270.6,739.1a2.2,2.2 0 1,0 4.4,0a2.2,2.2 0 1,0 -4.4,0M320.6,726.4a2.2,2.2 0 1,0 4.4,0a2.2,2.2 0 1,0 -4.4,0M331.7,729.4a2.2,2.2 0 1,0 4.4,0a2.2,2.2 0 1,0 -4.4,0M349.1,726.1a2.2,2.2 0 1,0 4.4,0a2.2,2.2 0 1,0 -4.4,0M337.6,723a2.2,2.2 0 1,0 4.4,0a2.2,2.2 0 1,0 -4.4,0M246.5,734.9a2.2,2.2 0 1,0 4.4,0a2.2,2.2 0 1,0 -4.4,0" stroke="#3f55ad" stroke-width="1.1" fill="none"/><path d="M233.8,708.1 L277.9,707.7 L315.2,709.1 L350.8,711.1" stroke="#b02c64" stroke-width="1.6" fill="none" stroke-linejoin="round"/></g><rect x="227" y="627.8" width="132.8" height="132.8" fill="none" stroke="#484848" stroke-width="1.2"/><path d="M247,760.6v4M247,627.8v-4M282.1,760.6v4M282.1,627.8v-4M317.2,760.6v4M317.2,627.8v-4M352.3,760.6v4M352.3,627.8v-4M227,748.1h-4M359.8,748.1h4M227,708h-4M359.8,708h4M227,667.9h-4M359.8,667.9h4" stroke="#484848" stroke-width="1.2" fill="none"/><text x="247" y="776.6" text-anchor="middle" class="t">0.5</text><text x="282.1" y="776.6" text-anchor="middle" class="t">1.0</text><text x="317.2" y="776.6" text-anchor="middle" class="t">1.5</text><text x="352.3" y="776.6" text-anchor="middle" class="t">2.0</text><text x="221" y="752.1" text-anchor="end" class="t">-5</text><text x="221" y="712" text-anchor="end" class="t">0</text><text x="221" y="671.9" text-anchor="end" class="t">5</text><text x="293.4" y="794.9" text-anchor="middle" class="a">Time</text><clipPath id="cP15"><rect x="449.3" y="628" width="136.2" height="133.3"/></clipPath><g clip-path="url(#cP15)"><path d="M449,704.5L586,704.5" stroke="#333" stroke-width="1" fill="none"/><path d="M456.6,680.9 L458.2,677.4 L459.8,683.6 L461.4,678.2 L463,684.4 L464.6,685.6 L466.2,687.1 L467.7,686.9 L469.3,687.3 L470.9,687.1 L472.5,686.4 L474.1,685.7 L475.7,686 L477.3,685.5 L478.9,688.3 L480.5,689.3 L482.1,682.7 L483.7,690.1 L485.3,688.7 L486.9,690.8 L488.5,687.9 L490.1,683.4 L491.7,683 L493.2,682.6 L494.8,688.6 L496.4,688.4 L498,688.2 L499.6,688 L501.2,689.9 L502.8,688.5 L504.4,688.8 L506,687 L507.6,690.8 L509.2,690.1 L510.8,688.9 L512.4,689.7 L514,686.7 L515.6,690.7 L517.2,685 L518.7,685.3 L520.3,690.6 L521.9,689.3 L523.5,688.1 L525.1,689.6 L526.7,689.6 L528.3,688.5 L529.9,688.2 L531.5,687.4 L533.1,686.5 L534.7,683.8 L536.3,685.3 L537.9,683.9 L539.5,683.6 L541.1,679.5 L542.6,677.7 L544.2,677.4 L545.8,681.7 L547.4,679.1 L549,680.1 L550.6,678.7 L552.2,678.5 L553.8,678.1 L555.4,679.3 L557,679.8 L558.6,679.1 L560.2,677.3 L561.8,678.4 L563.4,678.9 L565,676 L566.6,672.5 L568.1,674.1 L569.7,678 L571.3,677.5 L572.9,677.1 L574.5,678.1 L576.1,675.4 L577.7,680 L577.7,727.2 L576.1,727.4 L574.5,730.6 L572.9,734.3 L571.3,730.1 L569.7,731 L568.1,733.9 L566.6,728.8 L565,729.1 L563.4,731.9 L561.8,728 L560.2,726.4 L558.6,726.8 L557,727.4 L555.4,730.5 L553.8,730 L552.2,728.6 L550.6,729.5 L549,730.3 L547.4,730.8 L545.8,730.3 L544.2,733.8 L542.6,728.5 L541.1,727.7 L539.5,731.9 L537.9,725.6 L536.3,724.8 L534.7,724.2 L533.1,724.7 L531.5,725.2 L529.9,724.9 L528.3,724.1 L526.7,726.6 L525.1,730.7 L523.5,725.1 L521.9,726.5 L520.3,726.2 L518.7,725.9 L517.2,727 L515.6,730.8 L514,725.6 L512.4,725.9 L510.8,725.4 L509.2,725.5 L507.6,726.7 L506,725.7 L504.4,724.1 L502.8,727.3 L501.2,727.7 L499.6,722.5 L498,722.5 L496.4,725 L494.8,722.9 L493.2,723.7 L491.7,727.5 L490.1,724.4 L488.5,723.9 L486.9,724.7 L485.3,722.8 L483.7,728.3 L482.1,724.5 L480.5,724.5 L478.9,726.8 L477.3,722.6 L475.7,723.1 L474.1,721.9 L472.5,723.2 L470.9,724.7 L469.3,723.3 L467.7,722.9 L466.2,723.5 L464.6,723 L463,722.5 L461.4,721.9 L459.8,721.7 L458.2,720 L456.6,721.7Z" fill="#1a449a" stroke="#1a449a" stroke-width="0.5"/><path d="M461,684.6a2.2,2.2 0 1,0 4.4,0a2.2,2.2 0 1,0 -4.4,0M463.8,687.2a2.2,2.2 0 1,0 4.4,0a2.2,2.2 0 1,0 -4.4,0M465.6,686.8a2.2,2.2 0 1,0 4.4,0a2.2,2.2 0 1,0 -4.4,0M467,687.1a2.2,2.2 0 1,0 4.4,0a2.2,2.2 0 1,0 -4.4,0M470.3,686.3a2.2,2.2 0 1,0 4.4,0a2.2,2.2 0 1,0 -4.4,0M475.1,685.3a2.2,2.2 0 1,0 4.4,0a2.2,2.2 0 1,0 -4.4,0M476.6,688.6a2.2,2.2 0 1,0 4.4,0a2.2,2.2 0 1,0 -4.4,0M478.2,689.2a2.2,2.2 0 1,0 4.4,0a2.2,2.2 0 1,0 -4.4,0M481.1,690.1a2.2,2.2 0 1,0 4.4,0a2.2,2.2 0 1,0 -4.4,0M484.9,691a2.2,2.2 0 1,0 4.4,0a2.2,2.2 0 1,0 -4.4,0M486.5,688.1a2.2,2.2 0 1,0 4.4,0a2.2,2.2 0 1,0 -4.4,0M489.8,683.3a2.2,2.2 0 1,0 4.4,0a2.2,2.2 0 1,0 -4.4,0M491,682.4a2.2,2.2 0 1,0 4.4,0a2.2,2.2 0 1,0 -4.4,0M492.9,688.4a2.2,2.2 0 1,0 4.4,0a2.2,2.2 0 1,0 -4.4,0M494,688.6a2.2,2.2 0 1,0 4.4,0a2.2,2.2 0 1,0 -4.4,0M497.6,687.9a2.2,2.2 0 1,0 4.4,0a2.2,2.2 0 1,0 -4.4,0M498.9,689.9a2.2,2.2 0 1,0 4.4,0a2.2,2.2 0 1,0 -4.4,0M501,688.7a2.2,2.2 0 1,0 4.4,0a2.2,2.2 0 1,0 -4.4,0M505.3,690.7a2.2,2.2 0 1,0 4.4,0a2.2,2.2 0 1,0 -4.4,0M507.2,690.2a2.2,2.2 0 1,0 4.4,0a2.2,2.2 0 1,0 -4.4,0M508.6,689.1a2.2,2.2 0 1,0 4.4,0a2.2,2.2 0 1,0 -4.4,0M510.2,689.8a2.2,2.2 0 1,0 4.4,0a2.2,2.2 0 1,0 -4.4,0M511.5,686.8a2.2,2.2 0 1,0 4.4,0a2.2,2.2 0 1,0 -4.4,0M514.9,684.8a2.2,2.2 0 1,0 4.4,0a2.2,2.2 0 1,0 -4.4,0M517.8,690.6a2.2,2.2 0 1,0 4.4,0a2.2,2.2 0 1,0 -4.4,0M524.2,689.7a2.2,2.2 0 1,0 4.4,0a2.2,2.2 0 1,0 -4.4,0M532.8,684a2.2,2.2 0 1,0 4.4,0a2.2,2.2 0 1,0 -4.4,0M534.1,685.2a2.2,2.2 0 1,0 4.4,0a2.2,2.2 0 1,0 -4.4,0M535.7,683.8a2.2,2.2 0 1,0 4.4,0a2.2,2.2 0 1,0 -4.4,0M540.5,677.7a2.2,2.2 0 1,0 4.4,0a2.2,2.2 0 1,0 -4.4,0M542.1,677.6a2.2,2.2 0 1,0 4.4,0a2.2,2.2 0 1,0 -4.4,0M543.4,681.9a2.2,2.2 0 1,0 4.4,0a2.2,2.2 0 1,0 -4.4,0M545.5,678.8a2.2,2.2 0 1,0 4.4,0a2.2,2.2 0 1,0 -4.4,0M548.5,678.5a2.2,2.2 0 1,0 4.4,0a2.2,2.2 0 1,0 -4.4,0M549.8,678.5a2.2,2.2 0 1,0 4.4,0a2.2,2.2 0 1,0 -4.4,0M553,679a2.2,2.2 0 1,0 4.4,0a2.2,2.2 0 1,0 -4.4,0M554.7,679.8a2.2,2.2 0 1,0 4.4,0a2.2,2.2 0 1,0 -4.4,0M558.2,677.3a2.2,2.2 0 1,0 4.4,0a2.2,2.2 0 1,0 -4.4,0M561,678.8a2.2,2.2 0 1,0 4.4,0a2.2,2.2 0 1,0 -4.4,0M562.7,675.8a2.2,2.2 0 1,0 4.4,0a2.2,2.2 0 1,0 -4.4,0M564.2,672.3a2.2,2.2 0 1,0 4.4,0a2.2,2.2 0 1,0 -4.4,0M567.4,677.7a2.2,2.2 0 1,0 4.4,0a2.2,2.2 0 1,0 -4.4,0M568.9,677.7a2.2,2.2 0 1,0 4.4,0a2.2,2.2 0 1,0 -4.4,0M572.5,677.9a2.2,2.2 0 1,0 4.4,0a2.2,2.2 0 1,0 -4.4,0M574,675.1a2.2,2.2 0 1,0 4.4,0a2.2,2.2 0 1,0 -4.4,0M575.6,680.3a2.2,2.2 0 1,0 4.4,0a2.2,2.2 0 1,0 -4.4,0M459,721.6a2.2,2.2 0 1,0 4.4,0a2.2,2.2 0 1,0 -4.4,0M460.5,722.4a2.2,2.2 0 1,0 4.4,0a2.2,2.2 0 1,0 -4.4,0M462.5,722.7a2.2,2.2 0 1,0 4.4,0a2.2,2.2 0 1,0 -4.4,0M464.2,723.4a2.2,2.2 0 1,0 4.4,0a2.2,2.2 0 1,0 -4.4,0M467.2,723.4a2.2,2.2 0 1,0 4.4,0a2.2,2.2 0 1,0 -4.4,0M468.9,724.8a2.2,2.2 0 1,0 4.4,0a2.2,2.2 0 1,0 -4.4,0M470.7,723.4a2.2,2.2 0 1,0 4.4,0a2.2,2.2 0 1,0 -4.4,0M475.5,722.9a2.2,2.2 0 1,0 4.4,0a2.2,2.2 0 1,0 -4.4,0M476.6,726.7a2.2,2.2 0 1,0 4.4,0a2.2,2.2 0 1,0 -4.4,0M478.1,724.2a2.2,2.2 0 1,0 4.4,0a2.2,2.2 0 1,0 -4.4,0M480.2,724.7a2.2,2.2 0 1,0 4.4,0a2.2,2.2 0 1,0 -4.4,0M483.4,722.6a2.2,2.2 0 1,0 4.4,0a2.2,2.2 0 1,0 -4.4,0M484.4,724.8a2.2,2.2 0 1,0 4.4,0a2.2,2.2 0 1,0 -4.4,0M486,723.7a2.2,2.2 0 1,0 4.4,0a2.2,2.2 0 1,0 -4.4,0M487.7,724.3a2.2,2.2 0 1,0 4.4,0a2.2,2.2 0 1,0 -4.4,0M489.6,727.5a2.2,2.2 0 1,0 4.4,0a2.2,2.2 0 1,0 -4.4,0M491.3,723.8a2.2,2.2 0 1,0 4.4,0a2.2,2.2 0 1,0 -4.4,0M492.9,722.6a2.2,2.2 0 1,0 4.4,0a2.2,2.2 0 1,0 -4.4,0M497.3,722.8a2.2,2.2 0 1,0 4.4,0a2.2,2.2 0 1,0 -4.4,0M505.2,726.6a2.2,2.2 0 1,0 4.4,0a2.2,2.2 0 1,0 -4.4,0M509.9,725.8a2.2,2.2 0 1,0 4.4,0a2.2,2.2 0 1,0 -4.4,0M512.1,725.9a2.2,2.2 0 1,0 4.4,0a2.2,2.2 0 1,0 -4.4,0M514.7,726.8a2.2,2.2 0 1,0 4.4,0a2.2,2.2 0 1,0 -4.4,0M516.6,725.7a2.2,2.2 0 1,0 4.4,0a2.2,2.2 0 1,0 -4.4,0M521.7,725a2.2,2.2 0 1,0 4.4,0a2.2,2.2 0 1,0 -4.4,0M524.7,726.8a2.2,2.2 0 1,0 4.4,0a2.2,2.2 0 1,0 -4.4,0M526.3,724a2.2,2.2 0 1,0 4.4,0a2.2,2.2 0 1,0 -4.4,0M530.8,725a2.2,2.2 0 1,0 4.4,0a2.2,2.2 0 1,0 -4.4,0M533.9,725a2.2,2.2 0 1,0 4.4,0a2.2,2.2 0 1,0 -4.4,0M540.3,728.4a2.2,2.2 0 1,0 4.4,0a2.2,2.2 0 1,0 -4.4,0M542.2,734a2.2,2.2 0 1,0 4.4,0a2.2,2.2 0 1,0 -4.4,0M544.9,730.7a2.2,2.2 0 1,0 4.4,0a2.2,2.2 0 1,0 -4.4,0M548.7,729.3a2.2,2.2 0 1,0 4.4,0a2.2,2.2 0 1,0 -4.4,0M551.3,730a2.2,2.2 0 1,0 4.4,0a2.2,2.2 0 1,0 -4.4,0M556.2,726.8a2.2,2.2 0 1,0 4.4,0a2.2,2.2 0 1,0 -4.4,0M557.7,726.7a2.2,2.2 0 1,0 4.4,0a2.2,2.2 0 1,0 -4.4,0M560,727.9a2.2,2.2 0 1,0 4.4,0a2.2,2.2 0 1,0 -4.4,0M564.7,728.7a2.2,2.2 0 1,0 4.4,0a2.2,2.2 0 1,0 -4.4,0M565.8,734.1a2.2,2.2 0 1,0 4.4,0a2.2,2.2 0 1,0 -4.4,0M568.7,730.3a2.2,2.2 0 1,0 4.4,0a2.2,2.2 0 1,0 -4.4,0M570.6,734.5a2.2,2.2 0 1,0 4.4,0a2.2,2.2 0 1,0 -4.4,0M572.1,730.8a2.2,2.2 0 1,0 4.4,0a2.2,2.2 0 1,0 -4.4,0M575.5,727.2a2.2,2.2 0 1,0 4.4,0a2.2,2.2 0 1,0 -4.4,0M501.9,727.8a2.2,2.2 0 1,0 4.4,0a2.2,2.2 0 1,0 -4.4,0M493.2,727.2a2.2,2.2 0 1,0 4.4,0a2.2,2.2 0 1,0 -4.4,0M555.2,730.1a2.2,2.2 0 1,0 4.4,0a2.2,2.2 0 1,0 -4.4,0M554.2,675.9a2.2,2.2 0 1,0 4.4,0a2.2,2.2 0 1,0 -4.4,0M543.2,677.6a2.2,2.2 0 1,0 4.4,0a2.2,2.2 0 1,0 -4.4,0M483.6,685.1a2.2,2.2 0 1,0 4.4,0a2.2,2.2 0 1,0 -4.4,0M511.9,728.7a2.2,2.2 0 1,0 4.4,0a2.2,2.2 0 1,0 -4.4,0M509.7,685.6a2.2,2.2 0 1,0 4.4,0a2.2,2.2 0 1,0 -4.4,0M504.2,730a2.2,2.2 0 1,0 4.4,0a2.2,2.2 0 1,0 -4.4,0M490,678.9a2.2,2.2 0 1,0 4.4,0a2.2,2.2 0 1,0 -4.4,0M488.9,678.2a2.2,2.2 0 1,0 4.4,0a2.2,2.2 0 1,0 -4.4,0M530.5,682a2.2,2.2 0 1,0 4.4,0a2.2,2.2 0 1,0 -4.4,0M532.1,727.3a2.2,2.2 0 1,0 4.4,0a2.2,2.2 0 1,0 -4.4,0M470.1,727.1a2.2,2.2 0 1,0 4.4,0a2.2,2.2 0 1,0 -4.4,0M519.1,730.6a2.2,2.2 0 1,0 4.4,0a2.2,2.2 0 1,0 -4.4,0M484.2,686.7a2.2,2.2 0 1,0 4.4,0a2.2,2.2 0 1,0 -4.4,0M497.2,683.6a2.2,2.2 0 1,0 4.4,0a2.2,2.2 0 1,0 -4.4,0M494.9,728.7a2.2,2.2 0 1,0 4.4,0a2.2,2.2 0 1,0 -4.4,0M545.2,735.6a2.2,2.2 0 1,0 4.4,0a2.2,2.2 0 1,0 -4.4,0M475.7,683.2a2.2,2.2 0 1,0 4.4,0a2.2,2.2 0 1,0 -4.4,0M460.3,725.3a2.2,2.2 0 1,0 4.4,0a2.2,2.2 0 1,0 -4.4,0M570.2,738.7a2.2,2.2 0 1,0 4.4,0a2.2,2.2 0 1,0 -4.4,0M514.7,731.6a2.2,2.2 0 1,0 4.4,0a2.2,2.2 0 1,0 -4.4,0M556.5,731.3a2.2,2.2 0 1,0 4.4,0a2.2,2.2 0 1,0 -4.4,0M549.7,732.8a2.2,2.2 0 1,0 4.4,0a2.2,2.2 0 1,0 -4.4,0M570,736.8a2.2,2.2 0 1,0 4.4,0a2.2,2.2 0 1,0 -4.4,0M455.7,686.4a2.2,2.2 0 1,0 4.4,0a2.2,2.2 0 1,0 -4.4,0M455,696.9a2.2,2.2 0 1,0 4.4,0a2.2,2.2 0 1,0 -4.4,0M575.2,682a2.2,2.2 0 1,0 4.4,0a2.2,2.2 0 1,0 -4.4,0M574.9,689a2.2,2.2 0 1,0 4.4,0a2.2,2.2 0 1,0 -4.4,0M574.3,696a2.2,2.2 0 1,0 4.4,0a2.2,2.2 0 1,0 -4.4,0M574.7,699.5a2.2,2.2 0 1,0 4.4,0a2.2,2.2 0 1,0 -4.4,0M574.7,703a2.2,2.2 0 1,0 4.4,0a2.2,2.2 0 1,0 -4.4,0M574.7,717a2.2,2.2 0 1,0 4.4,0a2.2,2.2 0 1,0 -4.4,0M489.3,635.9a2.2,2.2 0 1,0 4.4,0a2.2,2.2 0 1,0 -4.4,0M501.8,638.5a2.2,2.2 0 1,0 4.4,0a2.2,2.2 0 1,0 -4.4,0M548.7,635.9a2.2,2.2 0 1,0 4.4,0a2.2,2.2 0 1,0 -4.4,0M548.7,654.7a2.2,2.2 0 1,0 4.4,0a2.2,2.2 0 1,0 -4.4,0M461.1,661.2a2.2,2.2 0 1,0 4.4,0a2.2,2.2 0 1,0 -4.4,0M477.7,667.3a2.2,2.2 0 1,0 4.4,0a2.2,2.2 0 1,0 -4.4,0M498,677.5a2.2,2.2 0 1,0 4.4,0a2.2,2.2 0 1,0 -4.4,0M516.2,675.2a2.2,2.2 0 1,0 4.4,0a2.2,2.2 0 1,0 -4.4,0M574.7,658.9a2.2,2.2 0 1,0 4.4,0a2.2,2.2 0 1,0 -4.4,0M570.5,664.7a2.2,2.2 0 1,0 4.4,0a2.2,2.2 0 1,0 -4.4,0M541.2,663.8a2.2,2.2 0 1,0 4.4,0a2.2,2.2 0 1,0 -4.4,0M544.1,663.5a2.2,2.2 0 1,0 4.4,0a2.2,2.2 0 1,0 -4.4,0M549,666.4a2.2,2.2 0 1,0 4.4,0a2.2,2.2 0 1,0 -4.4,0M551.6,664.7a2.2,2.2 0 1,0 4.4,0a2.2,2.2 0 1,0 -4.4,0M560.4,667.3a2.2,2.2 0 1,0 4.4,0a2.2,2.2 0 1,0 -4.4,0M541.2,671.7a2.2,2.2 0 1,0 4.4,0a2.2,2.2 0 1,0 -4.4,0M544.7,673.4a2.2,2.2 0 1,0 4.4,0a2.2,2.2 0 1,0 -4.4,0M475.6,677.5a2.2,2.2 0 1,0 4.4,0a2.2,2.2 0 1,0 -4.4,0M466.9,680.4a2.2,2.2 0 1,0 4.4,0a2.2,2.2 0 1,0 -4.4,0M455.5,675.2a2.2,2.2 0 1,0 4.4,0a2.2,2.2 0 1,0 -4.4,0M468.3,727.3a2.2,2.2 0 1,0 4.4,0a2.2,2.2 0 1,0 -4.4,0M487.9,729.7a2.2,2.2 0 1,0 4.4,0a2.2,2.2 0 1,0 -4.4,0M519.3,732.5a2.2,2.2 0 1,0 4.4,0a2.2,2.2 0 1,0 -4.4,0M528.1,731.4a2.2,2.2 0 1,0 4.4,0a2.2,2.2 0 1,0 -4.4,0M542.6,741.6a2.2,2.2 0 1,0 4.4,0a2.2,2.2 0 1,0 -4.4,0M547.8,743.7a2.2,2.2 0 1,0 4.4,0a2.2,2.2 0 1,0 -4.4,0M549.9,748.2a2.2,2.2 0 1,0 4.4,0a2.2,2.2 0 1,0 -4.4,0M543.8,735.5a2.2,2.2 0 1,0 4.4,0a2.2,2.2 0 1,0 -4.4,0M556.9,738.1a2.2,2.2 0 1,0 4.4,0a2.2,2.2 0 1,0 -4.4,0M565.6,753.5a2.2,2.2 0 1,0 4.4,0a2.2,2.2 0 1,0 -4.4,0M570,745.4a2.2,2.2 0 1,0 4.4,0a2.2,2.2 0 1,0 -4.4,0M563.9,739.8a2.2,2.2 0 1,0 4.4,0a2.2,2.2 0 1,0 -4.4,0M567.4,738.1a2.2,2.2 0 1,0 4.4,0a2.2,2.2 0 1,0 -4.4,0M575.2,731.1a2.2,2.2 0 1,0 4.4,0a2.2,2.2 0 1,0 -4.4,0" stroke="#3f55ad" stroke-width="1.1" fill="none"/><path d="M456.9,702.8 L461.9,703.3 L467,703.7 L472,704.1 L477.1,704.5 L482.2,704.8 L487.2,705.1 L492.3,705.4 L497.3,705.6 L502.4,705.8 L507.5,705.9 L512.5,706.1 L517.6,706.1 L522.6,706.2 L527.7,706.2 L532.8,706.2 L537.8,706.1 L542.9,706 L547.9,705.9 L553,705.7 L558.1,705.5 L563.1,705.3 L568.2,705 L573.3,704.7 L578.3,704.4" stroke="#b02c64" stroke-width="1.6" fill="none" stroke-linejoin="round"/></g><rect x="449.3" y="628" width="136.2" height="133.3" fill="none" stroke="#484848" stroke-width="1.2"/><path d="M472,761.3v4M472,628v-4M504.5,761.3v4M504.5,628v-4M537.1,761.3v4M537.1,628v-4M569.6,761.3v4M569.6,628v-4M449.3,745.5h-4M585.5,745.5h4M449.3,705h-4M585.5,705h4M449.3,664.5h-4M585.5,664.5h4" stroke="#484848" stroke-width="1.2" fill="none"/><text x="472" y="777.3" text-anchor="middle" class="t">80</text><text x="504.5" y="777.3" text-anchor="middle" class="t">85</text><text x="537.1" y="777.3" text-anchor="middle" class="t">90</text><text x="569.6" y="777.3" text-anchor="middle" class="t">95</text><text x="443.3" y="749.5" text-anchor="end" class="t">-5</text><text x="443.3" y="709" text-anchor="end" class="t">0</text><text x="443.3" y="668.5" text-anchor="end" class="t">5</text><text x="517.4" y="795.6" text-anchor="middle" class="a">Population predictions</text><clipPath id="cP16"><rect x="636.4" y="628" width="135.6" height="133.2"/></clipPath><g clip-path="url(#cP16)"><path d="M636,704.3L772,704.3" stroke="#333" stroke-width="1" fill="none"/><path d="M643.5,689.8 L645.2,689.6 L646.8,681.3 L648.4,684.3 L650,677.7 L651.6,676.1 L653.2,677.1 L654.8,671.5 L656.4,676.8 L658,674.9 L659.7,672.4 L661.3,670.8 L662.9,670.6 L664.5,670.9 L666.1,671.5 L667.7,674.5 L669.3,673.9 L670.9,669.8 L672.5,676.6 L674.2,674.4 L675.8,675.9 L677.4,676.2 L679,672.7 L680.6,672.5 L682.2,668.2 L683.8,672.6 L685.4,674.6 L687.1,679.8 L688.7,681.9 L690.3,681.5 L691.9,680.3 L693.5,678.6 L695.1,681.5 L696.7,679.4 L698.3,677.1 L699.9,676.7 L701.6,677.2 L703.2,676.1 L704.8,674.5 L706.4,676.3 L708,672.2 L709.6,672 L711.2,676.7 L712.8,678.6 L714.4,677 L716.1,676.3 L717.7,675.3 L719.3,671.3 L720.9,678.4 L722.5,679.5 L724.1,682.6 L725.7,686.6 L727.3,688.1 L727.3,721.6 L725.7,722.3 L724.1,720 L722.5,723.2 L720.9,728.4 L719.3,730.3 L717.7,733.5 L716.1,729.3 L714.4,731.3 L712.8,734.2 L711.2,730.1 L709.6,730.9 L708,728.2 L706.4,728.2 L704.8,727.4 L703.2,727 L701.6,728.3 L699.9,729.7 L698.3,726.2 L696.7,725.1 L695.1,726.7 L693.5,726.7 L691.9,725.3 L690.3,725.3 L688.7,727.4 L687.1,729.4 L685.4,734.5 L683.8,728.8 L682.2,730.6 L680.6,731.3 L679,731 L677.4,731.9 L675.8,733.3 L674.2,739.5 L672.5,736.2 L670.9,735.3 L669.3,736.3 L667.7,740.7 L666.1,737 L664.5,738.4 L662.9,736.2 L661.3,737.1 L659.7,739.3 L658,734.2 L656.4,737.7 L654.8,732.2 L653.2,731.6 L651.6,732.3 L650,730.6 L648.4,732.8 L646.8,725.4 L645.2,723.2 L643.5,718.6Z" fill="#1a449a" stroke="#1a449a" stroke-width="0.5"/><path d="M727.1,693 L729.2,693 L729.2,718.2 L727.1,721.3Z" fill="#1a449a" stroke="#1a449a" stroke-width="0.5"/><path d="M730.6,695.2 L732.5,694 L732.5,717.9 L730.6,718.4Z" fill="#1a449a" stroke="#1a449a" stroke-width="0.5"/><path d="M733.4,695.3 L734.8,695.1 L736.3,691.9 L736.3,717.6 L734.8,713 L733.4,713.8Z" fill="#1a449a" stroke="#1a449a" stroke-width="0.5"/><path d="M737.2,700.3 L738.7,700.3 L740.2,700.4 L740.2,720.1 L738.7,718.9 L737.2,718.5Z" fill="#1a449a" stroke="#1a449a" stroke-width="0.5"/><path d="M740.2,693.8 L742,698.7 L742,721.2 L740.2,722.9Z" fill="#1a449a" stroke="#1a449a" stroke-width="0.5"/><path d="M743.4,700.7 L744.8,700 L746.1,695.4 L746.1,719.6 L744.8,719.8 L743.4,722.8Z" fill="#1a449a" stroke="#1a449a" stroke-width="0.5"/><path d="M747.2,697.7 L748.6,692 L750.1,695.8 L750.1,719.3 L748.6,720 L747.2,720.7Z" fill="#1a449a" stroke="#1a449a" stroke-width="0.5"/><path d="M750.4,692.1 L751.9,694.7 L751.9,717.2 L750.4,716Z" fill="#1a449a" stroke="#1a449a" stroke-width="0.5"/><path d="M753.7,693 L755.3,696.3 L756.9,695.8 L756.9,716.6 L755.3,715.3 L753.7,714.6Z" fill="#1a449a" stroke="#1a449a" stroke-width="0.5"/><path d="M757,694.3 L758.4,693.6 L758.4,722 L757,721.3Z" fill="#1a449a" stroke="#1a449a" stroke-width="0.5"/><path d="M760.3,698.8 L761.7,695.3 L763,698.9 L763,722.8 L761.7,721.2 L760.3,726.4Z" fill="#1a449a" stroke="#1a449a" stroke-width="0.5"/><path d="M652.1,673.2L651.6,677.6M688.5,731.7L688.7,725.9M679.9,668.7L680.6,674M685.3,670.2L685.4,676.1M725.4,683.3L725.7,688.1M723.5,723.7L724.1,718.5M653.3,673L653.2,678.6M706.6,672.2L706.4,677.8M646.6,677L646.8,682.8M665.6,668.5L666.1,673M647.1,677.9L646.8,682.8M682.9,665.9L682.2,669.7M708.6,732.4L708,726.7M704.8,730.4L704.8,725.9M684.6,732.9L683.8,727.3M642.9,687.1L643.5,691.3M691.9,729.3L691.9,723.8M654.4,667.2L654.8,673M726.4,682.1L725.7,688.1M703.5,730.9L703.2,725.5M694.3,678.4L695.1,683M649,680.8L648.4,685.8M646.3,678.7L646.8,682.8M699.7,672.9L699.9,678.2M691.8,676.8L691.9,681.8M657.3,654.4L657.3,676.6M677.1,658.4L677.1,674.8M706.6,635.5L705.4,673.1M708.9,638.4L708.9,673.1M714.1,635.5L714.1,676.6M701.9,660.6L701.9,674.8M693.2,666.5L693.2,680M763.5,694.3L763.5,704.3M672.4,752.9L672.4,733.8M657.7,747.7L657.7,733.8" stroke="#2a48a6" stroke-width="1.1" fill="none"/><path d="M642.9,689.8a2.2,2.2 0 1,0 4.4,0a2.2,2.2 0 1,0 -4.4,0M647.9,677.5a2.2,2.2 0 1,0 4.4,0a2.2,2.2 0 1,0 -4.4,0M657.2,672.6a2.2,2.2 0 1,0 4.4,0a2.2,2.2 0 1,0 -4.4,0M659.4,671.1a2.2,2.2 0 1,0 4.4,0a2.2,2.2 0 1,0 -4.4,0M661,670.9a2.2,2.2 0 1,0 4.4,0a2.2,2.2 0 1,0 -4.4,0M663.9,671.3a2.2,2.2 0 1,0 4.4,0a2.2,2.2 0 1,0 -4.4,0M665.4,674.4a2.2,2.2 0 1,0 4.4,0a2.2,2.2 0 1,0 -4.4,0M681.6,672.9a2.2,2.2 0 1,0 4.4,0a2.2,2.2 0 1,0 -4.4,0M685,680a2.2,2.2 0 1,0 4.4,0a2.2,2.2 0 1,0 -4.4,0M688.2,681.6a2.2,2.2 0 1,0 4.4,0a2.2,2.2 0 1,0 -4.4,0M689.8,680.6a2.2,2.2 0 1,0 4.4,0a2.2,2.2 0 1,0 -4.4,0M691.5,678.9a2.2,2.2 0 1,0 4.4,0a2.2,2.2 0 1,0 -4.4,0M693.3,681.3a2.2,2.2 0 1,0 4.4,0a2.2,2.2 0 1,0 -4.4,0M694.4,679.4a2.2,2.2 0 1,0 4.4,0a2.2,2.2 0 1,0 -4.4,0M700.7,675.9a2.2,2.2 0 1,0 4.4,0a2.2,2.2 0 1,0 -4.4,0M702.9,674.4a2.2,2.2 0 1,0 4.4,0a2.2,2.2 0 1,0 -4.4,0M704,676a2.2,2.2 0 1,0 4.4,0a2.2,2.2 0 1,0 -4.4,0M705.7,672.3a2.2,2.2 0 1,0 4.4,0a2.2,2.2 0 1,0 -4.4,0M710.8,678.6a2.2,2.2 0 1,0 4.4,0a2.2,2.2 0 1,0 -4.4,0M715.6,675.2a2.2,2.2 0 1,0 4.4,0a2.2,2.2 0 1,0 -4.4,0M718.9,678.2a2.2,2.2 0 1,0 4.4,0a2.2,2.2 0 1,0 -4.4,0M721.9,682.8a2.2,2.2 0 1,0 4.4,0a2.2,2.2 0 1,0 -4.4,0M641.4,718.8a2.2,2.2 0 1,0 4.4,0a2.2,2.2 0 1,0 -4.4,0M649.5,732.5a2.2,2.2 0 1,0 4.4,0a2.2,2.2 0 1,0 -4.4,0M651.3,731.6a2.2,2.2 0 1,0 4.4,0a2.2,2.2 0 1,0 -4.4,0M654.5,737.9a2.2,2.2 0 1,0 4.4,0a2.2,2.2 0 1,0 -4.4,0M657.7,739.6a2.2,2.2 0 1,0 4.4,0a2.2,2.2 0 1,0 -4.4,0M659,736.8a2.2,2.2 0 1,0 4.4,0a2.2,2.2 0 1,0 -4.4,0M660.7,736.2a2.2,2.2 0 1,0 4.4,0a2.2,2.2 0 1,0 -4.4,0M662.4,738.5a2.2,2.2 0 1,0 4.4,0a2.2,2.2 0 1,0 -4.4,0M664.1,737.2a2.2,2.2 0 1,0 4.4,0a2.2,2.2 0 1,0 -4.4,0M667.2,736.1a2.2,2.2 0 1,0 4.4,0a2.2,2.2 0 1,0 -4.4,0M668.8,735.4a2.2,2.2 0 1,0 4.4,0a2.2,2.2 0 1,0 -4.4,0M670.2,736.1a2.2,2.2 0 1,0 4.4,0a2.2,2.2 0 1,0 -4.4,0M673.2,733.1a2.2,2.2 0 1,0 4.4,0a2.2,2.2 0 1,0 -4.4,0M678.7,731.3a2.2,2.2 0 1,0 4.4,0a2.2,2.2 0 1,0 -4.4,0M680,730.3a2.2,2.2 0 1,0 4.4,0a2.2,2.2 0 1,0 -4.4,0M683.1,734.6a2.2,2.2 0 1,0 4.4,0a2.2,2.2 0 1,0 -4.4,0M684.7,729.5a2.2,2.2 0 1,0 4.4,0a2.2,2.2 0 1,0 -4.4,0M688.3,725.6a2.2,2.2 0 1,0 4.4,0a2.2,2.2 0 1,0 -4.4,0M689.5,725.5a2.2,2.2 0 1,0 4.4,0a2.2,2.2 0 1,0 -4.4,0M693.2,726.9a2.2,2.2 0 1,0 4.4,0a2.2,2.2 0 1,0 -4.4,0M696.3,726.1a2.2,2.2 0 1,0 4.4,0a2.2,2.2 0 1,0 -4.4,0M697.5,729.9a2.2,2.2 0 1,0 4.4,0a2.2,2.2 0 1,0 -4.4,0M699.5,728.3a2.2,2.2 0 1,0 4.4,0a2.2,2.2 0 1,0 -4.4,0M704.5,728.2a2.2,2.2 0 1,0 4.4,0a2.2,2.2 0 1,0 -4.4,0M707.8,730.9a2.2,2.2 0 1,0 4.4,0a2.2,2.2 0 1,0 -4.4,0M708.8,730.1a2.2,2.2 0 1,0 4.4,0a2.2,2.2 0 1,0 -4.4,0M710.9,734a2.2,2.2 0 1,0 4.4,0a2.2,2.2 0 1,0 -4.4,0M712.3,731a2.2,2.2 0 1,0 4.4,0a2.2,2.2 0 1,0 -4.4,0M715.4,733.7a2.2,2.2 0 1,0 4.4,0a2.2,2.2 0 1,0 -4.4,0M717.2,730.4a2.2,2.2 0 1,0 4.4,0a2.2,2.2 0 1,0 -4.4,0M718.8,728.1a2.2,2.2 0 1,0 4.4,0a2.2,2.2 0 1,0 -4.4,0M721.7,719.9a2.2,2.2 0 1,0 4.4,0a2.2,2.2 0 1,0 -4.4,0M723.3,722.2a2.2,2.2 0 1,0 4.4,0a2.2,2.2 0 1,0 -4.4,0M649.9,673.2a2.2,2.2 0 1,0 4.4,0a2.2,2.2 0 1,0 -4.4,0M686.3,731.7a2.2,2.2 0 1,0 4.4,0a2.2,2.2 0 1,0 -4.4,0M677.7,668.7a2.2,2.2 0 1,0 4.4,0a2.2,2.2 0 1,0 -4.4,0M683.1,670.2a2.2,2.2 0 1,0 4.4,0a2.2,2.2 0 1,0 -4.4,0M723.2,683.3a2.2,2.2 0 1,0 4.4,0a2.2,2.2 0 1,0 -4.4,0M721.3,723.7a2.2,2.2 0 1,0 4.4,0a2.2,2.2 0 1,0 -4.4,0M651.1,673a2.2,2.2 0 1,0 4.4,0a2.2,2.2 0 1,0 -4.4,0M704.4,672.2a2.2,2.2 0 1,0 4.4,0a2.2,2.2 0 1,0 -4.4,0M644.4,677a2.2,2.2 0 1,0 4.4,0a2.2,2.2 0 1,0 -4.4,0M663.4,668.5a2.2,2.2 0 1,0 4.4,0a2.2,2.2 0 1,0 -4.4,0M644.9,677.9a2.2,2.2 0 1,0 4.4,0a2.2,2.2 0 1,0 -4.4,0M680.7,665.9a2.2,2.2 0 1,0 4.4,0a2.2,2.2 0 1,0 -4.4,0M706.4,732.4a2.2,2.2 0 1,0 4.4,0a2.2,2.2 0 1,0 -4.4,0M702.6,730.4a2.2,2.2 0 1,0 4.4,0a2.2,2.2 0 1,0 -4.4,0M682.4,732.9a2.2,2.2 0 1,0 4.4,0a2.2,2.2 0 1,0 -4.4,0M640.7,687.1a2.2,2.2 0 1,0 4.4,0a2.2,2.2 0 1,0 -4.4,0M689.7,729.3a2.2,2.2 0 1,0 4.4,0a2.2,2.2 0 1,0 -4.4,0M652.2,667.2a2.2,2.2 0 1,0 4.4,0a2.2,2.2 0 1,0 -4.4,0M724.2,682.1a2.2,2.2 0 1,0 4.4,0a2.2,2.2 0 1,0 -4.4,0M701.3,730.9a2.2,2.2 0 1,0 4.4,0a2.2,2.2 0 1,0 -4.4,0M692.1,678.4a2.2,2.2 0 1,0 4.4,0a2.2,2.2 0 1,0 -4.4,0M646.8,680.8a2.2,2.2 0 1,0 4.4,0a2.2,2.2 0 1,0 -4.4,0M644.1,678.7a2.2,2.2 0 1,0 4.4,0a2.2,2.2 0 1,0 -4.4,0M697.5,672.9a2.2,2.2 0 1,0 4.4,0a2.2,2.2 0 1,0 -4.4,0M689.6,676.8a2.2,2.2 0 1,0 4.4,0a2.2,2.2 0 1,0 -4.4,0M642.1,691.8a2.2,2.2 0 1,0 4.4,0a2.2,2.2 0 1,0 -4.4,0M642.6,695.3a2.2,2.2 0 1,0 4.4,0a2.2,2.2 0 1,0 -4.4,0M642.4,698.8a2.2,2.2 0 1,0 4.4,0a2.2,2.2 0 1,0 -4.4,0M642.3,709.3a2.2,2.2 0 1,0 4.4,0a2.2,2.2 0 1,0 -4.4,0M641.9,712.8a2.2,2.2 0 1,0 4.4,0a2.2,2.2 0 1,0 -4.4,0M723.7,690.1a2.2,2.2 0 1,0 4.4,0a2.2,2.2 0 1,0 -4.4,0M724.8,693.6a2.2,2.2 0 1,0 4.4,0a2.2,2.2 0 1,0 -4.4,0M723.8,697.1a2.2,2.2 0 1,0 4.4,0a2.2,2.2 0 1,0 -4.4,0M724.4,704.1a2.2,2.2 0 1,0 4.4,0a2.2,2.2 0 1,0 -4.4,0M724.1,707.6a2.2,2.2 0 1,0 4.4,0a2.2,2.2 0 1,0 -4.4,0M724.3,711.1a2.2,2.2 0 1,0 4.4,0a2.2,2.2 0 1,0 -4.4,0M724.7,718.1a2.2,2.2 0 1,0 4.4,0a2.2,2.2 0 1,0 -4.4,0M724.8,692.8a2.2,2.2 0 1,0 4.4,0a2.2,2.2 0 1,0 -4.4,0M730.4,693.8a2.2,2.2 0 1,0 4.4,0a2.2,2.2 0 1,0 -4.4,0M728,718.5a2.2,2.2 0 1,0 4.4,0a2.2,2.2 0 1,0 -4.4,0M734,691.8a2.2,2.2 0 1,0 4.4,0a2.2,2.2 0 1,0 -4.4,0M731,714a2.2,2.2 0 1,0 4.4,0a2.2,2.2 0 1,0 -4.4,0M732.7,712.8a2.2,2.2 0 1,0 4.4,0a2.2,2.2 0 1,0 -4.4,0M734.9,700.4a2.2,2.2 0 1,0 4.4,0a2.2,2.2 0 1,0 -4.4,0M736.3,700.6a2.2,2.2 0 1,0 4.4,0a2.2,2.2 0 1,0 -4.4,0M735,718.6a2.2,2.2 0 1,0 4.4,0a2.2,2.2 0 1,0 -4.4,0M737.9,720a2.2,2.2 0 1,0 4.4,0a2.2,2.2 0 1,0 -4.4,0M738.3,693.7a2.2,2.2 0 1,0 4.4,0a2.2,2.2 0 1,0 -4.4,0M739.7,699a2.2,2.2 0 1,0 4.4,0a2.2,2.2 0 1,0 -4.4,0M740,720.9a2.2,2.2 0 1,0 4.4,0a2.2,2.2 0 1,0 -4.4,0M741.3,700.9a2.2,2.2 0 1,0 4.4,0a2.2,2.2 0 1,0 -4.4,0M742.7,699.7a2.2,2.2 0 1,0 4.4,0a2.2,2.2 0 1,0 -4.4,0M742.7,720a2.2,2.2 0 1,0 4.4,0a2.2,2.2 0 1,0 -4.4,0M744.2,719.3a2.2,2.2 0 1,0 4.4,0a2.2,2.2 0 1,0 -4.4,0M744.7,697.8a2.2,2.2 0 1,0 4.4,0a2.2,2.2 0 1,0 -4.4,0M748,695.8a2.2,2.2 0 1,0 4.4,0a2.2,2.2 0 1,0 -4.4,0M744.6,720.4a2.2,2.2 0 1,0 4.4,0a2.2,2.2 0 1,0 -4.4,0M747.8,719.3a2.2,2.2 0 1,0 4.4,0a2.2,2.2 0 1,0 -4.4,0M749.5,717.2a2.2,2.2 0 1,0 4.4,0a2.2,2.2 0 1,0 -4.4,0M751.2,693.1a2.2,2.2 0 1,0 4.4,0a2.2,2.2 0 1,0 -4.4,0M753.3,696.4a2.2,2.2 0 1,0 4.4,0a2.2,2.2 0 1,0 -4.4,0M751.7,714.8a2.2,2.2 0 1,0 4.4,0a2.2,2.2 0 1,0 -4.4,0M754.6,721.1a2.2,2.2 0 1,0 4.4,0a2.2,2.2 0 1,0 -4.4,0M758.1,698.5a2.2,2.2 0 1,0 4.4,0a2.2,2.2 0 1,0 -4.4,0M758.2,726.5a2.2,2.2 0 1,0 4.4,0a2.2,2.2 0 1,0 -4.4,0M655.1,654.4a2.2,2.2 0 1,0 4.4,0a2.2,2.2 0 1,0 -4.4,0M674.9,658.4a2.2,2.2 0 1,0 4.4,0a2.2,2.2 0 1,0 -4.4,0M704.4,635.5a2.2,2.2 0 1,0 4.4,0a2.2,2.2 0 1,0 -4.4,0M706.7,638.4a2.2,2.2 0 1,0 4.4,0a2.2,2.2 0 1,0 -4.4,0M711.9,635.5a2.2,2.2 0 1,0 4.4,0a2.2,2.2 0 1,0 -4.4,0M699.7,660.6a2.2,2.2 0 1,0 4.4,0a2.2,2.2 0 1,0 -4.4,0M691,666.5a2.2,2.2 0 1,0 4.4,0a2.2,2.2 0 1,0 -4.4,0M682,664.1a2.2,2.2 0 1,0 4.4,0a2.2,2.2 0 1,0 -4.4,0M680.3,667a2.2,2.2 0 1,0 4.4,0a2.2,2.2 0 1,0 -4.4,0M661.6,663.6a2.2,2.2 0 1,0 4.4,0a2.2,2.2 0 1,0 -4.4,0M665.9,665.8a2.2,2.2 0 1,0 4.4,0a2.2,2.2 0 1,0 -4.4,0M719.3,664.4a2.2,2.2 0 1,0 4.4,0a2.2,2.2 0 1,0 -4.4,0M717.1,669.6a2.2,2.2 0 1,0 4.4,0a2.2,2.2 0 1,0 -4.4,0M650.3,671.4a2.2,2.2 0 1,0 4.4,0a2.2,2.2 0 1,0 -4.4,0M725.7,684.9a2.2,2.2 0 1,0 4.4,0a2.2,2.2 0 1,0 -4.4,0M761.3,694.3a2.2,2.2 0 1,0 4.4,0a2.2,2.2 0 1,0 -4.4,0M753.5,689.6a2.2,2.2 0 1,0 4.4,0a2.2,2.2 0 1,0 -4.4,0M748.3,691.3a2.2,2.2 0 1,0 4.4,0a2.2,2.2 0 1,0 -4.4,0M670.2,752.9a2.2,2.2 0 1,0 4.4,0a2.2,2.2 0 1,0 -4.4,0M655.5,747.7a2.2,2.2 0 1,0 4.4,0a2.2,2.2 0 1,0 -4.4,0M716.5,737.6a2.2,2.2 0 1,0 4.4,0a2.2,2.2 0 1,0 -4.4,0M761.3,726a2.2,2.2 0 1,0 4.4,0a2.2,2.2 0 1,0 -4.4,0M757,723.4a2.2,2.2 0 1,0 4.4,0a2.2,2.2 0 1,0 -4.4,0M742.2,719.9a2.2,2.2 0 1,0 4.4,0a2.2,2.2 0 1,0 -4.4,0M646.5,731.7a2.2,2.2 0 1,0 4.4,0a2.2,2.2 0 1,0 -4.4,0M652.5,737.6a2.2,2.2 0 1,0 4.4,0a2.2,2.2 0 1,0 -4.4,0M665,743.4a2.2,2.2 0 1,0 4.4,0a2.2,2.2 0 1,0 -4.4,0" stroke="#3f55ad" stroke-width="1.1" fill="none"/><path d="M643.8,703.5 L648.8,703.7 L653.7,703.8 L658.7,704 L663.6,704.2 L668.6,704.3 L673.5,704.5 L678.5,704.6 L683.4,704.7 L688.4,704.9 L693.3,705 L698.3,705 L703.2,705.1 L708.2,705.2 L713.1,705.2 L718.1,705.3 L723,705.3 L728,705.3 L732.9,705.4 L737.9,705.4 L742.8,705.3 L747.8,705.3 L752.7,705.3 L757.7,705.2 L762.6,705.2" stroke="#b02c64" stroke-width="1.6" fill="none" stroke-linejoin="round"/></g><rect x="636.4" y="628" width="135.6" height="133.2" fill="none" stroke="#484848" stroke-width="1.2"/><path d="M656.7,761.2v4M656.7,628v-4M692.8,761.2v4M692.8,628v-4M728.9,761.2v4M728.9,628v-4M765,761.2v4M765,628v-4M636.4,745.3h-4M772,745.3h4M636.4,704.7h-4M772,704.7h4M636.4,664.1h-4M772,664.1h4" stroke="#484848" stroke-width="1.2" fill="none"/><text x="656.7" y="777.2" text-anchor="middle" class="t">0.5</text><text x="692.8" y="777.2" text-anchor="middle" class="t">1.0</text><text x="728.9" y="777.2" text-anchor="middle" class="t">1.5</text><text x="765" y="777.2" text-anchor="middle" class="t">2.0</text><text x="630.4" y="749.3" text-anchor="end" class="t">-5</text><text x="630.4" y="708.7" text-anchor="end" class="t">0</text><text x="630.4" y="668.1" text-anchor="end" class="t">5</text><text x="710.2" y="795.5" text-anchor="middle" class="a">Time</text><text x="201.7" y="10" text-anchor="middle" class="a" textLength="147" lengthAdjust="spacingAndGlyphs">Basic goodness-of-fit plots (SBP)</text><text x="610.3" y="10.3" text-anchor="middle" class="a" textLength="147.6" lengthAdjust="spacingAndGlyphs">Basic goodness-of-fit plots (DBP)</text><text x="199.8" y="417.2" text-anchor="middle" class="a" textLength="147.4" lengthAdjust="spacingAndGlyphs">Basic goodness-of-fit plots (SBP)</text><text x="610.6" y="417.4" text-anchor="middle" class="a" textLength="148.3" lengthAdjust="spacingAndGlyphs">Basic goodness-of-fit plots (DBP)</text><text transform="translate(12.8,102) rotate(-90)" text-anchor="middle" class="a">Observations</text><text transform="translate(416.6,101.8) rotate(-90)" text-anchor="middle" class="a">Observations</text><text transform="translate(13,507.5) rotate(-90)" text-anchor="middle" class="a">Observations</text><text transform="translate(415.2,508.6) rotate(-90)" text-anchor="middle" class="a">Observations</text><text transform="translate(10,283.3) rotate(-90)" text-anchor="middle" class="a">Conditional weighted</text><text transform="translate(23,283.8) rotate(-90)" text-anchor="middle" class="a">residuals</text><text transform="translate(413.5,287.3) rotate(-90)" text-anchor="middle" class="a">Conditional weighted</text><text transform="translate(425.5,287) rotate(-90)" text-anchor="middle" class="a">residuals</text><text transform="translate(11.8,695.6) rotate(-90)" text-anchor="middle" class="a">Conditional weighted</text><text transform="translate(24,695.2) rotate(-90)" text-anchor="middle" class="a">residuals</text><text transform="translate(416,698) rotate(-90)" text-anchor="middle" class="a">Conditional weighted</text><text transform="translate(427.7,698) rotate(-90)" text-anchor="middle" class="a">residuals</text></svg></body></html>
